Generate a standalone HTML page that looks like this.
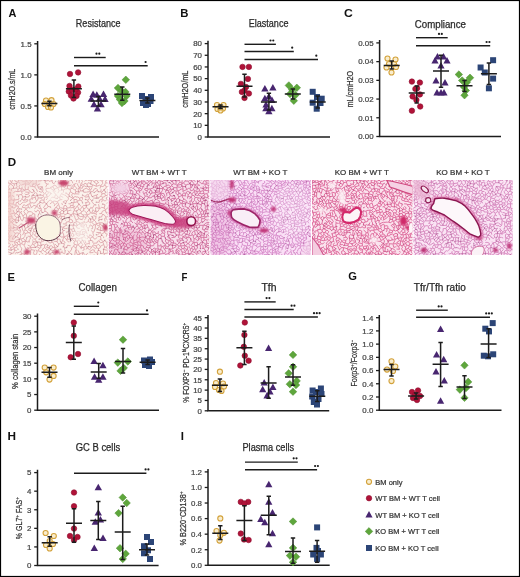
<!DOCTYPE html>
<html><head><meta charset="utf-8"><style>
html,body{margin:0;padding:0;background:#fff;}
svg{display:block;will-change:transform;}
text{font-family:"Liberation Sans", sans-serif;}
</style></head><body>
<svg width="520" height="577" viewBox="0 0 520 577" font-family='"Liberation Sans", sans-serif'>
<rect x="0.5" y="0.5" width="519" height="576" fill="#fff" stroke="#000" stroke-width="1.2"/>
<path d="M37.6,41.0V137H159" fill="none" stroke="#1c1c1c" stroke-width="1.5"/>
<path d="M34.3,43.80H37.6" stroke="#1c1c1c" stroke-width="1.3"/>
<text x="31.6" y="46.65" font-size="7.9" text-anchor="end" font-weight="normal" fill="#444444" stroke="#444444" stroke-width="0.22" >1.5</text>
<path d="M34.3,74.87H37.6" stroke="#1c1c1c" stroke-width="1.3"/>
<text x="31.6" y="77.72" font-size="7.9" text-anchor="end" font-weight="normal" fill="#444444" stroke="#444444" stroke-width="0.22" >1.0</text>
<path d="M34.3,105.93H37.6" stroke="#1c1c1c" stroke-width="1.3"/>
<text x="31.6" y="108.78" font-size="7.9" text-anchor="end" font-weight="normal" fill="#444444" stroke="#444444" stroke-width="0.22" >0.5</text>
<path d="M34.3,137.00H37.6" stroke="#1c1c1c" stroke-width="1.3"/>
<text x="31.6" y="139.85" font-size="7.9" text-anchor="end" font-weight="normal" fill="#444444" stroke="#444444" stroke-width="0.22" >0.0</text>
<text transform="translate(14.7,89.3) rotate(-90)" x="0" y="0" font-size="8.3" text-anchor="middle" fill="#333" stroke="#333" stroke-width="0.22" textLength="41.0" lengthAdjust="spacingAndGlyphs">cmH2O.s/mL</text>
<text x="98.2" y="27" font-size="10" text-anchor="middle" fill="#2a2a2a" stroke="#2a2a2a" stroke-width="0.25" textLength="44.7" lengthAdjust="spacingAndGlyphs">Resistance</text>
<text x="8.4" y="16.9" font-size="10.2" font-weight="bold" fill="#111" textLength="7.9" lengthAdjust="spacingAndGlyphs">A</text>
<circle cx="46.0" cy="100.5" r="2.55" fill="#f3dc9c" fill-opacity="0.5" stroke="#d3a23c" stroke-width="1.1"/>
<circle cx="51.5" cy="100.2" r="2.55" fill="#f3dc9c" fill-opacity="0.5" stroke="#d3a23c" stroke-width="1.1"/>
<circle cx="44.8" cy="104.0" r="2.55" fill="#f3dc9c" fill-opacity="0.5" stroke="#d3a23c" stroke-width="1.1"/>
<circle cx="53.5" cy="104.0" r="2.55" fill="#f3dc9c" fill-opacity="0.5" stroke="#d3a23c" stroke-width="1.1"/>
<circle cx="48.0" cy="107.0" r="2.55" fill="#f3dc9c" fill-opacity="0.5" stroke="#d3a23c" stroke-width="1.1"/>
<circle cx="51.0" cy="107.5" r="2.55" fill="#f3dc9c" fill-opacity="0.5" stroke="#d3a23c" stroke-width="1.1"/>
<circle cx="70.0" cy="74.0" r="2.75" fill="#b01338" stroke="#8e0e30" stroke-width="0.6"/>
<circle cx="78.1" cy="72.4" r="2.75" fill="#b01338" stroke="#8e0e30" stroke-width="0.6"/>
<circle cx="69.5" cy="86.0" r="2.75" fill="#b01338" stroke="#8e0e30" stroke-width="0.6"/>
<circle cx="78.3" cy="86.5" r="2.75" fill="#b01338" stroke="#8e0e30" stroke-width="0.6"/>
<circle cx="68.8" cy="91.5" r="2.75" fill="#b01338" stroke="#8e0e30" stroke-width="0.6"/>
<circle cx="78.0" cy="92.5" r="2.75" fill="#b01338" stroke="#8e0e30" stroke-width="0.6"/>
<circle cx="71.0" cy="95.5" r="2.75" fill="#b01338" stroke="#8e0e30" stroke-width="0.6"/>
<circle cx="76.5" cy="96.0" r="2.75" fill="#b01338" stroke="#8e0e30" stroke-width="0.6"/>
<circle cx="73.5" cy="98.5" r="2.75" fill="#b01338" stroke="#8e0e30" stroke-width="0.6"/>
<circle cx="72.0" cy="90.0" r="2.75" fill="#b01338" stroke="#8e0e30" stroke-width="0.6"/>
<circle cx="75.5" cy="89.5" r="2.75" fill="#b01338" stroke="#8e0e30" stroke-width="0.6"/>
<path d="M93.1,90.5L96.8,97.0L89.4,97.0Z" fill="#482670"/>
<path d="M96.8,91.3L100.5,97.8L93.1,97.8Z" fill="#482670"/>
<path d="M103.5,90.5L107.2,97.0L99.8,97.0Z" fill="#482670"/>
<path d="M91.3,95.3L95.0,101.8L87.6,101.8Z" fill="#482670"/>
<path d="M99.5,95.1L103.2,101.6L95.8,101.6Z" fill="#482670"/>
<path d="M105.0,95.6L108.7,102.1L101.3,102.1Z" fill="#482670"/>
<path d="M94.0,100.7L97.7,107.2L90.3,107.2Z" fill="#482670"/>
<path d="M101.0,100.7L104.7,107.2L97.3,107.2Z" fill="#482670"/>
<path d="M97.4,105.0L101.1,111.5L93.8,111.5Z" fill="#482670"/>
<path d="M125.8,76.0L129.6,79.8L125.8,83.5L122.0,79.8Z" fill="#5ea63c" stroke="#4e8e32" stroke-width="0.5"/>
<path d="M118.0,84.2L121.8,88.0L118.0,91.8L114.2,88.0Z" fill="#5ea63c" stroke="#4e8e32" stroke-width="0.5"/>
<path d="M121.5,87.2L125.2,91.0L121.5,94.8L117.8,91.0Z" fill="#5ea63c" stroke="#4e8e32" stroke-width="0.5"/>
<path d="M125.5,88.2L129.2,92.0L125.5,95.8L121.8,92.0Z" fill="#5ea63c" stroke="#4e8e32" stroke-width="0.5"/>
<path d="M118.0,92.2L121.8,96.0L118.0,99.8L114.2,96.0Z" fill="#5ea63c" stroke="#4e8e32" stroke-width="0.5"/>
<path d="M126.5,92.2L130.2,96.0L126.5,99.8L122.8,96.0Z" fill="#5ea63c" stroke="#4e8e32" stroke-width="0.5"/>
<path d="M120.0,95.8L123.8,99.5L120.0,103.2L116.2,99.5Z" fill="#5ea63c" stroke="#4e8e32" stroke-width="0.5"/>
<path d="M124.5,97.2L128.2,101.0L124.5,104.8L120.8,101.0Z" fill="#5ea63c" stroke="#4e8e32" stroke-width="0.5"/>
<path d="M122.0,99.2L125.8,103.0L122.0,106.8L118.2,103.0Z" fill="#5ea63c" stroke="#4e8e32" stroke-width="0.5"/>
<rect x="139.0" y="93.0" width="6.0" height="6.0" fill="#2c4577"/>
<rect x="148.0" y="94.0" width="6.0" height="6.0" fill="#2c4577"/>
<rect x="142.5" y="96.0" width="6.0" height="6.0" fill="#2c4577"/>
<rect x="147.5" y="98.0" width="6.0" height="6.0" fill="#2c4577"/>
<rect x="140.0" y="100.0" width="6.0" height="6.0" fill="#2c4577"/>
<rect x="145.0" y="101.0" width="6.0" height="6.0" fill="#2c4577"/>
<rect x="143.0" y="102.0" width="6.0" height="6.0" fill="#2c4577"/>
<path d="M41.4,103.6H57.4M49.4,101.3V105.8M47.2,101.3H51.6M47.2,105.8H51.6" stroke="#1c1c1c" stroke-width="1.5" fill="none"/>
<path d="M65.9,88.7H81.9M73.9,80V97.5M71.7,80H76.1M71.7,97.5H76.1" stroke="#1c1c1c" stroke-width="1.5" fill="none"/>
<path d="M90.4,100.9H106.4M98.4,96.5V106M96.2,96.5H100.6M96.2,106H100.6" stroke="#1c1c1c" stroke-width="1.5" fill="none"/>
<path d="M114.3,94.2H130.3M122.3,87V100.2M120.1,87H124.5M120.1,100.2H124.5" stroke="#1c1c1c" stroke-width="1.5" fill="none"/>
<path d="M139.4,100.6H155.4M147.4,98V103M145.2,98H149.6M145.2,103H149.6" stroke="#1c1c1c" stroke-width="1.5" fill="none"/>
<path d="M74,57.5H105.7" stroke="#1c1c1c" stroke-width="1.4"/>
<circle cx="96.5" cy="53.7" r="1.1" fill="#1c1c1c"/>
<circle cx="99.3" cy="53.7" r="1.1" fill="#1c1c1c"/>
<path d="M74,65.8H147.7" stroke="#1c1c1c" stroke-width="1.4"/>
<circle cx="145.6" cy="62.0" r="1.1" fill="#1c1c1c"/>
<path d="M208,40.800000000000004V137H330" fill="none" stroke="#1c1c1c" stroke-width="1.5"/>
<path d="M204.7,43.60H208" stroke="#1c1c1c" stroke-width="1.3"/>
<text x="202.0" y="46.45" font-size="7.9" text-anchor="end" font-weight="normal" fill="#444444" stroke="#444444" stroke-width="0.22" >80</text>
<path d="M204.7,55.28H208" stroke="#1c1c1c" stroke-width="1.3"/>
<text x="202.0" y="58.13" font-size="7.9" text-anchor="end" font-weight="normal" fill="#444444" stroke="#444444" stroke-width="0.22" >70</text>
<path d="M204.7,66.95H208" stroke="#1c1c1c" stroke-width="1.3"/>
<text x="202.0" y="69.80" font-size="7.9" text-anchor="end" font-weight="normal" fill="#444444" stroke="#444444" stroke-width="0.22" >60</text>
<path d="M204.7,78.62H208" stroke="#1c1c1c" stroke-width="1.3"/>
<text x="202.0" y="81.47" font-size="7.9" text-anchor="end" font-weight="normal" fill="#444444" stroke="#444444" stroke-width="0.22" >50</text>
<path d="M204.7,90.30H208" stroke="#1c1c1c" stroke-width="1.3"/>
<text x="202.0" y="93.15" font-size="7.9" text-anchor="end" font-weight="normal" fill="#444444" stroke="#444444" stroke-width="0.22" >40</text>
<path d="M204.7,101.97H208" stroke="#1c1c1c" stroke-width="1.3"/>
<text x="202.0" y="104.82" font-size="7.9" text-anchor="end" font-weight="normal" fill="#444444" stroke="#444444" stroke-width="0.22" >30</text>
<path d="M204.7,113.65H208" stroke="#1c1c1c" stroke-width="1.3"/>
<text x="202.0" y="116.50" font-size="7.9" text-anchor="end" font-weight="normal" fill="#444444" stroke="#444444" stroke-width="0.22" >20</text>
<path d="M204.7,125.33H208" stroke="#1c1c1c" stroke-width="1.3"/>
<text x="202.0" y="128.18" font-size="7.9" text-anchor="end" font-weight="normal" fill="#444444" stroke="#444444" stroke-width="0.22" >10</text>
<path d="M204.7,137.00H208" stroke="#1c1c1c" stroke-width="1.3"/>
<text x="202.0" y="139.85" font-size="7.9" text-anchor="end" font-weight="normal" fill="#444444" stroke="#444444" stroke-width="0.22" >0</text>
<text transform="translate(187.8,89.1) rotate(-90)" x="0" y="0" font-size="8.3" text-anchor="middle" fill="#333" stroke="#333" stroke-width="0.22" textLength="37.1" lengthAdjust="spacingAndGlyphs">cmH2O/mL</text>
<text x="268.6" y="26.8" font-size="10" text-anchor="middle" fill="#2a2a2a" stroke="#2a2a2a" stroke-width="0.25" textLength="39.7" lengthAdjust="spacingAndGlyphs">Elastance</text>
<text x="180.3" y="16.6" font-size="10.2" font-weight="bold" fill="#111" textLength="8.2" lengthAdjust="spacingAndGlyphs">B</text>
<circle cx="217.0" cy="105.0" r="2.55" fill="#f3dc9c" fill-opacity="0.5" stroke="#d3a23c" stroke-width="1.1"/>
<circle cx="223.5" cy="105.0" r="2.55" fill="#f3dc9c" fill-opacity="0.5" stroke="#d3a23c" stroke-width="1.1"/>
<circle cx="220.0" cy="107.5" r="2.55" fill="#f3dc9c" fill-opacity="0.5" stroke="#d3a23c" stroke-width="1.1"/>
<circle cx="217.5" cy="109.0" r="2.55" fill="#f3dc9c" fill-opacity="0.5" stroke="#d3a23c" stroke-width="1.1"/>
<circle cx="223.0" cy="108.5" r="2.55" fill="#f3dc9c" fill-opacity="0.5" stroke="#d3a23c" stroke-width="1.1"/>
<circle cx="220.5" cy="110.5" r="2.55" fill="#f3dc9c" fill-opacity="0.5" stroke="#d3a23c" stroke-width="1.1"/>
<circle cx="242.5" cy="66.9" r="2.75" fill="#b01338" stroke="#8e0e30" stroke-width="0.6"/>
<circle cx="248.9" cy="66.9" r="2.75" fill="#b01338" stroke="#8e0e30" stroke-width="0.6"/>
<circle cx="247.9" cy="78.9" r="2.75" fill="#b01338" stroke="#8e0e30" stroke-width="0.6"/>
<circle cx="240.9" cy="83.9" r="2.75" fill="#b01338" stroke="#8e0e30" stroke-width="0.6"/>
<circle cx="246.0" cy="87.0" r="2.75" fill="#b01338" stroke="#8e0e30" stroke-width="0.6"/>
<circle cx="241.9" cy="91.9" r="2.75" fill="#b01338" stroke="#8e0e30" stroke-width="0.6"/>
<circle cx="248.9" cy="93.5" r="2.75" fill="#b01338" stroke="#8e0e30" stroke-width="0.6"/>
<circle cx="244.5" cy="97.9" r="2.75" fill="#b01338" stroke="#8e0e30" stroke-width="0.6"/>
<circle cx="244.5" cy="90.5" r="2.75" fill="#b01338" stroke="#8e0e30" stroke-width="0.6"/>
<path d="M264.9,84.9L268.5,91.4L261.2,91.4Z" fill="#482670"/>
<path d="M272.9,83.9L276.5,90.4L269.2,90.4Z" fill="#482670"/>
<path d="M264.9,94.8L268.5,101.3L261.2,101.3Z" fill="#482670"/>
<path d="M268.9,92.8L272.5,99.3L265.2,99.3Z" fill="#482670"/>
<path d="M272.0,96.6L275.6,103.1L268.4,103.1Z" fill="#482670"/>
<path d="M265.9,104.8L269.5,111.3L262.2,111.3Z" fill="#482670"/>
<path d="M271.9,104.8L275.5,111.3L268.2,111.3Z" fill="#482670"/>
<path d="M268.9,107.8L272.5,114.3L265.2,114.3Z" fill="#482670"/>
<path d="M266.0,101.1L269.6,107.6L262.4,107.6Z" fill="#482670"/>
<path d="M288.8,81.7L292.6,85.4L288.8,89.2L285.1,85.4Z" fill="#5ea63c" stroke="#4e8e32" stroke-width="0.5"/>
<path d="M296.8,84.0L300.6,87.8L296.8,91.5L293.1,87.8Z" fill="#5ea63c" stroke="#4e8e32" stroke-width="0.5"/>
<path d="M292.2,86.0L295.9,89.8L292.2,93.5L288.4,89.8Z" fill="#5ea63c" stroke="#4e8e32" stroke-width="0.5"/>
<path d="M290.0,90.2L293.8,94.0L290.0,97.8L286.2,94.0Z" fill="#5ea63c" stroke="#4e8e32" stroke-width="0.5"/>
<path d="M295.5,91.2L299.2,95.0L295.5,98.8L291.8,95.0Z" fill="#5ea63c" stroke="#4e8e32" stroke-width="0.5"/>
<path d="M293.8,97.0L297.6,100.7L293.8,104.5L290.1,100.7Z" fill="#5ea63c" stroke="#4e8e32" stroke-width="0.5"/>
<rect x="309.7" y="88.8" width="6.0" height="6.0" fill="#2c4577"/>
<rect x="318.7" y="95.7" width="6.0" height="6.0" fill="#2c4577"/>
<rect x="309.7" y="99.7" width="6.0" height="6.0" fill="#2c4577"/>
<rect x="313.7" y="105.7" width="6.0" height="6.0" fill="#2c4577"/>
<rect x="317.5" y="100.0" width="6.0" height="6.0" fill="#2c4577"/>
<rect x="314.0" y="94.0" width="6.0" height="6.0" fill="#2c4577"/>
<path d="M212.5,106.8H228.5M220.5,105V108.5M218.3,105H222.7M218.3,108.5H222.7" stroke="#1c1c1c" stroke-width="1.5" fill="none"/>
<path d="M236.5,86.3H252.5M244.5,74.3V97M242.3,74.3H246.7M242.3,97H246.7" stroke="#1c1c1c" stroke-width="1.5" fill="none"/>
<path d="M260.9,102.1H276.9M268.9,93.3V110M266.7,93.3H271.1M266.7,110H271.1" stroke="#1c1c1c" stroke-width="1.5" fill="none"/>
<path d="M284.8,94.1H300.8M292.8,89V99M290.6,89H295.0M290.6,99H295.0" stroke="#1c1c1c" stroke-width="1.5" fill="none"/>
<path d="M309.7,102.1H325.7M317.7,96V108M315.5,96H319.9M315.5,108H319.9" stroke="#1c1c1c" stroke-width="1.5" fill="none"/>
<path d="M244.5,44.3H275.9" stroke="#1c1c1c" stroke-width="1.4"/>
<circle cx="270.5" cy="40.5" r="1.1" fill="#1c1c1c"/>
<circle cx="273.3" cy="40.5" r="1.1" fill="#1c1c1c"/>
<path d="M244.5,51.5H293.8" stroke="#1c1c1c" stroke-width="1.4"/>
<circle cx="292.2" cy="47.7" r="1.1" fill="#1c1c1c"/>
<path d="M244.5,59.5H318" stroke="#1c1c1c" stroke-width="1.4"/>
<circle cx="316.3" cy="55.7" r="1.1" fill="#1c1c1c"/>
<path d="M379.6,40.1V136.5H501" fill="none" stroke="#1c1c1c" stroke-width="1.5"/>
<path d="M376.3,42.90H379.6" stroke="#1c1c1c" stroke-width="1.3"/>
<text x="373.6" y="45.75" font-size="7.9" text-anchor="end" font-weight="normal" fill="#444444" stroke="#444444" stroke-width="0.22" >0.05</text>
<path d="M376.3,61.62H379.6" stroke="#1c1c1c" stroke-width="1.3"/>
<text x="373.6" y="64.47" font-size="7.9" text-anchor="end" font-weight="normal" fill="#444444" stroke="#444444" stroke-width="0.22" >0.04</text>
<path d="M376.3,80.34H379.6" stroke="#1c1c1c" stroke-width="1.3"/>
<text x="373.6" y="83.19" font-size="7.9" text-anchor="end" font-weight="normal" fill="#444444" stroke="#444444" stroke-width="0.22" >0.03</text>
<path d="M376.3,99.06H379.6" stroke="#1c1c1c" stroke-width="1.3"/>
<text x="373.6" y="101.91" font-size="7.9" text-anchor="end" font-weight="normal" fill="#444444" stroke="#444444" stroke-width="0.22" >0.02</text>
<path d="M376.3,117.78H379.6" stroke="#1c1c1c" stroke-width="1.3"/>
<text x="373.6" y="120.63" font-size="7.9" text-anchor="end" font-weight="normal" fill="#444444" stroke="#444444" stroke-width="0.22" >0.01</text>
<path d="M376.3,136.50H379.6" stroke="#1c1c1c" stroke-width="1.3"/>
<text x="373.6" y="139.35" font-size="7.9" text-anchor="end" font-weight="normal" fill="#444444" stroke="#444444" stroke-width="0.22" >0.00</text>
<text transform="translate(353.0,89.2) rotate(-90)" x="0" y="0" font-size="8.3" text-anchor="middle" fill="#333" stroke="#333" stroke-width="0.22" textLength="36.7" lengthAdjust="spacingAndGlyphs">mL/cmH2O</text>
<text x="440.4" y="27.5" font-size="10" text-anchor="middle" fill="#2a2a2a" stroke="#2a2a2a" stroke-width="0.25" textLength="51.2" lengthAdjust="spacingAndGlyphs">Compliance</text>
<text x="344.1" y="16.9" font-size="10.2" font-weight="bold" fill="#111" textLength="8.8" lengthAdjust="spacingAndGlyphs">C</text>
<circle cx="387.5" cy="58.5" r="2.55" fill="#f3dc9c" fill-opacity="0.5" stroke="#d3a23c" stroke-width="1.1"/>
<circle cx="395.5" cy="59.5" r="2.55" fill="#f3dc9c" fill-opacity="0.5" stroke="#d3a23c" stroke-width="1.1"/>
<circle cx="389.0" cy="64.0" r="2.55" fill="#f3dc9c" fill-opacity="0.5" stroke="#d3a23c" stroke-width="1.1"/>
<circle cx="394.0" cy="64.0" r="2.55" fill="#f3dc9c" fill-opacity="0.5" stroke="#d3a23c" stroke-width="1.1"/>
<circle cx="386.5" cy="67.5" r="2.55" fill="#f3dc9c" fill-opacity="0.5" stroke="#d3a23c" stroke-width="1.1"/>
<circle cx="396.0" cy="67.0" r="2.55" fill="#f3dc9c" fill-opacity="0.5" stroke="#d3a23c" stroke-width="1.1"/>
<circle cx="391.5" cy="72.5" r="2.55" fill="#f3dc9c" fill-opacity="0.5" stroke="#d3a23c" stroke-width="1.1"/>
<circle cx="411.9" cy="81.6" r="2.75" fill="#b01338" stroke="#8e0e30" stroke-width="0.6"/>
<circle cx="419.9" cy="82.6" r="2.75" fill="#b01338" stroke="#8e0e30" stroke-width="0.6"/>
<circle cx="417.1" cy="88.2" r="2.75" fill="#b01338" stroke="#8e0e30" stroke-width="0.6"/>
<circle cx="415.4" cy="88.9" r="2.75" fill="#b01338" stroke="#8e0e30" stroke-width="0.6"/>
<circle cx="412.6" cy="96.5" r="2.75" fill="#b01338" stroke="#8e0e30" stroke-width="0.6"/>
<circle cx="419.9" cy="94.4" r="2.75" fill="#b01338" stroke="#8e0e30" stroke-width="0.6"/>
<circle cx="416.4" cy="99.9" r="2.75" fill="#b01338" stroke="#8e0e30" stroke-width="0.6"/>
<circle cx="420.2" cy="106.5" r="2.75" fill="#b01338" stroke="#8e0e30" stroke-width="0.6"/>
<circle cx="411.9" cy="110.7" r="2.75" fill="#b01338" stroke="#8e0e30" stroke-width="0.6"/>
<path d="M437.5,53.1L441.1,59.6L433.9,59.6Z" fill="#482670"/>
<path d="M443.5,53.1L447.1,59.6L439.9,59.6Z" fill="#482670"/>
<path d="M435.0,57.1L438.6,63.6L431.4,63.6Z" fill="#482670"/>
<path d="M447.0,57.1L450.6,63.6L443.4,63.6Z" fill="#482670"/>
<path d="M441.0,62.1L444.6,68.6L437.4,68.6Z" fill="#482670"/>
<path d="M436.0,77.1L439.6,83.6L432.4,83.6Z" fill="#482670"/>
<path d="M445.0,79.1L448.6,85.6L441.4,85.6Z" fill="#482670"/>
<path d="M437.0,89.1L440.6,95.6L433.4,95.6Z" fill="#482670"/>
<path d="M441.0,89.1L444.6,95.6L437.4,95.6Z" fill="#482670"/>
<path d="M444.0,89.1L447.6,95.6L440.4,95.6Z" fill="#482670"/>
<path d="M458.9,70.8L462.6,74.5L458.9,78.2L455.1,74.5Z" fill="#5ea63c" stroke="#4e8e32" stroke-width="0.5"/>
<path d="M470.0,74.0L473.8,77.7L470.0,81.5L466.2,77.7Z" fill="#5ea63c" stroke="#4e8e32" stroke-width="0.5"/>
<path d="M462.2,76.8L465.9,80.5L462.2,84.2L458.4,80.5Z" fill="#5ea63c" stroke="#4e8e32" stroke-width="0.5"/>
<path d="M466.8,78.5L470.6,82.3L466.8,86.0L463.1,82.3Z" fill="#5ea63c" stroke="#4e8e32" stroke-width="0.5"/>
<path d="M464.0,83.2L467.8,86.9L464.0,90.7L460.2,86.9Z" fill="#5ea63c" stroke="#4e8e32" stroke-width="0.5"/>
<path d="M465.8,86.8L469.6,90.6L465.8,94.3L462.1,90.6Z" fill="#5ea63c" stroke="#4e8e32" stroke-width="0.5"/>
<path d="M464.5,91.5L468.2,95.2L464.5,99.0L460.8,95.2Z" fill="#5ea63c" stroke="#4e8e32" stroke-width="0.5"/>
<rect x="490.1" y="57.2" width="6.0" height="6.0" fill="#2c4577"/>
<rect x="477.6" y="64.5" width="6.0" height="6.0" fill="#2c4577"/>
<rect x="481.8" y="69.5" width="6.0" height="6.0" fill="#2c4577"/>
<rect x="490.1" y="75.6" width="6.0" height="6.0" fill="#2c4577"/>
<rect x="485.9" y="85.3" width="6.0" height="6.0" fill="#2c4577"/>
<path d="M383.7,65.4H399.7M391.7,61V69M389.5,61H393.9M389.5,69H393.9" stroke="#1c1c1c" stroke-width="1.5" fill="none"/>
<path d="M408.7,93.1H424.7M416.7,86V103M414.5,86H418.9M414.5,103H418.9" stroke="#1c1c1c" stroke-width="1.5" fill="none"/>
<path d="M433.0,71.1H449.0M441,55.2V87.3M438.8,55.2H443.2M438.8,87.3H443.2" stroke="#1c1c1c" stroke-width="1.5" fill="none"/>
<path d="M456.5,85.8H472.5M464.5,80.5V91.5M462.3,80.5H466.7M462.3,91.5H466.7" stroke="#1c1c1c" stroke-width="1.5" fill="none"/>
<path d="M480.9,73.8H496.9M488.9,62.9V84.6M486.7,62.9H491.1M486.7,84.6H491.1" stroke="#1c1c1c" stroke-width="1.5" fill="none"/>
<path d="M416,37.7H447.7" stroke="#1c1c1c" stroke-width="1.4"/>
<circle cx="439.0" cy="33.9" r="1.1" fill="#1c1c1c"/>
<circle cx="441.8" cy="33.9" r="1.1" fill="#1c1c1c"/>
<path d="M416,45.8H490.2" stroke="#1c1c1c" stroke-width="1.4"/>
<circle cx="486.6" cy="42.0" r="1.1" fill="#1c1c1c"/>
<circle cx="489.4" cy="42.0" r="1.1" fill="#1c1c1c"/>
<path d="M37.5,313.4V410.2H159" fill="none" stroke="#1c1c1c" stroke-width="1.5"/>
<path d="M34.2,316.20H37.5" stroke="#1c1c1c" stroke-width="1.3"/>
<text x="31.5" y="319.05" font-size="7.9" text-anchor="end" font-weight="normal" fill="#444444" stroke="#444444" stroke-width="0.22" >30</text>
<path d="M34.2,331.87H37.5" stroke="#1c1c1c" stroke-width="1.3"/>
<text x="31.5" y="334.72" font-size="7.9" text-anchor="end" font-weight="normal" fill="#444444" stroke="#444444" stroke-width="0.22" >25</text>
<path d="M34.2,347.53H37.5" stroke="#1c1c1c" stroke-width="1.3"/>
<text x="31.5" y="350.38" font-size="7.9" text-anchor="end" font-weight="normal" fill="#444444" stroke="#444444" stroke-width="0.22" >20</text>
<path d="M34.2,363.20H37.5" stroke="#1c1c1c" stroke-width="1.3"/>
<text x="31.5" y="366.05" font-size="7.9" text-anchor="end" font-weight="normal" fill="#444444" stroke="#444444" stroke-width="0.22" >15</text>
<path d="M34.2,378.87H37.5" stroke="#1c1c1c" stroke-width="1.3"/>
<text x="31.5" y="381.72" font-size="7.9" text-anchor="end" font-weight="normal" fill="#444444" stroke="#444444" stroke-width="0.22" >10</text>
<path d="M34.2,394.53H37.5" stroke="#1c1c1c" stroke-width="1.3"/>
<text x="31.5" y="397.38" font-size="7.9" text-anchor="end" font-weight="normal" fill="#444444" stroke="#444444" stroke-width="0.22" >5</text>
<path d="M34.2,410.20H37.5" stroke="#1c1c1c" stroke-width="1.3"/>
<text x="31.5" y="413.05" font-size="7.9" text-anchor="end" font-weight="normal" fill="#444444" stroke="#444444" stroke-width="0.22" >0</text>
<text transform="translate(18.3,361.3) rotate(-90)" x="0" y="0" font-size="8.3" text-anchor="middle" fill="#333" stroke="#333" stroke-width="0.22" textLength="55.2" lengthAdjust="spacingAndGlyphs">% collagen stain</text>
<text x="97.7" y="291" font-size="10" text-anchor="middle" fill="#2a2a2a" stroke="#2a2a2a" stroke-width="0.25" textLength="38.6" lengthAdjust="spacingAndGlyphs">Collagen</text>
<text x="7.5" y="280.7" font-size="10.2" font-weight="bold" fill="#111" textLength="7.5" lengthAdjust="spacingAndGlyphs">E</text>
<circle cx="44.7" cy="367.6" r="2.55" fill="#f3dc9c" fill-opacity="0.5" stroke="#d3a23c" stroke-width="1.1"/>
<circle cx="53.6" cy="367.6" r="2.55" fill="#f3dc9c" fill-opacity="0.5" stroke="#d3a23c" stroke-width="1.1"/>
<circle cx="46.2" cy="372.3" r="2.55" fill="#f3dc9c" fill-opacity="0.5" stroke="#d3a23c" stroke-width="1.1"/>
<circle cx="53.6" cy="375.9" r="2.55" fill="#f3dc9c" fill-opacity="0.5" stroke="#d3a23c" stroke-width="1.1"/>
<circle cx="49.5" cy="379.6" r="2.55" fill="#f3dc9c" fill-opacity="0.5" stroke="#d3a23c" stroke-width="1.1"/>
<circle cx="73.8" cy="322.5" r="2.75" fill="#b01338" stroke="#8e0e30" stroke-width="0.6"/>
<circle cx="73.8" cy="335.8" r="2.75" fill="#b01338" stroke="#8e0e30" stroke-width="0.6"/>
<circle cx="70.7" cy="357.2" r="2.75" fill="#b01338" stroke="#8e0e30" stroke-width="0.6"/>
<circle cx="78.0" cy="354.0" r="2.75" fill="#b01338" stroke="#8e0e30" stroke-width="0.6"/>
<path d="M94.1,357.6L97.8,364.1L90.4,364.1Z" fill="#482670"/>
<path d="M102.9,361.7L106.6,368.2L99.2,368.2Z" fill="#482670"/>
<path d="M94.6,373.2L98.2,379.7L90.9,379.7Z" fill="#482670"/>
<path d="M102.9,373.2L106.6,379.7L99.2,379.7Z" fill="#482670"/>
<path d="M98.7,376.3L102.4,382.8L95.0,382.8Z" fill="#482670"/>
<path d="M123.0,335.9L126.8,339.7L123.0,343.4L119.2,339.7Z" fill="#5ea63c" stroke="#4e8e32" stroke-width="0.5"/>
<path d="M117.8,358.9L121.5,362.6L117.8,366.4L114.0,362.6Z" fill="#5ea63c" stroke="#4e8e32" stroke-width="0.5"/>
<path d="M127.8,357.8L131.6,361.5L127.8,365.2L124.0,361.5Z" fill="#5ea63c" stroke="#4e8e32" stroke-width="0.5"/>
<path d="M120.5,367.1L124.2,370.9L120.5,374.6L116.8,370.9Z" fill="#5ea63c" stroke="#4e8e32" stroke-width="0.5"/>
<path d="M123.7,364.2L127.5,368.0L123.7,371.8L120.0,368.0Z" fill="#5ea63c" stroke="#4e8e32" stroke-width="0.5"/>
<rect x="141.0" y="357.5" width="6.0" height="6.0" fill="#2c4577"/>
<rect x="147.0" y="356.5" width="6.0" height="6.0" fill="#2c4577"/>
<rect x="143.0" y="360.0" width="6.0" height="6.0" fill="#2c4577"/>
<rect x="149.0" y="359.0" width="6.0" height="6.0" fill="#2c4577"/>
<rect x="142.0" y="362.0" width="6.0" height="6.0" fill="#2c4577"/>
<rect x="146.0" y="363.0" width="6.0" height="6.0" fill="#2c4577"/>
<path d="M41.5,372.3H57.5M49.5,367.6V377.3M47.3,367.6H51.7M47.3,377.3H51.7" stroke="#1c1c1c" stroke-width="1.5" fill="none"/>
<path d="M65.8,342.6H81.8M73.8,326V359.3M71.6,326H76.0M71.6,359.3H76.0" stroke="#1c1c1c" stroke-width="1.5" fill="none"/>
<path d="M90.7,371.9H106.7M98.7,363.6V378.2M96.5,363.6H100.9M96.5,378.2H100.9" stroke="#1c1c1c" stroke-width="1.5" fill="none"/>
<path d="M115.0,361.5H131.0M123,348.6V373M120.8,348.6H125.2M120.8,373H125.2" stroke="#1c1c1c" stroke-width="1.5" fill="none"/>
<path d="M139.6,362.2H155.6M147.6,360V364.5M145.4,360H149.8M145.4,364.5H149.8" stroke="#1c1c1c" stroke-width="1.5" fill="none"/>
<path d="M73.8,306.3H99.1" stroke="#1c1c1c" stroke-width="1.4"/>
<circle cx="98.3" cy="302.5" r="1.1" fill="#1c1c1c"/>
<path d="M73.8,314.2H148.6" stroke="#1c1c1c" stroke-width="1.4"/>
<circle cx="147.0" cy="310.4" r="1.1" fill="#1c1c1c"/>
<path d="M208,314.9V410.8H329.2" fill="none" stroke="#1c1c1c" stroke-width="1.5"/>
<path d="M204.7,317.70H208" stroke="#1c1c1c" stroke-width="1.3"/>
<text x="202.0" y="320.55" font-size="7.9" text-anchor="end" font-weight="normal" fill="#444444" stroke="#444444" stroke-width="0.22" >45</text>
<path d="M204.7,328.04H208" stroke="#1c1c1c" stroke-width="1.3"/>
<text x="202.0" y="330.89" font-size="7.9" text-anchor="end" font-weight="normal" fill="#444444" stroke="#444444" stroke-width="0.22" >40</text>
<path d="M204.7,338.39H208" stroke="#1c1c1c" stroke-width="1.3"/>
<text x="202.0" y="341.24" font-size="7.9" text-anchor="end" font-weight="normal" fill="#444444" stroke="#444444" stroke-width="0.22" >35</text>
<path d="M204.7,348.73H208" stroke="#1c1c1c" stroke-width="1.3"/>
<text x="202.0" y="351.58" font-size="7.9" text-anchor="end" font-weight="normal" fill="#444444" stroke="#444444" stroke-width="0.22" >30</text>
<path d="M204.7,359.08H208" stroke="#1c1c1c" stroke-width="1.3"/>
<text x="202.0" y="361.93" font-size="7.9" text-anchor="end" font-weight="normal" fill="#444444" stroke="#444444" stroke-width="0.22" >25</text>
<path d="M204.7,369.42H208" stroke="#1c1c1c" stroke-width="1.3"/>
<text x="202.0" y="372.27" font-size="7.9" text-anchor="end" font-weight="normal" fill="#444444" stroke="#444444" stroke-width="0.22" >20</text>
<path d="M204.7,379.77H208" stroke="#1c1c1c" stroke-width="1.3"/>
<text x="202.0" y="382.62" font-size="7.9" text-anchor="end" font-weight="normal" fill="#444444" stroke="#444444" stroke-width="0.22" >15</text>
<path d="M204.7,390.11H208" stroke="#1c1c1c" stroke-width="1.3"/>
<text x="202.0" y="392.96" font-size="7.9" text-anchor="end" font-weight="normal" fill="#444444" stroke="#444444" stroke-width="0.22" >10</text>
<path d="M204.7,400.46H208" stroke="#1c1c1c" stroke-width="1.3"/>
<text x="202.0" y="403.31" font-size="7.9" text-anchor="end" font-weight="normal" fill="#444444" stroke="#444444" stroke-width="0.22" >5</text>
<path d="M204.7,410.80H208" stroke="#1c1c1c" stroke-width="1.3"/>
<text x="202.0" y="413.65" font-size="7.9" text-anchor="end" font-weight="normal" fill="#444444" stroke="#444444" stroke-width="0.22" >0</text>
<text transform="translate(188.5,362.8) rotate(-90)" x="0" y="0" font-size="8.3" text-anchor="middle" fill="#333" stroke="#333" stroke-width="0.22" textLength="80.1" lengthAdjust="spacingAndGlyphs">% FOXP3<tspan font-size="5.5" dy="-2.5">−</tspan><tspan dy="2.5"> PD-1</tspan><tspan font-size="5.5" dy="-2.5">hi</tspan><tspan dy="2.5">CXCR5</tspan><tspan font-size="5.5" dy="-2.5">+</tspan></text>
<text x="269" y="291" font-size="10" text-anchor="middle" fill="#2a2a2a" stroke="#2a2a2a" stroke-width="0.25" textLength="15" lengthAdjust="spacingAndGlyphs">Tfh</text>
<text x="181.4" y="280.7" font-size="10.2" font-weight="bold" fill="#111" textLength="5.9" lengthAdjust="spacingAndGlyphs">F</text>
<circle cx="219.9" cy="371.7" r="2.55" fill="#f3dc9c" fill-opacity="0.5" stroke="#d3a23c" stroke-width="1.1"/>
<circle cx="216.0" cy="383.0" r="2.55" fill="#f3dc9c" fill-opacity="0.5" stroke="#d3a23c" stroke-width="1.1"/>
<circle cx="223.0" cy="383.5" r="2.55" fill="#f3dc9c" fill-opacity="0.5" stroke="#d3a23c" stroke-width="1.1"/>
<circle cx="215.0" cy="387.0" r="2.55" fill="#f3dc9c" fill-opacity="0.5" stroke="#d3a23c" stroke-width="1.1"/>
<circle cx="224.0" cy="386.5" r="2.55" fill="#f3dc9c" fill-opacity="0.5" stroke="#d3a23c" stroke-width="1.1"/>
<circle cx="219.0" cy="390.0" r="2.55" fill="#f3dc9c" fill-opacity="0.5" stroke="#d3a23c" stroke-width="1.1"/>
<circle cx="221.5" cy="391.0" r="2.55" fill="#f3dc9c" fill-opacity="0.5" stroke="#d3a23c" stroke-width="1.1"/>
<circle cx="244.8" cy="322.5" r="2.75" fill="#b01338" stroke="#8e0e30" stroke-width="0.6"/>
<circle cx="244.4" cy="334.9" r="2.75" fill="#b01338" stroke="#8e0e30" stroke-width="0.6"/>
<circle cx="243.8" cy="346.8" r="2.75" fill="#b01338" stroke="#8e0e30" stroke-width="0.6"/>
<circle cx="244.8" cy="355.7" r="2.75" fill="#b01338" stroke="#8e0e30" stroke-width="0.6"/>
<circle cx="248.6" cy="360.7" r="2.75" fill="#b01338" stroke="#8e0e30" stroke-width="0.6"/>
<circle cx="240.3" cy="365.5" r="2.75" fill="#b01338" stroke="#8e0e30" stroke-width="0.6"/>
<path d="M268.6,344.5L272.2,351.0L265.0,351.0Z" fill="#482670"/>
<path d="M264.2,379.1L267.8,385.6L260.6,385.6Z" fill="#482670"/>
<path d="M272.9,383.5L276.5,390.0L269.2,390.0Z" fill="#482670"/>
<path d="M262.7,385.7L266.3,392.2L259.1,392.2Z" fill="#482670"/>
<path d="M267.0,392.1L270.6,398.6L263.4,398.6Z" fill="#482670"/>
<path d="M270.0,388.1L273.6,394.6L266.4,394.6Z" fill="#482670"/>
<path d="M293.0,351.1L296.8,354.9L293.0,358.6L289.2,354.9Z" fill="#5ea63c" stroke="#4e8e32" stroke-width="0.5"/>
<path d="M293.0,363.1L296.8,366.8L293.0,370.6L289.2,366.8Z" fill="#5ea63c" stroke="#4e8e32" stroke-width="0.5"/>
<path d="M288.7,369.6L292.4,373.3L288.7,377.1L284.9,373.3Z" fill="#5ea63c" stroke="#4e8e32" stroke-width="0.5"/>
<path d="M296.7,377.1L300.4,380.9L296.7,384.6L292.9,380.9Z" fill="#5ea63c" stroke="#4e8e32" stroke-width="0.5"/>
<path d="M289.8,380.4L293.6,384.2L289.8,387.9L286.1,384.2Z" fill="#5ea63c" stroke="#4e8e32" stroke-width="0.5"/>
<path d="M296.0,381.2L299.8,385.0L296.0,388.8L292.2,385.0Z" fill="#5ea63c" stroke="#4e8e32" stroke-width="0.5"/>
<path d="M293.0,387.9L296.8,391.7L293.0,395.4L289.2,391.7Z" fill="#5ea63c" stroke="#4e8e32" stroke-width="0.5"/>
<rect x="317.9" y="385.5" width="6.0" height="6.0" fill="#2c4577"/>
<rect x="309.6" y="387.5" width="6.0" height="6.0" fill="#2c4577"/>
<rect x="318.5" y="391.0" width="6.0" height="6.0" fill="#2c4577"/>
<rect x="309.2" y="393.5" width="6.0" height="6.0" fill="#2c4577"/>
<rect x="315.5" y="396.0" width="6.0" height="6.0" fill="#2c4577"/>
<rect x="310.8" y="399.0" width="6.0" height="6.0" fill="#2c4577"/>
<rect x="314.0" y="401.5" width="6.0" height="6.0" fill="#2c4577"/>
<rect x="313.0" y="389.0" width="6.0" height="6.0" fill="#2c4577"/>
<path d="M211.9,385.2H227.9M219.9,379V391.5M217.7,379H222.1M217.7,391.5H222.1" stroke="#1c1c1c" stroke-width="1.5" fill="none"/>
<path d="M236.4,347.8H252.4M244.4,331.2V364.4M242.2,331.2H246.6M242.2,364.4H246.6" stroke="#1c1c1c" stroke-width="1.5" fill="none"/>
<path d="M260.6,383.1H276.6M268.6,366.8V398.2M266.4,366.8H270.8M266.4,398.2H270.8" stroke="#1c1c1c" stroke-width="1.5" fill="none"/>
<path d="M285.0,377H301.0M293,364.7V385.2M290.8,364.7H295.2M290.8,385.2H295.2" stroke="#1c1c1c" stroke-width="1.5" fill="none"/>
<path d="M309.3,396.3H325.3M317.3,390.8V401.5M315.1,390.8H319.5M315.1,401.5H319.5" stroke="#1c1c1c" stroke-width="1.5" fill="none"/>
<path d="M244.4,301.9H275.7" stroke="#1c1c1c" stroke-width="1.4"/>
<circle cx="266.6" cy="298.1" r="1.1" fill="#1c1c1c"/>
<circle cx="269.4" cy="298.1" r="1.1" fill="#1c1c1c"/>
<path d="M244.4,309.5H293.7" stroke="#1c1c1c" stroke-width="1.4"/>
<circle cx="291.6" cy="305.7" r="1.1" fill="#1c1c1c"/>
<circle cx="294.4" cy="305.7" r="1.1" fill="#1c1c1c"/>
<path d="M244.4,317H317.9" stroke="#1c1c1c" stroke-width="1.4"/>
<circle cx="314.0" cy="313.2" r="1.1" fill="#1c1c1c"/>
<circle cx="316.8" cy="313.2" r="1.1" fill="#1c1c1c"/>
<circle cx="319.6" cy="313.2" r="1.1" fill="#1c1c1c"/>
<path d="M379.3,314.9V410.2H501.5" fill="none" stroke="#1c1c1c" stroke-width="1.5"/>
<path d="M376.0,317.70H379.3" stroke="#1c1c1c" stroke-width="1.3"/>
<text x="373.3" y="320.55" font-size="7.9" text-anchor="end" font-weight="normal" fill="#444444" stroke="#444444" stroke-width="0.22" >1.4</text>
<path d="M376.0,330.91H379.3" stroke="#1c1c1c" stroke-width="1.3"/>
<text x="373.3" y="333.76" font-size="7.9" text-anchor="end" font-weight="normal" fill="#444444" stroke="#444444" stroke-width="0.22" >1.2</text>
<path d="M376.0,344.13H379.3" stroke="#1c1c1c" stroke-width="1.3"/>
<text x="373.3" y="346.98" font-size="7.9" text-anchor="end" font-weight="normal" fill="#444444" stroke="#444444" stroke-width="0.22" >1.0</text>
<path d="M376.0,357.34H379.3" stroke="#1c1c1c" stroke-width="1.3"/>
<text x="373.3" y="360.19" font-size="7.9" text-anchor="end" font-weight="normal" fill="#444444" stroke="#444444" stroke-width="0.22" >0.8</text>
<path d="M376.0,370.56H379.3" stroke="#1c1c1c" stroke-width="1.3"/>
<text x="373.3" y="373.41" font-size="7.9" text-anchor="end" font-weight="normal" fill="#444444" stroke="#444444" stroke-width="0.22" >0.6</text>
<path d="M376.0,383.77H379.3" stroke="#1c1c1c" stroke-width="1.3"/>
<text x="373.3" y="386.62" font-size="7.9" text-anchor="end" font-weight="normal" fill="#444444" stroke="#444444" stroke-width="0.22" >0.4</text>
<path d="M376.0,396.99H379.3" stroke="#1c1c1c" stroke-width="1.3"/>
<text x="373.3" y="399.84" font-size="7.9" text-anchor="end" font-weight="normal" fill="#444444" stroke="#444444" stroke-width="0.22" >0.2</text>
<path d="M376.0,410.20H379.3" stroke="#1c1c1c" stroke-width="1.3"/>
<text x="373.3" y="413.05" font-size="7.9" text-anchor="end" font-weight="normal" fill="#444444" stroke="#444444" stroke-width="0.22" >0.0</text>
<text transform="translate(356.8,363.2) rotate(-90)" x="0" y="0" font-size="8.3" text-anchor="middle" fill="#333" stroke="#333" stroke-width="0.22" textLength="46.7" lengthAdjust="spacingAndGlyphs">Foxp3<tspan font-size="5.5" dy="-2.5">+</tspan><tspan dy="2.5">/Foxp3</tspan><tspan font-size="5.5" dy="-2.5">−</tspan></text>
<text x="439.8" y="291" font-size="10" text-anchor="middle" fill="#2a2a2a" stroke="#2a2a2a" stroke-width="0.25" textLength="51.9" lengthAdjust="spacingAndGlyphs">Tfr/Tfh ratio</text>
<text x="348.3" y="280.2" font-size="10.2" font-weight="bold" fill="#111" textLength="8.7" lengthAdjust="spacingAndGlyphs">G</text>
<circle cx="391.5" cy="361.3" r="2.55" fill="#f3dc9c" fill-opacity="0.5" stroke="#d3a23c" stroke-width="1.1"/>
<circle cx="395.3" cy="366.5" r="2.55" fill="#f3dc9c" fill-opacity="0.5" stroke="#d3a23c" stroke-width="1.1"/>
<circle cx="387.0" cy="369.6" r="2.55" fill="#f3dc9c" fill-opacity="0.5" stroke="#d3a23c" stroke-width="1.1"/>
<circle cx="393.0" cy="371.0" r="2.55" fill="#f3dc9c" fill-opacity="0.5" stroke="#d3a23c" stroke-width="1.1"/>
<circle cx="391.5" cy="381.1" r="2.55" fill="#f3dc9c" fill-opacity="0.5" stroke="#d3a23c" stroke-width="1.1"/>
<circle cx="412.0" cy="392.0" r="2.75" fill="#b01338" stroke="#8e0e30" stroke-width="0.6"/>
<circle cx="418.0" cy="390.5" r="2.75" fill="#b01338" stroke="#8e0e30" stroke-width="0.6"/>
<circle cx="415.0" cy="395.0" r="2.75" fill="#b01338" stroke="#8e0e30" stroke-width="0.6"/>
<circle cx="420.0" cy="396.0" r="2.75" fill="#b01338" stroke="#8e0e30" stroke-width="0.6"/>
<circle cx="413.0" cy="398.0" r="2.75" fill="#b01338" stroke="#8e0e30" stroke-width="0.6"/>
<circle cx="417.0" cy="400.0" r="2.75" fill="#b01338" stroke="#8e0e30" stroke-width="0.6"/>
<path d="M440.6,325.6L444.2,332.1L437.0,332.1Z" fill="#482670"/>
<path d="M436.6,351.1L440.2,357.6L433.0,357.6Z" fill="#482670"/>
<path d="M443.7,355.7L447.3,362.2L440.1,362.2Z" fill="#482670"/>
<path d="M436.0,368.1L439.6,374.6L432.4,374.6Z" fill="#482670"/>
<path d="M444.3,377.1L447.9,383.6L440.7,383.6Z" fill="#482670"/>
<path d="M440.6,397.3L444.2,403.8L437.0,403.8Z" fill="#482670"/>
<path d="M464.5,361.6L468.2,365.3L464.5,369.1L460.8,365.3Z" fill="#5ea63c" stroke="#4e8e32" stroke-width="0.5"/>
<path d="M468.2,378.1L471.9,381.9L468.2,385.6L464.4,381.9Z" fill="#5ea63c" stroke="#4e8e32" stroke-width="0.5"/>
<path d="M459.9,385.9L463.6,389.6L459.9,393.4L456.1,389.6Z" fill="#5ea63c" stroke="#4e8e32" stroke-width="0.5"/>
<path d="M464.5,394.1L468.2,397.9L464.5,401.6L460.8,397.9Z" fill="#5ea63c" stroke="#4e8e32" stroke-width="0.5"/>
<path d="M466.0,384.2L469.8,388.0L466.0,391.8L462.2,388.0Z" fill="#5ea63c" stroke="#4e8e32" stroke-width="0.5"/>
<rect x="489.7" y="320.1" width="6.0" height="6.0" fill="#2c4577"/>
<rect x="482.3" y="325.7" width="6.0" height="6.0" fill="#2c4577"/>
<rect x="486.0" y="328.4" width="6.0" height="6.0" fill="#2c4577"/>
<rect x="480.8" y="352.7" width="6.0" height="6.0" fill="#2c4577"/>
<rect x="485.0" y="353.3" width="6.0" height="6.0" fill="#2c4577"/>
<rect x="490.2" y="351.3" width="6.0" height="6.0" fill="#2c4577"/>
<path d="M383.5,369.6H399.5M391.5,364.4V375.9M389.3,364.4H393.7M389.3,375.9H393.7" stroke="#1c1c1c" stroke-width="1.5" fill="none"/>
<path d="M408.1,396H424.1M416.1,393V399M413.9,393H418.3M413.9,399H418.3" stroke="#1c1c1c" stroke-width="1.5" fill="none"/>
<path d="M432.6,364.2H448.6M440.6,342.4V386.5M438.4,342.4H442.8M438.4,386.5H442.8" stroke="#1c1c1c" stroke-width="1.5" fill="none"/>
<path d="M456.5,387.1H472.5M464.5,375.7V398.5M462.3,375.7H466.7M462.3,398.5H466.7" stroke="#1c1c1c" stroke-width="1.5" fill="none"/>
<path d="M480.6,343.9H496.6M488.6,328.7V357.4M486.4,328.7H490.8M486.4,357.4H490.8" stroke="#1c1c1c" stroke-width="1.5" fill="none"/>
<path d="M416.1,310.2H447.8" stroke="#1c1c1c" stroke-width="1.4"/>
<circle cx="438.7" cy="306.4" r="1.1" fill="#1c1c1c"/>
<circle cx="441.5" cy="306.4" r="1.1" fill="#1c1c1c"/>
<path d="M416.1,317.2H490" stroke="#1c1c1c" stroke-width="1.4"/>
<circle cx="486.2" cy="313.4" r="1.1" fill="#1c1c1c"/>
<circle cx="489.0" cy="313.4" r="1.1" fill="#1c1c1c"/>
<circle cx="491.8" cy="313.4" r="1.1" fill="#1c1c1c"/>
<path d="M37.5,469.8V565.5H158.6" fill="none" stroke="#1c1c1c" stroke-width="1.5"/>
<path d="M34.2,472.60H37.5" stroke="#1c1c1c" stroke-width="1.3"/>
<text x="31.5" y="475.45" font-size="7.9" text-anchor="end" font-weight="normal" fill="#444444" stroke="#444444" stroke-width="0.22" >5</text>
<path d="M34.2,491.18H37.5" stroke="#1c1c1c" stroke-width="1.3"/>
<text x="31.5" y="494.03" font-size="7.9" text-anchor="end" font-weight="normal" fill="#444444" stroke="#444444" stroke-width="0.22" >4</text>
<path d="M34.2,509.76H37.5" stroke="#1c1c1c" stroke-width="1.3"/>
<text x="31.5" y="512.61" font-size="7.9" text-anchor="end" font-weight="normal" fill="#444444" stroke="#444444" stroke-width="0.22" >3</text>
<path d="M34.2,528.34H37.5" stroke="#1c1c1c" stroke-width="1.3"/>
<text x="31.5" y="531.19" font-size="7.9" text-anchor="end" font-weight="normal" fill="#444444" stroke="#444444" stroke-width="0.22" >2</text>
<path d="M34.2,546.92H37.5" stroke="#1c1c1c" stroke-width="1.3"/>
<text x="31.5" y="549.77" font-size="7.9" text-anchor="end" font-weight="normal" fill="#444444" stroke="#444444" stroke-width="0.22" >1</text>
<path d="M34.2,565.50H37.5" stroke="#1c1c1c" stroke-width="1.3"/>
<text x="31.5" y="568.35" font-size="7.9" text-anchor="end" font-weight="normal" fill="#444444" stroke="#444444" stroke-width="0.22" >0</text>
<text transform="translate(21.7,518.1) rotate(-90)" x="0" y="0" font-size="8.3" text-anchor="middle" fill="#333" stroke="#333" stroke-width="0.22" textLength="42.1" lengthAdjust="spacingAndGlyphs">% GL7<tspan font-size="5.5" dy="-2.5">+</tspan><tspan dy="2.5"> FAS</tspan><tspan font-size="5.5" dy="-2.5">+</tspan></text>
<text x="98" y="451" font-size="10" text-anchor="middle" fill="#2a2a2a" stroke="#2a2a2a" stroke-width="0.25" textLength="44.5" lengthAdjust="spacingAndGlyphs">GC B cells</text>
<text x="7.5" y="439.6" font-size="10.2" font-weight="bold" fill="#111" textLength="8.5" lengthAdjust="spacingAndGlyphs">H</text>
<circle cx="45.6" cy="533.0" r="2.55" fill="#f3dc9c" fill-opacity="0.5" stroke="#d3a23c" stroke-width="1.1"/>
<circle cx="53.8" cy="536.0" r="2.55" fill="#f3dc9c" fill-opacity="0.5" stroke="#d3a23c" stroke-width="1.1"/>
<circle cx="49.7" cy="541.0" r="2.55" fill="#f3dc9c" fill-opacity="0.5" stroke="#d3a23c" stroke-width="1.1"/>
<circle cx="46.0" cy="545.0" r="2.55" fill="#f3dc9c" fill-opacity="0.5" stroke="#d3a23c" stroke-width="1.1"/>
<circle cx="53.0" cy="544.0" r="2.55" fill="#f3dc9c" fill-opacity="0.5" stroke="#d3a23c" stroke-width="1.1"/>
<circle cx="49.7" cy="548.5" r="2.55" fill="#f3dc9c" fill-opacity="0.5" stroke="#d3a23c" stroke-width="1.1"/>
<circle cx="74.0" cy="492.5" r="2.75" fill="#b01338" stroke="#8e0e30" stroke-width="0.6"/>
<circle cx="74.0" cy="506.2" r="2.75" fill="#b01338" stroke="#8e0e30" stroke-width="0.6"/>
<circle cx="74.0" cy="528.6" r="2.75" fill="#b01338" stroke="#8e0e30" stroke-width="0.6"/>
<circle cx="70.0" cy="536.0" r="2.75" fill="#b01338" stroke="#8e0e30" stroke-width="0.6"/>
<circle cx="77.5" cy="537.0" r="2.75" fill="#b01338" stroke="#8e0e30" stroke-width="0.6"/>
<circle cx="74.0" cy="540.0" r="2.75" fill="#b01338" stroke="#8e0e30" stroke-width="0.6"/>
<path d="M98.3,483.7L102.0,490.2L94.6,490.2Z" fill="#482670"/>
<path d="M98.3,509.0L102.0,515.5L94.6,515.5Z" fill="#482670"/>
<path d="M95.3,518.2L99.0,524.7L91.6,524.7Z" fill="#482670"/>
<path d="M100.4,516.1L104.1,522.6L96.8,522.6Z" fill="#482670"/>
<path d="M103.0,534.4L106.7,540.9L99.3,540.9Z" fill="#482670"/>
<path d="M94.3,544.5L98.0,551.0L90.6,551.0Z" fill="#482670"/>
<path d="M122.7,493.8L126.5,497.5L122.7,501.2L119.0,497.5Z" fill="#5ea63c" stroke="#4e8e32" stroke-width="0.5"/>
<path d="M126.7,499.2L130.4,503.0L126.7,506.8L123.0,503.0Z" fill="#5ea63c" stroke="#4e8e32" stroke-width="0.5"/>
<path d="M118.6,509.4L122.3,513.1L118.6,516.9L114.8,513.1Z" fill="#5ea63c" stroke="#4e8e32" stroke-width="0.5"/>
<path d="M120.0,544.5L123.8,548.2L120.0,552.0L116.2,548.2Z" fill="#5ea63c" stroke="#4e8e32" stroke-width="0.5"/>
<path d="M125.7,550.0L129.4,553.7L125.7,557.5L122.0,553.7Z" fill="#5ea63c" stroke="#4e8e32" stroke-width="0.5"/>
<path d="M122.7,555.2L126.5,559.0L122.7,562.8L119.0,559.0Z" fill="#5ea63c" stroke="#4e8e32" stroke-width="0.5"/>
<rect x="144.0" y="534.0" width="6.0" height="6.0" fill="#2c4577"/>
<rect x="148.0" y="539.0" width="6.0" height="6.0" fill="#2c4577"/>
<rect x="141.0" y="543.2" width="6.0" height="6.0" fill="#2c4577"/>
<rect x="145.0" y="547.3" width="6.0" height="6.0" fill="#2c4577"/>
<rect x="141.0" y="550.3" width="6.0" height="6.0" fill="#2c4577"/>
<rect x="147.0" y="556.0" width="6.0" height="6.0" fill="#2c4577"/>
<path d="M41.7,542.8H57.7M49.7,536.7V546.2M47.5,536.7H51.9M47.5,546.2H51.9" stroke="#1c1c1c" stroke-width="1.5" fill="none"/>
<path d="M66.0,523.3H82.0M74,508.7V542.2M71.8,508.7H76.2M71.8,542.2H76.2" stroke="#1c1c1c" stroke-width="1.5" fill="none"/>
<path d="M90.3,520.4H106.3M98.3,501.6V539.5M96.1,501.6H100.5M96.1,539.5H100.5" stroke="#1c1c1c" stroke-width="1.5" fill="none"/>
<path d="M114.7,532H130.7M122.7,506.2V559.4M120.5,506.2H124.9M120.5,559.4H124.9" stroke="#1c1c1c" stroke-width="1.5" fill="none"/>
<path d="M139.0,549.7H155.0M147,544V555M144.8,544H149.2M144.8,555H149.2" stroke="#1c1c1c" stroke-width="1.5" fill="none"/>
<path d="M74,473.2H146.4" stroke="#1c1c1c" stroke-width="1.4"/>
<circle cx="145.6" cy="469.4" r="1.1" fill="#1c1c1c"/>
<circle cx="148.4" cy="469.4" r="1.1" fill="#1c1c1c"/>
<path d="M208,469.09999999999997V565.3H329.7" fill="none" stroke="#1c1c1c" stroke-width="1.5"/>
<path d="M204.7,471.90H208" stroke="#1c1c1c" stroke-width="1.3"/>
<text x="202.0" y="474.75" font-size="7.9" text-anchor="end" font-weight="normal" fill="#444444" stroke="#444444" stroke-width="0.22" >1.2</text>
<path d="M204.7,487.47H208" stroke="#1c1c1c" stroke-width="1.3"/>
<text x="202.0" y="490.32" font-size="7.9" text-anchor="end" font-weight="normal" fill="#444444" stroke="#444444" stroke-width="0.22" >1.0</text>
<path d="M204.7,503.03H208" stroke="#1c1c1c" stroke-width="1.3"/>
<text x="202.0" y="505.88" font-size="7.9" text-anchor="end" font-weight="normal" fill="#444444" stroke="#444444" stroke-width="0.22" >0.8</text>
<path d="M204.7,518.60H208" stroke="#1c1c1c" stroke-width="1.3"/>
<text x="202.0" y="521.45" font-size="7.9" text-anchor="end" font-weight="normal" fill="#444444" stroke="#444444" stroke-width="0.22" >0.6</text>
<path d="M204.7,534.17H208" stroke="#1c1c1c" stroke-width="1.3"/>
<text x="202.0" y="537.02" font-size="7.9" text-anchor="end" font-weight="normal" fill="#444444" stroke="#444444" stroke-width="0.22" >0.4</text>
<path d="M204.7,549.73H208" stroke="#1c1c1c" stroke-width="1.3"/>
<text x="202.0" y="552.58" font-size="7.9" text-anchor="end" font-weight="normal" fill="#444444" stroke="#444444" stroke-width="0.22" >0.2</text>
<path d="M204.7,565.30H208" stroke="#1c1c1c" stroke-width="1.3"/>
<text x="202.0" y="568.15" font-size="7.9" text-anchor="end" font-weight="normal" fill="#444444" stroke="#444444" stroke-width="0.22" >0.0</text>
<text transform="translate(185.7,518.4) rotate(-90)" x="0" y="0" font-size="8.3" text-anchor="middle" fill="#333" stroke="#333" stroke-width="0.22" textLength="54.1" lengthAdjust="spacingAndGlyphs">% B220<tspan font-size="5.5" dy="-2.5">−</tspan><tspan dy="2.5">CD138</tspan><tspan font-size="5.5" dy="-2.5">+</tspan></text>
<text x="268.3" y="451" font-size="10" text-anchor="middle" fill="#2a2a2a" stroke="#2a2a2a" stroke-width="0.25" textLength="51.7" lengthAdjust="spacingAndGlyphs">Plasma cells</text>
<text x="180.7" y="439.6" font-size="10.2" font-weight="bold" fill="#111" textLength="3.2" lengthAdjust="spacingAndGlyphs">I</text>
<circle cx="220.3" cy="518.4" r="2.55" fill="#f3dc9c" fill-opacity="0.5" stroke="#d3a23c" stroke-width="1.1"/>
<circle cx="216.5" cy="531.0" r="2.55" fill="#f3dc9c" fill-opacity="0.5" stroke="#d3a23c" stroke-width="1.1"/>
<circle cx="223.9" cy="532.8" r="2.55" fill="#f3dc9c" fill-opacity="0.5" stroke="#d3a23c" stroke-width="1.1"/>
<circle cx="220.3" cy="535.3" r="2.55" fill="#f3dc9c" fill-opacity="0.5" stroke="#d3a23c" stroke-width="1.1"/>
<circle cx="219.5" cy="540.6" r="2.55" fill="#f3dc9c" fill-opacity="0.5" stroke="#d3a23c" stroke-width="1.1"/>
<circle cx="240.8" cy="501.9" r="2.75" fill="#b01338" stroke="#8e0e30" stroke-width="0.6"/>
<circle cx="248.2" cy="501.9" r="2.75" fill="#b01338" stroke="#8e0e30" stroke-width="0.6"/>
<circle cx="244.4" cy="503.5" r="2.75" fill="#b01338" stroke="#8e0e30" stroke-width="0.6"/>
<circle cx="240.8" cy="533.6" r="2.75" fill="#b01338" stroke="#8e0e30" stroke-width="0.6"/>
<circle cx="244.0" cy="539.5" r="2.75" fill="#b01338" stroke="#8e0e30" stroke-width="0.6"/>
<circle cx="248.6" cy="540.0" r="2.75" fill="#b01338" stroke="#8e0e30" stroke-width="0.6"/>
<path d="M268.8,480.7L272.4,487.2L265.2,487.2Z" fill="#482670"/>
<path d="M268.8,498.3L272.4,504.8L265.2,504.8Z" fill="#482670"/>
<path d="M272.5,508.9L276.1,515.4L268.9,515.4Z" fill="#482670"/>
<path d="M260.8,515.5L264.4,522.0L257.2,522.0Z" fill="#482670"/>
<path d="M264.8,518.8L268.4,525.3L261.2,525.3Z" fill="#482670"/>
<path d="M272.5,529.8L276.1,536.3L268.9,536.3Z" fill="#482670"/>
<path d="M268.8,540.8L272.4,547.3L265.2,547.3Z" fill="#482670"/>
<path d="M293.0,517.8L296.8,521.5L293.0,525.2L289.2,521.5Z" fill="#5ea63c" stroke="#4e8e32" stroke-width="0.5"/>
<path d="M293.0,544.1L296.8,547.9L293.0,551.6L289.2,547.9Z" fill="#5ea63c" stroke="#4e8e32" stroke-width="0.5"/>
<path d="M290.0,551.9L293.8,555.6L290.0,559.4L286.2,555.6Z" fill="#5ea63c" stroke="#4e8e32" stroke-width="0.5"/>
<path d="M296.0,553.0L299.8,556.7L296.0,560.5L292.2,556.7Z" fill="#5ea63c" stroke="#4e8e32" stroke-width="0.5"/>
<path d="M293.0,558.5L296.8,562.2L293.0,566.0L289.2,562.2Z" fill="#5ea63c" stroke="#4e8e32" stroke-width="0.5"/>
<rect x="314.1" y="524.4" width="6.0" height="6.0" fill="#2c4577"/>
<rect x="313.5" y="544.9" width="6.0" height="6.0" fill="#2c4577"/>
<rect x="310.2" y="551.5" width="6.0" height="6.0" fill="#2c4577"/>
<rect x="317.9" y="551.5" width="6.0" height="6.0" fill="#2c4577"/>
<rect x="314.1" y="555.9" width="6.0" height="6.0" fill="#2c4577"/>
<rect x="315.0" y="548.0" width="6.0" height="6.0" fill="#2c4577"/>
<path d="M212.3,533.2H228.3M220.3,525.8V539.5M218.1,525.8H222.5M218.1,539.5H222.5" stroke="#1c1c1c" stroke-width="1.5" fill="none"/>
<path d="M236.4,520.5H252.4M244.4,505.7V540.6M242.2,505.7H246.6M242.2,540.6H246.6" stroke="#1c1c1c" stroke-width="1.5" fill="none"/>
<path d="M260.8,515.3H276.8M268.8,496.2V534.7M266.6,496.2H271.0M266.6,534.7H271.0" stroke="#1c1c1c" stroke-width="1.5" fill="none"/>
<path d="M285.0,551.6H301.0M293,538V563.3M290.8,538H295.2M290.8,563.3H295.2" stroke="#1c1c1c" stroke-width="1.5" fill="none"/>
<path d="M309.1,551.2H325.1M317.1,540.6V562.2M314.9,540.6H319.3M314.9,562.2H319.3" stroke="#1c1c1c" stroke-width="1.5" fill="none"/>
<path d="M245,462.1H297.8" stroke="#1c1c1c" stroke-width="1.4"/>
<circle cx="293.7" cy="458.3" r="1.1" fill="#1c1c1c"/>
<circle cx="296.5" cy="458.3" r="1.1" fill="#1c1c1c"/>
<path d="M245,469.8H317.1" stroke="#1c1c1c" stroke-width="1.4"/>
<circle cx="315.1" cy="466.0" r="1.1" fill="#1c1c1c"/>
<circle cx="317.9" cy="466.0" r="1.1" fill="#1c1c1c"/>
<text x="7.8" y="165.9" font-size="10.2" text-anchor="start" font-weight="bold" fill="#111" stroke="#111" stroke-width="0" textLength="8.4" lengthAdjust="spacingAndGlyphs">D</text>
<text x="58.5" y="174.8" font-size="8" text-anchor="middle" font-weight="normal" fill="#333333" stroke="#333333" stroke-width="0.22" >BM only</text>
<text x="159.3" y="174.8" font-size="8" text-anchor="middle" font-weight="normal" fill="#333333" stroke="#333333" stroke-width="0.22" >WT BM + WT T</text>
<text x="260.3" y="174.8" font-size="8" text-anchor="middle" font-weight="normal" fill="#333333" stroke="#333333" stroke-width="0.22" >WT BM + KO T</text>
<text x="361.8" y="174.8" font-size="8" text-anchor="middle" font-weight="normal" fill="#333333" stroke="#333333" stroke-width="0.22" >KO BM + WT T</text>
<text x="463" y="174.8" font-size="8" text-anchor="middle" font-weight="normal" fill="#333333" stroke="#333333" stroke-width="0.22" >KO BM + KO T</text>
<defs>
<clipPath id="c0"><rect x="0" y="0" width="99.6" height="75"/></clipPath>
<clipPath id="c1"><rect x="0" y="0" width="100.5" height="75"/></clipPath>
<clipPath id="c2"><rect x="0" y="0" width="100.4" height="75"/></clipPath>
<clipPath id="c3"><rect x="0" y="0" width="100.4" height="75"/></clipPath>
<clipPath id="c4"><rect x="0" y="0" width="99.2" height="75"/></clipPath>
<filter id="tx" x="-5%" y="-5%" width="110%" height="110%"><feGaussianBlur stdDeviation="0.45"/></filter>
<filter id="bl" x="-50%" y="-50%" width="200%" height="200%"><feGaussianBlur stdDeviation="1.2"/></filter>
<filter id="bl2" x="-50%" y="-50%" width="200%" height="200%"><feGaussianBlur stdDeviation="2.5"/></filter>
</defs>
<g transform="translate(8,180)" clip-path="url(#c0)">
<rect x="0" y="0" width="101" height="75" fill="#fbf2ec"/>
<g filter="url(#tx)"><path d="M105.4 78.7L102.9 77.5M104.4 74.4L102.9 75.8M104.4 74.4L103.8 73.3M-4.6 62.0L-2.4 62.2M104.8 37.2L103.4 34.6M103.4 34.6L105.7 32.4M101.3 30.1L102.2 31.6M103.5 27.5L103.7 31.3M102.2 31.6L103.7 31.3M103.6 27.1L106.6 28.8M105.0 31.3L103.7 31.3M103.6 27.1L103.1 26.0M106.4 24.5L103.1 26.0M99.4 28.5L97.4 29.4M99.4 28.5L100.2 26.4M97.4 29.4L96.1 28.0M96.1 28.0L97.1 24.8M92.3 28.3L93.7 27.3M93.7 27.3L96.1 28.0M97.2 30.0L94.3 31.3M97.2 30.0L97.4 29.4M93.9 24.9L94.8 24.1M94.8 24.1L97.1 24.8M55.6 12.6L55.4 9.9M55.4 9.9L53.6 9.9M52.5 10.7L53.6 9.9M45.7 -1.0L43.9 0.4M45.7 -1.0L44.7 -4.1M43.9 0.4L41.7 -2.5M44.7 -4.1L41.7 -2.5M44.8 3.2L43.8 0.7M44.8 3.2L45.9 3.6M43.8 0.7L43.9 0.4M45.9 3.6L47.0 2.5M45.7 -1.0L47.0 -0.5M-5.6 35.4L-2.6 36.3M-2.6 36.3L-2.4 36.7M-3.4 45.1L-2.5 43.4M-3.4 42.2L-2.5 43.4M4.2 42.7L5.9 45.1M4.2 42.7L7.3 40.2M7.3 40.2L8.1 42.7M5.9 45.1L6.8 44.8M9.2 42.8L8.1 42.7M9.9 46.6L12.1 44.9M9.9 46.6L6.8 44.8M1.2 52.7L0.3 53.3M0.3 53.3L1.9 56.8M1.9 56.8L4.0 55.3M1.9 51.1L-1.4 49.2M1.9 51.1L1.2 52.7M-0.2 53.3L0.3 53.3M-0.2 53.3L-1.9 49.8M-1.9 49.8L-1.4 49.2M5.1 50.6L5.4 51.7M21.6 10.7L20.0 9.5M20.0 9.5L20.4 6.6M23.7 6.5L21.6 5.8M-0.2 53.3L-1.5 54.0M-1.5 54.0L-1.9 55.4M1.9 56.8L1.7 57.4M-1.9 55.4L1.7 57.4M-1.5 54.0L-3.6 52.5M-3.3 57.9L-3.0 56.6M-0.7 60.1L-3.3 57.9M-0.7 60.1L-1.4 62.1M-1.4 62.1L-2.4 62.2M-2.9 56.5L-3.0 56.6M-0.7 60.1L0.7 59.4M0.7 59.4L1.5 58.3M1.7 57.4L1.6 58.1M1.5 58.3L1.6 58.1M-1.1 77.2L-1.1 76.7M-1.1 76.7L-3.8 74.5M-1.1 77.2L0.7 79.3M3.0 74.5L0.0 75.6M3.3 75.0L1.2 79.0M-1.1 76.7L0.0 75.6M0.0 75.6L-1.6 72.5M-3.8 74.5L-2.5 72.1M-1.6 72.5L-2.5 72.1M3.3 75.0L3.8 75.8M3.8 75.8L5.1 78.3M102.0 32.1L98.0 32.4M102.0 32.9L100.3 35.3M98.0 32.4L100.3 35.3M103.4 34.6L102.0 32.9M97.9 32.4L97.2 30.0M101.3 30.1L99.4 28.5M102.9 22.7L101.4 21.8M100.9 22.2L101.4 21.8M100.9 22.2L101.1 26.1M101.1 26.1L102.7 25.8M103.1 26.0L102.7 25.8M98.5 23.3L100.9 22.2M92.3 28.3L91.4 28.4M91.3 23.8L90.6 24.5M91.4 28.4L90.6 24.5M91.3 22.2L91.2 22.4M105.6 -1.4L103.5 -3.2M103.8 9.6L105.4 6.8M0.0 18.2L-0.7 16.5M0.0 18.2L1.7 16.3M-0.7 16.5L1.7 16.3M-0.7 16.5L-1.5 15.6M2.6 15.7L1.7 16.3M2.6 15.7L-1.0 14.5M2.8 15.7L2.3 12.6M2.3 12.6L0.6 12.7M0.6 12.7L-1.1 14.4M-1.1 14.4L-1.0 14.5M21.4 3.5L23.4 1.4M21.4 3.5L17.9 0.7M23.4 1.4L20.6 -0.2M20.6 -0.2L17.9 0.7M0.6 12.7L-0.7 10.7M-0.7 10.7L-2.4 10.7M-3.1 12.4L-1.1 14.4M-2.4 10.7L-2.7 10.9M-3.3 -2.8L-0.9 -0.7M85.0 39.0L84.6 36.9M85.0 39.0L82.4 39.0M84.6 36.9L83.0 36.6M82.4 39.0L81.5 38.6M81.5 38.6L81.4 37.8M69.2 -4.3L71.9 -2.8M71.9 -2.8L73.9 -4.1M71.3 -0.1L72.3 -0.6M71.3 -0.1L69.1 -0.6M68.6 -4.3L68.2 -1.9M71.9 -2.8L72.3 -0.6M71.1 3.2L71.3 -0.1M68.4 1.9L69.1 -0.6M61.3 -4.1L63.5 -2.4M59.2 -2.5L61.3 -4.1M75.4 25.4L74.6 26.7M75.4 25.4L78.2 25.7M74.6 26.7L75.8 29.0M78.5 27.3L75.8 29.0M78.5 27.3L78.3 25.7M78.2 25.7L78.3 25.7M46.3 26.1L46.7 24.5M49.1 25.7L48.3 27.6M47.4 27.5L48.3 27.6M44.7 21.8L46.1 20.9M44.7 21.8L46.7 24.5M46.1 20.9L49.6 21.9M49.6 21.9L49.8 22.8M49.8 22.8L47.3 24.4M50.6 23.5L49.8 22.8M50.6 23.5L50.6 24.5M50.6 24.5L49.1 25.7M46.1 30.2L47.4 27.5M46.1 30.2L44.4 31.1M44.4 31.1L43.8 30.6M49.7 31.2L49.8 31.2M49.7 31.2L46.1 30.2M49.8 31.2L50.5 28.9M50.5 28.9L48.3 27.6M41.9 24.0L44.4 22.0M44.7 21.8L44.5 21.8M34.1 32.6L33.2 30.1M34.1 32.6L35.8 32.4M36.8 28.7L36.9 31.1M36.8 28.7L35.5 27.6M35.8 32.4L36.9 31.1M33.2 30.1L33.3 28.6M43.8 0.7L41.0 1.3M41.0 1.3L40.3 0.5M40.6 -2.6L40.3 0.5M37.6 7.2L39.2 4.1M39.2 4.1L40.8 3.9M38.3 8.3L41.6 8.4M41.6 8.4L42.1 7.9M47.0 -0.5L47.5 -0.9M47.5 -0.9L48.0 -4.2M50.4 -2.2L50.1 -1.4M46.3 9.3L44.9 6.7M46.3 9.3L49.5 7.6M49.1 6.7L46.3 5.0M46.3 5.0L44.9 6.7M49.5 7.6L49.5 7.5M45.6 10.5L42.1 7.9M45.6 10.5L46.3 9.3M42.3 7.5L44.9 6.7M53.6 6.4L53.6 9.9M53.6 6.4L49.5 7.5M49.6 7.8L51.2 10.8M49.6 7.8L49.5 7.6M21.6 11.3L21.6 10.7M21.6 11.3L24.2 12.8M25.6 10.1L26.0 11.4M25.6 10.1L23.9 9.2M26.0 11.4L24.2 12.8M27.5 8.6L26.8 6.8M24.0 6.3L26.8 6.8M21.4 3.5L21.2 4.4M23.4 1.4L23.7 1.3M24.0 6.3L25.1 4.0M83.0 27.8L82.8 26.9M83.0 27.8L81.2 29.3M78.5 27.3L80.3 29.0M78.3 25.7L81.6 24.4M80.3 29.0L81.2 29.3M61.7 48.9L61.6 50.4M61.7 48.9L63.4 49.3M61.6 50.4L62.8 53.2M63.4 49.3L64.6 52.0M-2.5 39.5L-1.2 40.0M-2.5 43.4L-1.1 42.9M-3.1 46.1L-2.9 46.3M9.9 46.6L9.8 47.5M9.4 48.0L9.8 47.5M9.4 48.0L5.8 47.6M5.5 45.8L5.8 47.6M-1.2 47.8L2.2 48.3M-1.3 47.5L1.4 45.0M2.2 48.3L2.4 47.6M2.4 47.6L2.8 46.2M1.4 45.0L2.8 46.2M-1.4 49.2L-1.2 47.8M-2.9 46.3L-1.3 47.5M2.8 50.4L2.2 48.3M5.1 50.6L5.6 50.1M5.7 48.6L2.4 47.6M5.7 48.6L5.8 47.6M-4.6 32.1L-2.1 35.4M13.3 5.1L17.3 3.6M13.3 5.1L13.2 5.1M17.3 3.6L17.4 3.8M17.4 3.8L17.6 6.0M16.9 6.8L17.6 6.0M17.3 1.2L16.8 1.2M17.3 1.2L17.3 3.6M17.1 10.3L17.6 9.8M17.1 10.3L13.8 8.5M17.6 9.8L16.9 6.8M13.8 8.5L14.2 6.7M21.2 4.4L17.4 3.8M17.6 9.8L20.0 9.5M32.2 24.6L31.6 25.8M33.3 28.6L32.7 28.5M31.6 25.8L32.7 28.5M0.5 72.0L-1.6 72.5M-2.7 71.7L-0.5 69.2M9.2 42.8L10.8 41.1M12.1 44.8L12.8 43.8M12.8 43.8L12.8 43.8M7.4 39.8L7.3 39.9M7.4 39.8L10.6 40.4M7.3 39.9L7.3 40.2M10.6 40.4L10.8 40.5M5.6 50.1L8.3 50.0M9.4 48.0L9.0 49.4M8.3 50.0L9.0 49.4M5.4 51.7L7.1 53.4M7.1 53.4L9.2 52.8M4.8 59.7L4.3 59.1M4.8 59.7L7.6 57.2M4.3 59.1L5.5 55.9M7.6 57.2L7.7 56.8M7.7 56.8L6.6 55.8M5.5 55.9L6.6 55.8M5.5 61.6L2.2 61.4M2.2 61.4L0.7 59.4M7.9 60.2L11.5 59.3M8.8 56.7L7.7 56.8M8.8 56.7L11.9 58.9M7.1 53.4L6.6 55.8M8.8 56.7L11.0 53.4M9.2 52.8L11.0 53.4M101.0 40.1L103.2 41.1M103.2 41.1L105.2 38.8M100.1 36.6L100.3 35.3M103.8 73.3L102.7 72.7M102.9 75.8L100.2 74.2M102.7 72.7L99.9 73.1M100.2 74.2L99.9 73.1M87.5 27.9L88.0 27.6M87.5 27.9L87.8 31.1M88.0 27.6L91.3 28.4M90.0 31.4L91.0 29.4M90.0 31.4L88.6 31.5M91.3 28.4L91.0 29.4M94.3 31.3L93.7 32.9M91.4 28.4L91.3 28.4M85.0 29.6L86.7 31.5M85.0 29.6L83.8 33.1M86.7 31.5L85.4 33.3M83.8 33.1L85.0 33.5M85.0 33.5L85.4 33.3M87.8 31.1L86.7 31.5M83.0 27.8L84.3 28.2M82.6 33.1L83.8 33.1M82.6 33.1L81.3 29.9M84.3 28.2L84.7 28.4M81.3 29.9L81.2 29.3M87.9 33.9L85.4 33.3M87.9 33.9L88.6 31.5M85.0 39.0L86.0 40.2M83.1 42.7L82.4 39.0M83.9 42.5L86.0 40.2M87.9 41.9L88.3 43.9M88.3 43.9L91.6 42.7M93.7 32.9L93.5 33.5M93.5 33.5L94.5 34.4M96.1 34.7L94.5 34.4M100.1 36.6L97.9 37.1M96.1 34.7L97.9 37.1M99.5 41.8L100.1 40.7M100.1 40.7L97.5 37.9M97.1 41.6L96.6 38.8M96.6 38.8L97.5 37.9M100.1 40.7L101.0 40.1M97.9 37.1L97.5 37.9M85.5 35.7L88.0 36.4M86.2 40.2L87.7 38.9M88.0 36.4L87.7 38.9M105.2 21.1L104.0 18.6M104.0 18.6L108.7 16.0M104.0 18.6L103.5 18.4M101.3 21.7L99.5 19.7M99.5 19.7L102.5 17.5M103.3 13.7L102.5 10.8M103.3 9.8L102.5 10.8M91.3 20.3L91.3 22.2M91.3 20.3L94.3 18.9M93.5 22.2L94.7 19.4M94.7 19.4L96.4 20.7M98.8 19.6L97.3 20.8M97.3 20.8L96.4 20.7M-5.8 9.4L-2.7 10.9M-3.7 17.1L-1.5 15.6M19.4 -3.3L17.3 -0.4M18.3 -4.8L16.0 -2.1M16.0 -2.1L17.3 -0.4M17.6 0.7L17.3 -0.4M22.8 -3.1L21.2 -2.3M-2.3 8.4L-4.1 6.8M0.9 -3.6L2.2 -1.4M4.5 -3.8L4.3 -2.2M2.2 -1.4L4.3 -2.2M-1.5 5.3L-4.1 6.7M-1.5 5.3L-1.5 3.8M67.9 -1.7L66.3 0.4M67.9 -1.7L63.6 -1.5M63.6 -1.5L63.1 0.3M64.1 1.3L63.1 0.3M68.2 -1.9L67.9 -1.7M63.5 -2.4L63.6 -1.5M59.2 -1.3L59.1 -1.6M54.7 -2.4L53.2 -1.1M53.0 -0.5L55.0 1.8M55.6 -1.3L56.0 1.5M55.0 1.8L56.0 1.5M54.6 -4.3L54.7 -2.4M50.4 -2.2L53.2 -1.1M56.4 1.7L59.2 -1.3M69.5 3.6L69.7 5.0M68.5 3.3L66.2 4.2M66.2 4.2L66.5 5.9M66.5 5.9L68.0 7.4M66.7 14.1L67.0 13.8M67.1 16.5L69.0 17.2M67.0 13.8L71.3 14.0M69.0 17.2L69.8 16.9M58.2 12.3L57.7 13.2M57.7 13.2L60.9 14.8M62.1 12.0L60.9 14.8M58.1 9.0L57.4 8.8M57.4 8.8L55.4 9.9M57.2 13.5L57.7 13.2M56.9 34.7L59.7 33.3M59.7 33.3L61.0 33.8M57.4 20.6L55.0 21.7M79.4 14.3L76.9 16.5M79.4 14.3L80.2 15.0M80.2 15.0L80.4 16.6M80.4 16.6L77.7 17.2M77.7 17.2L76.9 16.5M56.7 15.1L53.6 13.8M54.7 17.0L52.5 16.2M52.5 16.2L52.3 15.3M53.6 13.8L52.3 15.3M56.9 14.9L59.4 17.1M56.9 14.9L56.7 15.1M54.9 17.4L54.7 17.0M54.2 12.7L53.6 13.8M51.2 10.8L50.1 12.8M53.8 23.2L54.0 22.9M49.6 21.9L50.0 20.8M50.0 20.8L51.9 20.1M54.3 19.5L52.1 19.8M52.5 16.2L51.7 16.9M51.7 16.9L52.1 19.8M55.0 21.7L54.9 21.9M51.9 20.1L52.1 19.8M42.3 26.9L43.0 28.1M42.3 26.9L40.1 26.4M40.1 26.4L38.4 28.6M42.5 26.2L42.3 26.9M43.0 28.1L43.0 28.1M36.8 28.7L38.4 28.6M38.5 23.7L35.5 27.6M38.5 23.7L40.1 26.4M36.9 31.1L39.7 32.6M38.5 23.7L38.5 23.7M34.8 23.2L36.3 22.3M36.3 22.3L38.5 23.7M40.3 0.5L37.3 1.1M39.2 4.1L37.0 2.6M37.3 1.1L37.0 2.6M56.5 7.6L54.6 6.1M56.5 7.6L58.8 3.5M54.6 6.1L58.1 3.3M58.8 3.5L58.1 3.3M53.6 6.4L54.0 6.0M54.0 6.0L54.6 6.1M50.1 12.8L49.7 12.9M45.6 10.5L45.6 10.7M47.7 11.4L45.6 10.7M41.6 12.2L43.0 13.2M45.6 10.7L45.2 11.4M47.4 14.9L47.9 14.5M47.4 14.9L46.5 17.5M47.9 14.5L48.0 14.4M48.0 14.4L50.2 17.4M46.5 17.5L47.0 18.1M47.0 18.1L49.2 18.3M49.2 18.3L50.2 17.4M43.0 13.2L43.0 13.6M45.2 11.4L47.9 14.5M44.3 17.1L46.5 17.5M51.7 16.9L50.2 17.4M52.3 0.2L53.4 3.0M51.1 3.2L53.1 3.4M51.1 3.2L50.1 1.4M50.1 1.4L50.6 0.3M53.1 3.4L53.4 3.0M55.0 1.8L53.4 3.0M50.2 4.1L51.1 3.2M54.0 6.0L53.1 3.4M25.1 4.0L28.2 3.8M26.8 6.8L28.6 4.5M28.2 3.8L28.6 4.5M30.2 7.3L33.8 6.5M30.2 7.3L29.5 4.9M29.5 4.9L32.1 3.8M30.2 7.6L30.2 7.3M24.4 0.6L25.1 0.3M24.4 0.6L22.8 -3.0M25.1 0.3L25.7 -3.3M23.7 1.3L24.4 0.6M26.4 -3.8L28.0 0.5M28.8 -5.1L30.1 -2.1M30.1 -2.1L28.5 0.4M28.0 0.5L28.3 0.6M28.2 3.8L28.3 0.6M40.5 -2.6L41.2 -6.6M44.4 31.1L44.4 31.1M39.7 32.6L39.8 33.6M37.2 35.3L39.8 33.6M54.0 36.4L52.7 35.9M54.0 36.4L53.4 37.4M53.4 37.4L52.7 35.9M3.1 42.2L5.6 39.2M2.6 42.1L1.4 39.7M1.4 39.7L3.9 37.8M3.9 37.8L5.6 39.2M4.2 42.7L3.1 42.2M1.2 44.1L2.6 42.1M7.3 39.9L5.6 39.2M-1.2 40.0L1.1 39.6M1.1 39.6L1.4 39.7M-2.1 35.4L-1.2 34.4M-4.5 31.8L-2.9 31.1M-2.6 30.8L-2.9 31.1M6.3 16.7L4.1 15.5M2.8 15.7L2.8 15.7M5.7 12.4L5.8 13.2M7.4 39.8L8.5 37.6M3.9 37.8L4.0 36.7M8.5 37.6L6.6 35.4M10.6 40.4L10.5 37.0M8.5 37.6L10.5 37.0M16.0 -2.1L14.5 -2.8M14.3 -4.2L14.5 -2.8M-2.3 8.4L-0.2 7.2M-0.2 6.9L-0.2 7.2M-0.7 10.7L1.6 8.9M-0.2 7.2L1.6 8.9M3.5 11.1L3.2 9.2M4.3 -2.2L5.0 -1.3M5.0 -1.3L6.6 -0.8M7.9 -1.7L6.6 -0.8M13.3 8.9L11.5 8.5M13.3 8.9L13.8 8.5M12.6 4.7L11.0 6.0M11.0 6.0L11.5 8.5M33.2 30.1L31.5 31.6M31.5 31.6L29.7 30.0M29.7 30.0L29.7 30.0M32.7 28.5L30.9 28.7M30.9 28.7L29.1 26.2M-0.9 67.1L-1.4 66.0M-0.9 67.2L1.3 66.6M-1.4 66.0L-0.9 62.8M1.3 66.6L2.4 64.5M-0.9 62.8L1.4 63.3M1.4 63.3L2.4 64.5M-3.8 68.3L-0.9 67.1M-3.5 65.2L-1.4 66.0M-1.4 62.1L-0.9 62.8M5.5 61.6L5.5 61.7M2.6 67.7L1.3 66.6M2.6 67.7L5.6 66.5M5.6 66.5L5.5 66.2M4.3 64.1L5.5 66.2M10.5 37.0L11.2 36.5M11.2 36.5L11.9 36.7M11.9 36.7L13.0 39.9M14.3 40.7L13.0 39.9M17.4 43.8L18.4 42.6M18.4 42.6L17.6 40.8M14.3 40.7L15.0 40.2M20.9 14.0L17.6 14.7M21.7 15.0L20.6 17.0M20.6 17.0L17.9 17.1M21.1 12.3L17.2 12.0M21.1 12.3L20.9 14.0M17.6 14.7L16.8 13.6M17.1 10.3L17.1 10.5M5.7 12.4L7.3 11.3M8.1 15.0L10.1 14.8M7.3 11.3L10.0 11.7M10.0 11.7L10.0 11.7M17.1 10.5L13.5 11.4M14.2 13.8L13.5 11.4M10.0 11.7L9.8 9.4M13.3 8.9L13.0 10.9M9.8 9.4L11.5 8.5M10.0 11.7L13.0 10.9M99.5 41.8L99.7 42.1M99.7 42.1L103.2 42.7M108.4 41.3L103.6 43.9M106.9 46.9L103.4 44.9M103.4 44.9L103.6 43.9M103.6 43.9L103.2 42.7M88.4 48.7L88.9 49.0M88.9 49.0L91.8 46.6M90.1 45.7L91.2 45.8M91.8 44.2L91.9 42.9M91.8 44.2L91.2 45.8M88.2 44.2L88.3 43.9M88.2 44.2L90.1 45.7M91.6 42.7L91.9 42.9M91.8 46.6L92.7 47.1M89.1 49.3L92.6 50.3M92.7 47.1L92.6 50.3M91.8 44.2L94.7 46.0M106.2 67.9L103.6 69.9M103.6 69.9L103.5 69.9M101.3 66.7L99.4 66.0M101.3 66.7L102.0 68.1M100.0 69.7L98.3 67.1M98.3 67.1L99.4 66.0M99.6 70.4L99.8 73.0M99.9 73.1L99.8 73.0M103.5 69.9L101.9 68.6M99.4 66.0L99.1 64.0M105.5 64.8L102.4 63.8M102.4 63.8L102.3 63.8M99.6 77.3L100.1 78.6M93.5 33.5L91.8 33.7M91.2 33.5L91.8 33.7M87.9 33.9L88.8 35.0M88.0 36.4L88.5 36.0M80.4 39.8L81.5 38.6M80.4 39.8L80.4 41.5M80.4 41.5L82.8 42.9M86.1 44.6L87.4 44.8M86.1 44.6L84.5 46.4M87.4 44.8L87.3 48.3M84.5 46.4L84.8 48.1M87.3 48.3L87.1 48.4M87.9 41.9L86.2 40.2M88.2 44.2L87.4 44.8M83.9 42.5L86.1 44.6M82.1 44.7L84.5 46.4M83.9 48.7L84.8 48.1M81.7 46.5L81.9 44.9M93.6 37.0L91.3 37.1M93.8 39.5L91.0 39.6M93.8 39.5L94.5 38.9M91.0 37.3L90.9 39.4M91.0 39.6L90.9 39.4M94.5 34.4L93.6 37.0M90.8 40.7L91.0 39.6M94.1 42.7L91.9 42.9M95.6 43.6L94.1 42.7M108.7 16.0L103.1 14.3M102.5 17.5L102.4 17.2M103.3 13.7L103.1 14.3M103.1 14.3L103.1 14.3M101.3 7.9L99.8 9.4M102.5 10.8L100.2 11.0M99.8 9.4L100.2 11.0M99.9 13.5L103.1 14.3M99.9 13.5L99.3 12.4M100.2 11.0L99.3 12.4M102.4 17.2L99.9 16.5M98.5 18.2L99.9 16.5M99.9 13.5L99.3 15.4M99.9 16.5L99.3 15.4M94.3 18.9L94.4 17.3M94.4 17.3L96.6 16.7M91.3 20.3L91.0 20.1M90.0 18.2L93.3 15.9M94.4 17.3L93.3 15.9M99.3 15.4L97.3 15.7M97.3 15.7L96.6 16.7M98.9 -6.7L97.7 -3.0M101.0 -4.5L99.6 -2.5M97.7 -3.0L99.6 -2.5M95.7 -5.5L97.2 -2.9M97.7 -3.0L97.2 -2.9M102.1 -1.0L100.3 -1.2M99.6 -2.5L100.3 -1.2M97.2 -2.9L96.1 -1.6M94.2 -2.3L96.1 -1.6M94.2 -2.3L93.5 -3.1M-0.9 -0.7L-0.7 -0.3M2.2 -1.4L1.6 -0.6M1.6 -0.6L-0.7 -0.3M-3.0 1.0L-0.7 -0.3M-1.5 3.8L0.1 3.0M-0.7 -0.3L0.1 3.0M70.0 48.3L68.8 47.7M66.4 49.0L66.7 51.0M66.7 51.0L68.1 52.1M63.4 49.3L65.8 48.6M64.6 52.0L66.7 51.0M65.8 48.6L66.4 49.0M67.8 54.0L68.0 53.6M68.0 53.6L68.1 52.1M66.1 54.7L64.0 52.9M68.0 53.6L72.1 54.2M72.1 54.2L72.1 52.0M72.1 52.0L68.9 51.6M56.6 36.3L56.8 35.7M56.6 36.3L56.3 38.7M60.1 37.2L61.1 38.7M67.6 42.0L65.8 42.8M67.6 42.0L69.1 45.3M69.1 45.3L68.5 46.2M68.5 46.2L65.7 44.9M65.7 44.9L65.8 42.8M81.4 37.8L79.2 35.8M77.7 38.8L78.0 37.4M79.2 35.8L78.0 37.4M81.3 29.9L78.4 32.6M76.4 31.0L78.4 32.6M82.2 33.6L79.2 34.9M78.4 32.6L79.2 34.9M79.2 35.8L79.2 35.0M79.2 34.9L79.2 35.0M68.1 40.0L71.0 38.6M68.1 40.0L66.8 37.7M67.1 37.1L66.8 37.7M69.3 35.5L71.0 38.6M64.2 40.0L64.9 42.2M68.1 41.4L68.1 40.0M65.1 33.5L69.6 34.6M65.1 33.5L64.9 33.8M64.9 33.8L67.1 37.1M69.6 35.0L69.6 34.6M69.6 35.0L69.3 35.5M58.1 9.0L59.3 8.5M59.3 8.5L59.7 5.4M61.2 0.7L59.7 3.0M59.7 3.0L58.9 3.5M72.5 11.0L71.0 12.3M72.5 11.0L71.6 7.8M70.0 8.6L70.6 11.9M70.0 8.6L71.5 7.8M70.6 11.9L71.0 12.3M71.6 7.8L71.5 7.8M67.8 11.6L70.6 11.9M67.8 11.6L67.2 9.9M68.6 8.5L67.2 9.9M69.7 5.0L71.5 7.8M68.0 7.4L68.6 8.5M67.0 13.8L67.8 11.6M76.9 16.5L75.8 15.8M66.8 9.9L64.4 8.4M64.4 8.4L63.1 8.5M62.5 11.8L64.1 12.7M62.5 11.8L62.2 9.4M62.2 9.4L63.1 8.5M66.5 5.9L64.4 8.4M66.7 14.1L64.6 13.3M64.6 13.3L64.1 12.7M59.3 8.5L62.2 9.4M62.1 12.0L62.5 11.8M61.2 16.3L64.9 18.2M63.6 15.2L65.3 17.7M65.3 17.7L65.0 18.1M60.2 17.4L59.4 17.1M60.2 17.4L61.2 16.3M60.9 14.8L61.2 16.2M60.2 17.4L60.5 19.3M62.6 20.3L64.9 18.2M64.6 13.3L63.6 15.2M67.1 16.5L65.3 17.7M66.0 19.5L68.8 19.5M66.0 19.5L65.0 18.1M55.7 33.6L56.9 34.7M55.7 33.6L55.6 31.6M59.5 31.1L59.7 33.3M59.5 31.1L58.9 29.8M55.6 31.6L58.9 29.8M53.8 23.2L54.5 25.0M50.6 24.5L51.8 27.9M50.5 28.9L51.6 28.3M51.8 27.9L51.6 28.3M52.0 32.6L53.6 30.4M51.6 28.3L53.6 30.4M52.8 33.9L52.0 32.6M52.8 33.9L55.7 33.6M55.6 31.6L55.1 30.7M53.6 30.4L55.1 30.7M59.5 31.1L63.1 30.0M63.4 30.3L63.1 30.0M72.5 11.0L75.1 10.8M75.1 10.8L75.6 12.2M74.5 15.0L74.8 15.5M75.8 15.8L74.8 15.5M75.6 12.2L78.7 12.2M80.2 15.0L82.5 12.7M80.4 16.6L81.2 17.2M82.5 12.7L83.8 16.3M82.6 11.6L82.6 11.6M82.6 11.6L78.8 12.0M69.8 16.9L71.5 18.2M74.3 17.1L71.5 18.2M68.8 19.5L69.4 21.2M69.4 21.2L71.9 20.1M71.5 18.2L71.9 20.1M90.0 18.2L88.9 17.7M90.1 14.2L88.6 15.1M88.9 17.7L88.6 15.1M82.6 11.6L84.6 11.7M83.8 16.3L84.5 16.6M84.5 16.6L84.5 16.6M86.3 12.5L86.0 12.5M84.5 16.6L88.3 15.0M86.3 12.5L89.4 10.1M90.2 11.7L89.4 10.1M88.3 15.0L88.6 15.1M33.1 18.1L35.7 16.7M32.5 15.0L35.3 15.6M35.7 16.7L35.3 15.6M35.9 20.2L36.1 20.1M35.9 20.2L36.3 22.3M39.3 23.2L39.7 22.1M33.4 19.9L35.9 20.2M36.1 20.1L36.6 17.4M30.9 11.2L33.1 12.3M29.3 15.4L32.3 14.9M29.3 15.4L28.5 12.7M28.3 8.7L29.5 11.7M30.2 7.6L31.3 9.2M32.5 15.0L32.3 14.9M34.5 11.7L33.1 12.3M34.5 11.7L36.3 13.3M35.3 15.6L36.3 13.3M27.3 12.4L26.0 11.4M32.7 8.9L34.7 11.1M32.7 8.9L34.0 6.7M34.4 6.7L34.0 6.7M34.4 6.7L35.1 10.5M31.3 9.2L32.7 8.9M34.5 11.7L34.7 11.1M37.9 9.3L38.3 8.3M33.2 0.8L29.8 0.9M37.3 1.1L37.0 0.5M37.0 0.5L33.6 -0.4M33.6 -0.4L33.2 0.8M30.1 -2.1L33.2 -1.9M33.2 -1.9L33.6 -0.4M32.1 3.8L32.1 3.8M33.2 -1.9L33.7 -2.6M33.2 -4.9L33.7 -2.6M74.2 60.5L74.9 60.5M74.2 60.5L73.8 57.7M78.1 58.7L76.2 56.6M73.8 57.7L76.2 56.6M68.4 55.0L67.8 54.0M68.4 55.0L70.7 56.1M70.7 56.1L72.0 55.4M72.1 54.2L72.2 54.5M72.0 55.4L72.2 54.5M69.9 77.8L68.9 79.9M69.9 77.8L68.8 75.7M66.6 79.3L66.8 75.6M63.6 74.2L64.1 75.3M67.3 71.2L66.7 75.5M66.1 54.7L65.6 56.1M67.9 57.8L67.9 57.8M67.9 57.8L69.8 58.0M73.6 57.6L70.5 59.1M69.8 58.0L70.5 59.1M59.5 78.5L60.6 76.7M60.6 76.7L63.8 75.8M63.8 75.8L63.7 77.6M64.9 80.0L63.7 77.6M66.8 75.6L66.7 75.5M64.1 75.3L63.8 75.8M12.8 43.8L17.0 45.3M20.6 42.9L19.6 46.1M9.0 49.4L12.5 51.6M11.7 53.3L12.5 51.6M11.7 53.3L12.9 55.0M12.1 58.8L12.9 55.0M45.4 35.6L46.8 34.1M39.8 33.6L41.5 35.0M61.6 50.4L58.6 52.6M62.8 53.2L62.7 53.3M59.9 54.2L62.7 53.3M3.9 36.5L2.3 33.9M3.9 36.5L0.4 36.8M1.0 34.3L1.9 33.7M0.4 36.8L0.3 36.6M4.0 36.7L3.9 36.5M6.6 35.4L7.1 33.6M7.1 33.6L6.5 33.1M6.5 33.1L2.3 33.9M1.1 39.6L0.4 36.8M-2.6 30.8L-1.3 30.7M-1.3 30.7L1.8 32.2M-2.4 36.7L0.3 36.6M5.2 30.8L6.5 33.1M2.8 30.9L1.8 32.2M16.8 1.2L14.5 1.3M-0.2 6.9L2.6 3.9M0.1 3.0L2.6 3.6M3.2 9.2L3.2 9.2M2.6 3.9L2.6 3.9M7.9 -1.7L10.6 -0.0M6.6 -0.8L6.9 1.0M10.2 1.9L10.6 -0.0M9.7 2.1L6.9 1.0M6.7 8.4L8.5 7.9M6.7 8.4L5.5 8.1M5.5 8.1L5.6 6.5M8.5 7.9L9.1 6.5M5.6 6.5L6.4 5.5M8.7 5.8L9.1 6.5M9.8 9.4L8.5 7.9M3.2 9.2L5.5 8.1M2.6 3.9L5.6 6.5M10.2 1.9L12.2 3.5M9.7 2.1L8.6 3.5M8.6 3.5L8.7 5.8M-0.1 69.5L3.2 70.3M2.6 67.7L3.3 70.1M0.5 72.0L3.2 73.1M3.0 74.5L3.4 73.4M13.5 73.7L10.4 75.9M13.6 73.5L12.9 71.6M12.9 71.6L9.7 72.8M8.8 67.4L6.4 67.9M6.8 70.0L6.2 68.8M6.8 70.0L8.7 70.7M6.4 67.9L6.2 68.8M9.7 68.3L10.0 69.3M3.3 70.1L6.2 68.8M5.6 73.1L6.8 70.0M5.6 73.1L3.4 73.4M6.9 73.5L9.0 72.4M13.2 70.6L12.9 71.6M5.6 66.5L6.4 67.9M34.8 23.2L32.0 22.2M31.6 23.3L32.0 22.2M33.4 19.9L31.9 21.5M32.0 22.2L31.9 21.5M32.9 18.0L30.3 17.9M30.3 17.9L29.5 20.3M29.3 15.4L29.3 15.4M30.3 17.9L29.3 15.4M17.9 17.4L16.5 20.1M19.8 19.7L16.5 20.1M17.5 16.5L14.8 17.1M14.2 13.8L13.6 14.4M14.8 17.1L13.6 14.4M10.4 15.1L13.6 14.4M29.7 30.0L28.2 32.1M28.2 32.1L26.3 30.7M27.4 28.3L26.4 28.7M26.9 34.1L24.8 33.6M24.8 33.6L23.7 31.7M99.7 42.1L99.7 44.2M99.7 44.2L101.5 45.5M101.5 45.5L102.4 45.5M104.7 50.4L102.6 48.1M95.6 43.6L95.9 44.6M95.2 45.8L95.9 44.6M97.1 44.9L95.9 44.6M92.6 50.3L92.8 50.6M92.4 52.4L91.9 52.6M91.9 52.6L88.4 52.4M104.8 61.0L103.7 59.4M104.8 61.0L102.2 62.4M104.7 57.1L103.7 59.4M102.4 63.8L102.2 62.4M99.0 63.9L99.1 64.0M99.0 63.9L99.1 62.7M99.1 62.7L100.9 60.3M100.9 60.3L101.0 60.4M96.7 67.1L95.7 64.5M96.7 67.1L98.3 67.1M95.7 64.3L95.7 64.5M104.7 50.5L100.1 50.5M100.1 50.5L100.4 53.3M101.5 53.5L100.4 53.3M99.6 77.3L96.3 76.3M95.6 79.0L96.3 76.3M99.8 73.0L96.2 73.6M96.2 73.6L96.3 76.2M96.3 76.3L96.3 76.2M95.2 79.3L93.2 76.8M95.5 73.1L93.2 73.6M95.5 73.1L95.5 69.4M92.5 71.1L92.7 73.4M92.7 73.4L93.2 73.6M95.5 69.4L95.5 69.3M96.2 73.6L95.5 73.1M99.6 70.4L95.5 69.4M92.3 67.7L90.7 68.5M90.7 68.5L90.4 70.3M90.4 70.3L92.5 71.1M96.7 67.1L95.5 69.3M92.3 67.7L92.3 66.4M92.3 66.4L95.7 64.5M90.4 70.3L89.6 71.3M89.6 71.3L89.9 73.7M76.8 60.2L77.9 63.1M74.9 60.5L77.1 64.5M77.1 64.5L77.4 64.6M77.4 64.6L77.8 64.1M81.4 63.4L77.8 64.1M81.4 63.4L80.9 61.0M80.1 60.6L80.9 61.0M96.7 60.5L99.1 62.7M96.7 60.5L95.0 61.8M95.7 64.3L94.9 62.2M82.7 60.3L80.9 61.0M82.7 60.3L84.9 61.1M84.9 61.1L84.9 62.8M81.7 46.5L80.1 48.4M80.1 48.4L80.4 50.5M80.4 50.5L81.0 50.6M73.8 57.7L73.6 57.6M75.0 54.3L72.2 54.5M75.0 54.3L76.0 54.7M76.0 54.7L76.4 55.7M80.1 48.4L78.5 46.6M78.5 46.6L78.6 45.0M77.5 42.8L80.4 41.5M77.7 44.0L78.6 45.0M97.3 15.7L96.8 13.3M93.2 15.5L94.0 13.9M94.0 13.9L96.8 13.3M102.1 -1.0L102.3 -0.7M101.3 7.9L101.2 6.1M97.9 8.4L98.3 6.9M98.3 6.9L101.2 6.1M104.4 6.0L102.0 4.9M101.2 6.1L102.0 4.9M97.6 0.8L100.0 -0.7M97.6 0.8L97.9 2.9M100.0 -0.7L100.7 2.3M97.9 2.9L100.7 3.2M100.7 2.3L100.7 3.2M96.1 -1.6L96.2 -0.7M96.9 5.0L96.9 3.7M96.9 5.0L98.3 6.9M96.9 3.7L97.9 2.9M101.7 3.9L100.7 3.2M94.2 -2.3L92.4 0.4M96.2 -0.7L94.1 1.0M94.1 1.0L92.4 0.4M91.8 -0.2L91.3 -2.5M91.3 -2.5L93.5 -3.1M92.3 0.4L92.4 0.4M91.8 -0.2L88.6 -0.2M88.6 -0.2L88.5 -1.5M91.3 -2.5L89.8 -3.3M86.7 -4.6L84.7 -2.3M84.7 -2.3L84.6 -2.2M82.5 -4.7L84.4 -2.4M88.6 -0.2L88.4 0.1M88.4 0.1L86.0 1.6M84.4 0.2L86.0 1.6M61.4 45.1L65.4 45.2M61.4 45.1L60.3 46.2M65.1 46.5L65.4 45.2M62.1 42.9L64.9 42.2M65.7 44.9L65.4 45.2M65.8 48.6L65.1 46.5M68.5 46.2L68.8 47.7M61.7 48.9L60.9 47.8M62.5 34.7L62.9 34.7M62.5 34.7L61.3 38.8M62.9 34.7L64.2 36.9M61.3 38.8L61.6 39.0M62.0 39.0L61.6 39.0M65.1 33.5L65.6 31.1M61.1 33.8L62.5 34.7M64.9 33.8L62.9 34.7M64.2 40.0L62.0 39.0M61.2 41.6L61.6 39.0M61.2 41.6L58.2 42.1M57.2 39.7L57.4 40.7M61.2 41.6L62.1 42.9M79.2 35.0L76.4 34.7M75.8 29.0L75.6 30.8M75.6 30.8L75.8 30.9M71.9 43.9L71.8 43.5M71.8 43.5L76.6 41.5M72.5 44.6L77.0 42.4M77.0 42.4L76.6 41.5M69.1 45.3L71.9 43.9M68.1 41.4L71.5 42.5M71.5 42.5L71.8 43.5M77.7 38.8L76.1 40.2M74.5 39.6L73.2 39.5M74.5 39.6L75.5 36.5M73.1 36.6L75.4 36.2M78.0 37.4L75.5 36.5M71.0 38.6L73.1 39.4M69.6 35.0L72.9 36.8M73.6 34.2L75.5 35.1M63.1 7.7L66.1 4.1M62.6 5.9L63.3 4.5M59.7 5.4L62.6 5.9M63.1 8.5L63.1 7.7M66.2 4.2L66.1 4.1M64.1 1.3L64.9 3.4M52.5 27.6L55.6 28.6M56.0 25.7L55.6 28.6M55.1 30.7L55.7 28.7M58.9 29.8L58.9 28.8M55.7 28.7L58.9 28.8M62.0 27.7L59.4 28.0M58.7 20.9L57.6 23.6M58.0 25.4L58.0 25.5M60.5 19.3L58.8 20.9M57.4 20.6L58.7 20.9M54.9 21.9L57.6 23.6M56.0 25.7L58.0 25.4M59.4 28.0L58.0 25.5M71.9 29.9L70.8 29.4M71.9 29.9L73.6 31.5M70.8 29.4L68.9 30.7M73.6 31.5L73.0 33.0M73.0 33.0L69.7 34.4M69.7 34.4L68.4 31.1M68.4 31.1L68.9 30.7M74.2 26.8L71.9 29.9M70.6 28.2L70.8 29.4M74.6 26.7L74.2 26.8M75.6 30.8L73.6 31.5M73.6 34.2L73.0 33.0M69.6 34.6L69.7 34.4M65.6 31.1L66.3 30.8M66.3 30.8L68.4 31.1M88.4 0.1L90.5 2.7M86.1 2.1L86.0 1.6M86.1 2.1L88.5 3.7M88.5 3.7L90.5 2.7M90.5 2.7L90.9 2.8M80.3 21.9L79.8 20.3M80.3 21.9L81.8 22.9M81.1 18.4L84.0 20.9M81.1 18.4L79.8 20.3M83.7 21.9L84.0 20.9M78.2 25.7L77.8 22.7M81.6 24.4L81.8 22.9M77.8 22.7L80.3 21.9M77.7 19.3L79.8 20.3M73.9 20.7L74.3 22.7M74.6 22.9L74.3 22.7M77.7 19.3L77.4 19.5M77.8 22.7L76.9 22.4M74.3 17.1L74.5 19.7M71.9 20.1L73.9 20.7M71.1 24.1L73.1 26.5M85.8 24.2L84.6 22.5M85.8 24.2L86.5 24.6M86.5 24.6L87.8 24.9M87.8 24.9L87.8 24.9M83.7 21.9L84.6 22.5M84.3 28.2L86.5 24.6M91.2 22.4L88.2 22.2M85.1 18.0L88.3 18.2M88.0 20.8L87.9 20.7M84.0 20.9L84.8 19.9M88.9 17.7L88.3 18.2M37.0 13.3L38.6 14.8M37.0 13.3L38.6 11.5M38.6 14.8L41.3 12.3M38.6 11.5L41.3 12.3M37.9 9.3L38.6 11.5M39.1 16.6L38.9 16.9M39.1 16.6L40.6 16.4M38.9 16.9L39.4 18.5M42.6 20.2L41.3 20.4M36.6 17.4L38.9 16.9M38.6 14.8L39.1 16.6M43.0 13.6L40.6 16.4M38.1 20.0L39.4 18.5M44.3 17.1L43.0 18.4M39.7 22.1L41.3 20.4M44.5 21.8L42.6 20.2M37.4 -1.9L35.8 -2.9M37.4 -1.9L39.9 -2.7M39.9 -2.7L37.7 -5.9M37.0 0.5L37.4 -1.9M33.7 -2.6L35.8 -2.9M40.5 -2.6L39.9 -2.7M71.4 74.0L72.8 76.7M71.4 74.0L69.5 74.9M68.8 75.7L69.5 74.9M67.6 70.4L68.1 70.1M68.1 70.1L68.0 68.0M68.0 68.0L65.6 66.4M65.6 66.4L63.4 68.0M63.9 69.0L63.4 68.0M69.5 74.9L67.6 70.4M67.3 71.2L67.6 70.4M71.5 73.7L70.2 70.4M69.3 70.2L68.1 70.1M63.6 74.2L63.6 74.2M69.1 65.1L68.0 68.0M69.1 65.1L66.5 64.2M66.5 64.2L65.6 66.4M63.6 74.2L61.3 72.7M60.6 76.7L59.7 73.8M59.7 73.8L61.3 72.7M63.9 69.0L61.3 72.5M61.3 72.7L61.3 72.5M63.4 68.0L62.9 67.7M59.9 70.6L61.3 72.5M75.8 67.2L73.2 67.9M75.8 67.2L76.2 69.8M73.2 67.9L73.1 69.1M74.6 70.5L76.2 69.8M78.1 69.5L79.0 67.9M77.8 65.9L79.0 67.3M77.8 65.9L75.8 67.2M79.0 67.9L79.0 67.3M69.1 65.1L70.1 64.8M70.1 64.8L70.9 65.8M70.9 65.8L73.0 67.3M77.8 65.9L77.4 64.6M74.7 64.4L73.0 67.3M17.2 48.6L20.1 46.9M17.2 48.6L16.5 46.5M16.5 46.5L17.0 45.3M20.1 46.9L20.1 46.7M14.8 50.7L13.8 46.9M12.8 51.3L11.9 48.9M13.8 46.9L13.6 46.8M15.7 50.8L16.0 52.2M16.0 52.2L14.5 55.1M17.2 48.6L17.1 50.0M17.1 50.0L15.7 50.8M9.8 47.5L11.9 48.9M54.0 36.4L56.6 36.3M56.3 38.7L54.8 39.1M53.4 37.4L53.5 38.7M45.3 35.6L42.8 37.8M41.3 36.7L42.8 37.8M46.2 39.0L43.1 38.5M43.1 38.5L42.8 37.8M59.9 54.2L59.7 55.4M62.7 53.3L63.3 55.8M59.9 55.8L60.7 56.3M60.7 56.3L63.3 55.8M65.6 56.1L64.3 56.9M67.4 58.6L67.3 61.0M67.4 58.6L63.7 58.5M63.7 58.6L66.5 61.5M67.3 61.0L66.5 61.5M67.9 57.8L67.4 58.6M62.5 59.2L63.7 58.6M52.8 33.9L52.3 34.6M48.3 34.7L48.5 34.9M48.5 34.9L52.3 34.6M52.3 34.6L52.3 35.4M58.2 42.1L58.1 44.0M24.2 77.8L22.3 79.4M12.4 66.6L13.7 68.2M13.2 70.6L13.4 70.3M13.4 70.3L13.7 68.2M10.4 15.1L10.6 16.9M7.1 33.6L8.0 33.3M11.2 36.5L11.1 35.9M11.1 35.9L8.0 33.3M10.3 27.9L8.7 29.2M10.3 27.9L11.0 28.6M11.0 28.6L10.7 31.7M8.7 29.2L8.5 30.2M8.5 30.2L9.3 31.7M9.3 31.7L10.7 31.7M10.3 26.1L10.3 27.9M10.3 26.1L8.4 25.8M7.1 27.7L8.4 25.8M5.8 28.1L7.1 27.7M5.8 30.0L5.2 30.8M8.0 33.3L9.3 31.7M11.1 35.9L12.2 32.2M12.2 32.2L10.7 31.7M11.3 -1.7L14.1 -2.5M11.3 -1.7L10.6 -0.0M10.6 -0.0L13.6 0.1M14.1 -2.5L13.6 0.1M14.5 -2.8L14.1 -2.5M14.5 1.3L13.6 0.1M6.2 3.9L3.3 2.8M6.2 3.9L6.5 3.7M3.6 2.3L3.4 2.6M3.4 2.6L3.3 2.8M2.6 3.6L3.3 2.8M6.4 5.5L6.2 3.9M8.6 3.5L6.5 3.7M5.0 -1.3L3.6 2.3M1.6 -0.6L3.4 2.6M10.4 75.9L10.4 75.9M10.4 75.9L7.7 75.4M3.8 75.8L7.7 75.4M6.1 78.5L7.7 75.4M9.3 65.2L10.0 64.5M9.3 65.2L7.4 65.0M10.0 64.5L9.1 62.8M7.4 65.0L6.4 61.7M9.1 62.8L6.9 61.6M6.9 61.6L6.4 61.7M12.4 66.6L12.0 64.7M12.0 64.7L10.0 64.5M8.8 67.4L9.3 65.2M5.5 66.2L7.4 65.0M11.1 60.8L9.1 62.8M11.1 60.8L12.5 64.2M12.5 64.2L12.0 64.7M7.9 60.2L6.9 61.6M11.5 59.3L11.1 60.8M27.6 22.6L25.8 23.2M25.8 25.2L28.5 26.3M29.4 24.3L29.0 26.1M29.0 26.1L28.5 26.3M31.6 23.3L29.4 24.3M29.5 20.3L28.7 20.5M28.7 20.5L27.6 22.6M27.4 28.3L28.5 26.3M24.1 27.3L25.8 25.2M27.3 12.4L25.0 15.2M29.3 15.4L27.8 16.2M27.8 16.2L25.0 15.2M25.0 15.2L24.0 15.3M24.0 15.3L23.8 15.5M21.7 19.5L22.3 23.1M20.1 19.9L19.3 21.4M22.3 23.1L21.7 23.7M21.7 23.7L21.6 23.7M17.9 17.4L17.9 17.1M19.8 19.7L20.1 19.9M24.9 22.7L22.3 23.1M24.9 22.7L25.8 23.2M24.1 27.3L23.3 27.5M23.3 27.5L21.7 23.7M16.5 20.1L15.8 20.9M17.4 22.2L15.8 22.0M17.4 22.2L19.3 21.4M15.0 40.2L15.6 37.5M14.9 36.1L15.6 37.5M37.2 35.3L36.6 36.7M40.6 37.2L36.7 36.8M76.7 80.2L77.6 77.5M80.6 79.3L77.6 77.5M75.3 76.6L74.7 76.2M77.6 77.5L77.3 76.4M75.3 76.6L77.3 76.4M71.5 73.7L74.6 72.8M74.7 76.2L74.6 72.8M80.6 79.3L80.7 76.9M80.7 76.9L77.8 75.8M77.3 76.4L77.8 75.8M74.7 72.6L74.6 72.8M96.2 48.5L99.1 47.6M99.9 50.2L100.0 49.8M100.0 49.8L99.2 47.6M99.2 47.6L99.1 47.6M95.2 45.8L96.2 48.5M97.1 44.9L99.1 47.6M92.8 50.6L95.7 50.2M96.6 52.1L96.3 50.7M96.6 52.1L97.5 53.5M97.5 53.5L99.1 54.1M99.1 54.1L99.7 53.9M100.1 50.5L99.9 50.2M99.7 53.9L100.4 53.3M96.6 52.1L93.4 54.6M93.4 54.6L92.4 52.4M102.6 48.1L100.0 49.8M101.5 45.5L99.2 47.6M93.4 54.6L93.5 55.4M94.9 55.8L93.5 55.4M89.7 56.6L92.5 56.4M89.1 55.4L91.9 52.6M93.5 55.4L92.5 56.4M95.7 58.1L95.6 56.5M99.1 54.1L98.2 56.7M99.8 58.9L101.3 57.3M101.3 57.3L99.7 53.9M99.8 58.9L100.9 60.3M96.7 60.5L96.9 60.1M93.0 59.4L95.0 61.8M93.0 59.4L93.0 59.3M92.5 56.4L93.0 59.3M102.9 54.7L103.7 56.4M104.6 56.8L103.7 56.4M101.5 53.5L102.9 54.7M80.8 80.3L84.7 77.2M82.3 75.3L80.7 76.9M84.5 76.7L84.7 77.2M86.2 74.4L84.5 76.7M85.4 72.5L81.8 72.8M81.6 69.6L83.6 67.8M82.0 71.3L84.8 69.6M86.0 71.5L86.3 70.3M82.0 71.3L81.8 72.8M84.8 69.6L86.3 70.3M88.3 67.8L87.4 68.6M88.3 67.8L90.7 68.5M89.9 73.7L86.0 71.5M86.9 69.8L86.3 70.3M80.7 66.5L83.6 67.1M83.6 67.1L84.2 66.4M79.0 67.9L81.6 69.6M79.0 67.3L80.7 66.5M83.6 67.8L83.6 67.1M81.5 63.5L81.6 64.4M84.5 66.2L84.2 66.4M84.5 66.2L87.4 68.6M84.9 62.8L85.3 63.3M84.5 66.2L85.3 64.8M88.3 67.8L88.4 66.0M85.3 64.8L88.4 66.0M93.0 59.4L91.3 60.1M89.1 55.4L88.3 54.7M87.1 48.4L85.9 51.9M82.9 50.3L85.0 52.2M85.9 51.9L85.0 52.2M82.7 60.3L82.3 58.1M86.4 59.1L84.9 57.0M82.3 58.1L84.9 57.0M77.7 44.0L76.6 44.9M72.8 45.2L76.6 44.9M76.6 44.9L75.5 47.1M76.5 48.1L75.5 47.1M72.8 45.2L72.9 46.5M75.5 47.1L72.9 46.5M70.0 48.3L72.0 48.3M92.9 11.9L93.1 9.3M92.9 11.9L93.7 12.5M93.7 12.5L96.1 9.7M96.0 9.6L96.0 9.7M96.0 9.7L96.1 9.7M90.2 11.7L92.9 11.9M89.4 10.1L89.4 9.7M94.0 13.9L93.7 12.5M97.6 12.2L96.1 9.7M94.9 6.6L92.7 6.1M92.0 8.6L92.7 6.1M97.9 8.4L96.0 9.7M94.9 6.6L96.9 5.0M79.8 -1.0L79.7 -3.1M63.4 22.6L62.4 23.9M63.4 22.6L65.3 22.6M65.3 22.6L65.0 25.8M62.6 25.2L65.0 25.8M60.5 23.7L62.4 23.9M66.0 19.5L66.2 22.5M66.2 22.5L65.3 22.6M62.0 27.7L62.6 25.2M66.3 30.8L66.3 29.6M68.0 28.0L66.3 29.6M62.3 27.9L65.8 27.4M65.0 25.8L66.2 26.6M66.2 26.6L65.8 27.4M65.8 27.4L66.3 29.6M69.2 21.8L66.3 22.6M69.2 21.8L70.8 24.1M70.8 24.1L69.4 26.2M69.4 21.2L69.2 21.8M66.2 22.5L66.3 22.6M71.1 24.1L70.8 24.1M66.2 26.6L67.2 26.0M70.6 28.2L69.4 26.2M68.0 28.0L68.5 26.3M94.9 3.2L92.6 5.9M92.6 5.9L91.7 5.2M94.1 1.0L94.7 2.9M92.7 6.1L92.6 5.9M56.1 56.9L59.7 55.4M56.1 56.9L58.4 59.6M59.9 55.8L59.2 59.2M58.4 59.6L59.2 59.2M59.2 59.2L62.4 59.3M65.7 63.1L65.8 63.1M65.8 63.1L66.5 61.5M62.4 59.3L62.3 61.6M62.5 65.5L62.4 65.8M62.4 65.8L59.6 65.2M66.5 64.2L65.8 63.1M58.7 67.5L59.6 65.2M58.4 59.6L58.3 60.0M58.3 60.0L61.2 62.4M56.9 62.0L57.0 63.1M56.8 67.9L55.7 66.8M56.8 67.9L58.7 67.5M55.7 66.8L56.4 63.7M70.1 64.8L72.9 62.5M70.1 64.8L69.1 61.1M70.5 60.2L69.1 61.1M70.5 60.2L72.9 61.7M72.9 61.7L72.9 62.5M70.1 64.8L70.1 64.8M74.7 64.4L72.9 62.5M67.3 61.0L69.1 61.1M74.2 60.5L72.9 61.7M23.2 44.7L20.1 46.7M12.1 58.8L12.9 59.1M16.8 56.3L15.3 58.3M12.9 59.1L15.3 58.3M53.5 38.7L52.0 38.8M52.3 35.4L50.7 38.1M48.5 34.9L50.3 38.1M50.7 38.1L50.3 38.1M44.2 62.1L42.0 63.1M44.2 62.1L42.2 59.6M42.2 59.6L39.5 61.3M42.0 63.1L39.5 61.3M59.6 48.2L57.4 48.6M58.6 52.6L58.5 52.5M58.5 52.5L58.3 51.5M24.2 77.8L23.9 76.0M20.4 77.7L22.7 75.7M20.4 77.7L20.4 78.7M27.0 76.8L25.9 81.1M30.5 76.5L27.6 75.2M30.5 76.5L29.4 78.8M26.8 75.4L27.6 75.2M26.8 75.4L27.0 76.8M26.8 75.4L26.5 75.3M26.5 75.3L23.9 76.0M16.5 74.2L16.8 75.6M17.2 73.5L19.5 74.0M19.4 76.8L17.1 76.1M16.8 75.6L17.1 76.1M13.6 73.5L16.5 74.2M13.5 73.7L13.9 77.0M13.9 77.0L16.8 75.6M16.2 78.9L17.1 76.1M20.4 77.7L19.4 76.8M17.6 70.7L18.4 70.1M18.4 70.1L18.4 70.1M18.0 69.1L16.7 66.5M-3.5 17.9L-1.6 20.2M-5.9 20.1L-2.6 21.8M-8.8 22.7L-2.6 21.8M-2.6 21.8L-2.6 21.8M-5.2 25.7L-2.4 23.2M5.8 28.1L4.4 27.0M8.4 25.8L7.8 25.3M7.8 25.3L5.3 24.6M2.3 28.5L0.2 28.7M0.5 26.2L-1.0 26.6M-1.3 30.7L0.2 28.7M2.8 30.9L2.3 28.5M4.4 27.0L3.6 27.2M3.6 27.2L2.4 28.2M3.6 27.2L1.5 24.4M1.5 24.4L0.5 26.2M1.5 23.9L-1.7 23.7M-2.4 23.2L-1.7 23.7M9.9 78.7L10.7 77.2M10.7 77.2L13.7 77.5M13.9 77.0L13.7 77.5M27.7 19.6L27.4 17.2M27.4 17.2L24.0 18.3M24.7 19.7L23.9 18.7M23.9 18.7L24.0 18.3M28.7 20.5L27.7 19.6M23.8 15.5L24.0 18.3M21.7 19.4L23.9 18.7M14.8 17.1L14.0 18.5M15.8 20.9L14.3 19.0M14.0 18.5L14.3 19.0M6.4 18.4L5.9 20.1M5.9 20.1L10.5 19.5M11.1 18.0L10.5 19.5M14.3 22.7L11.9 25.0M11.5 25.1L10.0 22.4M10.0 22.4L10.7 20.6M15.6 22.3L14.3 22.7M14.3 19.0L12.1 21.1M14.1 27.1L16.1 24.5M7.8 25.3L8.3 22.5M8.3 22.5L10.0 22.4M16.1 24.5L17.7 26.1M17.7 26.1L19.5 24.6M21.6 23.7L19.7 24.6M19.7 24.6L19.5 24.6M23.3 27.5L23.2 27.6M12.2 32.2L12.7 32.1M14.9 36.1L15.0 36.0M12.7 32.1L15.0 36.0M26.7 37.4L25.7 40.2M25.7 40.2L23.3 40.4M22.3 39.1L23.3 40.4M26.7 41.8L26.3 42.6M26.7 41.8L25.7 40.2M20.9 38.8L22.3 39.1M15.6 37.5L19.0 38.2M15.0 36.0L17.3 33.9M17.3 33.9L18.2 34.0M18.2 34.0L19.0 38.2M20.9 38.8L20.4 38.4M20.4 38.4L19.2 38.4M19.2 38.4L19.0 38.2M31.5 31.6L31.6 33.9M75.2 72.8L77.8 75.4M77.8 75.4L79.8 72.9M74.7 72.6L75.2 72.8M89.4 74.8L92.1 77.3M89.4 74.8L89.4 74.8M89.4 74.8L88.5 77.2M91.7 78.4L92.1 77.3M88.9 78.4L88.5 77.2M90.0 73.9L89.4 74.8M84.8 77.4L88.5 77.2M90.7 64.4L90.0 64.3M92.4 62.8L91.0 60.7M89.1 63.0L89.3 61.5M91.0 60.7L89.3 61.5M92.3 66.4L90.7 64.4M94.9 62.2L92.4 62.8M88.4 66.0L90.0 64.3M85.3 63.3L89.1 63.0M86.4 59.1L87.2 59.0M89.2 57.5L87.2 59.0M79.0 58.7L80.3 57.5M78.8 55.1L80.3 57.5M82.3 58.1L80.4 57.4M80.3 57.5L80.4 57.4M84.8 53.0L85.6 55.3M81.8 54.9L81.8 54.6M81.8 54.9L84.9 56.7M85.6 55.3L84.9 56.7M81.9 54.4L81.8 54.6M85.0 52.2L84.8 53.0M80.4 57.4L81.8 54.9M76.4 48.9L73.0 50.2M76.4 48.9L78.3 51.3M77.7 51.7L74.4 51.6M73.0 50.8L73.0 50.2M76.0 54.7L77.7 51.7M79.2 54.3L78.2 51.4M75.0 54.3L74.4 51.6M72.1 52.0L73.0 50.8M88.5 3.7L88.2 6.2M84.7 4.8L88.2 6.2M89.4 9.7L88.3 8.5M84.6 11.7L86.6 8.7M86.6 8.7L88.3 8.5M91.7 5.2L88.3 6.4M88.2 6.2L88.3 6.4M84.7 4.8L84.6 4.8M84.6 4.8L84.0 6.9M79.8 -1.0L79.6 -0.1M84.4 0.2L83.6 0.5M79.6 -0.1L80.0 0.3M83.6 0.5L80.0 0.3M71.8 7.7L72.8 5.0M71.8 7.7L71.6 7.8M72.8 3.7L72.8 5.0M79.6 -0.1L77.8 0.3M77.8 0.3L75.4 -2.5M72.3 -0.6L73.5 -0.3M74.6 -4.1L75.4 -2.5M73.5 -0.3L75.4 -2.5M75.4 -2.5L75.4 -2.5M50.4 78.3L46.4 77.7M46.4 77.7L49.0 82.1M50.5 76.6L50.4 78.3M50.5 76.6L52.0 75.0M53.0 79.1L53.7 76.0M53.7 76.0L52.0 75.0M54.6 80.4L56.7 77.8M53.7 76.0L55.3 75.7M55.3 75.7L56.7 77.8M59.4 78.5L58.1 77.9M58.1 77.9L56.7 77.8M59.7 73.8L58.6 73.9M58.1 77.9L58.6 73.9M57.1 70.6L57.0 73.4M54.1 70.6L53.9 72.4M53.9 72.4L56.3 73.7M57.0 73.4L56.3 73.7M56.8 67.9L56.6 69.8M51.7 73.4L53.9 72.4M51.7 73.4L52.0 75.0M22.8 50.7L23.9 48.2M22.8 50.7L20.3 49.8M23.9 48.2L21.0 48.3M20.3 49.8L21.0 48.3M24.1 48.1L23.9 48.2M25.7 49.0L25.7 51.4M22.9 51.9L22.8 50.7M25.7 51.4L24.8 52.4M19.2 50.7L20.0 52.6M22.9 51.9L21.7 52.7M20.0 52.6L21.7 52.7M24.1 46.2L24.1 48.1M17.1 50.0L19.2 50.7M17.0 56.2L17.1 53.6M17.1 53.6L19.9 52.8M16.0 52.2L17.1 53.6M20.0 52.6L19.9 52.8M36.7 36.8L36.8 38.9M36.8 38.9L40.0 39.2M42.2 40.7L43.1 38.5M58.7 45.1L54.8 47.3M57.4 48.6L54.9 47.6M48.1 44.2L47.4 46.8M48.1 44.2L51.4 46.9M47.9 47.3L47.4 46.8M47.9 47.3L50.6 48.1M51.4 46.9L50.6 48.1M49.1 39.1L47.0 38.9M45.8 40.7L48.8 43.0M48.8 43.0L49.6 42.2M46.2 39.0L47.0 38.9M51.9 42.1L49.6 42.2M48.3 34.7L47.0 38.9M44.8 41.8L42.2 40.7M44.8 41.8L45.8 40.7M44.8 41.8L44.8 43.7M44.8 43.7L48.1 44.2M48.7 43.3L48.1 44.2M48.7 43.3L48.8 43.0M51.7 73.4L51.0 72.9M55.4 53.5L56.0 56.9M56.0 56.9L56.0 56.9M56.9 62.0L54.6 60.3M56.0 56.9L54.6 60.3M53.3 63.2L53.3 63.0M53.3 63.0L52.2 60.8M52.4 63.8L50.7 63.9M50.7 63.9L49.9 62.8M55.7 66.8L54.4 66.9M56.4 63.7L53.3 63.2M54.6 60.3L54.6 60.3M54.6 60.3L53.3 63.0M49.9 66.5L49.9 66.6M49.9 66.5L50.7 63.9M49.5 62.6L49.2 61.7M49.2 61.7L45.7 61.1M44.9 62.2L45.6 63.8M49.9 66.5L49.6 66.6M49.9 62.8L49.5 62.6M49.6 66.6L46.9 63.9M49.6 66.6L47.1 68.0M47.0 67.9L45.9 64.0M43.6 65.7L45.1 67.3M45.1 67.3L47.0 67.9M29.0 72.9L29.1 70.8M33.0 71.8L33.1 72.3M33.0 71.8L29.9 70.6M30.5 76.5L31.5 76.3M27.6 75.2L29.0 72.9M31.5 74.1L31.5 76.3M22.3 71.3L19.7 70.9M22.3 71.3L22.6 72.3M22.6 72.3L22.2 74.0M18.4 70.1L19.7 70.9M19.5 74.0L19.8 73.8M25.5 72.7L26.5 75.3M22.7 75.7L22.2 74.0M1.7 23.6L1.7 20.5M1.7 23.6L5.1 24.1M5.1 24.1L6.0 21.1M3.2 19.8L5.7 20.3M3.2 19.8L1.7 20.5M5.7 20.3L6.0 21.1M1.5 23.9L1.7 23.6M-0.2 19.9L1.7 20.5M2.8 15.7L3.2 19.8M5.9 20.1L5.7 20.3M17.5 27.8L14.2 27.4M11.0 28.6L13.6 29.1M12.7 32.1L14.0 31.1M17.3 33.9L15.8 31.5M23.3 31.7L20.3 31.7M20.3 31.7L19.2 33.6M24.8 33.6L23.5 35.7M23.5 35.7L21.8 35.2M20.4 38.4L21.6 35.3M20.2 31.3L17.8 29.0M17.8 29.0L17.8 28.2M17.8 28.2L20.6 27.6M20.3 31.7L20.2 31.3M15.8 31.5L17.8 29.0M17.5 27.8L17.8 28.2M19.7 24.6L20.6 27.6M84.1 7.5L82.5 10.2M82.4 10.6L78.4 8.4M84.0 6.9L80.4 6.5M82.5 10.2L80.4 6.5M83.6 0.5L82.6 3.7M80.4 2.7L82.6 3.7M84.6 4.8L82.8 4.0M82.8 4.0L82.6 3.7M77.8 0.3L76.5 1.4M73.5 -0.3L74.6 1.4M73.2 3.6L74.6 1.4M47.7 75.0L46.5 75.0M46.5 75.0L46.4 75.3M24.1 46.2L27.3 45.3M26.3 42.6L27.5 45.0M27.3 45.3L27.5 45.0M25.7 49.0L28.4 48.4M27.3 45.3L28.4 48.4M26.7 41.8L30.2 41.3M28.7 44.6L27.5 45.0M30.2 41.3L30.4 41.8M28.7 44.6L30.3 45.8M30.3 45.8L32.3 43.4M25.1 54.2L23.5 55.8M26.5 54.6L27.1 55.9M25.3 58.1L23.5 55.8M21.7 52.7L23.2 55.8M19.6 56.2L22.0 56.4M22.0 56.4L23.2 55.8M24.8 52.4L25.1 54.2M23.5 55.8L23.2 55.8M32.3 43.4L33.1 43.6M33.1 43.6L33.7 44.4M30.5 47.9L32.5 48.3M33.7 44.4L32.5 48.3M36.8 38.9L36.7 39.1M41.0 41.3L40.9 41.5M38.7 41.7L36.7 39.1M33.8 36.3L33.4 39.6M33.4 39.6L35.1 40.4M54.6 47.1L51.9 46.6M51.9 45.2L53.0 42.7M53.2 42.7L53.0 42.7M58.1 44.0L54.9 43.9M54.8 47.3L54.6 47.1M48.7 43.3L51.9 45.2M51.9 42.1L53.0 42.7M54.8 39.1L53.2 42.7M51.0 72.8L49.6 71.1M49.6 71.1L51.3 68.9M53.0 69.7L52.7 69.1M51.0 72.9L51.0 72.8M46.5 75.0L46.4 74.6M49.6 71.1L49.4 71.0M46.4 74.6L49.4 71.0M47.1 68.0L47.0 69.4M47.0 69.4L49.4 71.0M34.5 61.7L35.8 61.0M35.5 64.5L36.7 65.1M38.3 64.1L36.7 65.1M41.5 67.5L41.7 66.0M41.5 67.5L38.5 67.3M39.9 65.3L38.5 67.3M41.7 66.0L41.7 66.0M43.6 65.7L41.7 66.0M45.1 67.3L42.3 69.1M42.3 69.1L41.6 68.4M41.6 68.4L41.5 67.5M38.7 61.9L39.4 61.3M39.4 61.3L39.5 61.3M38.3 64.1L39.9 65.3M44.2 62.1L44.9 62.2M53.1 57.1L51.9 55.7M51.9 55.7L49.1 57.3M52.1 59.2L49.4 59.0M49.4 59.0L49.0 58.5M52.5 59.8L52.1 59.2M56.0 56.9L53.1 57.1M49.2 61.7L49.4 59.0M33.1 72.3L34.8 74.0M31.5 76.3L33.0 77.1M32.5 80.2L33.4 77.8M33.4 77.8L33.0 77.1M27.1 55.9L29.5 56.9M29.5 56.9L27.1 59.2M27.1 59.2L25.5 58.8M30.1 61.9L32.5 62.3M30.1 61.9L29.5 62.2M29.5 62.2L29.9 65.0M32.5 62.3L33.1 65.3M29.9 65.0L32.7 66.0M33.1 65.3L32.7 66.0M35.5 64.5L33.1 65.3M34.1 61.6L32.5 62.3M28.8 66.6L29.9 65.0M28.8 66.6L31.6 68.2M33.0 67.6L32.7 66.0M33.0 67.6L31.6 68.2M23.2 69.6L22.7 67.4M23.2 69.6L26.7 70.3M22.7 67.4L27.6 67.5M25.5 72.7L26.7 70.3M22.3 71.3L23.2 69.6M29.9 70.6L31.6 68.2M29.1 70.8L27.7 69.8M27.6 67.3L27.6 67.5M27.6 67.3L28.8 66.6M22.0 56.4L22.3 59.1M25.5 58.8L24.8 59.5M22.7 67.4L22.5 66.4M22.7 67.4L20.2 68.5M22.5 66.4L19.7 65.1M20.2 68.5L19.6 67.0M18.4 70.1L20.2 68.5M22.7 67.4L22.7 67.4M16.7 66.5L16.8 66.0M75.1 10.8L75.3 9.6M78.4 8.4L78.3 8.2M78.3 8.2L75.3 9.6M71.8 7.7L74.2 8.3M72.8 5.0L75.0 6.6M75.0 6.6L74.2 8.3M35.3 74.0L34.8 74.0M33.4 77.8L36.8 78.1M36.9 75.0L36.8 78.1M30.3 40.7L26.8 37.4M31.0 39.9L31.0 37.9M31.0 37.9L29.9 36.5M30.2 41.3L30.3 40.7M35.1 40.4L35.1 40.6M33.8 36.3L31.0 37.9M30.6 34.1L29.9 36.5M26.9 34.1L26.8 37.4M28.2 52.2L28.7 53.1M28.7 53.1L28.8 53.2M32.1 51.8L31.6 51.9M32.1 51.8L32.5 48.4M28.8 48.5L28.9 49.9M25.7 51.4L28.2 52.2M30.4 55.9L32.2 55.4M30.4 55.9L28.8 53.2M26.5 54.6L28.7 53.1M29.5 56.9L29.8 56.8M29.8 56.8L30.4 55.9M32.7 56.0L36.0 57.1M33.2 58.9L36.1 57.8M36.0 57.1L36.1 57.7M36.1 57.8L36.1 57.7M31.0 59.2L33.0 58.9M34.1 61.6L33.2 58.9M35.8 61.0L36.1 57.8M39.4 61.3L38.6 58.3M38.6 58.3L36.1 57.7M36.4 44.9L37.2 43.3M38.7 41.7L37.6 43.1M37.6 43.1L37.2 43.3M33.0 71.8L34.6 69.7M36.7 71.6L34.6 69.7M41.6 68.4L38.8 69.6M38.8 69.6L37.0 67.9M36.7 65.1L36.6 67.7M34.7 68.8L36.6 67.7M34.7 68.8L34.6 69.7M36.6 67.7L37.0 67.9M42.2 59.6L42.6 58.3M40.8 56.2L38.6 58.3M40.8 56.2L41.8 56.5M41.8 56.5L42.6 58.3M54.6 53.0L55.0 50.6M54.6 53.0L52.7 53.2M52.7 53.2L50.6 50.6M55.0 50.6L54.5 49.4M55.4 53.5L54.6 53.0M56.9 50.4L55.0 50.6M51.9 54.4L52.7 53.2M54.9 47.6L54.5 49.4M25.2 61.8L28.7 61.8M25.2 61.8L24.5 64.2M24.5 64.2L25.7 64.6M25.7 64.6L29.1 62.1M29.1 62.1L28.7 61.8M27.1 59.2L28.7 61.8M24.6 60.4L25.2 61.8M24.1 64.4L24.5 64.2M27.6 67.3L25.7 64.6M24.1 64.4L22.5 66.4M18.9 57.5L17.7 61.1M17.7 61.1L19.9 62.1M21.3 59.9L20.9 61.6M19.9 62.1L20.9 61.6M22.3 59.1L21.3 59.9M15.3 58.3L17.7 61.1M22.0 62.0L20.9 61.6M13.7 63.7L16.4 65.4M13.7 63.7L14.4 61.7M16.4 65.4L17.5 61.3M14.4 61.7L17.5 61.3M12.5 64.2L13.7 63.7M12.9 59.1L14.4 61.7M17.7 61.1L17.5 61.3M79.2 6.3L79.2 4.4M78.6 6.9L76.1 5.7M79.2 4.4L76.9 3.1M76.9 3.1L75.8 4.8M80.4 2.7L79.2 4.4M80.2 6.5L79.2 6.3M75.0 6.6L76.1 5.7M73.2 3.6L75.8 4.8M33.3 53.2L34.6 53.0M36.0 57.1L36.2 56.3M36.2 56.3L34.6 53.0M40.8 56.2L40.6 55.9M44.8 43.7L43.3 45.1M47.4 46.8L44.5 47.3M44.5 47.3L43.3 45.9M40.9 41.5L41.3 43.4M43.3 45.1L41.3 43.4M41.3 43.4L40.0 44.3M43.7 55.1L44.9 54.9M43.7 55.1L41.6 51.1M44.9 54.9L44.6 50.6M44.2 50.3L44.6 50.6M45.8 58.7L45.7 55.2M41.8 56.5L43.7 55.1M45.7 55.2L44.9 54.9M41.6 51.1L40.7 53.8M40.6 55.9L40.7 53.8M41.6 51.1L39.9 50.1M47.9 47.3L47.1 50.9M47.1 50.9L44.6 50.6M48.2 55.5L45.9 55.1M48.2 55.5L49.1 54.2M45.9 55.1L47.9 51.4M49.1 57.3L48.2 55.5M45.7 55.2L45.9 55.1M51.9 54.4L49.1 54.2M47.1 50.9L47.9 51.4M50.6 50.6L48.5 51.5M38.1 53.0L37.7 53.6M38.1 53.0L38.6 50.4M37.7 53.6L34.6 53.0M39.9 50.1L38.6 50.4M34.6 53.0L34.6 53.0M32.5 48.4L33.8 48.6M33.8 48.6L35.4 51.7M35.7 48.2L37.0 49.4M35.7 48.2L36.6 45.4M33.8 48.6L35.7 48.2M37.6 50.2L37.0 49.4M36.4 44.9L36.6 45.4M36.9 75.0L37.8 74.6M36.7 71.6L37.5 71.6M37.8 74.6L38.8 73.3M38.8 73.3L37.5 71.6M38.8 69.6L38.8 69.7M37.5 71.6L38.8 69.7M42.5 69.5L40.6 72.2M42.5 69.5L45.0 71.1M41.9 73.7L41.3 73.8M41.9 73.7L44.9 72.2M41.3 73.8L40.5 73.1M40.6 72.2L40.5 73.1M42.3 69.1L42.5 69.5M47.0 69.4L45.0 71.1M46.4 75.3L43.6 75.3M46.4 74.6L44.9 72.2M43.6 75.3L41.9 73.7M38.8 73.3L40.5 73.1M41.0 76.3L40.5 76.7M42.3 76.7L44.6 78.6M37.8 74.6L40.5 76.7M41.3 73.8L41.0 76.3M43.6 75.3L42.3 76.7M46.0 77.4L44.6 78.6" fill="none" stroke="#dc9ea6" stroke-width="0.8"/>
<path d="M2.8 50.4h0.01M100.1 36.6h0.01M2.3 12.6h0.01M52.0 32.6h0.01M34.1 32.6h0.01M53.6 9.9h0.01M47.6 1.5h0.01M25.6 10.1h0.01M8.1 42.7h0.01M100.9 22.2h0.01M74.9 60.5h0.01M84.6 36.9h0.01M82.4 39.0h0.01M94.8 23.8h0.01M90.0 18.2h0.01M78.3 25.7h0.01M33.1 18.1h0.01M38.5 23.7h0.01M46.3 9.3h0.01M25.1 4.0h0.01M81.3 29.9h0.01M65.8 48.6h0.01M5.8 47.6h0.01M31.6 25.8h0.01M11.5 59.3h0.01M10.8 40.5h0.01M7.6 57.2h0.01M7.7 56.8h0.01M87.8 31.1h0.01M95.6 43.6h0.01M90.8 40.7h0.01M69.1 45.3h0.01M63.1 0.3h0.01M71.1 24.1h0.01M62.6 20.3h0.01M59.7 33.3h0.01M90.2 11.7h0.01M81.2 17.2h0.01M43.0 13.6h0.01M58.1 3.3h0.01M49.2 18.3h0.01M53.4 3.0h0.01M10.5 37.0h0.01M1.6 8.9h0.01M11.9 36.7h0.01M17.5 16.5h0.01M92.8 50.6h0.01M94.7 46.0h0.01M90.4 70.3h0.01M83.9 48.7h0.01M80.4 50.5h0.01M93.8 39.5h0.01M91.3 37.1h0.01M98.5 18.2h0.01M66.7 51.0h0.01M65.7 44.9h0.01M69.6 34.6h0.01M70.6 11.9h0.01M74.5 15.0h0.01M61.2 16.2h0.01M55.6 31.6h0.01M75.1 10.8h0.01M82.5 12.7h0.01M86.0 12.5h0.01M84.5 16.6h0.01M32.3 14.9h0.01M32.7 8.9h0.01M37.0 0.5h0.01M75.0 54.3h0.01M63.6 74.2h0.01M16.5 46.5h0.01M8.6 3.5h0.01M5.5 8.1h0.01M3.3 70.1h0.01M3.2 73.1h0.01M9.7 72.8h0.01M10.0 69.3h0.01M32.0 22.2h0.01M29.3 15.4h0.01M95.9 44.6h0.01M96.7 60.5h0.01M92.7 73.4h0.01M95.5 69.4h0.01M82.7 60.3h0.01M76.4 55.7h0.01M97.6 12.2h0.01M75.5 35.1h0.01M71.9 43.9h0.01M73.1 39.4h0.01M58.9 28.8h0.01M57.6 23.6h0.01M69.7 34.4h0.01M68.9 30.7h0.01M77.4 19.5h0.01M74.6 22.9h0.01M87.8 24.9h0.01M88.2 22.2h0.01M84.8 19.9h0.01M88.3 18.2h0.01M38.6 14.8h0.01M59.7 73.8h0.01M58.7 67.5h0.01M73.0 67.3h0.01M20.1 46.9h0.01M20.1 46.7h0.01M43.1 38.5h0.01M42.8 37.8h0.01M63.7 58.5h0.01M58.7 45.1h0.01M10.6 16.9h0.01M4.4 27.0h0.01M9.3 31.7h0.01M25.0 15.2h0.01M93.5 55.4h0.01M96.9 60.1h0.01M80.7 66.5h0.01M88.3 54.7h0.01M96.0 9.7h0.01M63.4 22.6h0.01M55.7 66.8h0.01M62.3 61.6h0.01M72.9 62.5h0.01M24.1 48.1h0.01M44.8 43.7h0.01M17.2 73.5h0.01M18.0 69.1h0.01M12.1 21.1h0.01M25.7 40.2h0.01M32.8 34.1h0.01M30.6 34.1h0.01M75.2 72.8h0.01M89.4 74.8h0.01M57.1 70.6h0.01M22.8 50.7h0.01M40.8 56.2h0.01M47.9 47.3h0.01M51.4 46.9h0.01M50.6 48.1h0.01M49.1 39.1h0.01M47.7 75.0h0.01M53.3 63.0h0.01M52.2 60.8h0.01M49.6 66.6h0.01M27.6 67.3h0.01M13.6 29.1h0.01M21.7 27.9h0.01M82.8 4.0h0.01M30.3 45.8h0.01M33.8 36.3h0.01M31.0 59.2h0.01M33.7 44.4h0.01M52.7 69.1h0.01M39.9 65.3h0.01M46.0 58.9h0.01M49.1 57.3h0.01M49.4 59.0h0.01M29.5 62.2h0.01M33.1 65.3h0.01M28.9 49.9h0.01M37.6 43.1h0.01M54.5 49.4h0.01M18.9 57.5h0.01M79.2 6.3h0.01M37.7 53.6h0.01M42.5 69.5h0.01M40.6 72.2h0.01M44.9 72.2h0.01" fill="none" stroke="#a86c7c" stroke-opacity="0.5" stroke-width="1.3" stroke-linecap="round"/></g>
<g filter="url(#bl2)" opacity="0.8"><rect x="-3" y="8" width="8" height="55" fill="#f0c8c4"/><ellipse cx="20" cy="2" rx="12" ry="4" fill="#efcfcc"/></g>
<g filter="url(#bl2)" fill="#fcf8f2" opacity="0.6"><ellipse cx="74" cy="52" rx="9" ry="12"/><ellipse cx="48" cy="14" rx="12" ry="8"/></g>
<g filter="url(#bl)" fill="#c8446e"><ellipse cx="55.6" cy="3" rx="5" ry="3"/><ellipse cx="46.4" cy="33" rx="2.8" ry="2.4"/><ellipse cx="23" cy="40.5" rx="4.4" ry="3.2"/><ellipse cx="97.5" cy="47.5" rx="2.5" ry="3.5"/><ellipse cx="19" cy="72" rx="3" ry="2.5"/><ellipse cx="48.5" cy="72" rx="3" ry="2"/></g>
<path d="M11,48 L21,42" stroke="#c05a7a" stroke-width="1.1"/>
<ellipse cx="40" cy="47.7" rx="12.4" ry="12.8" fill="#faf4e4"/>
<path d="M27.8,44 C27.4,52 31,59 38,60.5 C44,61.3 49,59 52,55" fill="none" stroke="#5a3444" stroke-width="1.0"/>
<path d="M27.8,44 C29,39 33,35.5 38,35 C44,34.6 49,37 51.5,42 C52.6,46 52.6,50 52,55" fill="none" stroke="#82586a" stroke-width="0.8"/>
<path d="M53.5,40 C56,38.5 59,37.5 62,37.2" fill="none" stroke="#8a5466" stroke-width="0.8"/>
<path d="M61.5,44.5 C60.3,50 61,56 63,61" fill="none" stroke="#6a4050" stroke-width="0.9"/>
</g>
<g transform="translate(108.8,180)" clip-path="url(#c1)">
<rect x="0" y="0" width="101" height="75" fill="#f8e0ec"/>
<g filter="url(#tx)"><path d="M-3.6 -2.4L-2.6 -4.4M-4.4 3.7L-1.8 2.4M-1.8 2.4L-2.7 0.2M0.2 -1.8L-1.6 -0.0M-1.6 -0.0L-2.7 0.2M100.0 10.8L100.0 10.8M100.0 10.8L99.8 12.1M100.0 10.8L96.2 10.4M99.8 12.1L98.2 13.7M98.2 13.7L97.7 13.7M93.2 16.4L95.2 15.4M95.2 15.4L95.8 14.0M95.8 14.0L95.2 13.4M92.3 13.8L95.2 13.4M97.7 13.7L95.8 14.0M94.7 10.1L95.6 10.1M96.2 10.4L95.6 10.1M95.2 13.4L94.4 10.6M92.0 27.8L89.9 29.5M92.0 27.8L93.1 29.4M89.9 29.5L91.7 32.3M93.1 29.4L93.4 30.3M93.4 30.3L91.8 32.4M91.7 32.3L91.8 32.4M103.2 -4.2L104.6 -1.6M33.9 23.2L33.1 23.7M33.9 23.2L33.5 20.6M33.5 20.6L31.2 21.1M1.4 15.5L-1.9 13.0M1.8 12.7L-1.9 13.0M-4.6 13.6L-3.0 13.6M-2.0 13.0L-1.3 10.9M-3.9 9.7L-1.3 10.9M-4.4 36.4L-2.7 36.3M-2.7 36.3L-1.5 39.6M-4.5 40.1L-1.5 39.6M1.0 19.0L-1.3 20.8M1.0 19.0L0.0 16.9M-1.9 17.7L-2.7 18.9M-1.9 17.7L-1.4 17.2M-2.7 18.9L-1.3 20.8M0.0 16.9L-1.4 17.2M2.5 19.5L3.5 16.3M3.5 16.3L1.5 15.6M-3.8 18.9L-2.7 18.9M-4.9 14.9L-1.9 17.7M-3.0 13.6L-1.4 17.2M1.4 15.5L1.5 15.6M-1.9 13.0L-2.0 13.0M102.0 78.1L102.3 77.8M102.3 77.8L150.0 81.0M103.8 57.5L102.8 54.4M103.8 57.5L107.1 53.3M104.1 52.4L103.0 52.9M92.3 55.2L95.4 55.1M92.3 55.2L92.5 52.4M95.8 54.6L95.4 55.1M95.8 54.6L95.6 53.9M95.6 53.9L92.5 52.4M109.0 12.9L103.9 10.3M103.5 10.7L103.9 10.3M103.5 10.7L103.7 12.9M106.1 13.5L103.7 12.9M103.5 10.7L100.0 10.8M99.8 12.1L102.2 13.8M103.7 12.9L102.2 13.8M103.9 10.3L104.4 7.8M96.2 30.7L94.5 31.0M96.2 30.7L96.7 33.8M94.5 31.0L94.9 34.1M96.7 33.8L95.6 34.4M94.9 34.1L95.6 34.4M97.1 30.0L98.5 33.5M97.1 30.0L96.2 30.7M98.5 33.5L96.7 33.8M95.9 36.2L95.6 34.4M95.9 36.2L92.4 37.0M94.9 34.1L93.0 34.3M92.4 37.0L93.0 34.3M93.0 38.7L92.6 40.6M93.0 38.7L92.1 37.5M89.3 40.4L89.4 37.4M92.1 37.5L89.4 37.4M93.4 30.3L94.5 31.0M91.8 32.4L92.2 33.7M93.0 34.3L92.2 33.7M97.1 30.0L97.2 29.9M96.4 28.4L97.2 29.9M83.0 53.3L84.7 51.2M81.3 52.7L81.3 51.2M81.3 51.2L82.7 50.7M83.0 53.3L83.5 55.0M83.5 55.0L84.5 55.6M84.7 51.2L85.8 50.9M84.5 55.6L86.5 54.4M86.5 54.4L85.8 50.9M103.7 46.1L102.3 48.3M104.4 42.4L103.9 44.2M101.2 44.6L103.4 45.0M103.4 45.0L103.9 44.2M117.5 46.3L103.9 44.2M100.6 39.6L102.4 38.0M100.6 39.6L101.3 41.5M102.4 38.0L105.0 40.4M100.1 33.1L102.2 36.2M98.9 36.1L99.0 33.6M98.9 36.1L102.2 37.2M102.2 37.2L102.2 36.2M102.7 32.6L100.9 31.9M102.7 32.6L103.5 34.4M100.9 31.9L100.1 33.1M102.2 36.2L103.5 34.4M95.8 38.7L96.4 39.5M95.8 38.7L96.2 36.8M96.4 39.5L98.4 40.2M96.2 36.8L98.4 36.7M99.5 39.6L98.4 40.2M93.0 41.8L93.8 42.1M93.0 41.8L92.6 40.6M93.8 42.1L95.3 41.3M93.0 38.7L95.8 38.7M95.3 41.3L96.4 39.5M95.9 36.2L96.2 36.8M92.4 37.0L92.1 37.5M97.0 43.0L98.1 42.8M98.3 42.4L98.1 42.8M98.9 36.1L98.4 36.7M98.5 33.5L99.0 33.6M102.4 38.0L102.4 37.7M98.3 42.4L101.0 42.5M77.8 37.3L76.6 36.7M76.1 40.0L74.4 39.5M76.1 40.0L78.1 39.6M77.8 37.3L78.1 39.6M76.6 36.7L74.4 37.6M74.4 39.5L74.4 37.6M75.2 34.6L72.7 35.9M16.1 -0.3L14.0 -2.2M16.1 -0.3L12.4 0.1M14.0 -2.2L12.2 -0.9M12.4 0.1L12.2 -0.9M12.5 -4.6L10.9 -1.9M10.9 -1.9L12.2 -0.9M54.8 30.6L57.5 29.2M57.5 27.8L57.5 29.2M57.5 27.8L55.5 26.6M55.5 26.6L53.8 28.6M57.5 29.2L58.7 30.0M58.7 30.0L61.0 28.0M61.0 28.0L59.8 25.7M60.0 32.0L62.1 30.4M60.0 32.0L59.3 31.4M62.1 30.4L62.7 29.1M61.0 28.0L62.7 29.1M62.3 9.4L62.4 11.2M62.3 9.4L64.3 9.1M64.3 9.1L65.8 10.9M64.0 12.5L65.8 10.9M69.2 14.9L69.1 15.2M69.2 14.9L66.9 13.3M66.9 13.3L66.8 13.3M86.2 27.3L88.1 25.7M86.2 27.3L87.7 30.5M87.7 30.5L88.6 29.9M88.6 29.9L88.9 26.2M88.9 26.2L88.1 25.7M92.0 27.8L92.0 27.3M89.9 29.5L88.6 29.9M62.1 30.4L64.0 33.2M62.7 29.1L62.7 29.1M62.7 29.1L64.8 30.2M64.8 30.2L64.0 33.2M71.4 34.6L72.8 31.7M71.4 34.6L71.6 35.9M72.8 31.7L74.3 32.0M71.6 35.9L72.7 35.9M74.3 32.0L75.5 33.7M77.4 30.2L75.7 29.8M77.4 30.2L78.1 32.0M75.7 29.8L75.1 31.1M75.1 31.1L78.1 32.0M77.8 37.3L77.9 33.1M104.6 -1.6L102.6 0.2M102.6 0.2L105.0 2.2M88.9 17.3L86.3 17.7M86.6 14.8L89.1 15.6M86.3 17.7L85.3 15.6M67.3 -1.3L66.9 0.5M67.3 -1.3L64.5 -2.7M66.9 0.5L64.0 0.3M64.0 0.3L63.6 -1.6M64.5 -2.7L63.6 -1.6M64.8 -3.6L64.5 -2.7M68.6 -2.6L68.6 -3.9M64.6 3.8L66.7 4.2M64.6 3.8L63.6 1.0M63.6 1.0L64.0 0.3M66.7 4.2L67.1 4.2M67.2 0.9L66.9 0.5M67.2 0.9L67.3 3.6M67.1 4.2L67.3 3.6M87.8 85.0L88.3 77.6M88.3 77.6L86.0 79.5M35.7 32.7L35.7 34.6M36.2 35.6L35.7 34.6M36.2 35.6L38.5 34.9M35.7 32.7L35.1 32.2M36.6 28.8L34.8 30.7M36.6 28.8L38.5 31.5M35.1 32.2L34.8 30.7M34.6 23.3L36.9 20.7M38.0 21.6L37.1 20.7M36.3 24.6L38.0 24.2M36.5 16.1L35.0 18.6M36.5 16.1L36.0 15.6M32.6 16.5L35.0 18.6M36.9 20.7L34.9 18.9M33.8 19.5L34.9 18.9M39.7 17.5L39.6 17.2M39.7 17.5L37.1 20.7M36.5 16.1L38.0 16.2M38.0 16.2L39.6 17.2M34.9 18.9L35.0 18.6M1.8 12.7L2.6 11.3M3.2 11.5L2.6 11.3M3.2 11.5L4.9 15.7M5.6 19.8L4.3 21.0M5.6 19.8L4.9 16.5M2.5 19.5L3.0 20.6M4.3 21.0L3.0 20.6M4.9 16.5L4.7 16.0M16.5 19.3L16.0 20.4M16.5 19.3L15.7 16.3M15.7 16.3L15.3 16.2M13.6 20.2L16.0 20.4M13.6 20.2L12.6 19.0M15.3 16.2L12.6 19.0M15.0 2.7L13.4 2.1M16.2 -0.2L16.1 -0.3M12.4 0.1L12.3 0.3M10.8 23.7L11.5 22.8M11.5 22.8L13.1 22.5M13.1 22.5L14.3 23.8M12.9 26.4L13.0 26.4M13.0 26.4L14.4 24.7M14.4 24.7L14.3 23.8M13.0 26.4L16.3 28.6M16.3 28.6L16.5 25.5M14.4 24.7L16.5 25.5M13.6 20.2L13.1 22.5M16.0 20.4L16.9 21.9M14.3 23.8L16.9 21.9M18.8 27.1L18.8 28.5M16.5 28.9L18.4 28.8M18.4 28.8L18.8 28.5M16.3 28.6L16.4 28.8M16.5 25.5L18.2 24.8M-4.9 41.8L-1.4 43.0M1.6 35.7L0.3 36.2M1.6 35.7L1.7 35.4M0.3 36.2L-1.5 35.8M1.7 35.4L1.0 33.5M1.0 33.5L-0.8 32.7M-0.8 32.7L-1.5 35.8M-2.4 36.0L-3.4 32.1M103.6 72.6L103.3 71.0M102.3 74.0L103.6 72.6M102.3 74.0L103.4 76.1M103.4 76.1L108.0 74.9M103.4 76.1L102.3 77.8M95.0 57.3L95.4 55.1M95.0 57.3L98.0 57.5M97.8 54.9L98.0 57.5M99.5 53.1L102.7 52.8M102.7 52.8L103.0 52.9M98.7 54.5L100.5 56.2M95.6 53.9L96.2 51.7M97.8 54.9L98.7 54.5M96.2 51.7L98.7 51.7M101.9 15.8L102.4 15.5M102.4 15.5L103.6 16.1M103.6 16.1L104.2 16.9M101.7 18.5L104.0 18.6M99.1 16.4L98.2 13.7M99.1 16.4L101.9 15.8M102.2 13.8L102.4 15.5M106.1 13.5L103.6 16.1M104.0 20.6L101.3 21.0M99.1 16.4L98.6 17.7M101.1 18.9L98.6 17.7M96.3 17.1L95.2 15.4M96.3 17.1L98.2 17.9M98.2 17.9L98.6 17.7M93.2 22.2L94.7 20.7M93.2 22.2L91.7 21.2M91.7 21.2L92.0 18.3M94.7 20.7L93.8 18.3M93.8 18.3L92.9 17.7M92.9 17.7L92.0 18.3M90.6 21.3L88.8 19.8M90.6 21.3L91.7 21.2M89.2 17.8L92.0 18.3M89.2 17.8L88.8 19.8M93.2 16.4L93.0 16.7M93.0 16.7L92.9 17.7M96.3 17.1L94.9 18.2M94.9 18.2L93.8 18.3M93.0 16.7L89.5 15.1M88.9 17.3L89.2 17.8M89.5 15.1L89.1 15.6M89.9 14.1L88.3 12.7M89.9 14.1L91.2 13.1M91.2 13.1L91.4 11.6M87.7 11.5L88.3 12.7M87.7 11.5L91.0 11.0M91.4 11.6L91.0 11.0M86.6 14.8L86.6 14.4M89.5 15.1L89.9 14.1M86.6 14.4L88.3 12.7M92.3 13.8L91.2 13.1M94.4 10.6L91.4 11.6M90.3 8.7L89.2 8.6M90.3 8.7L91.0 11.0M89.2 8.6L86.8 10.9M86.8 10.9L87.7 11.5M92.2 33.7L89.5 35.1M89.4 37.4L89.1 37.2M89.1 37.2L89.5 35.1M89.5 35.1L88.1 32.4M87.3 31.5L87.7 32.1M87.3 31.5L87.7 30.5M88.1 32.4L87.7 32.1M80.4 39.6L81.8 37.8M80.4 39.6L81.8 40.2M84.5 39.3L84.3 38.4M78.9 44.0L78.8 42.2M82.2 44.7L81.5 42.6M80.4 39.6L78.8 40.2M78.8 40.2L79.0 41.7M81.5 42.6L82.9 41.8M85.4 49.4L85.4 46.9M85.4 49.4L82.3 47.6M82.0 47.2L82.3 47.6M82.0 47.2L83.0 45.5M85.4 46.9L84.8 44.7M83.0 45.5L84.8 44.7M85.8 50.9L86.1 50.4M80.4 47.7L79.6 48.3M79.6 48.3L79.7 49.7M79.7 49.7L81.3 51.2M80.4 47.7L78.9 44.0M78.9 44.0L78.9 44.0M82.2 44.7L83.0 45.5M90.4 47.3L90.8 45.3M90.4 47.3L88.6 48.6M87.1 45.8L90.4 44.6M87.1 45.8L88.0 47.7M90.4 44.6L90.8 45.3M88.0 47.7L88.6 48.6M94.5 45.3L90.8 45.3M94.5 45.3L93.6 49.3M94.8 45.1L94.5 45.3M93.0 41.8L90.2 43.8M92.1 51.8L92.1 51.7M92.1 51.8L89.5 53.6M92.1 51.7L88.2 49.5M89.5 53.6L87.6 50.0M93.7 49.5L95.1 49.8M92.5 52.4L92.1 51.8M95.1 49.8L96.2 51.7M92.3 55.2L91.9 55.7M91.9 55.7L89.5 53.6M93.7 49.5L93.6 49.3M88.6 48.6L88.2 49.5M86.5 54.4L88.0 55.0M86.1 50.4L87.6 50.0M88.0 55.0L89.5 53.6M85.4 46.9L88.0 47.7M89.0 64.6L88.3 62.1M89.0 64.6L90.6 64.7M91.2 63.0L90.6 64.7M84.5 55.6L84.6 58.1M84.6 58.1L85.3 58.6M88.4 56.2L88.0 55.0M88.4 56.2L86.2 58.6M85.3 58.6L86.2 58.6M103.3 71.0L103.4 68.8M103.4 68.8L104.1 68.5M94.2 65.7L93.1 64.5M93.1 64.5L93.9 62.1M96.6 63.9L93.9 62.1M93.1 64.5L91.6 65.3M91.2 63.0L93.7 61.7M91.6 65.3L90.6 64.7M93.7 61.7L93.9 62.1M96.3 64.9L96.8 67.1M96.8 67.1L97.5 67.0M97.5 67.0L98.2 65.6M96.6 63.9L97.3 63.7M98.2 65.6L97.3 63.7M100.2 68.0L97.5 67.0M100.2 68.0L101.1 67.4M101.1 67.4L101.1 66.9M101.1 66.9L100.6 65.7M98.2 65.6L100.6 65.7M101.2 44.6L101.2 44.6M98.7 43.9L101.2 44.6M94.8 45.1L95.0 45.1M95.0 45.1L97.7 45.9M96.9 48.8L98.0 46.4M97.7 45.9L98.0 46.4M94.8 45.1L94.8 45.1M97.0 43.0L95.0 45.1M95.1 49.8L96.8 48.8M98.7 43.9L97.7 45.9M101.7 48.4L99.8 46.8M99.8 46.8L99.5 46.8M99.5 46.8L98.9 49.8M99.1 50.0L98.9 49.8M102.3 48.3L101.7 48.4M101.2 44.6L99.8 46.8M102.7 52.8L100.6 49.7M98.0 46.4L99.5 46.8M96.9 48.8L98.9 49.8M89.7 60.1L92.0 56.7M89.7 60.1L89.4 56.8M89.4 56.8L91.7 56.3M92.0 56.7L91.7 56.3M89.7 60.2L89.0 60.7M88.4 56.2L89.4 56.8M89.0 60.7L86.2 58.6M91.9 55.7L91.7 56.3M102.9 37.5L108.2 38.1M102.4 37.7L102.9 37.5M103.5 34.4L107.9 34.4M102.7 32.6L105.0 31.9M68.9 42.5L71.5 45.1M71.5 45.1L70.6 45.5M70.6 45.5L67.1 44.5M66.7 43.7L68.2 42.5M66.7 43.7L67.1 44.5M68.9 42.5L68.2 42.5M64.9 40.8L67.1 40.3M64.9 40.8L64.3 38.2M66.5 43.7L66.7 43.7M68.2 42.5L67.1 40.3M70.2 40.2L72.6 40.4M69.8 39.5L70.0 37.3M72.6 40.4L72.8 40.3M72.8 40.2L71.2 36.3M71.0 36.4L71.2 36.3M68.9 42.5L70.2 40.2M67.3 39.7L69.8 39.5M68.9 42.5L72.4 41.4M72.4 41.4L72.6 40.4M67.2 37.7L66.9 38.0M67.2 37.7L70.0 37.3M67.3 34.6L71.0 36.4M67.0 34.8L67.2 37.7M74.4 39.5L72.8 40.2M71.6 35.9L71.2 36.3M76.1 40.0L75.1 42.7M75.1 42.7L72.8 40.3M68.7 32.5L71.4 34.6M72.4 41.4L72.4 45.1M72.3 45.2L72.4 45.1M75.1 42.7L75.1 43.4M72.4 45.1L75.1 43.4M78.1 39.6L78.8 40.2M75.1 43.4L75.3 43.4M78.9 44.0L77.0 45.5M75.3 43.4L77.0 45.5M79.6 48.3L76.5 47.5M77.0 45.5L76.5 47.5M27.1 -2.2L27.0 1.0M27.1 -2.2L30.0 -1.6M30.0 -1.6L29.5 0.7M27.0 1.0L27.7 1.2M27.0 -3.9L27.0 -2.4M27.0 -2.4L27.1 -2.2M28.7 -5.3L30.3 -1.8M30.3 -1.8L30.0 -1.6M16.2 -0.2L16.2 -0.2M16.5 -4.3L17.8 -1.9M17.8 -1.9L16.2 -0.2M26.3 10.2L24.7 8.3M23.0 10.4L24.2 11.3M23.5 8.3L24.7 8.3M12.6 34.7L12.8 34.8M12.6 34.7L10.9 35.4M12.8 34.8L13.4 37.2M12.3 38.6L10.4 37.2M10.9 35.4L10.4 37.2M27.2 26.9L26.7 28.4M27.2 26.9L28.3 26.5M29.5 29.5L29.2 30.2M29.5 29.5L29.2 26.7M29.2 26.7L28.3 26.5M29.2 30.2L26.7 28.4M32.6 35.0L32.2 33.7M35.1 32.2L32.2 33.5M32.2 33.7L32.2 33.5M31.5 -2.1L32.4 -3.4M53.9 -4.5L54.7 -2.7M57.2 -2.9L55.4 -2.2M57.2 -2.9L57.6 -4.6M54.7 -2.7L55.4 -2.2M57.2 -2.9L58.0 -1.9M58.0 -1.9L58.6 0.7M54.6 -0.4L55.4 -2.2M54.7 0.5L58.6 0.7M54.6 -0.4L50.8 -1.7M54.7 -2.7L51.1 -2.6M50.8 -1.7L51.1 -2.6M51.0 -3.2L51.1 -2.6M41.3 -4.4L43.2 -2.5M41.1 -4.4L39.9 -1.2M39.9 -1.2L41.4 -0.1M62.8 1.2L63.6 1.0M64.6 3.8L63.2 4.8M61.0 2.6L63.2 4.8M64.6 7.1L62.8 5.9M62.8 5.9L63.2 4.8M61.9 9.1L59.3 10.7M61.9 9.1L61.2 7.4M61.2 7.4L58.7 8.0M58.7 8.0L58.0 10.0M59.3 10.7L58.0 10.0M62.3 9.4L61.9 9.1M64.6 7.1L65.0 7.7M64.3 9.1L65.0 7.7M61.4 6.7L62.8 5.9M61.4 6.7L61.2 7.4M62.4 11.2L60.4 12.5M59.3 10.7L60.4 12.5M53.8 28.6L53.3 28.4M52.1 25.8L55.3 24.8M51.7 28.9L53.3 28.4M51.7 28.9L50.0 28.4M50.0 28.4L49.6 27.4M49.6 27.4L50.7 25.1M52.1 25.8L50.7 25.1M65.4 27.2L64.1 27.2M65.4 27.2L66.3 24.8M63.6 26.1L63.8 24.8M63.8 24.8L65.8 24.5M66.3 24.8L65.8 24.5M66.9 28.1L65.4 27.2M66.9 28.1L67.1 30.1M62.7 29.1L64.1 27.2M67.1 30.1L64.8 30.2M59.8 25.6L63.6 26.1M59.7 24.7L60.1 24.2M59.7 24.7L59.8 25.6M62.4 22.7L63.8 24.8M65.4 22.0L65.8 24.5M39.6 41.2L36.6 38.9M39.6 41.2L38.5 43.0M35.5 39.9L36.6 38.9M35.5 39.9L36.9 41.8M36.9 41.8L38.5 43.0M70.1 13.0L69.2 14.9M69.1 15.2L70.0 17.0M71.0 13.2L73.1 15.4M70.0 17.0L73.1 15.4M67.8 19.1L69.7 18.5M66.0 15.5L65.6 15.7M66.8 18.5L65.6 15.7M70.0 17.0L69.7 18.5M74.3 32.0L75.1 31.1M77.9 33.1L78.1 33.0M78.1 32.0L78.4 32.5M77.8 37.3L80.2 35.7M78.1 33.0L80.2 35.7M77.4 30.2L79.5 27.9M79.6 27.9L79.5 27.9M79.6 27.9L80.3 29.6M78.4 32.5L78.7 32.4M80.3 29.6L78.7 32.4M81.5 35.6L81.6 35.5M81.6 35.5L80.7 32.8M78.7 32.4L80.7 32.8M85.8 31.9L84.5 32.8M85.8 31.9L83.9 29.2M87.3 31.5L85.8 31.9M85.5 27.1L83.9 29.2M85.5 27.1L86.2 27.3M84.0 34.7L81.6 35.5M84.0 34.7L84.5 32.8M80.7 32.8L82.3 31.6M80.3 29.6L82.0 30.7M83.9 22.2L84.0 23.8M83.9 22.2L86.0 20.2M84.0 23.8L87.8 23.5M87.8 23.5L87.0 20.8M90.6 21.3L88.9 23.5M88.9 23.5L88.1 23.8M88.1 23.8L87.8 23.5M85.5 19.1L86.3 17.7M85.5 19.1L86.0 20.2M83.9 24.0L81.8 24.5M83.9 24.0L84.7 26.4M84.7 26.4L82.0 27.5M81.8 24.5L80.5 26.9M80.5 26.9L80.5 27.1M88.1 23.8L88.1 25.7M85.5 27.1L84.7 26.4M84.0 23.8L83.9 24.0M83.2 29.2L82.0 27.5M79.6 27.9L80.5 27.1M66.9 28.1L69.3 25.7M66.3 24.8L68.5 24.7M69.3 25.7L68.5 24.7M65.4 22.0L67.1 21.4M67.1 21.4L68.4 23.1M68.5 24.7L68.4 23.1M72.8 31.7L72.3 31.1M75.7 29.8L75.2 28.4M75.2 28.4L72.9 29.4M72.3 31.1L72.9 29.4M79.5 27.9L76.3 26.5M79.4 -2.4L82.5 -1.6M79.4 -2.4L79.1 -1.6M79.1 -1.6L79.9 0.1M79.9 0.1L83.1 0.4M82.5 -1.6L83.1 0.4M83.1 0.4L83.1 0.4M83.3 -3.8L82.5 -1.6M78.9 -3.8L79.4 -2.4M76.7 -0.1L79.1 -1.6M76.7 -0.1L76.0 -2.0M81.0 3.5L83.0 0.8M80.9 3.5L79.2 1.0M83.0 0.8L83.1 0.4M86.6 -1.8L83.6 -3.8M86.6 -1.8L84.6 0.1M86.7 1.5L84.6 0.1M85.4 4.0L83.0 0.8M61.7 -2.0L62.4 -1.9M61.7 -2.0L61.2 -2.3M62.4 -1.9L62.5 -6.4M60.6 -0.2L62.8 1.2M63.6 -1.6L62.4 -1.9M60.6 -0.2L58.7 0.8M58.0 -1.9L61.2 -2.3M58.7 0.8L58.6 0.7M73.1 -2.8L68.8 -4.1M73.1 -2.8L73.3 -4.1M70.8 -0.6L68.6 -2.6M73.1 -2.8L73.1 -2.8M73.1 -2.8L73.1 -2.8M77.3 8.4L76.7 6.7M74.3 8.8L73.7 6.4M73.7 6.4L76.7 6.7M94.1 79.7L92.1 77.9M88.4 76.6L88.8 76.6M88.4 76.6L87.7 76.1M86.0 79.5L86.0 76.2M87.7 76.1L86.0 76.2M32.8 27.1L32.6 28.2M32.8 27.1L35.6 27.2M36.6 28.8L36.7 28.4M32.6 28.2L33.0 29.9M35.6 27.2L36.6 28.2M34.8 30.7L33.0 29.9M36.7 28.4L36.6 28.2M32.6 16.5L31.5 16.1M30.4 18.2L31.0 16.1M30.4 18.2L33.8 19.5M31.5 16.1L31.0 16.1M27.6 13.1L26.5 14.1M27.6 13.1L30.3 14.4M30.5 15.4L30.3 14.4M26.5 14.1L28.1 15.8M39.7 17.5L40.0 17.8M38.0 21.6L40.8 21.3M40.8 21.3L41.0 20.8M41.6 10.2L40.3 12.5M41.6 10.2L43.1 10.8M40.3 12.5L42.1 13.9M42.1 13.9L43.2 13.0M43.2 13.0L43.1 10.8M44.5 8.0L41.2 9.1M41.6 10.2L41.2 9.1M39.6 17.2L42.1 14.1M31.5 -2.1L32.9 0.4M32.9 0.4L32.6 1.8M29.5 0.7L30.9 1.8M30.9 1.8L32.6 1.8M33.1 23.7L29.7 23.0M33.1 23.7L32.3 26.4M29.7 23.0L30.4 26.2M33.1 23.7L33.1 23.7M35.6 27.2L36.3 24.6M29.5 29.5L32.6 28.2M29.2 26.7L30.4 26.2M31.2 21.1L30.1 20.8M30.4 18.2L29.7 18.9M30.1 20.8L29.7 18.9M30.5 15.4L31.0 16.1M26.8 17.8L29.1 18.8M29.7 18.9L29.1 18.8M-1.3 10.9L-0.8 10.5M2.6 11.3L2.2 10.7M-3.9 7.9L-1.0 9.1M-1.0 9.1L-0.8 10.5M12.2 18.9L10.5 16.7M12.2 18.9L10.3 20.5M8.8 17.5L8.2 18.5M8.2 18.5L8.0 19.8M8.0 19.8L8.5 20.6M15.3 16.2L13.9 14.5M12.6 19.0L12.2 18.9M11.5 22.8L10.3 20.5M5.6 19.8L8.0 19.8M4.9 16.5L8.2 18.5M8.9 14.3L6.7 15.6M6.3 12.7L8.3 12.1M6.3 12.7L5.1 15.6M8.3 12.1L8.3 12.1M5.1 15.6L6.7 15.6M10.6 15.9L10.2 15.2M10.2 15.2L8.9 14.3M4.7 11.3L6.3 12.7M7.5 10.4L5.8 9.9M7.5 10.4L8.3 12.1M3.2 11.5L4.7 11.3M4.9 15.7L5.1 15.6M10.0 1.7L12.3 0.3M10.0 1.7L10.0 2.0M11.9 3.6L10.0 2.0M6.7 3.7L7.8 1.6M6.7 3.7L9.3 3.6M10.0 1.7L9.3 1.3M9.3 1.3L7.8 1.6M9.3 3.6L10.0 2.0M0.7 42.6L-0.6 42.2M1.1 42.1L2.2 39.0M-0.6 42.2L-1.4 39.6M2.2 39.0L-1.1 39.4M-1.6 43.6L-0.9 46.2M-0.9 46.2L2.5 45.0M2.5 45.0L0.7 42.6M-1.5 39.6L-1.4 39.6M1.6 35.7L2.4 37.3M0.3 36.2L-1.1 39.4M2.4 37.3L2.4 38.8M2.4 38.8L2.2 39.0M-2.4 36.0L-1.5 35.8M12.6 34.7L10.6 31.6M8.2 33.9L10.2 31.7M8.2 33.9L8.2 33.9M10.6 31.6L10.2 31.7M12.9 26.4L12.2 27.2M16.4 28.8L12.0 29.0M12.2 27.2L12.0 29.0M12.0 29.0L12.0 29.0M2.9 31.4L1.0 33.5M2.9 31.4L3.9 31.3M3.9 31.3L3.9 34.6M-0.8 32.7L-1.7 31.8M-1.7 31.8L-3.3 31.9M2.9 31.4L0.2 29.3M-1.7 31.8L0.2 29.3M-0.6 26.0L-0.2 28.3M-0.6 26.0L-0.6 25.8M2.6 27.6L2.2 25.4M2.6 27.6L0.3 28.8M-0.6 25.8L2.2 25.4M0.3 28.8L-0.2 28.3M2.6 27.6L3.1 27.7M3.9 31.3L3.9 31.2M0.2 29.3L0.3 28.8M3.1 27.7L3.9 31.2M8.2 21.8L9.5 24.0M8.2 21.8L7.9 22.0M7.9 22.0L6.2 24.6M6.2 24.6L9.3 24.3M9.5 24.0L9.3 24.3M10.8 23.7L9.5 24.0M8.5 20.6L8.2 21.8M4.3 21.0L4.8 22.2M4.8 22.2L7.9 22.0M4.8 22.2L4.7 24.1M5.6 24.9L6.2 24.6M9.2 26.4L9.3 24.3M1.0 22.2L1.1 22.7M-1.1 21.3L-2.9 23.6M-0.9 25.2L-2.9 23.7M-2.9 23.6L-2.9 23.7M3.0 20.6L1.0 22.2M4.7 24.1L2.6 24.6M2.6 24.6L1.1 22.7M-1.3 20.8L-1.1 21.3M-0.6 25.8L-0.9 25.2M2.2 25.4L2.6 24.6M-4.8 25.4L-2.9 23.7M86.6 -1.8L87.4 -2.0M85.3 15.6L83.3 15.2M83.3 15.2L83.0 13.9M86.6 14.4L85.6 11.4M83.0 13.9L85.6 11.4M86.8 10.9L85.8 10.9M85.6 11.4L85.8 10.9M86.8 35.3L88.7 37.2M84.9 37.2L84.3 35.1M84.9 37.2L88.2 37.3M88.2 37.3L88.7 37.2M89.1 37.2L88.7 37.2M84.0 34.7L84.3 35.1M100.9 31.9L100.9 30.1M104.3 29.3L101.6 29.1M101.6 29.1L100.9 30.1M97.2 29.9L98.7 29.7M100.9 30.1L98.7 29.7M98.3 22.9L98.9 21.6M96.2 23.3L96.2 20.6M98.9 21.6L97.5 20.0M96.2 20.6L97.3 20.1M97.5 20.0L97.3 20.1M100.8 21.6L101.3 21.0M94.9 18.2L97.3 20.1M94.7 20.7L96.2 20.6M96.5 26.5L96.7 26.3M96.7 26.3L95.6 23.8M95.6 23.8L93.3 23.2M93.3 23.2L92.5 24.8M92.5 26.7L92.5 24.8M96.4 28.4L96.5 26.5M98.3 25.9L98.7 29.7M98.3 25.9L96.7 26.3M92.0 27.3L92.5 26.7M98.8 25.7L98.3 25.9M98.8 25.7L98.3 22.9M96.2 23.3L95.6 23.8M93.2 22.2L93.3 23.2M88.9 23.5L92.5 24.8M90.2 43.8L89.3 42.9M87.1 45.8L85.7 44.8M85.7 44.8L89.3 42.9M84.8 44.7L84.9 44.7M85.7 44.8L84.9 44.7M103.5 62.6L104.1 64.4M103.5 62.6L116.4 63.8M103.4 68.8L101.1 67.4M101.1 66.9L104.1 64.4M92.2 60.4L92.5 57.3M92.2 60.4L93.7 61.3M93.7 61.3L95.2 60.0M95.2 60.0L95.0 57.4M95.0 57.4L92.5 57.3M92.0 56.7L92.5 57.3M89.0 60.7L88.8 61.1M93.7 61.7L93.7 61.3M95.0 57.3L95.0 57.4M112.5 59.2L103.8 57.5M104.3 61.0L103.3 58.0M103.8 57.5L103.3 58.0M103.4 62.4L104.3 61.0M103.4 62.4L103.5 62.6M103.8 57.5L103.8 57.5M97.3 63.7L98.0 63.2M100.1 63.6L98.0 63.2M95.2 60.0L97.7 60.1M98.0 63.2L97.7 60.1M97.7 60.1L99.1 59.1M66.2 34.6L64.4 34.4M66.2 34.6L66.8 31.3M64.4 34.4L64.1 33.8M66.8 31.3L64.1 33.6M64.1 33.6L64.1 33.8M67.0 34.8L66.2 34.6M64.0 35.6L64.4 34.4M67.5 30.5L66.8 31.3M67.5 30.5L67.1 30.1M64.0 33.2L64.1 33.6M48.3 27.3L46.9 25.7M48.3 27.3L46.1 29.2M44.9 27.0L45.1 28.7M44.9 27.0L45.1 26.6M45.1 26.6L46.9 25.7M45.1 28.7L46.1 29.2M50.0 28.4L49.0 30.2M49.0 30.2L46.5 29.8M49.6 27.4L48.3 27.3M46.5 29.8L46.1 29.2M36.9 38.2L36.6 38.9M36.9 38.2L39.5 37.7M39.6 41.2L40.3 40.6M40.3 40.6L40.4 38.3M39.5 37.7L40.4 38.3M36.9 38.2L36.0 36.3M36.0 36.3L36.2 35.6M39.5 37.7L39.4 35.2M51.7 28.9L51.5 31.0M49.0 30.2L49.6 31.4M49.6 31.4L51.5 31.0M49.5 31.9L49.7 33.6M46.3 31.2L46.5 29.8M46.3 31.2L47.1 32.2M49.6 31.4L49.5 31.9M51.8 69.5L53.7 70.7M51.8 69.5L52.9 66.3M55.6 69.2L53.8 66.4M53.8 66.4L52.9 66.3M63.8 68.6L63.6 65.4M63.8 68.6L67.1 66.9M63.6 65.4L67.0 65.4M67.1 66.9L67.0 65.4M76.5 47.5L76.3 47.6M22.2 -0.4L21.5 1.7M21.5 1.7L19.4 1.3M19.4 1.3L19.2 -1.6M17.8 -1.9L19.2 -1.6M16.2 -0.2L18.6 2.1M20.8 -3.2L20.2 -1.9M23.6 -3.3L22.8 -0.5M25.2 -1.9L24.2 -0.1M24.2 -0.1L22.8 -0.5M22.2 -0.4L22.8 -0.5M25.5 1.6L24.2 -0.1M25.5 1.6L27.0 1.0M12.8 34.8L13.7 34.2M10.6 31.6L12.1 30.3M12.1 30.3L15.0 31.7M13.7 34.2L15.0 31.7M16.5 28.9L15.0 31.7M15.0 31.7L15.0 31.7M12.3 38.6L12.3 39.1M10.4 37.2L9.5 37.5M9.5 37.5L9.6 40.2M12.3 39.1L10.8 40.8M36.0 36.3L33.5 36.9M34.3 39.7L33.5 36.9M32.6 35.0L32.5 36.3M33.5 36.9L32.5 36.3M22.2 40.8L21.6 37.2M24.3 39.4L24.1 36.3M21.6 37.2L23.8 36.1M24.1 36.3L23.8 36.1M25.8 40.0L24.3 39.4M22.2 40.9L24.2 43.0M22.2 40.9L22.2 40.8M24.3 32.7L23.7 35.7M24.3 32.7L25.2 31.9M25.2 31.9L28.0 34.2M28.0 34.2L28.0 34.7M23.7 35.7L23.8 36.1M24.1 36.3L24.5 36.3M24.5 36.3L28.0 34.7M28.3 33.9L31.5 32.9M28.3 33.9L28.8 30.6M28.8 30.6L29.2 30.2M31.3 31.5L31.5 32.9M32.2 33.7L28.9 36.2M32.2 33.5L31.5 32.9M28.0 34.7L28.9 36.2M25.2 31.9L25.4 31.1M25.4 31.1L28.8 30.6M29.2 30.2L29.2 30.2M26.7 28.4L25.0 29.7M25.4 31.1L25.0 29.7M36.9 -4.0L35.9 -2.2M37.4 -0.6L39.2 -1.3M37.4 -0.6L35.9 -2.0M35.9 -2.0L35.9 -2.2M33.5 -3.2L35.9 -2.2M41.5 0.6L41.4 -0.1M41.5 0.6L40.1 1.3M40.1 1.3L37.4 -0.3M37.4 -0.3L37.4 -0.6M34.7 -0.7L32.9 0.4M54.2 1.6L54.5 2.9M54.2 1.6L51.3 0.9M51.5 4.4L51.3 0.9M51.5 4.4L54.3 3.5M54.3 3.5L54.5 2.9M50.2 -1.0L46.7 -4.5M43.2 -2.5L45.2 -2.4M45.2 -2.4L45.8 -3.7M51.5 4.4L51.1 4.7M55.5 6.4L54.2 8.1M51.1 4.7L54.2 8.1M57.2 10.4L54.2 8.4M57.2 10.4L58.0 10.0M58.7 8.0L57.1 6.2M55.5 6.4L57.1 6.2M51.1 4.7L50.7 4.8M50.7 4.8L50.4 8.5M54.0 8.5L50.6 8.6M54.0 8.5L54.2 8.4M53.6 10.5L54.0 8.5M53.6 10.5L51.8 13.3M50.6 8.6L50.6 11.2M51.8 13.3L50.6 11.2M43.2 13.0L46.4 12.7M44.9 9.5L46.8 11.0M46.4 12.7L46.6 12.3M46.6 12.3L46.8 11.0M64.0 12.5L64.0 12.5M60.4 12.5L60.9 14.6M60.9 14.6L64.0 12.5M65.6 15.7L64.8 15.5M65.8 10.9L67.6 10.9M67.6 10.9L66.9 13.3M64.0 12.5L64.3 13.1M67.8 19.1L67.1 21.4M63.0 21.5L62.9 21.1M66.8 18.5L66.7 18.6M66.7 18.6L62.9 21.1M36.9 41.8L34.4 43.4M38.6 44.3L38.4 44.6M38.4 44.6L36.1 45.4M36.1 45.4L34.4 43.4M70.5 27.9L68.3 30.9M71.8 31.0L68.5 31.1M68.3 30.9L68.5 31.1M68.7 32.5L68.5 31.1M72.9 29.4L71.5 27.0M75.5 27.0L73.6 26.4M69.3 25.7L69.8 25.8M69.8 25.8L70.8 26.8M85.4 4.0L85.5 4.5M86.0 4.9L85.5 4.5M86.0 4.9L88.5 3.7M88.9 1.4L88.5 3.7M73.2 15.4L73.1 15.4M73.2 15.4L74.7 12.8M73.8 11.6L74.1 11.7M71.6 7.3L68.4 6.9M71.4 10.0L71.9 9.0M71.4 10.0L69.1 10.9M69.1 10.9L68.3 10.6M68.3 10.6L68.1 7.7M68.4 6.9L68.1 7.7M74.3 8.8L74.2 9.0M73.1 5.9L73.7 6.4M73.1 5.9L71.6 7.3M74.2 9.0L71.9 9.0M74.2 9.0L74.2 11.3M74.2 11.3L74.1 11.7M70.1 13.0L69.1 10.9M65.0 7.7L68.1 7.7M68.2 5.4L67.1 4.2M68.2 5.4L68.4 6.9M67.2 0.9L70.6 0.5M70.9 1.6L70.6 0.5M70.8 -0.6L70.8 -0.6M70.6 0.5L70.8 -0.6M61.5 76.8L60.1 80.4M61.5 76.8L61.5 76.8M61.5 76.8L59.1 78.2M63.4 79.9L62.2 77.0M56.6 78.5L56.7 77.8M56.7 77.8L57.2 77.4M57.2 77.4L59.1 78.2M40.9 76.9L42.8 76.8M42.8 76.8L44.1 77.9M44.1 77.9L44.1 80.4M47.9 78.3L47.5 77.5M44.1 77.9L47.5 77.5M40.9 76.9L40.6 76.8M40.6 76.8L37.8 80.5M35.6 78.2L39.8 76.2M40.2 76.3L39.8 76.2M35.6 78.2L34.4 77.6M33.4 79.0L34.4 77.6M50.7 74.3L50.8 74.2M50.7 74.3L50.3 78.5M50.8 74.2L52.6 77.9M47.5 77.5L47.4 76.0M47.4 76.0L50.7 74.3M54.0 73.6L51.0 73.9M54.0 76.8L52.6 77.9M51.0 73.9L50.8 74.2M54.0 76.8L56.7 77.8M92.1 77.9L92.3 75.4M88.8 76.6L91.2 75.2M88.6 73.2L90.5 73.2M88.1 74.0L87.7 76.1M86.0 76.2L85.5 76.1M85.5 76.1L83.8 77.1M83.3 78.4L83.8 77.1M38.8 31.5L40.2 30.2M36.7 28.4L39.0 28.2M39.0 28.2L40.2 30.2M39.0 24.8L39.0 25.4M39.0 25.4L39.6 27.5M41.4 24.1L41.9 26.3M39.6 27.5L41.4 27.5M38.0 24.2L39.0 24.8M36.6 28.2L39.0 25.4M41.5 24.0L41.4 24.1M39.0 28.2L39.6 27.5M41.5 24.0L43.9 23.6M43.9 23.6L45.1 26.6M-2.4 78.9L-1.4 77.9M-1.4 77.9L0.3 79.4M10.4 48.4L10.5 48.4M8.0 50.0L8.9 52.5M10.5 48.4L10.5 52.6M8.9 52.5L10.5 52.6M11.1 48.2L12.3 52.7M12.3 52.7L12.3 52.7M12.3 52.7L11.2 52.9M5.0 52.0L6.2 48.9M5.0 52.0L2.5 50.3M2.5 50.3L2.5 48.5M6.0 48.4L6.2 48.9M2.9 48.0L2.5 48.5M5.2 52.7L5.0 52.0M5.2 52.7L8.6 52.6M8.0 50.0L6.2 48.9M8.6 52.6L8.9 52.5M10.4 48.4L8.5 46.6M6.2 48.1L8.5 46.6M6.2 48.1L6.0 48.4M48.9 65.8L49.0 62.2M45.0 65.3L45.4 63.6M49.0 62.2L48.1 62.4M45.4 63.6L48.1 62.4M43.9 23.6L44.3 23.2M43.5 20.3L41.0 20.8M43.5 20.3L44.3 22.8M46.2 19.0L45.9 17.5M45.9 17.5L45.4 16.1M42.6 17.8L43.9 15.9M43.9 15.9L45.4 16.1M43.5 20.3L44.1 19.5M44.3 22.8L46.6 19.3M46.6 19.3L46.2 19.0M40.0 17.8L42.6 17.8M46.6 14.1L48.7 15.2M46.6 14.1L45.4 16.1M48.8 16.0L48.7 15.2M48.8 16.0L45.9 17.5M46.4 12.7L46.6 14.1M38.4 6.2L38.4 8.3M38.4 8.3L36.1 8.6M38.3 10.9L36.0 10.0M38.3 10.9L38.5 11.4M38.5 11.4L37.6 12.5M37.6 12.5L34.9 13.6M34.4 11.3L34.4 12.7M34.4 12.7L34.9 13.5M34.9 13.6L34.9 13.5M39.3 9.2L38.3 10.9M39.3 9.2L38.4 8.3M36.1 8.6L36.0 10.0M40.8 8.8L39.3 9.2M40.8 8.8L41.2 9.1M38.4 14.8L37.6 12.5M36.0 15.6L34.9 13.6M32.9 10.1L30.7 11.0M30.7 11.0L31.0 13.2M27.6 13.1L27.7 11.0M30.3 10.8L27.7 11.0M29.7 23.0L28.1 25.2M29.7 23.0L29.4 22.5M28.1 25.2L26.8 23.7M26.8 23.7L27.2 22.5M28.3 26.5L28.1 25.2M29.7 23.0L29.7 23.0M30.1 20.8L29.4 22.5M26.4 21.6L27.2 22.5M26.4 21.6L29.1 18.8M-0.2 6.9L-0.7 5.8M2.1 7.7L1.9 3.6M-0.7 5.8L0.4 3.4M0.7 3.2L1.9 3.6M2.7 8.0L2.2 10.7M-1.8 2.4L0.4 3.4M-1.6 -0.0L1.0 1.4M1.0 1.4L0.7 3.2M1.0 1.4L1.4 0.6M3.6 3.9L4.8 3.2M3.6 3.9L1.9 3.6M1.4 0.6L4.8 1.2M10.9 -1.9L10.0 -2.1M10.0 -2.1L9.5 -5.7M9.3 1.3L9.0 -1.6M10.0 -2.1L9.0 -1.6M7.8 1.6L6.4 -0.2M6.4 -0.2L7.3 -1.9M6.7 3.7L6.6 3.8M6.6 3.8L4.8 3.2M4.8 1.2L5.1 0.6M11.9 3.6L11.5 5.9M9.3 3.6L10.6 5.9M11.5 5.9L10.6 5.9M6.6 3.8L6.8 4.6M6.8 4.6L8.8 6.9M10.6 5.9L8.8 6.9M10.2 15.2L11.1 13.3M8.3 12.1L11.0 11.0M11.0 11.0L11.1 13.3M7.5 10.4L8.7 8.2M11.3 10.6L8.7 8.2M11.0 11.0L11.3 10.7M13.9 14.5L13.9 14.0M11.1 13.3L13.9 14.0M15.7 16.3L16.8 15.9M16.8 15.9L18.7 13.4M18.7 13.4L17.7 12.8M13.9 14.0L13.9 14.0M17.7 12.8L13.9 14.0M11.3 10.7L13.8 12.1M5.1 52.9L6.2 55.9M8.6 52.6L7.8 56.1M6.2 55.9L3.8 57.9M3.6 58.0L3.2 53.8M1.0 51.9L2.5 50.3M0.9 53.1L1.3 53.5M3.6 44.4L5.2 44.6M3.6 44.4L4.1 41.1M5.2 44.6L6.5 44.0M4.2 40.9L6.9 42.1M7.0 42.2L6.9 42.1M2.5 45.0L3.6 44.4M2.5 45.0L2.9 48.0M6.2 48.1L5.2 44.6M2.5 45.0L2.5 45.0M1.1 42.1L4.1 41.1M8.6 45.4L8.5 46.6M8.6 45.4L6.5 44.0M2.4 38.8L4.1 39.8M4.1 39.8L4.2 40.9M9.8 42.8L7.0 42.2M7.8 40.2L6.9 42.1M7.0 38.8L5.7 38.7M7.0 38.8L8.1 37.2M5.7 38.7L5.1 36.6M8.1 37.2L7.3 34.6M5.1 36.6L5.6 35.2M7.8 40.2L7.0 38.8M9.5 37.5L8.1 37.2M2.4 37.3L5.1 36.6M8.2 33.9L7.3 34.6M3.9 34.6L5.6 35.2M3.9 31.2L4.6 31.2M-3.5 31.7L-2.7 28.2M-0.2 28.3L-2.7 28.2M-0.6 26.0L-3.7 27.1M6.5 29.8L8.2 29.7M6.4 29.8L5.7 27.1M8.2 29.7L8.8 28.7M8.8 28.7L9.0 26.6M9.0 26.6L5.9 26.6M5.9 26.6L5.7 27.1M8.2 33.9L6.5 29.8M10.2 31.7L8.2 29.7M4.6 31.2L6.4 29.8M3.1 27.7L5.7 27.1M12.0 29.0L8.8 28.7M9.2 26.4L9.0 26.6M5.6 24.9L5.9 26.6M88.3 -2.0L89.2 -2.9M88.3 -2.0L89.0 1.4M89.2 -2.9L91.3 -1.9M89.6 1.4L91.6 -0.4M87.4 -2.0L88.3 -2.0M88.9 1.4L89.0 1.4M88.5 3.7L89.7 5.0M89.7 5.0L91.2 5.4M91.7 2.4L89.6 1.4M91.7 2.4L92.9 4.0M92.8 0.2L91.6 -0.4M89.2 -2.9L89.4 -3.7M92.4 -4.9L93.1 -2.5M93.1 -2.5L91.3 -1.9M102.6 0.2L101.5 0.3M105.1 4.4L101.1 2.3M101.5 0.3L101.0 1.0M101.0 1.0L101.1 2.3M104.9 4.7L100.4 5.3M100.4 5.3L100.6 3.2M101.1 2.3L100.6 3.2M93.1 -2.5L94.6 -2.0M96.3 -3.9L94.6 -2.0M94.6 -2.0L94.7 -0.2M100.0 10.8L99.9 7.9M95.6 10.1L98.4 7.8M98.4 7.8L99.9 7.9M104.4 7.8L100.1 7.7M100.4 5.3L100.1 5.8M100.1 5.8L100.1 7.7M99.9 7.9L100.1 7.7M91.3 7.8L94.3 8.5M94.5 6.2L94.3 8.5M94.7 10.1L94.3 8.6M98.4 7.8L97.1 7.2M94.3 8.6L97.1 7.2M94.3 8.6L94.3 8.5M82.1 10.9L80.8 8.1M81.3 12.5L78.6 11.1M80.1 8.1L78.3 9.3M78.3 9.3L78.3 9.4M85.0 9.7L85.8 10.9M85.0 9.7L82.1 10.9M83.0 13.9L81.4 12.8M81.4 12.8L81.3 12.5M79.4 14.8L81.4 12.8M79.4 14.8L77.5 12.8M77.5 12.8L78.6 11.1M77.5 12.8L76.5 13.3M76.5 13.3L74.7 12.8M74.2 11.3L78.3 9.4M77.3 8.4L78.3 9.3M82.2 7.7L82.8 7.7M82.2 7.7L81.4 3.9M82.8 7.7L83.6 5.0M81.4 3.9L83.6 5.0M85.0 9.7L84.8 8.7M80.8 8.1L82.2 7.7M81.0 3.5L81.4 3.9M80.9 3.5L79.6 4.3M85.5 4.5L83.6 5.0M86.1 5.4L85.7 7.6M86.1 5.4L88.4 6.5M85.7 7.6L88.6 8.0M88.4 6.5L88.6 8.0M84.8 8.7L85.7 7.6M86.0 4.9L86.1 5.4M89.7 5.0L88.4 6.5M89.2 8.6L88.6 8.0M99.8 25.8L101.3 26.7M99.8 25.8L101.2 22.5M101.3 26.7L102.3 25.9M102.3 25.9L102.7 23.6M101.2 22.5L102.7 23.6M98.8 25.7L99.8 25.8M101.6 29.1L101.3 26.7M84.5 42.0L84.8 42.9M84.8 42.9L88.8 41.4M86.0 40.0L88.8 41.3M86.0 40.0L85.0 40.1M82.9 41.8L84.5 42.0M84.9 44.7L84.8 42.9M84.5 39.3L85.0 40.1M89.3 42.9L88.8 41.4M89.3 40.4L88.8 41.3M88.1 74.0L85.4 72.3M85.5 76.1L85.1 74.9M88.6 73.2L88.3 71.8M85.4 72.3L87.1 70.7M85.1 74.9L81.9 73.4M83.6 71.6L85.3 72.4M83.6 71.6L82.8 71.9M82.8 71.9L81.9 73.4M100.9 62.8L99.8 59.0M99.8 59.0L100.6 58.6M100.6 58.6L100.9 58.6M103.4 62.4L103.4 62.4M103.3 58.0L100.9 58.6M100.1 63.6L100.9 62.8M99.1 59.1L99.8 59.0M100.5 56.2L100.6 58.6M62.6 57.7L65.7 57.2M62.1 55.1L64.2 55.4M65.7 57.2L64.2 55.4M65.3 52.6L62.2 52.7M61.6 54.6L62.1 55.1M66.5 43.7L64.4 45.6M65.2 47.0L67.5 46.6M70.6 45.5L68.2 47.1M62.7 49.7L60.4 48.9M62.7 49.7L61.9 52.1M61.9 52.1L59.6 51.2M65.3 52.6L64.4 49.2M62.2 52.7L61.9 52.1M64.4 49.2L63.4 49.2M63.4 49.2L62.7 49.7M59.8 55.2L61.6 54.6M59.8 55.2L59.0 54.4M59.0 54.4L58.8 51.4M58.8 51.4L59.6 51.2M38.8 31.5L40.6 33.8M40.6 33.8L40.7 34.1M40.2 30.2L41.9 30.1M40.6 33.8L41.9 30.1M41.4 27.5L42.3 29.9M42.7 30.0L42.3 29.9M41.9 30.1L42.3 29.9M41.1 38.1L43.2 37.0M40.7 34.1L42.4 34.3M43.2 37.0L42.4 34.3M46.3 31.2L44.3 33.1M47.2 34.2L46.4 34.7M46.4 34.7L44.3 33.1M42.7 30.0L43.8 33.0M42.4 34.3L43.8 33.0M44.3 33.1L43.8 33.0M40.3 40.6L42.8 41.5M43.3 40.2L42.8 41.5M69.7 57.7L70.2 54.9M66.1 57.4L66.1 57.5M66.1 57.4L67.6 55.1M67.6 55.1L70.2 54.9M65.9 52.8L65.8 52.8M65.9 52.8L67.6 55.1M65.7 57.2L66.1 57.4M65.9 52.8L67.6 51.2M67.6 51.2L70.4 52.3M70.5 54.7L70.4 52.3M70.5 54.7L70.2 54.9M56.1 52.5L55.6 50.5M55.6 50.5L56.4 48.9M56.4 48.9L57.2 48.7M57.2 77.4L57.4 76.8M61.5 76.8L60.5 75.6M57.4 76.8L60.5 75.6M59.8 55.2L59.6 55.9M61.9 59.0L59.6 55.9M72.9 46.6L72.6 47.4M74.6 51.5L76.2 48.2M74.1 51.3L73.9 51.0M76.2 48.2L76.3 47.6M72.6 47.4L73.9 51.0M70.5 52.3L74.1 51.3M70.5 52.3L70.9 49.7M73.9 51.0L70.9 49.7M40.1 1.3L38.4 3.7M38.4 3.7L37.4 3.2M36.9 2.0L37.4 3.2M34.7 -0.7L35.5 1.8M36.9 2.0L35.5 1.8M35.5 1.8L32.8 2.0M22.8 3.5L22.7 5.3M22.8 3.5L23.7 3.3M23.7 3.3L25.2 6.0M25.5 1.6L25.1 2.4M22.2 3.2L22.8 3.5M22.2 3.2L21.5 1.7M25.1 2.4L23.7 3.3M22.8 7.4L23.1 6.5M24.7 8.3L26.0 6.3M26.0 6.3L25.2 6.0M20.6 7.8L20.3 7.6M20.6 7.8L21.1 10.0M17.6 8.8L19.3 11.3M21.1 10.0L19.3 11.3M22.8 7.4L20.6 7.8M20.0 6.1L20.3 7.6M20.0 6.1L22.7 5.3M23.0 10.4L22.2 10.4M22.2 10.4L21.1 10.0M19.1 13.3L19.3 11.3M17.7 12.8L15.8 11.2M17.3 8.7L15.8 11.2M13.8 12.1L14.9 11.3M15.8 11.2L14.9 11.3M22.2 3.2L19.5 4.5M20.0 6.1L19.5 5.1M19.5 4.5L19.5 5.1M18.6 2.1L18.3 3.2M13.4 37.2L15.3 37.4M13.7 34.2L16.6 35.8M15.3 37.4L16.6 35.9M16.6 35.8L16.6 35.9M22.2 40.9L20.8 41.3M21.6 37.2L20.4 37.0M20.4 37.0L18.9 38.7M14.0 53.9L16.5 52.2M14.0 53.9L14.2 54.3M16.9 54.7L14.2 54.3M16.9 54.7L17.3 53.3M23.8 52.0L21.8 53.6M21.8 53.6L19.6 52.2M19.6 52.2L19.4 51.2M11.9 45.2L13.1 43.4M13.1 43.1L13.1 43.4M13.4 51.0L11.3 48.2M11.3 48.2L12.5 47.0M15.4 45.9L13.1 43.4M15.4 45.9L14.2 47.4M12.3 52.7L13.4 51.0M16.7 32.6L16.9 35.6M16.9 35.6L19.4 35.3M19.4 35.3L20.1 33.1M20.0 32.7L20.1 33.1M15.0 31.7L16.7 32.6M16.6 35.8L16.9 35.6M18.4 28.8L19.3 32.3M16.6 35.9L18.5 38.7M18.9 38.7L18.5 38.7M23.7 35.7L20.1 33.1M21.4 31.9L20.0 32.7M31.0 37.3L31.1 40.2M31.0 37.3L29.0 36.3M29.0 36.3L27.4 38.6M29.1 40.4L30.8 40.7M27.4 38.7L27.4 38.6M30.8 40.7L31.1 40.2M32.5 36.3L31.0 37.3M28.9 36.2L29.0 36.3M24.5 36.3L27.4 38.6M25.8 40.0L27.4 38.7M28.5 41.0L29.1 40.4M59.7 4.9L57.4 5.8M57.4 5.8L57.3 2.9M58.8 1.8L59.9 2.7M61.0 2.6L59.9 2.7M61.4 6.7L59.7 4.9M57.1 6.2L57.4 5.8M54.5 2.9L57.3 2.9M39.4 4.9L38.4 3.7M41.5 0.6L42.4 1.4M42.4 1.4L39.6 5.0M39.4 4.9L38.4 6.2M40.9 5.7L39.6 5.0M50.5 4.7L48.2 6.2M50.5 4.7L50.7 4.8M50.4 8.5L48.7 8.4M48.2 6.2L48.7 8.4M50.6 11.2L46.9 10.9M46.9 10.9L48.4 8.6M48.4 8.6L48.7 8.4M61.5 15.5L63.3 16.3M61.5 15.5L60.2 17.6M60.2 17.6L61.9 19.9M63.1 18.3L62.3 20.0M61.9 19.9L62.3 20.0M60.9 14.6L60.9 14.6M60.9 14.6L61.5 15.5M64.8 15.5L63.3 16.3M66.7 18.6L63.1 18.3M59.6 20.3L58.5 19.5M58.6 17.7L58.5 19.5M58.6 17.7L60.2 17.6M62.9 21.1L62.3 20.0M60.1 24.2L59.2 21.5M59.6 20.3L59.2 21.5M54.0 20.8L56.2 19.9M57.3 21.6L56.6 23.7M56.2 19.9L56.9 20.2M55.6 24.0L56.6 23.7M58.5 19.5L56.9 20.2M59.7 24.7L56.6 23.7M55.5 24.1L55.3 24.8M55.5 24.1L55.6 24.0M60.4 12.5L57.6 13.1M58.1 15.3L57.6 13.1M58.1 15.3L57.3 16.4M57.2 10.4L56.7 12.2M56.7 12.2L56.2 12.4M33.9 43.1L33.4 43.2M30.9 41.3L33.4 43.2M82.3 17.0L83.2 18.5M82.3 17.0L82.1 17.0M82.1 17.0L80.7 19.1M83.2 18.5L82.4 21.0M82.4 21.0L80.9 21.1M83.3 15.2L82.3 17.0M79.4 14.8L79.2 16.5M79.2 16.5L82.1 17.0M83.9 22.2L82.4 21.0M81.6 24.3L80.9 21.1M79.2 16.5L78.8 16.7M78.8 16.7L78.8 18.6M73.6 26.4L73.3 23.3M69.8 25.8L72.0 23.3M73.3 23.3L72.0 23.3M68.4 23.1L70.7 21.7M72.0 23.3L70.7 21.7M70.3 19.0L69.7 18.5M70.3 19.0L70.9 19.9M70.9 19.9L70.7 21.7M68.2 5.4L71.3 2.0M73.1 5.9L73.0 4.2M68.2 5.4L73.0 4.2M79.6 4.3L79.1 4.2M79.2 1.0L76.9 1.1M76.7 6.7L77.1 5.1M79.1 4.2L77.1 5.1M68.3 76.0L66.6 75.7M63.2 76.2L65.8 76.7M46.6 72.3L46.8 75.4M46.6 72.3L43.5 73.6M46.8 75.4L44.1 75.4M43.5 73.6L44.1 75.4M42.8 76.8L44.1 75.4M47.4 76.0L46.8 75.4M41.6 72.5L41.1 73.3M42.0 72.4L43.5 73.6M41.1 73.3L40.2 76.3M41.0 67.5L43.0 69.7M41.6 72.5L39.3 70.1M42.0 72.4L42.1 72.2M43.0 69.7L42.1 72.2M39.3 70.1L40.3 68.0M41.0 67.5L41.7 66.0M37.7 66.5L38.9 65.2M37.7 66.5L38.1 67.2M38.9 65.2L41.7 66.0M38.1 67.2L40.3 68.0M12.4 67.0L14.7 65.0M12.4 67.0L12.2 68.3M12.2 68.3L12.7 68.8M15.0 68.9L16.0 66.4M14.7 65.0L16.0 66.4M12.4 67.0L11.1 64.6M11.1 64.6L13.9 62.8M13.9 62.8L14.7 63.2M14.7 65.0L14.7 63.2M51.8 69.5L51.8 69.5M54.0 73.6L54.2 73.4M51.0 73.9L50.7 73.5M54.2 73.4L53.7 70.7M51.8 69.5L50.8 71.7M50.7 73.5L50.8 71.7M51.8 69.5L49.7 69.2M50.8 71.7L48.6 70.7M49.7 69.2L48.6 70.7M50.7 73.5L47.3 71.7M48.6 70.7L47.3 71.7M46.6 72.3L46.8 71.8M46.8 71.8L47.3 71.7M95.0 78.9L95.8 77.0M95.8 77.0L96.6 76.7M100.7 78.8L97.5 76.7M96.6 76.7L97.5 76.7M95.8 77.0L94.3 75.0M94.3 75.0L93.7 74.8M81.6 75.7L79.9 78.1M81.6 75.7L81.0 74.1M80.2 73.9L81.0 74.1M80.2 73.9L78.4 78.3M83.8 77.1L81.6 75.7M81.9 73.4L81.0 74.1M72.9 75.1L73.2 75.9M72.9 75.1L73.5 74.8M73.2 75.9L75.5 77.2M76.6 76.6L75.5 77.2M76.6 76.6L76.4 74.7M76.4 74.7L73.5 74.8M71.7 75.2L72.9 75.1M73.2 75.9L73.5 78.2M70.3 73.9L68.3 76.0M70.3 73.9L71.7 75.2M10.0 78.0L10.3 74.2M10.3 74.2L9.3 74.7M1.3 76.8L2.1 78.4M1.3 76.8L3.7 74.5M7.4 74.2L7.0 74.5M8.8 77.2L6.1 77.7M11.4 78.8L10.0 78.0M6.1 77.7L5.7 78.0M5.7 78.0L5.7 78.0M7.0 74.5L4.2 73.8M3.7 74.2L4.2 73.8M1.3 76.8L0.7 76.3M-1.4 77.9L-1.1 76.4M7.9 60.0L10.8 60.0M7.9 60.0L6.9 61.1M6.9 61.1L7.9 63.1M7.9 63.1L9.8 63.0M9.8 63.0L11.2 60.3M11.2 60.3L10.8 60.0M11.1 64.6L10.8 64.5M11.4 60.4L11.2 60.3M11.4 60.4L12.9 61.2M12.9 61.2L13.9 62.8M10.8 64.5L9.8 63.0M10.5 72.5L11.0 73.9M11.0 73.9L12.3 74.3M13.5 72.2L12.3 74.3M15.0 68.9L15.1 69.0M15.1 69.0L15.1 71.9M13.5 72.2L15.1 71.9M12.3 78.5L12.8 76.5M12.5 74.6L12.3 74.3M28.0 67.7L24.4 65.5M28.0 67.7L24.2 69.5M24.2 69.5L24.1 69.4M24.4 65.5L24.1 69.4M10.2 57.4L8.2 56.8M8.2 56.8L7.8 56.1M11.2 56.3L11.0 54.7M10.8 60.0L10.2 57.4M7.6 58.6L8.2 56.8M7.6 58.6L7.9 60.0M3.8 57.9L7.6 58.6M7.8 56.1L7.8 56.1M11.2 52.9L11.0 54.7M14.0 53.9L12.3 52.7M14.2 54.3L14.1 56.9M14.1 56.9L13.6 57.0M-5.8 55.1L-2.8 55.4M-2.6 54.9L-2.8 51.4M-8.2 54.4L-2.8 51.4M2.5 48.5L-0.1 48.6M-0.1 48.6L-0.3 50.5M-0.9 46.2L-1.6 47.4M-0.1 48.6L-1.6 47.4M0.4 53.2L0.9 53.1M0.4 53.2L-2.6 51.2M-0.3 50.5L-2.6 51.2M-2.8 51.4L-2.8 51.2M-2.6 51.2L-2.8 51.2M44.1 58.6L45.7 60.1M44.1 58.6L43.0 59.4M43.0 59.4L43.8 61.8M45.6 60.7L44.6 62.1M43.8 61.8L44.6 62.1M49.0 62.2L49.2 61.9M49.1 61.0L47.0 59.7M49.1 61.0L49.2 61.8M47.0 59.7L45.7 60.1M48.1 62.4L45.6 60.7M49.2 61.8L49.2 61.9M45.4 63.6L44.6 62.1M58.8 51.4L58.2 51.2M56.1 52.5L55.5 53.4M55.9 54.1L55.5 53.4M36.0 54.4L36.9 56.9M36.9 56.9L36.8 57.5M36.8 57.5L33.2 56.9M26.7 17.8L26.0 14.3M16.5 19.3L18.7 18.9M16.8 15.9L18.4 17.1M24.7 25.3L23.1 23.5M24.7 25.3L26.8 23.7M23.1 23.5L23.4 22.0M25.3 21.1L23.4 22.0M26.7 17.8L25.6 18.3M25.6 18.3L25.5 18.4M25.3 21.1L25.5 18.4M44.3 23.2L46.8 23.1M50.7 25.1L50.6 24.9M55.5 24.1L51.0 23.1M51.0 23.1L50.6 24.9M30.3 10.8L30.1 8.1M27.7 11.0L27.1 10.3M28.2 7.5L30.1 8.1M26.3 10.2L27.1 10.3M26.0 6.3L27.6 6.0M28.2 7.5L27.6 6.0M25.1 2.4L27.7 5.7M27.7 5.7L27.6 6.0M32.9 10.1L32.9 9.5M32.9 9.5L30.9 7.8M30.9 7.8L30.1 8.1M24.8 25.4L23.8 28.8M24.8 25.4L24.8 25.4M24.8 25.4L21.6 26.8M21.6 26.8L21.7 28.5M22.0 28.8L21.7 28.5M27.2 26.9L24.8 25.4M25.0 29.7L23.8 28.8M23.1 23.5L21.1 24.4M21.2 25.8L21.1 24.4M21.4 31.9L22.0 28.8M18.8 27.1L21.2 25.8M18.8 28.5L21.7 28.5M6.7 -2.8L7.2 -5.3M5.9 6.0L5.8 7.9M5.9 6.0L3.8 5.9M3.5 7.7L5.4 8.1M6.8 4.6L5.9 6.0M8.8 6.9L8.5 7.4M8.5 7.4L5.8 7.9M3.6 3.9L3.8 5.9M2.7 8.0L3.5 7.7M5.8 9.9L5.4 8.1M8.7 8.2L8.5 7.4M1.2 57.2L1.0 55.0M1.2 57.2L-0.7 57.7M1.0 55.0L-2.5 55.9M-0.7 57.7L-1.8 57.3M-1.8 57.3L-2.5 55.9M3.6 58.0L1.2 57.2M1.3 53.5L1.0 55.0M-3.0 58.9L-1.8 57.3M101.0 1.0L97.7 0.6M100.6 3.2L97.5 3.0M97.5 3.0L97.1 1.0M93.0 4.0L93.8 3.6M93.8 3.6L95.3 0.6M96.7 -3.8L98.2 -2.1M98.2 -2.1L100.7 -2.1M99.3 -4.8L101.0 -2.8M97.7 0.6L98.2 -2.1M95.3 0.6L97.1 1.0M103.1 -4.3L101.0 -2.8M83.6 71.6L84.3 69.5M87.1 69.4L86.1 69.0M87.1 69.4L87.1 70.7M86.1 69.0L84.3 69.5M82.8 71.9L81.2 70.1M80.2 73.9L79.4 73.5M79.4 73.5L79.6 70.4M76.4 74.7L76.9 73.8M79.4 73.5L76.9 73.8M73.4 71.8L76.3 72.5M73.4 71.8L73.5 74.8M76.9 73.8L76.3 72.5M72.2 70.8L72.4 69.8M68.4 68.3L68.0 69.2M71.2 71.5L68.0 69.2M72.4 69.8L69.2 67.9M60.4 48.9L59.9 48.1M57.2 48.7L57.5 48.3M57.5 48.3L59.9 48.1M62.1 41.4L63.4 42.0M63.4 42.0L62.9 45.3M62.9 45.3L61.8 45.9M61.8 45.9L61.2 45.8M61.2 45.8L60.9 45.6M61.5 39.1L60.7 38.4M61.5 39.1L62.1 41.4M60.7 38.4L58.5 39.7M58.5 39.7L59.3 42.2M59.3 42.2L61.3 41.9M64.1 41.9L63.4 42.0M64.3 38.2L61.5 39.1M63.4 49.2L61.8 45.9M65.2 47.0L64.8 48.9M59.9 48.1L61.2 45.8M59.3 31.4L56.5 32.6M54.8 30.6L54.7 30.9M56.5 32.6L54.7 30.9M51.5 31.0L51.7 31.1M51.7 31.1L54.0 31.5M57.1 34.8L57.0 36.0M57.0 36.0L60.5 36.9M60.6 33.5L60.5 36.9M60.5 36.9L60.5 36.9M60.0 32.0L60.3 33.2M56.5 32.6L56.6 33.9M56.6 33.9L57.1 34.8M56.2 36.9L57.0 36.0M64.1 33.8L60.6 33.5M64.0 35.6L60.5 36.9M51.7 31.1L51.6 33.6M49.7 33.6L50.4 34.3M51.6 33.6L50.4 34.3M54.0 31.5L53.4 33.2M51.6 33.6L53.4 33.2M56.6 33.9L53.9 34.2M53.4 33.2L53.9 34.2M46.4 35.2L46.4 34.7M48.4 37.0L48.6 36.8M48.6 36.8L50.5 34.5M50.5 34.5L50.4 34.3M56.3 39.5L55.6 40.2M59.3 42.2L58.0 44.0M55.8 41.7L58.0 44.0M57.5 48.3L57.1 45.4M60.9 45.6L58.0 44.2M57.1 45.4L58.0 44.2M58.0 44.0L58.0 44.2M39.1 47.1L40.1 48.5M39.1 47.1L36.3 48.6M40.1 48.5L40.4 50.0M40.1 50.3L40.4 50.0M39.1 52.6L40.1 50.3M39.1 52.6L37.4 52.7M37.4 52.7L35.6 50.5M35.6 50.5L36.5 49.3M36.0 54.4L36.1 54.0M36.9 56.9L39.1 55.3M39.1 52.6L39.3 53.0M37.4 52.7L36.1 54.0M39.1 55.3L39.3 53.0M67.5 50.2L70.8 49.5M67.5 50.2L67.3 49.5M67.3 49.5L68.2 47.9M68.2 47.9L70.9 49.1M70.9 49.1L70.8 49.5M67.6 51.2L67.5 50.2M70.4 52.3L70.5 52.3M70.9 49.7L70.8 49.5M64.8 48.9L67.3 49.5M68.2 47.1L68.2 47.9M72.6 47.4L70.9 49.1M47.3 39.1L46.5 39.8M46.5 39.8L44.3 38.8M44.3 38.8L43.6 37.2M45.3 36.4L43.6 37.2M48.2 38.6L48.4 37.0M42.8 41.5L43.2 42.1M38.4 44.6L39.1 47.1M42.7 44.7L43.0 45.1M53.0 49.6L55.3 48.6M55.3 48.6L55.2 48.4M56.4 48.9L55.3 48.6M57.1 45.4L54.8 45.5M44.2 58.1L44.7 57.4M44.2 58.1L44.1 58.6M47.0 59.7L47.1 57.8M52.6 56.2L55.6 56.4M52.6 56.2L51.7 54.8M55.6 56.4L55.9 54.1M55.5 53.4L53.6 52.8M53.6 52.8L51.7 54.8M55.6 50.5L52.9 51.0M53.6 52.8L52.9 51.0M53.0 49.6L52.5 50.4M52.9 51.0L52.5 50.4M74.6 51.5L75.2 52.3M76.2 48.2L77.5 51.1M75.2 52.3L77.5 51.1M79.7 49.7L78.6 51.0M78.8 52.3L78.6 51.0M78.6 51.0L77.5 51.1M70.5 54.7L71.9 55.2M69.7 57.7L71.1 58.5M71.1 58.5L71.8 58.2M75.2 52.3L75.2 52.6M75.2 52.6L72.8 55.2M57.1 68.3L59.5 68.3M57.1 68.3L55.8 65.7M56.1 65.4L55.8 65.7M56.1 65.4L59.5 67.1M55.6 69.2L55.7 69.2M53.8 66.4L55.8 65.7M55.7 69.2L57.1 68.3M58.0 63.2L56.6 64.2M58.0 63.2L59.0 63.2M56.6 64.2L56.1 65.4M59.0 63.2L60.3 65.1M60.3 65.1L59.5 67.1M54.2 73.4L55.7 73.4M55.7 69.2L57.1 71.3M57.1 71.3L55.7 73.4M57.4 76.8L56.9 74.3M55.7 73.4L56.9 74.3M60.5 75.6L60.2 73.4M56.9 74.3L60.2 73.4M58.0 63.2L56.5 61.1M60.6 60.7L59.0 63.2M60.6 60.7L57.0 59.3M56.5 61.1L57.0 59.3M52.1 58.5L52.6 56.2M52.1 58.5L53.2 59.5M55.6 56.4L56.3 57.8M54.3 62.8L54.0 61.6M51.9 64.2L52.4 65.9M54.0 61.6L53.3 61.1M56.6 64.2L54.3 62.8M52.9 66.3L52.7 66.0M49.0 65.9L48.9 65.8M49.0 65.9L52.4 65.9M57.0 59.3L56.6 58.0M53.2 59.5L53.3 61.1M49.1 61.0L50.1 58.7M50.1 58.7L52.1 58.5M60.6 60.7L60.8 60.5M59.6 55.9L58.7 56.9M58.3 57.2L58.7 56.9M61.9 59.0L61.8 59.7M58.7 56.9L61.8 59.7M32.9 2.8L35.2 4.7M32.9 2.8L31.7 5.4M31.7 5.4L32.0 6.0M32.0 6.0L34.3 6.8M35.2 4.7L34.8 6.7M34.8 6.7L34.3 6.8M37.4 3.2L35.2 4.7M32.8 2.0L32.9 2.8M32.9 9.5L34.3 6.8M30.9 7.8L32.0 6.0M35.4 7.1L34.8 6.7M16.5 7.8L13.8 7.8M16.5 7.8L16.8 6.5M16.8 6.5L15.7 3.6M13.8 7.8L13.1 7.5M15.6 3.6L15.7 3.6M15.6 3.6L12.6 6.6M12.6 6.6L13.1 7.5M17.3 8.7L16.5 7.8M14.9 11.3L13.8 7.8M18.3 3.2L15.7 3.6M11.3 10.6L13.1 7.5M11.5 5.9L12.6 6.6M19.9 42.4L22.0 44.4M17.2 39.6L17.1 42.2M14.1 40.2L14.6 42.3M17.1 42.2L15.5 42.5M15.5 42.5L14.6 42.3M15.3 37.4L15.8 39.0M18.5 38.7L17.2 39.6M18.6 43.2L19.9 42.4M18.6 43.2L17.1 42.2M15.7 45.8L15.4 45.9M15.7 45.8L15.5 42.5M17.3 53.3L18.6 53.2M18.6 53.2L19.5 55.5M17.7 56.5L19.5 55.5M15.0 57.4L16.7 57.3M15.0 57.4L14.7 59.5M16.7 57.3L16.6 60.6M14.7 59.5L16.6 60.6M14.1 56.9L15.0 57.4M17.7 56.5L17.5 57.0M17.5 57.0L16.7 57.3M16.9 61.2L16.6 60.6M16.9 61.2L14.8 63.1M14.7 63.2L14.8 63.1M16.4 51.0L19.3 51.2M16.4 51.0L15.6 49.7M15.6 49.7L17.5 48.5M16.5 52.2L16.4 51.0M18.6 53.2L19.6 52.2M19.4 51.2L19.3 51.2M15.5 49.7L15.6 49.7M18.8 47.3L18.4 45.7M18.8 47.3L19.3 47.6M19.3 47.6L22.3 47.0M18.5 45.5L21.7 45.2M22.3 47.0L21.7 45.2M15.7 45.8L18.4 45.7M17.5 48.5L18.8 47.3M20.4 49.8L19.3 47.6M22.2 50.0L23.1 47.4M23.1 47.4L22.3 47.0M18.6 43.2L18.5 45.5M22.0 44.4L21.7 45.2M48.2 2.6L50.2 -0.1M47.2 2.8L46.6 -1.1M50.2 -0.1L50.2 -1.0M51.3 0.9L50.2 -0.1M50.5 4.7L48.2 2.6M50.2 -1.0L50.2 -1.0M45.2 -2.4L45.5 -1.8M56.2 19.9L56.1 16.7M56.1 16.7L56.2 16.6M56.2 16.6L55.0 13.5M55.0 13.5L51.8 13.3M46.6 12.3L51.8 13.4M46.8 11.0L46.9 10.9M48.7 15.2L51.8 13.4M51.8 13.4L51.8 13.4M24.0 52.0L25.9 48.1M25.1 52.6L27.7 51.9M28.0 55.7L29.1 53.8M29.1 53.8L29.0 52.5M27.7 51.9L29.0 52.5M30.9 41.3L29.9 43.9M33.4 43.2L32.2 44.9M32.2 44.9L29.9 43.9M36.1 45.4L36.1 45.4M36.3 48.6L36.0 48.2M36.1 45.4L36.0 48.2M76.6 15.9L73.3 15.5M76.6 15.9L77.0 16.4M73.3 15.5L73.9 17.8M73.9 17.8L75.2 18.9M73.2 15.4L73.3 15.5M76.5 13.3L76.6 15.9M75.2 18.9L75.2 18.9M75.2 18.9L77.8 20.8M70.9 19.9L73.7 20.8M75.2 18.9L73.7 20.8M78.1 21.7L77.8 20.8M74.6 3.1L76.5 0.9M74.6 3.1L73.2 3.5M73.2 3.5L73.1 3.3M73.1 3.3L73.4 0.3M76.5 0.6L76.5 0.9M76.9 1.1L76.5 0.9M77.1 5.1L74.6 3.1M73.0 4.2L73.2 3.5M71.3 2.0L73.1 3.3M73.1 -2.8L74.0 -0.3M76.7 -0.1L76.5 0.6M72.2 70.8L73.4 71.8M70.3 73.9L70.2 73.1M24.4 79.7L22.5 77.7M26.1 79.0L23.5 77.1M22.5 77.7L23.5 77.1M20.9 78.3L21.6 77.6M22.5 77.7L21.6 77.6M18.1 69.8L15.1 69.0M18.1 69.8L18.2 70.7M15.1 71.9L17.0 72.9M29.5 65.3L32.2 65.2M29.5 65.3L28.6 62.1M31.6 62.3L29.8 61.8M31.6 62.3L32.2 64.3M32.2 64.3L32.2 65.2M28.6 62.1L29.8 61.8M29.2 65.6L28.3 67.7M32.2 65.2L32.3 65.2M31.6 67.3L32.3 65.2M31.6 67.3L29.8 68.7M29.8 68.7L28.3 67.7M28.0 67.7L28.1 67.7M24.6 70.4L24.2 69.5M24.6 70.4L25.6 71.3M25.6 71.3L27.1 70.9M28.1 67.7L27.1 70.9M14.8 63.1L17.8 64.4M16.0 66.4L17.6 66.3M17.8 64.4L17.6 66.3M18.0 61.2L16.9 61.2M17.8 64.4L19.1 63.4M18.1 69.8L19.3 68.0M19.2 67.7L17.6 66.3M39.8 76.2L38.9 75.6M38.9 75.6L37.9 72.8M38.1 67.2L36.2 68.6M34.5 66.0L34.9 68.1M36.2 68.6L34.9 68.1M31.6 67.3L33.3 70.1M32.3 65.2L34.5 66.0M49.0 65.9L48.9 66.6M49.7 69.2L49.5 69.0M48.9 66.6L49.5 69.0M45.5 71.3L43.7 69.6M45.5 71.3L46.6 71.6M46.6 71.6L46.4 68.8M43.7 69.6L45.4 67.9M45.4 67.9L46.4 68.6M46.4 68.6L46.4 68.8M42.1 72.2L45.5 71.3M46.8 71.8L46.6 71.6M49.5 69.0L46.4 68.8M44.6 65.7L41.8 65.9M41.8 65.9L41.7 66.0M44.6 65.7L45.0 65.3M99.0 74.8L97.3 73.3M99.0 74.8L100.2 74.4M100.5 74.0L99.8 71.8M100.5 74.0L100.2 74.4M97.3 73.3L96.8 72.1M96.9 71.2L96.8 72.1M97.5 76.7L99.0 74.8M101.4 78.3L100.2 74.4M102.3 74.0L100.5 74.0M103.3 71.0L99.8 71.8M100.2 68.0L98.7 70.9M94.3 75.0L96.8 72.1M96.8 67.1L95.3 68.6M95.3 68.6L96.9 71.1M94.2 65.7L94.3 68.3M95.3 68.6L94.3 68.3M-5.1 72.9L-2.9 74.9M0.7 76.3L0.8 73.2M-2.9 74.9L-0.9 72.9M-0.9 72.9L0.8 73.2M3.7 74.2L1.6 72.8M0.8 73.2L1.6 72.8M24.4 65.5L24.2 65.0M24.1 69.4L22.0 69.2M20.4 68.0L22.7 65.6M24.2 65.0L22.7 65.6M19.3 68.0L20.4 68.0M22.7 65.6L20.0 64.7M-2.2 47.5L-4.7 46.2M-1.6 47.4L-2.2 47.5M-2.8 51.2L-3.3 50.3M30.8 54.9L30.8 57.8M33.3 54.9L32.7 54.0M33.2 56.9L32.7 57.2M32.7 57.2L30.8 57.8M31.6 62.3L32.7 60.9M29.8 61.8L30.8 58.5M30.8 58.5L32.7 60.9M28.5 57.7L28.0 59.7M28.5 57.7L30.7 57.9M28.5 62.1L28.0 59.7M28.5 62.1L28.6 62.1M30.8 58.5L30.7 57.9M28.0 55.7L28.4 57.7M28.4 57.7L28.5 57.7M30.8 57.8L30.7 57.9M20.6 16.6L21.9 18.1M21.9 18.1L23.8 15.3M20.5 13.9L21.1 13.7M21.1 13.7L23.9 14.0M23.8 15.3L23.9 14.0M23.9 14.0L23.9 14.0M18.4 17.1L20.6 16.6M25.6 18.3L23.8 15.3M25.5 18.4L21.9 18.2M21.9 18.2L21.9 18.1M22.2 10.4L21.1 13.7M24.2 11.3L23.9 14.0M26.0 14.3L23.9 14.0M21.7 20.2L21.3 19.5M21.7 20.2L18.9 23.7M21.3 19.5L19.6 19.6M19.6 19.6L17.8 22.2M17.8 22.2L18.8 23.7M18.8 23.7L18.9 23.7M23.4 22.0L21.7 20.2M21.9 18.2L21.3 19.5M21.1 24.4L18.9 23.7M18.7 18.9L19.6 19.6M16.9 21.9L17.8 22.2M18.2 24.8L18.8 23.7M47.1 22.5L51.0 22.2M47.9 19.3L51.1 21.6M51.0 23.1L51.0 22.2M48.9 18.3L49.0 16.5M48.9 18.3L47.9 19.3M52.7 20.2L54.0 20.8M28.7 3.9L30.2 2.9M28.7 3.9L28.3 5.1M28.3 5.1L31.5 5.3M27.7 1.2L28.7 3.9M30.9 1.8L30.2 2.9M31.7 5.4L31.5 5.3M96.6 4.2L97.2 3.9M96.6 4.2L96.2 5.9M96.2 5.9L96.8 6.5M98.2 4.8L97.2 3.9M97.5 3.0L97.2 3.9M93.8 3.6L96.6 4.2M97.1 7.2L96.8 6.5M100.1 5.8L98.2 4.8M88.2 65.7L86.2 65.6M88.2 65.7L88.8 68.2M88.8 68.2L87.1 69.4M86.1 69.0L85.3 66.5M86.2 65.6L85.3 66.5M89.0 64.6L88.2 65.7M88.3 62.1L85.1 62.7M86.2 65.6L85.1 62.7M85.3 58.6L85.0 62.6M78.4 69.7L76.5 71.4M78.4 69.7L75.3 68.0M76.5 71.4L74.5 68.5M75.3 68.0L74.5 68.5M76.3 72.5L76.5 71.4M78.6 69.7L79.6 70.4M78.6 69.7L78.4 69.7M72.4 69.8L73.2 68.8M73.2 68.8L74.5 68.5M82.1 60.4L80.8 62.1M82.1 60.4L84.6 62.7M84.6 62.7L83.2 63.8M82.1 59.0L82.1 60.4M85.0 62.6L84.6 62.7M78.6 69.7L79.0 67.2M76.6 65.8L75.3 68.0M79.0 67.2L76.8 65.8M80.6 62.1L79.7 63.6M79.7 63.6L78.8 63.7M78.8 63.7L77.5 61.9M78.6 60.2L77.5 61.9M54.8 36.4L51.9 39.3M53.8 35.6L51.8 36.1M56.2 36.9L54.8 36.4M53.9 34.2L53.8 35.6M51.9 39.7L51.9 39.7M51.9 39.7L51.9 39.3M50.5 34.5L51.8 36.1M48.6 36.8L51.6 37.4M50.6 39.9L51.9 39.7M54.7 42.7L54.3 45.4M51.8 43.9L52.4 42.7M51.8 43.9L52.3 45.6M52.3 45.6L52.6 45.7M55.8 41.7L54.7 42.7M52.9 46.7L52.6 45.7M52.3 45.7L48.8 44.8M46.4 40.7L45.7 41.7M46.4 40.7L49.1 42.5M45.7 41.7L46.7 44.6M49.1 43.0L49.1 42.5M49.1 43.0L48.2 44.1M48.2 44.1L46.7 44.6M46.5 39.8L46.4 40.7M43.2 42.1L45.7 41.7M50.6 39.9L49.1 42.5M51.8 43.9L49.1 43.0M48.8 44.8L48.2 44.1M41.4 50.1L40.4 50.0M41.4 50.1L42.9 51.1M39.3 53.0L41.6 54.0M42.9 51.1L41.6 54.0M41.4 56.4L42.4 55.0M41.4 56.4L41.2 56.5M41.2 56.5L39.1 55.3M42.4 55.0L41.6 54.0M50.1 58.7L48.9 57.0M47.1 57.8L48.1 57.0M48.9 57.0L48.1 57.0M51.7 54.8L50.3 54.6M48.9 57.0L50.3 54.6M49.6 51.1L49.3 53.2M50.3 54.6L49.3 53.2M60.3 68.9L60.1 72.8M59.5 68.3L59.5 68.3M63.6 65.4L61.9 64.9M63.6 65.4L63.6 65.4M63.8 68.6L63.7 69.0M60.3 65.1L61.9 64.9M60.3 68.9L61.3 69.0M63.7 69.0L61.3 69.0M61.8 59.9L64.2 60.3M61.3 60.4L62.3 62.3M62.3 62.3L64.5 63.0M64.7 60.8L64.2 60.3M64.7 60.8L64.6 63.0M64.6 63.0L64.5 63.0M60.8 60.5L61.3 60.4M61.8 59.7L61.8 59.9M61.9 64.9L62.3 62.3M63.6 65.4L64.5 63.0M21.8 53.6L21.6 54.6M19.5 55.5L20.5 55.5M21.6 54.6L20.5 55.5M23.8 52.0L24.0 52.0M25.5 54.5L24.1 57.1M21.6 54.6L24.1 57.1M24.1 57.1L24.2 58.0M47.0 2.8L46.9 3.0M46.9 3.0L43.5 3.2M44.6 0.4L42.7 1.5M42.7 1.5L43.5 3.2M45.5 -1.8L44.6 0.4M47.2 2.8L47.0 2.8M42.4 1.4L42.7 1.5M42.8 5.5L43.5 3.2M47.6 6.0L45.6 7.0M47.6 6.0L46.8 3.4M46.8 3.4L44.5 6.7M48.2 6.2L47.6 6.0M48.4 8.6L45.6 7.0M46.9 3.0L46.8 3.4M44.5 8.0L44.6 7.0M55.2 16.9L51.9 14.1M55.2 16.9L52.6 18.6M52.6 18.6L52.0 18.1M52.0 18.1L51.6 16.6M51.6 16.6L51.9 14.1M51.8 13.4L51.9 14.1M52.7 20.2L52.6 18.6M48.9 18.3L52.0 18.1M49.0 16.5L51.6 16.6M29.0 52.5L29.9 52.0M29.9 52.0L32.6 53.4M36.1 54.0L33.8 51.9M32.6 53.4L33.8 51.9M33.8 51.9L33.9 51.0M33.1 50.2L31.3 49.6M33.1 50.2L34.1 48.2M31.3 49.6L30.6 48.2M34.1 48.2L33.1 46.5M30.6 48.2L30.6 48.2M30.6 48.2L32.6 46.4M32.6 46.4L33.1 46.5M29.9 52.0L31.3 49.6M36.0 48.2L34.1 48.2M27.6 49.7L30.6 48.2M36.1 45.4L33.1 46.5M32.2 44.9L32.6 46.4M28.4 45.9L28.4 44.9M28.4 45.9L25.8 48.0M25.8 48.0L24.2 47.0M28.4 44.9L28.0 44.6M24.2 47.0L24.3 46.0M27.6 44.4L28.0 44.6M29.9 43.9L28.4 44.9M30.6 48.2L28.4 45.9M25.9 48.1L25.8 48.0M23.1 47.4L24.2 47.0M28.5 41.0L28.0 44.6M25.7 42.7L27.6 44.4M73.3 23.2L73.8 21.3M73.3 23.2L76.7 23.9M73.8 21.3L77.8 22.6M76.7 23.9L77.8 22.7M77.8 22.7L77.8 22.6M77.8 22.6L77.8 22.6M73.3 23.3L73.3 23.2M73.7 20.8L73.8 21.3M76.3 26.5L76.7 23.9M78.1 21.7L77.8 22.6M81.6 24.3L77.8 22.6M68.0 69.2L67.1 70.2M70.3 72.7L67.1 70.2M67.1 70.2L67.1 70.2M70.2 73.1L67.3 73.1M67.1 70.2L67.3 73.1M41.8 65.9L41.0 63.0M43.8 61.8L41.3 62.6M41.3 62.6L41.0 63.0M38.4 62.3L35.7 59.7M38.4 62.3L37.1 63.5M37.1 63.5L36.5 63.8M36.5 63.8L34.9 62.0M34.9 62.0L34.4 60.7M35.7 59.7L34.5 60.6M34.4 60.7L34.5 60.6M36.8 57.6L35.7 59.7M36.8 57.6L39.1 59.0M38.6 62.2L39.1 59.0M38.6 62.2L38.4 62.3M38.9 65.2L37.1 63.5M38.6 62.2L41.0 63.0M32.7 60.9L34.4 60.7M36.8 57.5L36.8 57.6M37.6 72.6L38.9 70.2M37.1 72.7L35.8 71.3M35.8 71.3L37.0 69.6M38.9 70.2L37.0 69.6M39.3 70.1L38.9 70.2M37.9 72.8L37.6 72.6M36.2 68.6L37.0 69.6M29.8 68.7L30.3 69.8M28.1 67.7L28.3 67.7M27.1 70.9L27.4 71.0M27.4 71.0L30.1 70.2M30.3 69.8L30.1 70.2M33.3 70.1L33.2 70.4M30.3 69.8L33.2 70.4M35.8 71.3L33.4 71.1M33.2 70.4L33.4 71.1M25.6 72.9L26.8 74.1M29.0 72.7L26.8 74.1M30.1 70.2L29.9 72.8M29.0 72.7L29.9 72.8M91.6 68.7L91.4 68.9M91.2 70.3L91.6 71.8M93.0 72.6L94.0 71.8M96.9 71.1L94.0 71.8M94.3 68.3L93.0 68.6M91.6 65.3L91.6 68.7M88.3 71.8L91.2 70.3M93.7 74.8L93.0 72.6M3.6 58.1L3.6 59.5M6.9 61.1L5.4 61.1M3.6 59.5L5.4 61.1M1.7 72.5L-0.5 69.6M1.7 72.5L3.1 70.1M-0.5 69.6L1.3 67.5M1.4 67.5L1.3 67.5M3.9 -2.9L3.8 -3.5M3.9 -2.9L3.1 -2.0M0.9 -2.0L-0.1 -5.1M0.9 -2.0L1.6 -1.5M6.7 -2.8L3.9 -2.9M5.1 0.6L3.1 -2.0M1.4 0.6L1.6 -1.5M0.2 -1.8L0.9 -2.0M81.2 65.5L80.0 66.9M80.0 66.9L81.8 68.9M82.5 65.4L83.4 66.4M83.4 66.4L83.0 68.3M83.0 68.3L81.8 68.9M76.8 65.8L78.8 63.7M79.7 63.6L81.2 65.5M80.8 62.1L80.6 62.1M83.2 63.8L82.5 65.4M81.2 70.1L81.8 68.9M85.3 66.5L83.4 66.4M84.3 69.5L83.0 68.3M76.4 65.6L74.5 62.5M76.4 65.6L72.0 65.9M74.5 62.5L72.1 63.7M72.1 63.7L71.8 65.7M72.0 65.9L71.8 65.7M76.6 65.8L76.4 65.6M77.5 61.9L74.5 62.3M74.5 62.3L74.5 62.5M73.2 68.8L72.0 65.9M69.2 67.9L70.2 66.1M70.2 66.1L71.8 65.7M64.6 63.0L67.1 63.3M67.0 65.4L67.4 64.8M67.1 63.3L67.4 64.8M70.2 66.1L68.4 64.9M67.4 64.8L68.4 64.9M47.3 47.9L46.6 44.7M47.3 47.9L46.6 48.9M46.0 48.9L43.9 47.3M46.6 44.7L43.4 45.3M43.9 47.3L43.4 45.3M49.5 47.3L47.3 47.9M47.0 49.7L46.6 48.9M41.4 50.1L43.9 47.3M42.9 51.1L43.0 51.2M43.0 51.2L46.0 48.9M43.0 45.1L43.4 45.3M46.1 51.8L43.9 52.1M46.1 51.8L47.0 53.6M43.9 52.1L44.2 54.7M47.0 53.6L46.2 54.6M46.2 54.6L44.7 55.0M44.7 55.0L44.2 54.7M43.0 51.2L43.9 52.1M49.3 53.2L47.0 53.6M48.1 57.0L46.2 54.6M44.7 57.4L44.7 55.0M44.2 58.1L41.4 56.4M78.6 60.2L78.5 59.6M83.5 55.0L80.9 55.9M81.9 58.9L81.3 57.6M75.2 52.6L77.2 54.4M78.8 52.3L77.9 54.3M77.2 54.4L77.9 54.3M80.9 53.0L80.1 55.1M77.9 54.3L80.1 55.1M80.9 55.9L80.4 55.5M80.1 55.1L80.4 55.5M81.3 57.6L78.2 57.7M80.4 55.5L78.2 57.7M28.5 62.1L25.0 63.1M28.0 59.7L25.0 60.6M25.0 60.6L25.0 63.1M24.2 65.0L24.5 63.8M19.5 63.5L21.7 62.3M21.7 62.3L24.5 63.8M29.2 65.6L24.7 63.7M25.0 63.1L24.7 63.7M64.4 73.0L64.2 70.7M64.4 73.0L63.6 73.6M64.2 70.7L61.7 71.8M61.7 71.8L60.2 73.0M60.2 73.4L60.2 73.0M64.3 70.1L64.2 70.7M66.1 73.9L64.4 73.0M61.3 69.0L61.7 71.8M60.2 73.4L60.2 73.4M60.1 72.8L60.2 73.0M42.8 59.4L41.4 61.6M42.8 59.4L40.5 58.5M41.4 61.6L40.2 58.7M40.5 58.5L40.2 58.7M43.0 59.4L42.8 59.4M41.3 62.6L41.4 61.6M41.2 56.5L40.5 58.5M39.1 59.0L40.2 58.7M21.3 75.4L23.1 74.2M21.3 75.4L20.9 75.2M20.9 75.2L20.2 73.7M23.1 74.2L22.2 72.3M20.2 73.7L20.7 72.0M22.2 72.3L21.0 71.9M21.0 71.9L20.7 72.0M21.6 77.6L21.3 75.4M23.5 77.1L24.5 76.0M24.5 76.0L23.6 74.3M23.6 74.3L23.1 74.2M24.6 70.4L22.2 72.3M17.0 73.0L16.0 74.1M17.8 73.7L18.5 75.8M16.0 74.1L16.1 76.4M18.5 75.8L18.0 76.9M16.9 77.0L16.1 76.4M20.2 73.7L17.8 73.7M12.5 74.6L16.0 74.1M12.8 76.5L16.1 76.4M19.5 78.6L18.0 76.9M16.1 78.5L16.9 77.0M33.2 72.2L32.0 73.7M33.2 72.2L36.0 73.9M32.0 73.7L32.3 75.6M32.3 75.6L34.2 77.2M34.2 77.2L35.9 75.1M35.9 75.1L36.0 73.9M33.4 71.1L33.2 72.2M29.9 72.8L30.0 72.9M30.0 72.9L32.0 73.7M37.1 72.7L36.0 73.9M34.4 77.6L34.2 77.2M38.9 75.6L35.9 75.1M28.7 75.4L27.2 75.7M30.1 77.5L27.1 78.5M30.1 77.5L30.8 76.2M27.2 75.7L26.8 76.7M26.8 76.7L27.1 78.5M30.0 72.9L28.7 75.4M26.8 74.1L27.2 75.7M32.3 75.6L30.8 76.2M31.3 79.7L30.1 77.5M24.5 76.0L26.8 76.7M4.2 73.8L5.5 71.2M7.4 74.2L7.1 71.9M10.5 72.5L8.8 71.1M-0.7 57.7L-0.2 59.6M3.6 59.5L1.7 61.1M-0.2 59.6L1.7 61.1M-3.2 65.8L0.3 64.9M-1.7 67.4L1.2 67.4M0.3 64.9L1.2 67.4M-3.7 68.9L-1.4 70.2M-4.9 72.3L-1.6 71.2M-1.6 71.2L-1.4 70.2M-0.5 69.6L-1.4 70.2M-0.9 72.9L-1.6 71.2M6.2 65.3L2.4 66.7M6.2 65.3L4.5 63.8M4.5 63.8L2.4 66.7M70.7 62.8L71.6 60.2M70.7 62.8L70.6 62.7M70.6 62.7L68.2 61.1M71.0 59.8L71.6 60.2M71.0 59.8L68.4 60.2M68.4 60.2L68.2 61.1M72.1 63.7L70.7 62.8M68.4 64.9L70.6 62.7M68.2 59.3L68.4 60.2M78.2 57.7L77.7 58.0M76.9 55.6L77.7 58.0M72.8 55.2L74.1 56.6M76.9 55.6L74.1 56.6M78.5 59.6L77.6 58.5M77.6 58.5L77.7 58.0M24.2 58.0L21.0 57.7M24.2 58.0L24.1 58.5M24.1 58.5L21.3 60.6M21.0 57.7L19.5 59.3M19.5 59.5L19.5 59.3M20.5 55.5L21.0 57.7M24.2 58.0L24.2 58.0M25.0 60.6L24.1 58.5M21.7 62.3L21.3 60.6M17.5 57.0L19.5 59.3M18.0 61.2L19.5 59.5M8.8 71.1L9.2 69.6M10.0 68.5L9.2 69.6M5.4 71.1L6.3 68.9M9.2 69.6L6.3 68.9M2.2 68.2L6.0 67.5M1.1 63.0L0.3 64.9M1.1 63.0L1.1 62.9M1.1 62.9L-2.0 61.3M0.3 64.9L-3.3 63.0M-2.0 61.3L-3.5 61.3M1.4 67.5L2.4 66.7M4.5 63.8L1.1 63.0M4.5 63.8L4.5 63.8M0.3 64.9L0.3 64.9M1.7 61.1L1.1 62.9M-0.2 59.6L-2.0 61.3M77.4 58.6L74.1 56.7M74.1 56.7L73.7 59.1M73.7 59.1L74.0 60.1M74.3 60.4L74.0 60.1M77.6 58.5L77.4 58.6M71.8 58.2L73.7 59.1M71.6 60.2L74.0 60.1M9.6 65.5L7.5 64.1M9.6 65.5L8.9 67.1M8.9 67.1L6.6 66.5M6.6 66.5L6.3 65.3M7.5 64.1L6.3 65.3M10.8 64.5L9.6 65.5M7.9 63.1L7.5 64.1M10.0 68.5L8.9 67.1M6.2 65.3L6.3 65.3" fill="none" stroke="#cf6496" stroke-width="0.8"/>
<path d="M100.2 68.0h0.01M93.8 42.1h0.01M93.1 29.4h0.01M100.1 33.1h0.01M99.0 33.6h0.01M59.3 31.4h0.01M68.7 32.5h0.01M81.0 3.5h0.01M62.8 1.2h0.01M3.5 16.3h0.01M16.0 20.4h0.01M12.9 26.4h0.01M95.6 53.9h0.01M88.9 23.5h0.01M86.6 14.8h0.01M96.7 33.8h0.01M79.6 48.3h0.01M89.0 64.6h0.01M96.3 64.9h0.01M88.2 65.7h0.01M88.4 56.2h0.01M101.0 42.5h0.01M25.5 1.6h0.01M59.8 25.7h0.01M64.3 9.1h0.01M64.0 12.5h0.01M67.1 21.4h0.01M75.5 33.7h0.01M66.9 0.5h0.01M88.3 71.8h0.01M34.8 30.7h0.01M34.6 23.3h0.01M36.3 24.6h0.01M40.3 12.5h0.01M30.4 18.2h0.01M33.8 19.5h0.01M35.0 18.6h0.01M16.9 21.9h0.01M14.0 53.9h0.01M2.6 24.6h0.01M94.9 18.2h0.01M92.9 17.7h0.01M85.4 46.9h0.01M90.4 47.3h0.01M88.0 47.7h0.01M92.1 51.8h0.01M89.5 53.6h0.01M93.9 62.1h0.01M96.8 48.8h0.01M99.8 46.8h0.01M99.5 46.8h0.01M67.2 37.7h0.01M66.9 38.0h0.01M59.8 55.2h0.01M39.4 4.9h0.01M10.4 37.2h0.01M32.2 33.7h0.01M58.6 0.7h0.01M61.0 2.6h0.01M58.0 10.0h0.01M65.6 15.7h0.01M66.3 24.8h0.01M71.0 13.2h0.01M83.9 29.2h0.01M84.7 26.4h0.01M68.5 24.7h0.01M73.1 5.9h0.01M76.7 6.7h0.01M41.0 67.5h0.01M36.7 28.4h0.01M12.4 67.0h0.01M12.2 68.3h0.01M15.0 68.9h0.01M43.0 69.7h0.01M38.4 14.8h0.01M4.8 3.2h0.01M4.8 1.2h0.01M6.7 15.6h0.01M22.2 10.4h0.01M2.4 38.8h0.01M4.1 39.8h0.01M10.6 31.6h0.01M3.9 34.6h0.01M0.2 29.3h0.01M86.8 35.3h0.01M98.8 25.7h0.01M96.2 20.6h0.01M97.3 20.1h0.01M95.6 23.8h0.01M93.3 23.2h0.01M61.5 39.1h0.01M62.2 52.7h0.01M63.6 65.4h0.01M21.5 1.7h0.01M28.3 33.9h0.01M54.3 3.5h0.01M50.4 8.5h0.01M46.8 11.0h0.01M46.9 10.9h0.01M64.8 15.5h0.01M62.9 21.1h0.01M59.6 20.3h0.01M48.7 15.2h0.01M81.6 24.3h0.01M70.5 27.9h0.01M28.0 67.7h0.01M10.5 72.5h0.01M52.1 58.5h0.01M36.9 56.9h0.01M44.3 22.8h0.01M45.4 16.1h0.01M38.4 6.2h0.01M24.7 25.3h0.01M8.7 8.2h0.01M1.3 53.5h0.01M5.1 36.6h0.01M5.6 35.2h0.01M89.0 1.4h0.01M94.3 8.6h0.01M81.3 12.5h0.01M81.4 3.9h0.01M83.6 5.0h0.01M88.6 8.0h0.01M56.2 36.9h0.01M39.1 52.6h0.01M64.2 55.4h0.01M65.2 47.0h0.01M60.4 48.9h0.01M40.7 34.1h0.01M42.4 34.3h0.01M42.8 41.5h0.01M48.6 36.8h0.01M52.3 45.7h0.01M67.6 55.1h0.01M57.2 48.7h0.01M60.3 65.1h0.01M15.8 11.2h0.01M13.1 43.4h0.01M29.0 36.3h0.01M27.4 38.7h0.01M48.4 8.6h0.01M48.7 8.4h0.01M60.2 17.6h0.01M49.0 16.5h0.01M25.9 48.1h0.01M70.9 19.9h0.01M46.6 72.3h0.01M24.6 70.4h0.01M50.8 71.7h0.01M80.2 73.9h0.01M81.0 74.1h0.01M13.5 72.2h0.01M10.2 57.4h0.01M26.0 14.3h0.01M50.6 24.9h0.01M27.6 6.0h0.01M24.8 25.4h0.01M82.1 59.0h0.01M63.4 42.0h0.01M60.5 36.9h0.01M58.0 44.0h0.01M40.1 50.3h0.01M41.4 56.4h0.01M46.5 39.8h0.01M43.0 45.1h0.01M44.7 57.4h0.01M78.6 51.0h0.01M56.6 58.0h0.01M54.3 62.8h0.01M53.3 61.1h0.01M15.7 3.6h0.01M12.6 6.6h0.01M14.7 59.5h0.01M16.4 51.0h0.01M48.2 2.6h0.01M36.0 48.2h0.01M23.6 74.3h0.01M19.2 67.7h0.01M96.9 71.2h0.01M21.9 18.1h0.01M47.0 19.5h0.01M28.7 3.9h0.01M30.2 2.9h0.01M60.3 68.9h0.01M44.6 7.0h0.01M52.0 18.1h0.01M24.2 47.0h0.01M24.3 46.0h0.01M76.7 23.9h0.01M67.3 73.1h0.01M33.4 71.1h0.01M29.0 72.7h0.01M91.6 68.7h0.01M91.6 71.8h0.01M74.5 62.5h0.01M46.2 54.6h0.01M44.7 55.0h0.01M81.9 58.9h0.01M77.2 54.4h0.01M17.0 73.0h0.01M33.2 72.2h0.01M2.4 66.7h0.01M24.2 58.0h0.01M21.0 57.7h0.01M74.3 60.4h0.01M6.3 65.3h0.01" fill="none" stroke="#8a2c64" stroke-opacity="0.55" stroke-width="1.3" stroke-linecap="round"/></g>
<g filter="url(#bl2)" fill="#d86aa0" opacity="0.22"><ellipse cx="18" cy="62" rx="22" ry="14"/></g>
<g filter="url(#bl2)" fill="#f3d2e6"><ellipse cx="12" cy="8" rx="9" ry="6"/></g>
<g filter="url(#bl)" opacity="0.85"><path d="M-2,20 C6,19.5 13,20.5 20,23 L21,35 C14,35.5 6,35 -2,35 Z" fill="#c94482"/>
<path d="M64,38 C70,37.5 76,37 80,36.5 L84,47 C78,48.5 72,48.5 64,47 Z" fill="#c83c7c"/></g>
<path d="M19.9,30.4 C21,28.5 22,27.6 23.7,27.3 C27,26.2 30,25.7 34.5,25.5 C39,25.4 43,25.6 46.8,26.1 C50,26.8 53,28 56,29.6 C59,31.5 61.5,33.8 63.7,36.5 C65.3,38.3 66.5,39.8 66.8,41.2 C66.6,42.8 65.8,43.8 64.5,44.2 C61.5,44.3 58.5,44 56,43.5 C51,42.3 46.5,41 42.2,39.6 C38.5,38.5 35,37.6 31.4,36.5 C28.5,35.7 26,35 23.7,34.2 C21.8,33.3 20.5,32 19.9,30.4 Z" fill="none" stroke="#cc4080" stroke-width="6" opacity="0.85" filter="url(#bl)"/>
<path d="M19.9,30.4 C21,28.5 22,27.6 23.7,27.3 C27,26.2 30,25.7 34.5,25.5 C39,25.4 43,25.6 46.8,26.1 C50,26.8 53,28 56,29.6 C59,31.5 61.5,33.8 63.7,36.5 C65.3,38.3 66.5,39.8 66.8,41.2 C66.6,42.8 65.8,43.8 64.5,44.2 C61.5,44.3 58.5,44 56,43.5 C51,42.3 46.5,41 42.2,39.6 C38.5,38.5 35,37.6 31.4,36.5 C28.5,35.7 26,35 23.7,34.2 C21.8,33.3 20.5,32 19.9,30.4 Z" fill="#fbeef5" stroke="#a0185a" stroke-width="1.1"/>
<circle cx="82.4" cy="41.2" r="4.4" fill="#fbeef5" stroke="#94124e" stroke-width="1.6"/>
</g>
<g transform="translate(210.5,180)" clip-path="url(#c2)">
<rect x="0" y="0" width="101" height="75" fill="#fadff6"/>
<g filter="url(#tx)"><path d="M98.9 -1.9L98.4 -4.7M95.2 -1.4L95.6 -4.0M-2.4 74.4L-4.3 76.5M-2.4 74.4L-3.6 72.6M106.2 75.6L102.6 74.8M105.3 72.9L103.6 72.4M102.6 74.8L103.6 72.4M100.4 63.2L103.2 62.5M100.4 63.2L100.3 65.1M103.2 62.5L102.4 64.7M102.4 64.7L100.3 65.1M99.4 65.8L99.6 65.8M99.4 65.8L98.4 61.5M98.4 61.5L100.1 60.9M-3.0 21.2L-1.4 21.1M-4.0 20.0L-2.7 18.0M-1.4 21.1L-1.0 20.1M-1.0 20.1L-2.7 18.0M-2.7 17.3L-2.4 16.9M-5.4 14.1L-2.4 16.9M99.1 -1.8L99.7 -1.5M99.7 -1.5L102.4 -3.3M105.1 -2.0L103.7 -1.9M102.4 -3.3L103.7 -1.9M103.8 60.1L103.3 61.7M103.5 62.0L103.3 61.7M103.5 62.0L109.7 64.4M102.9 58.3L103.8 60.1M103.2 62.5L103.5 62.0M100.1 60.8L100.1 60.9M100.1 60.8L103.3 61.7M104.7 65.9L102.4 64.7M99.4 65.8L97.6 65.6M98.3 61.5L98.4 61.5M97.6 65.6L97.4 65.1M-0.4 76.4L2.0 76.2M-0.4 76.4L-0.9 75.7M-0.9 75.7L-1.5 74.7M2.8 74.1L2.0 76.2M-3.4 78.1L-1.0 77.5M-4.2 76.7L-0.9 75.7M-0.6 71.2L-0.3 73.3M-0.6 71.2L-3.1 71.7M-2.1 48.3L-1.2 45.2M-2.1 48.3L1.6 46.7M-0.7 44.6L-1.2 45.2M-0.8 67.6L1.4 64.4M-0.8 67.6L-1.5 67.4M1.4 64.4L1.1 63.5M-1.5 67.4L-2.0 64.1M-2.0 64.1L1.1 63.5M-5.7 64.4L-2.2 63.9M-2.2 63.9L-2.4 61.4M2.7 44.8L1.5 45.7M2.7 44.8L4.9 45.3M2.0 47.5L3.7 48.2M2.0 47.5L1.6 46.7M5.3 47.8L4.9 45.3M9.4 55.7L12.5 54.5M9.4 55.7L8.6 54.6M12.5 54.4L12.5 54.5M12.5 54.4L9.0 52.3M9.0 52.3L8.6 54.6M104.3 77.7L102.9 77.6M102.9 77.6L101.4 78.1M100.2 77.6L101.4 78.1M100.2 77.6L101.6 74.9M101.6 74.9L101.7 74.9M98.7 77.9L100.2 77.6M96.7 61.3L95.8 62.7M100.1 60.8L100.1 60.5M101.4 58.0L102.9 58.3M101.4 58.0L101.2 58.0M101.2 58.0L100.1 60.5M96.2 58.1L95.9 59.6M96.2 58.1L96.5 58.0M100.8 73.8L101.9 71.8M100.8 73.8L101.6 74.9M103.6 72.4L102.8 71.9M102.8 71.9L101.9 71.8M102.8 71.9L104.1 70.3M104.7 65.9L103.0 68.3M99.6 65.8L100.8 68.6M103.0 68.3L100.8 68.6M99.1 73.8L98.9 74.1M98.2 75.3L98.9 74.1M99.1 73.8L98.2 71.7M101.9 71.8L100.6 69.4M98.2 71.7L100.6 69.4M100.8 68.6L100.7 68.9M100.7 68.9L100.6 69.4M96.4 66.4L97.6 65.6M96.4 66.4L96.1 69.1M100.7 68.9L96.1 69.1M-4.3 36.0L-2.9 36.4M-1.1 33.8L-1.1 33.8M-3.5 32.5L-1.2 29.6M-1.2 29.6L-3.0 28.2M-3.4 28.2L-3.0 28.2M14.9 44.6L15.0 44.6M14.9 44.6L13.1 45.4M13.1 45.4L13.5 47.1M15.0 44.6L16.4 48.1M15.6 48.4L16.4 48.1M11.1 45.0L11.5 44.8M11.1 45.0L10.7 49.5M11.5 44.8L13.1 45.4M13.5 47.1L12.2 49.4M12.2 49.4L10.7 49.5M14.7 51.1L14.4 51.1M12.2 49.4L14.4 51.1M8.0 44.6L5.5 44.8M8.0 44.6L7.7 43.0M5.5 44.8L5.1 42.3M7.7 43.0L5.1 42.3M7.8 42.9L7.0 39.7M7.8 42.9L10.0 41.4M10.0 41.4L10.0 40.4M8.7 45.4L8.0 44.6M7.7 43.0L7.8 42.9M10.0 41.4L11.4 43.7M15.0 43.3L14.9 44.6M11.4 43.7L13.5 40.9M12.5 54.5L13.2 55.3M9.5 58.2L12.3 58.1M13.2 55.3L12.3 58.1M12.3 58.1L12.3 58.1M15.0 43.3L17.3 41.1M13.5 40.9L13.6 40.3M16.3 39.4L17.3 41.1M18.7 42.4L18.0 44.9M15.0 44.6L18.0 44.9M17.3 41.1L17.7 41.3M-2.6 12.9L-3.2 12.8M-2.4 16.9L-2.0 16.6M-1.6 14.5L-2.0 16.6M32.5 -3.3L30.1 -2.6M30.1 -2.6L29.3 -5.5M80.4 27.6L83.1 27.1M80.4 27.6L81.1 30.9M83.1 27.1L83.5 28.5M81.1 30.9L81.3 31.0M67.6 6.0L67.7 8.6M67.6 6.0L70.9 5.8M67.7 8.6L71.7 8.1M70.9 5.8L71.7 7.7M71.7 7.7L71.7 8.1M75.6 6.0L74.5 7.0M74.5 7.0L71.7 7.7M71.2 5.1L74.6 5.2M71.2 5.1L70.9 5.8M65.8 5.7L64.2 3.1M65.8 5.7L64.2 7.4M61.8 4.2L64.2 3.1M61.8 4.2L61.0 6.0M64.3 31.6L61.4 34.5M61.4 34.5L61.9 35.5M65.1 35.0L64.9 35.4M62.0 35.6L61.9 35.5M53.5 35.2L52.0 37.7M52.0 33.5L50.5 35.6M50.5 35.6L51.5 37.7M52.0 37.7L51.5 37.7M103.1 -0.2L103.7 -1.9M88.0 14.9L85.8 11.7M95.2 -1.4L95.2 -1.4M93.2 -4.5L93.1 -1.4M95.2 -1.4L93.1 -1.4M99.1 -1.8L97.0 1.3M97.0 1.3L96.1 1.6M96.1 1.6L95.8 0.9M95.2 -1.4L95.8 0.9M90.6 -2.2L90.7 -3.9M90.6 -2.2L91.5 -1.1M93.1 -1.4L91.5 -1.1M90.7 30.6L88.3 31.9M90.7 30.6L91.2 32.7M89.6 34.4L89.6 34.4M89.6 34.4L87.6 33.3M87.6 33.3L88.3 31.9M91.2 32.7L89.6 34.4M101.2 58.0L99.6 56.4M99.6 56.4L99.5 56.3M99.0 56.4L99.5 56.3M93.5 38.7L94.8 36.8M93.5 38.7L91.7 38.4M91.7 38.4L91.6 37.4M91.6 37.4L92.7 35.6M94.8 36.8L92.9 35.6M92.7 35.6L92.9 35.6M94.4 40.0L93.5 38.7M97.0 38.2L95.7 36.9M95.7 36.9L94.8 36.8M89.6 34.4L89.4 36.5M89.4 36.5L91.6 37.4M89.6 34.4L92.7 35.6M92.6 33.2L91.2 32.7M92.6 33.2L93.1 35.0M97.0 38.2L98.0 38.5M98.0 38.5L99.3 35.6M95.7 36.9L96.7 33.5M99.3 35.6L96.7 33.5M93.1 35.0L96.6 33.2M96.6 33.2L96.7 33.5M9.2 58.4L10.3 61.9M9.2 58.4L9.5 58.2M12.3 58.1L12.1 60.1M11.1 62.2L10.3 61.9M8.1 58.6L7.4 61.3M8.1 58.6L9.2 58.4M7.4 61.3L8.1 62.7M10.3 61.9L8.1 62.7M2.0 76.2L2.1 76.4M2.1 76.4L0.0 80.7M0.2 70.5L2.3 71.2M0.2 70.5L-0.6 71.2M2.8 74.1L3.3 73.5M3.3 73.5L2.3 71.2M0.2 70.5L-0.4 68.0M-0.4 68.0L2.4 67.6M2.4 67.6L3.3 69.8M2.3 71.2L3.3 69.8M7.4 61.3L5.3 61.1M5.3 61.1L4.8 62.0M-1.2 45.2L-4.5 45.7M-2.4 48.7L-3.2 48.6M-1.3 56.5L-3.3 57.6M-1.3 56.5L0.9 58.1M-3.3 57.6L-1.5 60.5M-1.5 60.5L-1.2 60.5M-2.0 64.1L-2.2 63.9M-1.5 60.5L-2.4 61.4M1.1 63.5L1.4 62.4M-1.2 60.5L1.4 62.4M8.1 58.6L6.3 58.1M5.3 61.1L5.2 60.5M6.3 58.1L5.2 60.5M3.3 62.3L4.8 62.0M3.3 62.3L2.1 62.1M2.1 62.1L2.5 59.5M5.2 60.5L2.5 59.5M0.9 58.1L2.2 58.0M2.1 62.1L1.4 62.4M2.2 58.0L2.5 59.5M-5.2 66.3L-2.3 67.6M-5.7 69.9L-2.6 68.1M-2.6 68.1L-2.3 67.6M-1.5 67.4L-2.3 67.6M-3.1 71.7L-2.6 68.1M-0.4 68.0L-0.8 67.6M8.1 47.0L5.4 47.8M8.1 47.0L9.5 50.3M8.9 51.1L6.1 49.8M8.9 51.1L9.3 50.6M6.1 49.8L5.4 47.8M9.5 50.3L9.3 50.6M8.7 45.4L8.1 47.0M5.3 47.8L5.4 47.8M5.5 44.8L4.9 45.3M10.7 49.5L9.5 50.3M12.5 54.4L13.0 52.5M9.0 52.3L8.8 51.4M8.8 51.4L8.9 51.1M13.0 52.5L9.3 50.6M13.0 52.5L14.4 51.1M-1.1 55.5L-0.6 54.6M-0.6 54.6L-1.3 52.6M-1.3 56.5L-1.1 55.5M-1.2 52.1L-4.7 52.0M3.7 48.2L3.6 49.9M6.1 49.8L5.2 50.5M5.2 50.5L3.6 49.9M49.9 40.1L47.6 39.7M49.9 40.1L50.6 38.5M50.6 38.5L48.1 37.5M33.7 28.5L34.7 26.6M34.7 26.6L35.2 26.5M35.2 26.5L37.5 28.7M37.5 28.7L37.5 28.7M37.5 28.7L36.6 30.3M35.9 30.6L36.6 30.3M39.1 32.1L40.4 30.1M39.1 32.1L36.6 30.3M40.4 30.1L40.4 30.1M40.4 30.1L37.5 28.7M35.6 50.6L35.4 47.6M32.7 49.6L35.4 47.6M38.5 50.9L38.5 47.6M38.5 50.9L36.1 51.2M35.4 47.6L35.7 47.3M38.5 47.6L35.7 47.3M46.7 77.1L48.2 76.2M48.2 76.2L51.3 78.6M98.2 71.7L97.2 71.5M95.9 69.5L96.1 69.1M95.9 69.5L95.8 69.8M95.8 69.8L97.2 71.5M98.9 74.1L95.9 73.2M97.2 71.5L95.9 73.2M18.0 44.9L18.4 45.6M16.4 48.1L17.7 48.0M17.7 48.0L18.0 47.6M18.4 45.6L18.0 47.6M18.7 42.4L19.1 42.4M19.1 42.4L22.6 43.7M22.6 43.7L22.5 44.5M22.5 44.5L21.3 45.7M18.4 45.6L21.3 45.7M10.7 28.1L8.3 30.1M9.3 26.8L8.0 29.9M8.3 30.1L8.0 29.9M10.8 28.2L12.5 30.6M10.8 28.2L10.7 28.1M8.3 30.1L8.7 30.9M8.7 30.9L12.5 30.6M10.0 40.4L11.1 39.4M13.6 40.3L12.4 39.5M11.1 39.4L12.4 39.5M2.8 16.9L1.7 15.4M2.8 16.9L2.4 18.7M-0.7 17.0L2.2 18.8M2.4 18.7L2.2 18.8M3.5 16.4L3.7 13.7M3.5 16.4L2.8 16.9M3.7 13.7L1.5 13.5M1.2 13.8L1.7 15.4M1.2 13.8L-1.6 14.5M-2.0 16.6L-0.7 17.0M-1.0 20.1L1.2 19.7M1.2 19.7L2.2 18.8M30.0 -2.6L30.1 -2.6M-2.7 -2.6L-3.9 -1.4M-3.3 8.3L-1.4 5.5M2.1 10.3L1.3 11.4M2.1 10.3L2.1 8.8M1.3 11.4L-1.6 10.9M-1.6 10.9L-2.0 9.2M4.7 11.5L2.1 10.3M4.7 11.5L4.3 13.4M4.3 13.4L3.7 13.7M1.5 13.5L1.3 11.4M-2.6 12.9L-1.6 10.9M-3.3 8.3L-2.0 9.2M4.7 11.5L5.6 10.9M2.3 8.4L5.7 9.4M2.3 8.4L2.1 8.8M5.6 10.9L5.7 9.4M59.0 55.5L59.8 52.7M59.0 55.5L56.7 55.3M56.7 55.3L56.5 54.6M59.8 52.7L58.7 52.5M56.5 54.6L58.7 52.5M79.4 27.2L79.4 24.8M79.4 27.2L80.4 27.6M83.1 24.8L80.3 23.6M80.3 23.6L79.4 24.8M67.0 -2.8L67.3 -3.4M67.0 -2.8L67.6 -1.3M67.6 -1.3L68.1 -0.9M68.1 -0.9L70.5 -1.5M70.5 -1.5L70.6 -3.4M71.4 -0.9L70.5 -1.5M64.1 -3.2L67.0 -2.8M64.8 2.0L64.9 0.0M64.4 2.5L61.0 0.2M64.9 0.0L63.7 -1.2M63.7 -1.2L61.0 -0.0M61.0 -0.0L61.0 0.2M67.0 5.7L65.8 5.7M67.0 5.7L67.9 2.7M64.2 3.1L64.4 2.5M67.9 2.7L67.5 1.9M67.5 1.9L64.8 2.0M68.1 0.7L68.1 -0.9M67.6 -1.3L64.9 0.0M64.1 -3.2L63.7 -1.2M74.7 19.7L77.0 19.1M73.1 19.2L72.7 18.4M76.5 16.4L77.0 19.1M76.5 16.4L73.3 16.4M72.7 18.4L73.3 16.4M53.7 12.7L53.5 10.7M53.7 12.7L55.8 13.7M53.8 10.4L53.5 10.7M53.8 10.4L56.7 10.2M57.2 13.2L57.5 11.2M57.2 13.2L56.3 13.6M56.3 13.6L55.8 13.7M56.7 10.2L57.5 11.2M68.6 10.8L65.4 11.4M68.6 10.8L67.5 9.2M67.5 9.2L65.5 9.4M65.4 11.4L65.3 11.3M67.0 5.7L67.6 6.0M64.2 7.4L64.2 8.2M65.5 9.4L64.2 8.2M72.5 21.3L69.9 21.9M72.5 21.3L73.6 23.9M73.6 23.9L71.7 25.3M71.7 25.3L69.7 23.0M69.7 23.0L69.9 21.9M61.4 34.5L59.5 33.3M59.5 33.3L58.2 35.0M61.9 35.5L59.3 37.2M58.2 35.0L59.3 37.2M53.1 42.2L51.1 38.2M54.0 41.8L51.2 38.0M51.1 38.2L51.2 38.0M64.9 35.4L65.4 37.5M62.0 35.6L62.2 37.0M62.2 37.0L65.4 37.5M59.6 40.4L60.2 41.5M59.6 40.4L59.8 38.9M60.2 41.5L63.6 41.0M59.8 38.9L62.1 38.3M62.1 38.3L63.9 39.9M63.9 39.9L63.8 40.9M63.8 40.9L63.6 41.0M56.3 43.2L59.9 42.2M56.3 43.2L55.3 41.8M59.9 42.2L60.2 41.5M58.8 40.5L55.3 41.8M58.8 40.5L59.6 40.4M59.9 42.2L60.8 44.7M62.0 44.7L63.6 41.0M59.2 38.1L59.3 37.2M59.2 38.1L59.8 38.9M62.2 37.0L62.1 38.3M65.6 38.0L65.4 37.5M61.2 21.4L63.5 23.1M61.2 21.4L61.4 19.6M63.5 23.1L65.8 21.4M64.6 19.7L65.8 21.4M61.4 19.6L61.7 19.0M52.3 16.2L54.2 16.7M51.5 17.3L52.2 20.6M55.1 18.1L54.2 16.7M55.1 18.1L52.9 20.5M52.9 20.5L52.2 20.6M51.4 14.2L53.7 12.7M51.4 14.2L52.3 16.2M55.8 13.7L54.2 16.7M55.2 18.1L56.4 22.0M55.2 18.1L55.1 18.1M55.5 21.9L56.4 22.0M55.5 21.9L52.9 20.5M50.2 17.5L49.4 19.2M50.2 17.5L48.4 16.2M48.4 16.2L48.1 16.2M48.1 16.2L48.6 18.6M48.6 18.6L49.4 19.2M49.6 20.4L52.0 20.8M52.0 20.8L52.2 20.6M50.7 13.9L51.4 14.2M46.8 16.0L46.6 16.3M46.8 16.0L48.1 16.2M46.5 18.7L46.2 18.3M46.5 18.7L48.6 18.6M46.2 18.3L46.6 16.3M65.0 25.0L63.5 23.8M65.0 25.0L64.8 26.8M64.8 26.8L63.9 27.8M62.1 26.1L63.7 27.8M63.7 27.8L63.9 27.8M67.4 25.1L67.6 23.8M67.4 25.1L65.0 25.0M67.6 23.8L66.0 21.5M63.5 23.1L63.5 23.8M67.6 28.6L68.3 27.1M67.6 28.6L65.0 29.4M65.0 29.4L63.9 27.8M60.2 28.3L61.5 29.2M60.2 28.3L60.2 27.8M60.2 27.8L62.1 26.1M50.6 38.5L51.1 38.2M48.1 37.5L48.0 35.6M48.7 35.4L48.0 35.6M48.7 35.4L50.5 35.6M51.5 37.7L51.2 38.0M48.0 35.6L48.0 35.6M48.7 35.4L49.9 31.7M49.9 31.7L49.1 31.2M49.1 31.2L46.7 32.9M48.0 35.6L46.7 32.9M22.5 1.9L24.6 -1.2M26.7 -3.1L25.8 -0.8M23.2 3.1L26.5 0.4M26.5 0.4L27.9 1.0M27.9 1.0L27.9 1.6M29.7 0.3L30.0 -2.6M29.7 0.3L27.9 1.0M25.8 -0.8L26.5 0.4M20.6 1.6L17.6 1.3M20.6 1.6L21.8 2.9M17.4 4.0L17.6 1.3M17.4 4.0L19.9 4.4M19.9 4.4L21.8 2.9M22.5 1.9L22.2 3.0M23.2 3.1L22.7 3.3M22.7 3.3L22.2 3.0M21.0 -1.8L20.6 1.6M22.2 3.0L21.8 2.9M29.5 4.9L27.9 1.6M29.4 5.0L28.1 6.2M31.0 9.3L30.4 10.7M31.0 9.3L28.2 6.9M29.5 10.8L26.8 8.9M26.8 8.9L28.2 6.9M32.6 8.2L29.4 5.0M32.6 8.2L31.0 9.3M29.7 0.3L30.0 0.4M38.7 -1.1L36.3 -2.4M35.5 0.1L36.0 -1.9M35.5 0.1L37.5 1.2M37.6 1.2L37.5 1.2M36.3 -2.4L36.0 -1.9M39.2 -4.0L40.1 -1.6M40.1 -1.6L38.7 -1.1M33.0 -2.1L36.0 -1.9M33.2 0.3L33.9 0.7M33.9 0.7L35.5 0.1M50.7 13.9L50.6 13.6M53.5 10.7L51.0 10.3M50.6 13.6L51.0 10.3M53.8 10.4L53.8 8.9M53.8 8.9L51.8 7.6M51.0 10.3L50.7 9.9M3.5 16.4L6.8 15.9M4.3 13.4L6.8 14.9M6.8 14.9L6.8 15.9M18.2 29.6L21.4 28.4M18.2 29.6L17.3 27.5M21.4 28.4L21.3 27.4M21.3 27.4L19.4 25.9M19.4 25.9L19.2 24.9M17.3 27.5L15.4 27.4M15.4 27.4L16.8 23.6M16.8 23.6L19.2 24.9M21.3 27.4L22.0 26.9M22.0 26.9L23.7 23.5M20.5 23.3L19.2 24.9M8.7 25.1L10.8 24.1M8.7 25.1L8.6 25.7M10.8 28.2L12.4 26.4M12.4 26.4L10.8 24.1M21.0 -1.8L20.6 -2.1M20.6 -2.1L21.7 -4.7M99.7 -1.5L100.6 0.9M97.0 1.3L99.3 1.4M100.6 0.9L100.8 1.0M80.0 14.4L79.5 15.4M80.0 14.4L82.4 13.6M83.9 15.4L82.4 13.6M83.9 15.4L83.9 15.7M83.9 15.7L81.8 17.1M79.5 15.4L81.8 17.1M80.0 14.4L78.6 11.7M77.3 15.8L78.8 15.8M77.3 15.8L76.8 14.1M76.8 14.1L78.6 11.7M79.5 15.4L78.8 15.8M82.4 12.9L83.2 12.0M82.4 12.9L81.3 11.9M83.2 12.0L81.6 9.5M81.3 11.9L81.6 9.5M82.4 13.6L82.4 12.9M78.6 11.7L78.6 11.6M78.6 11.6L81.3 11.9M92.6 33.2L93.9 31.8M96.6 33.2L96.6 33.0M93.9 31.8L96.6 33.0M99.3 35.6L100.5 35.1M100.5 35.1L98.9 31.8M98.9 31.8L97.4 31.9M96.6 33.0L97.4 31.9M89.5 12.0L91.5 10.9M89.5 12.0L89.5 12.5M91.5 10.9L92.6 13.1M92.6 13.1L91.7 15.1M96.1 1.6L96.1 1.7M99.3 1.4L98.8 4.4M96.1 1.7L95.5 4.9M99.0 5.0L95.8 5.3M95.8 5.3L95.5 4.9M81.3 -3.5L83.1 -2.6M83.1 -2.6L84.7 -4.1M90.6 -2.2L87.8 -2.0M87.8 -2.0L86.3 -3.5M81.3 -3.5L80.2 -1.3M77.9 -1.7L78.5 -1.4M77.9 -1.7L78.1 -3.8M80.2 -1.3L78.5 -1.4M75.6 6.0L76.2 5.9M74.6 5.2L74.4 2.4M74.4 2.4L74.7 2.2M74.7 2.2L77.5 3.4M77.5 3.4L77.1 4.6M76.2 5.9L77.1 4.6M75.4 8.9L77.6 8.1M78.4 11.0L78.6 11.6M78.4 11.0L79.1 8.8M81.6 9.5L81.4 8.7M79.1 8.8L79.9 8.3M81.4 8.7L79.9 8.3M77.1 4.6L80.0 7.2M77.6 8.1L79.1 8.8M79.9 8.3L80.0 7.2M87.7 52.6L88.3 52.2M87.7 52.6L86.2 51.1M86.2 51.1L86.2 49.7M86.2 49.7L86.5 49.4M103.7 42.2L104.4 41.2M103.7 42.2L101.6 42.4M101.6 42.4L101.2 42.0M102.7 38.6L101.4 38.6M103.0 38.7L104.3 39.5M101.2 42.0L99.7 39.7M98.0 38.5L98.6 39.4M101.4 38.6L101.2 35.1M101.2 35.1L100.5 35.1M98.6 39.4L99.7 39.7M98.6 39.4L97.3 41.4M98.3 43.3L97.3 41.4M94.2 41.1L94.7 42.2M94.2 41.1L94.4 40.0M94.7 42.2L94.9 42.3M94.9 42.3L97.3 41.4M94.2 41.1L90.9 40.4M94.7 42.2L91.0 43.3M91.0 43.3L90.6 42.9M90.9 40.4L90.6 42.9M91.7 38.4L90.8 39.9M90.9 40.4L90.8 39.9M87.9 37.8L88.9 39.5M87.9 37.8L89.4 36.5M90.8 39.9L88.9 39.5M96.2 58.1L95.2 54.8M99.0 56.4L96.5 53.9M96.5 53.9L95.2 54.8M101.8 34.8L103.1 36.3M102.4 33.8L105.9 35.0M102.7 38.6L103.1 36.3M102.5 32.1L102.4 33.8M102.5 32.1L105.4 31.6M103.0 38.7L104.2 36.5M88.9 39.5L87.5 41.3M90.6 42.9L88.4 43.2M88.4 43.2L87.9 42.7M87.5 41.3L87.9 42.7M87.7 44.9L84.1 43.9M87.7 44.9L88.4 43.2M87.9 42.7L83.9 43.3M84.1 43.9L83.9 43.3M87.9 46.3L87.6 46.6M87.6 46.6L84.0 46.2M84.1 43.9L83.8 45.9M84.0 46.2L83.8 45.9M96.2 58.1L93.2 57.8M93.9 54.5L95.2 54.8M93.9 54.5L92.0 55.5M93.2 57.8L92.0 55.5M2.4 67.6L3.6 66.1M3.3 69.8L5.5 69.3M5.5 69.3L3.6 66.1M3.3 62.3L4.5 65.4M7.0 64.8L7.0 64.9M7.0 64.9L4.5 65.4M1.4 64.4L3.6 66.1M4.5 65.4L3.6 66.1M40.4 76.6L40.7 78.9M38.4 75.8L38.4 75.9M43.3 77.0L46.7 77.2M43.3 77.0L43.3 78.7M42.7 75.9L43.3 77.0M42.7 75.9L40.4 76.6M46.3 68.5L45.2 69.1M47.8 71.5L44.2 70.9M45.2 69.1L44.2 70.9M50.4 70.2L48.1 71.9M50.4 70.2L49.9 69.3M48.1 71.9L47.8 71.5M39.2 51.7L38.5 50.9M35.0 52.5L36.1 51.2M35.0 52.5L35.8 53.4M35.8 53.4L36.6 54.8M39.2 51.9L39.3 52.6M39.3 52.6L38.1 54.7M38.1 54.7L36.6 54.8M-1.6 49.7L-1.1 51.9M-1.6 49.7L1.2 49.0M-1.1 51.9L2.2 51.7M1.2 49.0L2.2 51.6M2.0 47.5L1.2 49.0M5.2 50.5L4.9 52.4M2.8 52.4L4.9 52.4M8.8 51.4L5.6 52.8M8.6 54.6L5.9 55.3M5.6 52.8L5.9 55.3M5.6 52.8L4.9 52.4M39.3 52.6L41.2 53.9M38.1 54.7L39.2 56.6M39.2 56.6L42.4 55.4M41.2 53.9L42.4 55.4M38.9 45.1L40.1 44.6M38.9 45.1L38.5 42.1M38.5 42.1L41.4 41.7M40.1 44.6L41.4 41.7M38.9 45.1L38.9 45.1M38.7 47.4L38.9 45.1M38.7 47.4L42.1 47.6M40.1 44.6L43.1 45.1M43.1 45.1L42.3 47.5M42.1 47.6L42.3 47.5M39.2 51.7L42.2 50.6M38.7 47.4L38.5 47.6M42.1 47.6L42.2 50.6M43.6 44.9L46.0 47.4M42.3 47.5L44.6 48.3M46.1 66.1L46.7 63.8M46.1 66.1L46.8 67.4M46.7 63.8L49.7 63.7M46.8 67.4L49.8 65.9M49.7 63.7L49.8 65.9M46.8 67.4L46.8 67.5M49.9 69.3L50.7 66.6M50.7 66.6L49.8 65.9M45.5 41.9L44.8 39.1M45.5 41.9L43.2 43.2M43.2 43.2L41.7 41.6M41.8 40.4L41.7 41.6M47.3 41.4L45.6 41.9M47.3 41.4L47.6 39.7M47.0 38.9L45.0 38.8M45.0 38.8L44.8 39.1M45.6 41.9L45.5 41.9M45.6 41.9L47.0 44.6M43.4 44.8L43.2 43.2M47.0 44.6L43.6 44.9M41.4 41.7L41.7 41.6M31.5 18.6L31.7 20.1M31.5 18.6L34.3 19.2M34.3 19.2L35.0 20.6M35.0 20.6L33.7 21.8M31.7 20.1L33.7 21.8M35.2 26.5L35.6 25.7M39.5 26.3L35.6 25.7M36.8 20.9L36.6 23.6M33.7 21.8L33.3 23.0M33.3 23.0L35.8 24.3M36.6 23.6L35.8 24.3M27.6 42.1L29.2 42.2M27.6 42.1L27.2 40.4M27.2 40.4L28.7 38.5M28.7 38.5L29.4 42.1M29.2 42.2L29.4 42.1M48.2 73.1L52.4 73.3M48.7 74.8L51.5 75.5M51.5 75.5L52.6 74.1M48.0 72.9L45.1 73.8M48.0 72.9L48.2 73.1M45.1 73.8L46.7 77.1M48.2 76.2L48.7 74.8M51.3 78.6L51.5 75.5M54.4 78.0L51.6 78.9M96.4 66.4L93.6 65.7M95.8 62.7L93.1 63.2M93.1 63.2L93.5 65.5M93.6 65.7L93.5 65.5M93.6 65.7L93.1 67.5M97.1 78.5L95.0 75.8M92.7 78.4L93.4 76.3M98.2 75.3L95.6 74.9M95.9 73.2L95.4 73.6M9.4 34.0L11.7 32.8M11.7 32.8L12.5 35.8M9.9 36.4L12.5 35.8M9.9 36.4L9.7 36.3M9.3 34.1L9.7 36.3M5.1 42.3L5.0 42.2M7.0 39.7L6.3 39.1M6.3 39.1L5.0 42.2M11.1 39.4L9.9 36.4M6.0 38.0L6.0 38.5M2.7 44.8L2.9 42.4M5.0 42.2L2.9 42.4M-2.9 36.4L-2.4 37.0M0.7 36.1L-2.4 37.0M-1.4 21.1L-0.9 22.7M-3.7 23.7L-2.0 24.1M-0.9 22.7L-2.0 24.1M-3.0 28.2L-1.4 25.5M-2.0 24.1L-1.4 25.5M6.0 38.0L5.4 37.3M9.3 34.1L6.2 34.6M6.2 34.6L5.4 37.3M18.0 47.6L20.5 48.4M21.3 45.7L21.5 46.9M20.5 48.4L21.5 46.9M17.7 48.0L18.0 49.3M19.5 51.0L18.0 49.3M19.5 51.0L21.0 49.7M20.5 48.4L21.0 49.7M32.0 50.3L32.6 49.7M35.0 52.5L33.1 52.8M32.3 51.9L33.1 52.8M14.7 51.1L14.7 51.1M18.0 49.3L16.8 50.6M16.8 50.6L14.7 51.1M15.7 55.2L15.2 51.8M22.0 55.6L22.5 53.3M22.5 53.3L19.3 52.3M18.2 54.3L18.6 52.9M18.6 52.9L18.9 52.6M19.3 52.3L18.9 52.6M17.7 54.9L19.0 57.2M17.7 54.9L18.2 54.3M19.0 57.2L20.8 56.9M15.7 55.2L15.8 55.3M17.7 54.9L15.8 55.3M15.2 51.8L18.6 52.9M16.8 50.6L18.9 52.6M19.5 51.0L19.3 52.3M8.6 25.7L6.0 27.7M8.0 29.9L6.5 29.2M6.5 29.2L6.0 27.7M8.7 25.1L6.8 23.2M6.8 23.2L5.1 23.5M5.1 23.5L5.9 27.7M16.1 32.9L14.4 33.4M16.1 32.9L15.0 29.9M14.4 33.4L12.6 31.8M12.6 31.8L12.6 30.6M12.6 30.6L14.3 29.4M15.0 29.9L14.3 29.4M8.4 32.3L9.4 34.0M12.5 30.6L12.6 30.6M14.9 27.5L14.3 29.4M12.4 26.4L14.1 26.7M17.9 30.7L18.2 29.6M17.9 30.7L15.0 29.9M14.3 34.8L12.9 35.9M12.9 35.9L13.3 37.1M15.9 35.9L16.0 36.3M13.3 37.1L13.4 37.1M12.5 35.8L12.9 35.9M14.4 33.4L14.3 34.8M12.4 39.5L13.3 37.1M17.0 37.8L16.5 38.7M17.0 37.8L16.0 36.3M16.5 38.7L13.4 37.1M16.3 39.4L16.5 38.7M6.8 23.2L7.0 22.6M11.1 23.6L10.7 22.3M8.4 21.8L10.7 22.3M22.0 26.9L24.7 27.2M25.7 24.2L26.0 25.7M25.7 24.2L24.4 23.4M23.7 23.5L24.4 23.4M26.0 25.7L24.7 27.2M21.4 28.4L21.5 28.7M24.5 29.7L21.5 28.7M24.7 27.2L25.1 28.9M25.7 24.2L26.5 23.9M24.4 23.4L25.0 20.8M27.6 31.1L26.5 28.8M27.6 31.1L26.2 32.1M24.5 29.7L24.8 31.7M25.1 28.9L26.5 28.8M26.2 32.1L24.8 31.7M19.1 42.4L20.8 40.5M22.6 43.7L23.9 42.0M23.9 42.0L23.6 40.9M23.6 40.9L20.8 40.5M17.7 41.3L20.1 39.0M20.8 40.5L20.1 39.0M55.5 6.9L55.5 6.8M55.2 6.2L51.7 5.8M37.4 2.8L37.5 1.2M37.4 2.8L39.0 4.3M39.0 4.3L41.1 2.9M47.8 -3.2L51.5 -2.3M52.0 -3.4L51.9 -2.7M51.9 -2.7L51.5 -2.3M44.1 -4.9L46.1 -2.2M46.1 -2.2L46.9 -2.3M46.9 -2.3L47.8 -3.2M-1.2 5.3L-1.0 4.3M-1.2 5.3L-0.1 6.5M1.4 6.9L-0.1 6.5M1.4 6.9L1.5 3.4M-1.0 4.3L0.2 3.0M1.5 3.4L0.2 3.0M-1.4 5.5L-1.2 5.3M-4.0 3.4L-1.0 4.3M-0.8 8.7L-0.1 6.5M2.4 8.0L2.3 8.4M2.4 8.0L1.4 6.9M2.4 8.0L4.9 5.5M2.0 3.4L4.9 5.5M2.0 3.4L1.5 3.4M-0.8 -2.4L0.2 -3.5M-0.8 -2.4L0.3 -0.1M0.2 -3.5L2.4 -1.6M0.3 -0.1L2.4 -0.8M2.4 -0.8L2.4 -1.6M-2.7 -2.6L-0.8 -2.4M-0.4 1.3L0.3 -0.1M3.2 -3.2L2.4 -1.6M2.0 3.4L4.4 0.4M4.4 0.4L2.4 -0.8M6.1 -0.9L5.8 -0.1M5.8 -0.1L5.5 0.3M4.9 5.5L5.0 5.5M5.0 5.5L5.4 5.9M5.7 9.4L6.4 8.2M5.4 5.9L6.4 8.2M14.3 3.9L14.3 6.5M17.2 4.2L17.1 6.3M14.6 6.7L16.9 6.6M14.6 6.7L14.3 6.5M17.1 6.3L16.9 6.6M17.4 4.0L17.2 4.2M17.6 1.3L17.5 1.1M15.2 1.1L17.5 1.1M14.0 3.5L14.3 3.9M19.6 6.4L17.1 6.3M14.7 9.2L14.6 6.7M14.7 9.2L16.9 9.5M16.9 9.5L17.5 8.8M17.5 8.8L16.9 6.6M74.5 -0.3L74.1 -2.4M75.1 0.1L76.9 -0.8M75.8 -2.4L77.2 -1.3M77.2 -1.3L76.9 -0.8M71.4 -0.9L71.7 -0.4M71.7 -0.4L74.5 -0.3M73.6 -2.9L74.1 -2.4M74.7 2.2L75.1 0.1M77.5 3.4L78.2 3.0M78.2 3.0L76.9 -0.8M75.2 -5.5L75.8 -2.4M77.9 -1.7L77.2 -1.3M78.2 3.0L79.6 2.9M61.7 51.2L64.3 51.0M64.3 51.0L61.9 54.5M60.1 52.7L61.6 54.5M85.4 29.9L86.7 29.1M85.4 29.9L83.5 28.5M83.1 27.0L86.3 26.8M87.6 33.3L87.0 33.5M88.3 31.9L87.1 29.2M87.0 33.5L85.4 29.9M86.7 29.1L87.1 29.2M76.1 26.4L74.6 25.1M77.3 24.7L76.0 22.7M76.0 22.7L73.7 23.9M73.7 23.9L74.6 25.1M74.7 19.7L76.0 22.6M73.1 19.2L72.5 21.3M73.6 23.9L73.7 23.9M73.7 32.6L74.4 34.4M76.4 31.6L73.9 32.3M76.4 31.6L77.9 34.1M74.4 34.4L77.9 34.1M64.2 45.9L63.4 47.9M64.2 45.9L64.9 45.6M63.4 47.9L64.6 50.5M66.9 48.8L64.6 50.5M65.8 55.0L63.6 55.1M65.8 55.0L66.0 52.8M63.6 55.1L61.9 54.5M64.3 51.0L64.6 50.9M62.1 48.2L61.7 51.2M64.6 50.5L64.6 50.9M71.2 5.0L74.3 2.4M71.2 5.0L70.6 3.6M70.6 3.6L70.9 1.7M74.3 2.4L71.6 1.0M71.6 1.0L70.9 1.7M67.9 2.7L70.6 3.6M68.1 0.7L70.9 1.7M69.7 15.1L69.0 17.2M69.7 15.1L73.3 16.3M69.0 17.2L69.4 17.8M72.7 18.4L71.4 18.5M73.3 16.3L73.3 16.4M69.4 17.8L71.4 18.5M69.9 21.9L69.2 20.9M71.4 18.5L69.2 20.9M59.1 10.6L60.1 8.1M59.1 10.6L61.8 12.0M60.1 8.1L62.4 10.0M62.4 10.0L62.3 11.2M61.8 12.0L62.3 11.2M59.8 14.8L61.8 12.5M59.8 14.8L57.2 13.2M61.8 12.5L61.8 12.0M57.5 11.2L59.1 10.6M61.0 6.0L60.4 6.3M60.4 6.3L60.0 7.5M60.0 7.5L60.1 8.1M64.2 8.2L62.4 10.0M65.3 11.3L65.2 11.3M65.2 11.3L62.3 11.2M63.7 13.7L65.2 11.3M55.7 7.1L58.8 7.8M60.4 6.3L59.2 5.5M59.2 5.5L55.5 6.8M56.7 10.2L56.8 9.8M75.4 8.9L74.4 10.6M71.7 8.1L71.8 9.2M74.4 10.6L71.8 9.2M68.6 10.8L69.7 11.7M71.8 9.2L69.7 11.7M68.8 13.3L67.0 13.9M68.8 13.3L69.7 11.9M67.0 13.9L65.4 11.4M72.8 28.3L71.2 26.3M71.1 30.8L69.4 27.0M71.2 26.3L69.4 27.0M67.6 23.8L69.7 23.0M68.3 27.1L69.4 27.0M65.2 32.6L68.4 32.3M65.1 35.0L68.8 35.3M68.8 35.3L68.4 32.3M64.3 31.6L64.2 31.4M67.6 28.6L69.0 31.6M65.0 29.4L64.2 31.4M68.4 32.3L69.0 31.6M71.1 30.8L70.8 31.5M69.0 31.6L70.8 31.5M77.4 28.4L76.3 27.5M77.4 28.4L77.4 29.5M77.4 29.5L74.2 30.2M76.3 27.5L73.5 28.2M74.2 30.2L73.1 28.4M73.1 28.4L73.5 28.2M79.4 27.2L77.4 28.4M79.4 24.8L77.3 24.7M76.1 26.4L76.3 27.5M79.2 30.9L77.4 29.5M77.4 29.5L77.4 29.5M76.4 31.6L77.4 29.5M72.8 28.3L73.1 28.4M70.8 31.5L71.8 32.3M61.2 21.4L60.5 21.8M61.4 19.6L57.9 19.3M57.9 19.3L57.8 21.5M57.8 21.5L60.5 21.8M62.1 25.6L59.6 24.5M60.5 21.8L59.6 24.5M46.5 18.7L47.3 21.6M49.6 20.4L47.8 21.6M47.8 21.6L47.3 21.6M44.2 24.4L46.7 24.2M44.2 24.4L46.2 26.8M46.2 26.8L47.4 26.1M46.2 29.1L46.1 27.1M46.2 29.1L48.9 30.3M46.1 27.1L46.2 26.8M49.1 29.7L48.2 26.1M52.3 29.9L51.7 32.2M52.3 29.9L55.5 29.3M55.5 29.3L55.5 31.7M52.0 32.5L51.7 32.2M52.0 32.5L55.4 31.9M55.8 28.3L59.0 29.5M59.0 29.5L59.1 32.3M59.1 32.3L55.5 31.7M52.0 33.5L52.0 32.5M49.9 31.7L51.7 32.2M55.7 35.7L53.5 35.2M62.6 31.0L61.5 29.3M61.5 29.3L59.2 32.4M59.3 32.5L59.2 32.4M64.2 31.4L62.6 31.0M61.5 29.2L61.5 29.3M59.5 33.3L59.3 32.5M59.0 29.5L60.2 28.3M59.1 32.3L59.2 32.4M55.8 35.8L58.2 35.0M57.8 39.8L57.9 38.1M57.9 38.1L55.7 37.9M55.7 37.9L55.1 38.8M55.1 38.8L55.1 39.8M58.8 40.5L57.8 39.8M55.3 41.8L54.9 41.5M54.9 41.5L55.1 39.8M59.2 38.1L57.9 38.1M52.0 37.7L55.1 38.8M54.9 41.5L54.0 41.8M66.0 21.5L66.8 20.8M69.2 20.9L67.9 20.3M69.4 17.8L68.0 19.8M69.0 17.2L66.6 16.9M68.0 19.8L66.6 16.9M65.4 17.5L66.0 17.2M66.4 14.5L66.4 16.9M66.4 14.5L64.1 14.3M66.4 16.9L66.0 17.2M64.1 14.3L62.7 16.7M64.6 19.7L65.4 17.5M61.5 17.3L61.7 19.0M68.8 13.3L69.7 15.1M67.0 13.9L66.4 14.5M66.6 16.9L66.4 16.9M63.7 13.7L64.1 14.3M59.8 14.8L60.1 16.1M61.5 17.3L60.1 16.1M59.7 16.4L57.6 18.6M59.7 16.4L56.9 16.3M57.6 18.6L55.4 18.0M56.9 16.3L55.4 18.0M60.1 16.1L59.7 16.4M57.9 19.3L57.6 18.6M56.3 13.6L56.9 16.3M56.4 22.0L56.7 22.2M57.8 21.5L56.7 22.2M45.0 38.8L44.5 36.7M44.5 36.7L44.5 36.7M48.0 35.6L44.8 36.4M44.5 36.7L44.8 36.4M23.5 9.9L24.3 9.2M23.5 9.9L23.1 13.3M23.1 13.3L25.7 13.7M24.9 9.5L24.3 9.2M24.9 9.5L26.6 12.7M25.7 13.7L26.6 12.7M29.5 10.8L26.9 12.7M26.8 8.9L24.9 9.5M26.6 12.7L26.9 12.7M22.7 23.1L21.9 20.2M21.9 20.2L20.2 19.9M20.5 23.3L19.6 21.1M20.2 19.9L19.6 21.1M23.1 17.3L22.5 19.8M23.1 17.3L25.3 18.6M22.5 19.8L24.9 20.6M24.9 20.6L25.4 18.7M25.4 18.7L25.3 18.6M25.7 15.1L25.3 18.6M25.7 15.1L22.9 16.9M22.9 16.9L23.1 17.3M25.0 20.8L24.9 20.6M21.9 20.2L22.5 19.8M28.7 18.9L27.9 18.1M28.7 18.9L28.4 20.7M27.9 18.1L25.4 18.7M27.9 18.1L27.8 16.7M25.7 15.1L25.7 15.1M27.8 16.7L25.7 15.1M34.6 13.3L35.5 12.4M34.6 13.3L34.0 15.1M36.2 15.7L34.2 15.2M36.2 15.7L38.6 12.8M34.0 15.1L34.2 15.2M33.8 11.1L33.4 11.8M33.8 11.1L35.4 11.4M33.4 11.8L34.6 13.3M35.4 11.4L35.5 12.4M33.8 15.1L31.1 12.8M33.8 15.1L34.0 15.1M31.1 12.8L31.0 11.9M31.0 11.9L33.4 11.8M34.5 18.8L37.2 17.4M34.5 18.8L34.2 15.2M37.2 17.1L37.2 17.4M37.2 17.1L36.2 15.7M31.5 18.6L31.4 18.4M31.7 16.9L33.8 15.1M23.7 6.9L23.7 6.4M20.0 8.3L19.6 6.4M19.6 6.4L23.5 5.9M23.5 5.9L23.7 6.4M26.7 5.6L23.7 6.4M24.3 9.2L23.7 6.9M23.5 9.9L20.5 10.4M20.5 10.4L19.8 8.9M19.8 8.9L20.0 8.3M22.7 3.3L23.5 5.9M32.6 8.2L33.1 8.0M31.0 11.9L30.4 10.7M33.8 11.1L33.2 8.1M33.2 8.1L33.1 8.0M33.9 2.1L34.0 2.4M33.9 2.1L31.4 3.5M34.0 2.4L33.4 6.0M33.4 6.0L31.3 4.1M36.0 3.6L34.0 2.4M33.9 0.7L33.9 2.1M30.0 0.4L31.4 3.5M33.5 6.0L35.8 5.1M29.5 4.9L31.3 4.1M33.5 6.0L33.1 8.0M46.8 16.0L46.1 14.2M43.1 16.9L46.6 16.3M43.1 16.9L43.5 14.3M6.7 21.3L7.0 22.6M6.7 21.3L8.0 19.4M8.4 21.8L9.2 19.9M9.2 19.9L8.0 19.4M4.5 19.5L6.7 21.3M4.5 19.5L6.9 17.7M8.0 19.4L6.9 17.7M4.5 19.5L3.8 19.6M3.8 19.6L2.4 18.7M6.9 17.7L7.1 16.7M16.8 23.6L16.8 23.6M19.6 21.1L16.8 21.6M16.8 23.6L16.8 21.6M14.1 26.7L14.1 24.0M16.8 23.6L14.1 24.0M11.1 23.6L13.1 23.2M14.1 24.0L13.1 23.2M19.7 17.1L19.1 16.4M19.1 16.4L19.8 13.8M22.2 16.5L22.4 13.6M22.4 13.6L20.7 12.9M20.7 12.9L19.8 13.8M22.9 16.9L22.2 16.5M25.7 15.1L25.7 13.7M20.5 10.4L20.2 11.4M20.2 11.4L20.7 12.9M100.8 1.0L101.7 3.2M99.0 5.0L99.0 5.0M99.0 5.0L101.7 3.2M104.2 3.1L102.2 3.4M102.2 3.4L101.7 3.2M105.1 6.0L102.4 5.8M104.3 8.9L102.8 8.9M102.8 8.9L101.9 6.5M102.4 5.8L101.9 6.5M102.2 3.4L102.4 5.8M99.4 6.3L101.9 6.5M99.4 6.3L101.5 9.9M101.5 9.9L102.8 8.9M80.3 23.6L80.1 22.7M76.0 22.6L78.0 21.6M80.1 22.7L78.0 21.6M77.3 15.8L76.5 16.4M77.0 19.1L77.7 19.5M78.8 15.8L79.3 18.7M79.3 18.7L77.7 19.5M103.6 17.0L104.2 18.8M104.2 18.8L103.1 19.9M103.1 19.9L100.9 18.3M100.9 18.3L101.3 17.3M104.2 16.1L103.6 17.0M102.5 32.1L101.6 30.9M102.2 29.3L101.7 29.6M101.7 29.6L101.6 30.9M98.9 31.8L101.4 30.9M101.4 30.9L101.6 30.9M102.9 26.6L105.0 26.2M100.8 28.5L101.1 26.2M102.9 26.6L101.1 26.2M102.1 22.2L103.0 21.2M102.1 22.2L102.7 24.0M102.7 24.0L104.7 24.8M99.9 21.7L99.0 22.8M99.9 21.7L102.1 22.2M99.0 22.8L101.2 25.4M101.2 25.4L102.7 24.0M103.1 19.9L103.0 21.2M101.2 25.4L101.0 25.9M101.1 26.2L101.0 25.9M99.9 21.7L99.7 20.8M100.9 18.3L100.2 18.6M100.2 18.6L99.7 20.8M97.6 8.6L99.4 6.3M101.2 10.3L101.5 9.9M101.2 10.3L98.1 9.5M97.8 9.3L98.1 9.5M88.0 14.9L88.0 15.0M83.9 15.4L85.1 13.6M85.1 16.5L87.8 16.3M88.0 15.0L88.0 16.1M87.8 16.3L88.0 16.1M97.6 8.6L95.8 7.6M95.8 11.7L97.8 9.3M95.8 11.7L93.8 10.4M93.8 10.4L95.8 7.6M95.8 5.3L95.6 7.3M95.8 7.6L95.6 7.3M95.6 7.3L93.6 7.3M93.6 7.3L92.6 10.2M91.5 10.9L91.7 10.5M92.6 13.1L96.0 13.5M96.0 13.5L95.8 11.7M91.7 10.5L92.6 10.2M83.1 -2.6L83.2 -1.5M86.3 -3.5L84.9 -1.0M83.2 -1.5L84.9 -1.0M80.2 -1.3L81.8 0.2M83.2 -1.5L81.8 0.2M85.8 11.7L85.8 11.4M89.5 12.0L87.8 11.0M88.0 15.0L89.5 12.5M87.8 11.0L85.8 11.4M83.2 12.0L85.2 10.9M85.8 11.4L85.2 10.9M83.3 8.4L81.4 8.7M83.3 8.4L84.9 9.9M85.2 10.9L84.9 9.9M88.3 52.2L91.1 52.0M91.6 51.5L92.0 49.9M92.0 49.9L91.9 49.8M89.6 49.4L89.8 49.3M91.9 49.8L89.8 49.3M95.1 44.1L93.9 45.7M95.0 47.4L94.3 46.5M95.0 47.4L98.2 46.2M98.2 46.2L98.5 45.8M94.9 42.3L95.1 44.1M91.0 43.3L91.7 45.5M91.7 45.5L93.9 45.7M101.6 42.4L100.8 45.1M98.6 45.8L98.5 45.8M99.5 56.3L99.6 53.3M96.5 53.9L97.1 52.6M99.6 53.3L97.1 52.6M81.9 49.9L84.3 48.7M81.9 49.9L80.8 49.5M80.8 49.5L84.0 46.2M83.4 52.5L81.9 49.9M83.4 52.5L86.2 51.1M81.0 46.2L80.4 47.3M84.0 46.2L84.0 46.2M80.4 47.3L80.7 49.5M80.7 49.5L80.8 49.5M86.5 49.4L87.6 46.6M12.3 58.1L14.5 59.1M14.5 59.1L15.8 58.0M14.3 78.2L13.1 77.4M11.2 78.6L13.1 77.4M2.1 76.4L3.4 77.8M3.6 78.4L3.4 77.8M8.9 74.5L9.2 75.5M9.2 75.5L9.1 75.9M9.1 75.9L8.1 77.4M8.1 77.4L7.4 77.6M5.5 74.1L5.6 76.4M9.5 73.1L8.9 74.5M9.5 73.1L13.0 72.9M13.5 74.6L12.6 76.1M12.6 76.1L9.2 75.5M11.2 78.6L9.1 75.9M13.1 77.4L12.6 76.1M10.2 81.7L8.1 77.4M5.6 79.4L7.4 77.6M3.3 73.5L3.4 73.5M5.5 74.1L5.5 74.1M38.6 73.9L36.9 72.6M38.6 73.9L38.4 75.8M38.4 75.9L34.0 74.5M36.9 72.6L34.0 74.5M37.1 77.1L35.8 80.6M37.8 76.8L37.1 77.1M44.1 71.1L42.6 70.9M44.1 71.1L44.9 73.8M42.6 70.9L42.3 74.1M44.9 73.8L43.1 74.8M43.1 74.8L42.3 74.1M48.0 72.9L48.1 71.9M45.1 73.8L44.9 73.8M44.2 70.9L44.1 71.1M42.7 75.9L43.1 74.8M40.0 72.8L42.3 74.1M40.0 72.8L38.6 73.9M40.0 72.8L40.6 70.7M42.6 70.9L41.3 70.3M40.6 70.7L41.3 70.3M41.3 70.3L42.0 67.5M35.8 57.2L39.0 57.3M35.8 57.2L35.6 58.6M35.6 58.6L36.9 59.9M39.1 58.1L39.0 57.3M39.1 58.1L38.4 60.5M38.4 60.5L36.9 59.9M42.9 58.4L43.1 58.1M43.1 58.1L43.0 55.6M42.4 55.4L43.0 55.6M38.7 61.0L38.4 60.5M38.7 61.0L42.7 59.0M42.7 59.0L42.9 58.4M1.8 54.7L2.6 53.7M1.8 54.7L2.5 57.7M2.6 53.7L5.5 55.8M2.5 57.7L5.3 57.1M5.3 57.1L5.5 55.8M-0.6 54.6L1.8 54.7M2.8 52.4L2.6 53.7M6.3 58.1L5.3 57.1M46.9 50.7L47.3 50.4M47.3 50.4L50.7 51.1M50.1 54.1L50.7 51.1M50.1 54.1L49.6 54.2M49.6 54.2L47.8 52.0M46.9 50.8L47.2 54.4M46.9 50.8L46.9 50.7M47.8 52.0L47.2 54.4M44.5 54.6L44.5 54.6M44.5 54.6L46.3 50.8M44.5 54.6L43.0 51.2M43.0 51.2L43.0 51.2M41.2 53.9L43.0 51.2M43.0 55.6L44.5 54.6M46.0 47.4L47.7 47.3M44.6 48.3L45.1 50.4M47.3 50.4L47.7 47.3M42.2 50.6L43.0 51.2M56.9 68.9L54.6 69.4M56.9 68.9L57.7 65.7M57.7 65.7L57.5 65.6M57.5 65.6L55.0 66.7M53.5 63.7L53.0 65.9M53.5 63.7L56.8 64.5M56.8 64.5L57.5 65.6M55.0 66.7L53.0 65.9M49.7 63.7L50.3 62.9M52.4 66.6L53.0 65.9M31.7 20.1L30.3 22.7M33.3 23.0L32.5 23.4M32.5 23.4L30.3 22.7M35.8 24.3L35.6 25.7M26.5 23.9L29.3 23.9M28.4 20.7L30.1 22.7M29.3 23.9L30.1 22.7M28.7 18.9L31.4 18.4M30.3 22.7L30.1 22.7M37.2 17.4L37.8 19.5M37.2 20.6L37.8 19.5M40.3 13.6L39.0 12.7M40.3 13.6L40.3 14.3M37.2 17.1L39.4 16.5M39.0 12.7L38.6 12.8M40.3 14.3L39.4 16.5M43.1 16.9L42.6 17.5M40.3 13.6L42.1 13.2M43.5 14.3L42.1 13.2M40.3 14.3L42.6 17.5M39.5 26.3L39.6 26.3M36.6 23.6L38.5 24.1M39.6 26.3L38.5 24.1M38.5 24.1L40.0 22.2M36.8 34.5L36.1 35.0M36.8 34.5L35.7 30.9M36.1 35.0L33.7 34.4M33.4 32.2L33.5 34.2M33.7 34.4L33.5 34.2M39.2 32.9L37.8 34.4M39.2 32.9L39.1 32.1M37.8 34.4L36.8 34.5M33.7 28.5L32.7 28.8M32.7 28.8L33.3 32.1M33.3 32.1L33.4 32.2M33.3 32.1L30.0 31.3M30.0 31.3L29.9 34.3M31.3 35.0L33.5 34.2M38.0 39.5L40.6 38.8M38.0 39.5L37.7 37.5M37.7 37.5L39.2 36.3M40.6 38.8L40.8 37.0M40.8 37.0L39.2 36.3M36.0 36.6L36.1 35.0M36.0 36.6L37.7 37.5M37.8 34.4L39.2 36.3M44.5 36.7L41.7 36.4M41.8 40.4L40.6 38.8M41.3 36.6L41.7 36.4M39.2 32.9L40.2 33.2M38.5 42.1L38.0 41.8M38.0 39.5L37.2 40.3M38.0 41.8L37.2 40.3M38.0 41.8L35.9 43.9M32.0 38.7L32.3 39.3M32.0 38.7L33.6 36.9M33.6 36.9L35.7 37.2M35.7 37.2L35.4 38.6M31.3 35.0L31.4 36.4M31.4 36.4L32.0 38.6M32.0 38.6L32.0 38.7M33.7 34.4L33.6 36.9M36.0 36.6L35.7 37.2M37.2 40.3L37.0 40.2M37.0 40.2L35.4 38.6M22.0 55.8L23.7 57.0M23.7 57.0L25.7 54.5M22.5 53.3L23.1 52.9M25.7 54.5L25.0 52.9M23.1 52.9L25.0 52.9M21.0 49.7L22.4 49.9M23.1 52.9L22.4 49.9M21.5 46.9L23.9 48.6M22.4 49.9L23.9 48.6M25.7 54.5L27.7 55.9M28.8 53.0L29.2 53.5M29.2 53.5L29.1 55.0M27.7 55.9L29.1 55.0M25.0 52.9L26.1 51.7M22.5 44.5L24.5 46.3M23.9 48.6L24.0 48.6M24.5 46.3L24.0 48.6M26.2 51.4L24.2 48.7M26.2 51.4L26.1 51.7M24.0 48.6L24.2 48.7M28.8 53.0L29.6 50.1M26.2 51.4L26.4 51.2M26.4 51.2L29.6 50.1M32.0 50.3L30.2 49.5M32.7 49.6L32.2 45.9M32.2 45.9L29.7 48.7M29.7 48.7L30.2 49.5M32.3 51.9L29.2 53.5M29.6 50.1L30.2 49.5M93.4 76.3L92.3 74.7M95.4 73.6L93.6 72.4M6.0 38.5L2.6 40.4M1.8 36.7L1.5 37.4M1.8 36.7L2.8 36.2M2.8 36.2L5.4 37.3M2.6 26.2L2.3 25.8M2.6 26.2L2.2 29.5M2.3 25.8L1.1 26.2M1.1 26.2L-0.4 29.8M2.2 29.5L-0.2 29.9M-0.4 29.8L-0.2 29.9M4.8 27.6L2.6 26.2M-1.2 29.6L-0.4 29.8M-1.4 25.5L1.1 26.2M-1.1 33.8L0.4 32.3M0.4 32.3L-0.2 29.9M2.4 25.5L4.2 23.4M3.8 22.5L4.2 23.4M3.8 22.5L1.0 22.0M1.0 22.0L0.4 22.6M-0.9 22.7L0.4 22.6M5.1 23.5L4.2 23.4M3.8 19.6L3.8 22.5M1.2 19.7L1.0 22.0M23.7 57.0L23.7 57.1M23.7 57.1L23.0 60.5M21.9 60.4L23.0 60.5M32.0 56.4L32.0 56.3M32.0 56.4L35.7 56.8M32.0 56.3L33.0 54.2M35.7 56.8L36.0 55.5M34.7 58.9L32.0 58.4M32.0 58.4L31.8 58.0M35.8 57.2L35.7 56.8M33.1 52.8L33.0 54.2M29.1 55.0L32.0 56.3M36.6 54.8L36.0 55.5M3.8 31.4L5.0 31.3M2.5 33.0L2.8 34.0M2.8 34.0L5.9 33.7M6.5 29.2L5.0 31.3M3.1 30.0L3.8 31.4M0.7 36.1L1.8 36.7M2.8 36.2L2.8 34.0M6.2 34.6L5.9 33.7M8.4 32.3L6.1 32.5M27.0 28.3L30.3 28.7M26.8 26.4L29.8 26.4M30.4 28.5L30.3 28.7M30.4 28.5L30.3 26.9M30.3 26.9L29.8 26.4M26.0 25.7L26.8 26.4M27.6 31.1L29.7 30.7M29.7 30.7L30.3 28.7M29.3 23.9L29.8 26.4M29.7 30.7L30.0 31.3M32.7 28.8L30.4 28.5M32.4 25.4L30.3 26.9M27.9 35.2L27.0 34.8M31.4 36.4L28.2 37.3M28.7 38.3L28.2 37.6M28.2 37.3L28.2 37.6M24.8 31.7L22.8 32.8M25.5 35.5L27.0 34.8M25.5 35.5L23.1 34.6M23.1 34.6L22.8 32.8M21.5 28.7L21.1 32.0M21.1 32.0L22.8 32.8M43.3 10.7L43.7 10.6M43.3 10.7L40.6 9.2M43.3 7.3L40.6 9.2M43.3 7.3L43.3 7.3M43.3 7.3L43.7 10.6M46.1 -2.2L45.7 -1.9M45.7 -1.9L42.5 -3.0M42.5 -3.0L41.2 -1.2M41.2 1.5L41.6 -0.2M41.2 -1.2L41.6 -0.2M41.3 2.1L43.8 2.5M41.6 -0.2L44.2 -0.2M43.8 2.5L44.2 -0.2M45.7 -1.9L44.5 -0.3M56.1 -3.8L58.2 -1.4M57.4 -5.1L60.1 -2.4M58.2 -1.4L59.9 -1.7M60.1 -2.4L59.9 -1.7M54.7 -2.3L56.1 -3.8M54.7 -2.3L55.6 -0.0M55.6 -0.0L56.6 0.2M56.6 0.2L58.2 -1.4M61.7 -4.4L60.1 -2.4M61.0 -0.0L59.9 -1.7M58.2 3.8L56.9 3.4M58.2 3.8L60.2 1.6M57.0 0.9L60.3 1.5M60.2 1.6L60.3 1.5M55.2 6.2L55.7 3.9M55.7 3.9L56.9 3.4M61.8 4.2L60.2 1.6M61.0 0.2L60.3 1.5M56.6 0.2L57.0 0.9M5.0 5.5L6.4 3.7M5.5 0.3L6.5 3.5M9.9 1.1L9.3 2.6M9.9 1.1L5.8 -0.1M6.2 11.1L7.9 13.5M7.9 13.5L9.9 12.8M9.8 11.1L10.1 12.3M9.9 12.8L10.0 12.6M5.6 10.9L6.2 11.1M7.8 8.4L8.4 10.3M6.8 14.9L7.9 13.5M13.7 10.1L11.2 8.5M13.7 10.1L13.7 11.1M13.7 11.1L10.1 12.3M12.9 13.4L14.4 12.1M12.9 13.4L10.0 12.6M13.7 11.1L14.4 12.1M9.2 7.5L11.1 8.1M11.8 7.0L11.1 4.7M11.8 7.0L11.1 8.1M8.7 6.3L9.0 5.3M9.0 5.3L10.3 4.4M5.4 5.9L8.7 6.3M7.8 8.4L9.2 7.5M11.2 8.5L11.1 8.1M12.8 3.4L14.0 3.5M14.3 6.5L11.8 7.0M13.7 10.1L14.7 9.2M6.4 3.7L9.0 5.3M9.3 2.6L10.3 4.4M47.0 44.6L47.9 45.0M47.7 47.3L47.9 47.1M47.9 45.0L47.9 47.1M56.0 54.4L52.7 56.2M54.3 52.7L51.7 55.2M52.7 56.2L51.8 55.5M51.7 55.2L51.8 55.5M56.7 55.3L56.6 57.8M56.5 54.6L56.0 54.4M56.6 57.8L53.8 57.8M53.8 57.8L52.7 56.2M59.8 52.7L60.1 52.7M58.7 52.5L57.4 50.4M61.3 51.3L60.1 48.9M60.1 48.9L57.4 50.4M62.1 48.2L60.5 47.9M64.2 45.9L62.0 44.7M60.1 45.4L60.8 44.7M59.9 46.8L60.5 47.9M54.3 52.2L50.8 51.0M54.3 52.2L55.3 50.5M53.7 49.5L50.9 50.6M50.9 50.6L50.8 51.0M50.1 54.1L51.7 55.2M54.3 52.7L54.3 52.2M57.4 50.4L56.7 49.9M56.7 49.9L55.3 50.5M53.1 47.3L53.7 49.5M53.1 47.3L52.0 47.1M52.0 47.1L50.7 48.1M50.7 48.1L50.9 50.6M50.7 48.1L47.9 47.1M93.9 31.8L93.2 30.0M90.7 30.4L93.2 30.0M64.9 45.6L65.1 45.5M65.1 45.5L66.0 44.3M63.8 40.9L66.3 42.8M66.3 42.8L66.0 44.3M87.5 41.3L84.9 40.4M83.9 43.3L83.8 43.1M83.8 43.1L83.9 41.3M84.9 40.4L84.2 41.0M83.9 41.3L84.2 41.0M87.9 37.8L87.9 37.8M87.0 33.5L86.3 34.0M86.3 34.0L87.9 37.8M84.9 40.4L85.4 38.4M83.9 41.3L80.8 40.0M84.2 41.0L82.5 37.8M80.7 38.6L82.5 37.8M80.7 38.6L80.5 39.4M78.1 44.8L77.3 43.6M78.1 44.8L80.5 44.6M77.3 43.6L78.5 42.4M79.9 42.1L80.9 43.6M80.5 44.6L80.9 43.6M81.0 46.2L80.5 44.6M75.4 41.4L75.6 40.0M76.7 43.5L77.3 43.6M76.9 39.3L75.6 40.0M76.9 39.3L77.1 39.4M77.1 39.4L78.5 42.4M77.1 39.4L80.5 39.4M80.8 40.0L79.9 42.1M83.8 43.1L80.9 43.6M69.0 43.0L69.6 45.3M69.0 43.0L67.4 42.4M67.4 42.4L66.3 42.8M69.6 45.3L68.8 46.0M65.1 45.5L68.7 47.5M66.9 48.8L68.4 48.7M68.4 51.8L68.4 51.7M68.4 51.8L66.0 52.8M68.4 48.7L68.4 51.7M68.7 47.5L68.8 48.2M68.8 48.2L68.5 48.6M68.4 48.7L68.5 48.6M75.7 13.4L75.2 11.3M75.7 13.4L73.4 15.2M73.4 15.2L72.8 13.5M72.8 13.5L74.6 11.0M75.2 11.3L74.6 11.0M76.8 14.1L75.7 13.4M78.4 11.0L75.2 11.3M69.7 11.9L72.8 13.5M74.4 10.6L74.6 11.0M56.2 23.6L56.8 23.2M56.2 23.6L54.0 26.6M56.8 23.2L58.2 25.2M55.6 27.7L54.0 26.6M55.6 27.7L58.0 25.8M58.0 25.8L58.2 25.2M55.5 21.9L52.9 24.1M52.9 24.1L56.2 23.6M56.7 22.2L56.8 23.2M55.8 28.3L55.6 27.7M48.3 26.1L49.6 24.2M48.3 26.1L51.5 27.6M49.6 24.2L52.0 24.0M53.1 26.3L52.4 24.3M52.4 24.3L52.0 24.0M51.5 27.6L51.8 27.5M47.8 21.6L49.6 24.2M47.3 21.6L47.0 21.7M47.0 21.7L46.7 24.2M48.2 26.1L48.3 26.1M49.1 29.7L51.5 27.6M52.0 20.8L52.0 24.0M52.3 29.9L51.8 27.5M52.9 24.1L52.4 24.3M49.1 31.2L48.9 30.3M45.6 32.8L45.6 32.8M45.6 32.8L44.7 30.4M45.6 32.8L43.1 33.4M43.9 30.2L44.7 30.4M43.9 30.2L42.4 31.3M42.4 31.3L42.2 32.9M43.1 33.4L42.6 33.3M42.2 32.9L42.6 33.3M44.8 36.4L45.6 32.8M46.2 29.1L44.7 30.4M44.5 36.7L43.1 33.4M42.2 27.4L46.1 27.1M42.2 27.4L43.9 30.2M42.2 27.4L41.7 27.1M40.4 30.1L42.4 31.3M41.7 27.1L40.4 30.1M40.2 33.2L42.2 32.9M41.7 36.4L42.6 33.3M30.2 15.6L28.5 16.0M30.2 15.6L30.2 13.9M28.5 16.0L28.3 13.9M30.2 13.9L28.3 13.9M31.7 16.9L30.2 15.6M27.8 16.7L28.5 16.0M31.1 12.8L30.2 13.9M26.9 12.7L28.3 13.9M15.9 17.9L15.9 20.8M18.1 18.6L16.2 20.9M19.5 17.9L18.1 18.6M16.8 21.6L16.2 20.9M14.2 20.7L13.1 23.2M14.2 20.7L15.9 20.8M50.6 13.6L48.3 12.6M49.5 9.7L48.3 12.6M46.1 14.2L46.7 12.8M48.3 12.6L46.7 12.8M12.9 13.4L12.9 15.8M9.9 12.8L11.2 15.7M7.1 16.7L10.2 16.8M11.2 15.7L10.2 16.8M10.8 20.1L10.6 19.7M10.8 20.1L14.1 20.6M10.6 19.7L10.7 19.1M10.7 19.1L13.6 17.7M14.1 20.6L13.6 17.7M10.7 22.3L10.8 20.1M14.1 16.4L12.9 15.8M14.1 16.4L13.6 17.7M14.9 16.1L15.9 17.9M14.9 16.1L14.1 16.4M17.5 1.1L17.9 -2.2M20.6 -2.1L18.5 -2.6M17.9 -2.2L18.5 -2.6M18.5 -2.6L18.4 -4.9M17.6 13.2L17.2 11.8M17.6 13.2L16.7 15.5M14.7 12.2L17.0 11.6M17.0 11.6L17.2 11.8M15.4 15.8L16.7 15.5M20.2 11.4L17.2 11.8M19.8 13.8L17.6 13.2M19.1 16.4L16.7 15.5M14.4 12.1L14.7 12.2M16.9 9.5L17.0 11.6M100.9 14.8L103.3 14.3M100.9 14.8L100.0 13.1M100.0 13.1L101.3 11.0M101.3 11.0L104.0 13.0M104.2 16.1L103.3 14.3M100.7 15.4L100.9 14.8M100.7 15.4L101.3 17.3M101.2 10.3L101.3 11.0M98.8 13.1L98.1 9.5M104.4 12.8L104.0 13.0M81.6 18.1L80.3 18.9M81.6 18.1L83.2 19.6M80.3 18.9L80.9 21.6M83.2 19.6L82.7 21.0M82.7 21.0L80.9 21.6M81.8 17.1L81.6 18.1M79.3 18.7L80.3 18.9M85.1 16.5L84.6 19.0M84.6 19.0L85.9 20.2M83.6 21.7L85.9 20.2M83.6 21.7L82.7 21.0M83.6 21.7L84.5 23.7M83.1 24.8L84.5 23.7M100.8 28.5L98.7 28.2M101.0 25.9L97.9 25.5M97.4 31.9L96.9 29.6M93.2 30.0L94.5 28.1M94.5 28.1L96.9 29.6M101.4 30.9L97.4 29.3M98.7 28.2L97.4 29.3M96.9 29.6L97.4 29.3M99.0 22.8L97.9 23.3M97.9 25.5L97.8 25.4M97.9 23.3L97.8 25.4M94.4 27.8L94.5 28.1M94.4 27.8L95.6 26.3M84.5 23.7L86.1 23.7M86.3 26.8L86.8 26.1M86.1 23.7L86.2 23.7M86.8 26.1L86.2 23.7M96.0 13.5L96.0 13.5M98.8 13.1L96.7 13.9M100.7 15.4L97.7 16.3M96.7 13.9L97.7 16.3M87.9 18.0L89.9 19.6M87.9 18.0L86.8 20.7M89.9 19.6L88.3 21.5M86.8 20.7L87.2 21.5M87.2 21.5L88.3 21.5M85.9 20.2L86.8 20.7M87.8 16.3L87.9 18.0M91.9 19.3L89.9 19.6M91.9 19.3L92.1 20.5M89.2 22.1L92.1 20.5M89.2 22.1L88.3 21.5M86.1 23.7L87.2 21.5M88.0 16.1L91.0 16.4M91.9 19.3L91.9 19.1M91.9 19.1L91.0 16.4M96.0 13.5L94.1 15.8M94.1 15.8L91.7 15.6M91.7 15.6L91.0 16.4M87.8 -2.0L87.2 0.4M87.2 0.4L86.7 0.7M86.7 0.7L85.6 0.4M95.8 0.9L92.1 1.3M96.1 1.7L93.3 2.9M93.3 2.9L92.1 1.3M87.2 0.4L90.2 1.4M86.7 0.7L86.6 2.5M86.6 2.5L89.9 3.3M89.9 3.3L90.2 1.4M91.5 -1.1L91.0 0.7M90.2 1.4L91.0 0.7M91.0 0.7L92.1 1.3M88.6 46.6L89.3 47.8M88.6 46.6L91.7 45.5M91.7 45.5L91.6 47.5M87.9 46.3L88.6 46.6M89.8 49.3L89.3 47.8M91.7 45.5L91.7 45.5M92.0 49.1L91.6 47.5M97.0 52.3L99.5 49.9M95.5 50.8L95.2 49.9M98.1 48.7L99.5 49.9M98.1 48.7L95.3 49.7M95.3 49.7L95.2 49.9M97.1 52.6L97.0 52.3M101.0 50.1L99.5 49.9M93.7 52.8L95.5 50.8M93.7 52.8L93.9 54.5M91.6 51.5L93.7 52.8M92.0 49.9L95.2 49.9M95.0 47.4L95.3 49.7M98.2 46.2L98.1 48.7M98.6 45.8L101.3 48.9M101.0 50.1L101.2 49.9M101.3 48.9L101.2 49.9M102.4 54.2L103.3 54.8M101.8 52.9L104.5 52.0M103.3 54.8L106.0 55.1M101.1 52.3L101.8 52.9M101.4 58.0L103.3 54.8M101.2 49.9L104.6 50.1M79.4 55.3L80.6 54.0M77.7 54.7L78.3 52.3M80.1 52.5L78.3 52.3M83.2 53.0L81.9 53.8M83.2 53.0L83.4 52.5M81.9 53.8L80.6 54.0M80.7 49.5L80.5 49.6M89.2 57.8L88.6 57.9M89.2 57.8L91.7 55.5M88.2 57.6L87.1 54.6M88.2 57.6L88.6 57.9M91.5 55.2L87.7 53.6M87.7 53.6L87.1 54.6M87.7 52.6L87.7 53.6M91.1 52.0L91.5 55.2M92.0 55.5L91.7 55.5M83.2 53.0L85.1 55.1M85.1 55.1L87.1 54.6M93.0 63.1L90.8 62.7M93.0 63.1L93.5 60.7M93.5 60.7L92.4 59.3M90.8 62.7L90.5 61.8M90.5 61.8L91.1 59.4M92.4 59.3L91.1 59.4M95.9 59.6L93.5 60.7M93.1 63.2L93.0 63.1M93.2 57.8L92.4 59.3M88.1 60.2L90.5 61.8M88.1 60.2L88.6 57.9M89.2 57.8L91.1 59.4M13.5 74.6L15.3 75.0M15.5 75.4L15.3 75.0M23.5 81.6L21.4 78.0M13.0 72.9L13.9 71.4M16.5 73.2L15.6 71.2M13.9 71.4L15.6 71.2M11.1 62.2L12.0 63.2M7.1 65.0L7.0 64.9M9.3 65.4L12.0 63.2M17.9 60.2L20.0 61.5M20.0 61.5L21.3 60.6M21.3 60.6L18.8 57.6M18.8 57.6L17.8 58.6M21.9 60.4L21.3 60.6M23.0 60.5L23.1 60.6M23.1 60.6L23.7 62.0M22.3 64.1L23.5 63.2M22.3 64.1L19.3 63.8M23.5 63.2L23.7 62.0M19.3 63.8L20.0 61.5M19.0 57.2L18.8 57.6M15.8 58.0L17.8 58.6M5.6 69.3L7.3 68.1M5.6 69.3L6.0 70.5M6.0 70.5L6.8 71.2M7.3 68.1L9.1 69.0M6.8 71.2L9.2 71.8M9.1 69.0L9.2 71.7M9.2 71.7L9.2 71.8M7.1 65.0L7.3 68.1M3.4 73.5L6.0 70.5M5.5 74.1L6.8 71.2M9.5 73.1L9.2 71.8M34.7 58.9L34.2 61.2M32.0 58.4L32.1 61.0M32.1 61.0L34.2 61.2M34.2 61.2L34.6 61.5M31.8 65.0L31.8 63.5M31.8 65.0L34.8 65.6M30.9 67.6L30.9 65.9M32.5 68.8L35.0 65.7M30.9 65.9L31.8 65.0M34.8 65.6L35.0 65.7M38.7 61.0L38.8 61.4M34.6 61.5L35.0 62.6M37.3 62.8L35.0 62.6M31.8 61.3L32.1 61.0M31.8 61.3L31.5 62.5M31.5 62.5L31.8 63.5M35.0 62.6L34.9 62.8M34.2 71.6L33.8 74.5M34.2 71.6L32.5 70.6M32.5 70.6L31.5 71.7M31.5 71.7L33.4 74.7M33.8 74.5L33.5 74.8M33.4 74.7L33.5 74.8M34.0 74.5L33.8 74.5M42.7 59.0L43.0 61.0M45.0 61.5L43.0 61.0M45.0 61.5L45.6 59.3M45.0 58.7L45.6 59.3M49.5 61.4L47.9 60.6M47.9 60.6L47.5 59.4M47.5 59.4L48.3 58.0M50.6 59.5L50.2 58.4M50.1 58.2L50.2 58.4M50.3 62.9L49.5 61.4M53.3 61.7L52.9 60.2M53.3 61.7L52.9 62.8M52.9 60.2L50.6 59.5M46.0 62.7L45.9 62.7M45.6 59.3L47.5 59.4M52.9 60.2L53.5 58.3M53.8 57.8L53.5 58.3M51.8 55.5L50.1 58.2M35.0 65.7L36.1 66.2M37.3 62.8L36.8 65.7M36.8 65.7L36.1 66.2M50.4 70.2L52.4 73.2M50.4 70.2L53.1 69.0M52.4 73.2L53.2 69.0M53.1 69.0L53.2 69.0M52.4 73.3L52.4 73.3M52.4 73.3L52.4 73.2M52.4 66.6L53.1 69.0M52.4 73.3L54.8 71.5M54.8 71.5L54.6 69.5M54.6 69.5L53.2 69.0M54.6 69.4L54.6 69.5M37.8 19.5L41.5 19.0M39.4 16.5L41.6 18.9M41.5 19.0L41.6 18.9M42.6 17.5L42.3 18.7M46.2 18.3L43.3 19.2M42.3 18.7L43.3 19.2M44.9 21.9L44.2 20.9M44.2 20.9L43.3 19.2M41.5 26.7L41.0 26.5M41.5 26.7L43.5 24.0M41.0 26.5L40.5 22.1M43.5 23.8L43.5 24.0M43.5 23.8L41.1 22.1M41.1 22.1L40.8 22.0M40.5 22.1L40.8 22.0M41.7 27.1L41.5 26.7M39.6 26.3L41.0 26.5M44.2 24.4L43.5 24.0M40.0 22.2L40.5 22.1M44.9 21.9L43.5 23.8M44.2 20.9L41.1 22.1M41.5 19.0L40.8 22.0M34.9 46.0L35.7 43.9M35.7 43.9L34.1 42.0M32.3 45.5L32.2 45.4M32.2 45.4L32.0 41.8M32.0 41.8L32.1 41.6M35.9 43.9L35.7 43.9M32.2 45.9L32.3 45.5M37.0 40.2L34.1 42.0M29.1 45.7L32.2 45.4M29.4 42.1L32.0 41.8M32.3 39.3L32.1 41.6M28.7 38.5L28.7 38.3M26.6 45.4L25.9 45.9M25.9 45.9L26.6 48.2M28.6 46.2L28.8 47.9M28.8 47.9L27.4 48.5M26.3 42.8L26.6 45.4M26.3 42.8L23.9 42.0M26.3 42.8L27.6 42.1M29.1 45.7L28.6 46.2M29.7 48.7L28.8 47.9M76.3 57.9L76.9 58.6M76.9 58.6L75.4 61.4M73.9 57.7L73.7 57.9M73.7 57.9L73.2 58.7M73.2 59.6L75.3 61.4M78.1 55.2L76.3 57.9M74.2 54.8L76.0 53.8M76.0 53.8L77.7 54.7M70.3 54.8L70.0 55.4M70.0 55.4L73.7 57.9M83.7 65.7L82.6 67.2M83.7 65.7L85.7 67.2M85.7 67.2L84.6 69.8M82.2 62.6L84.0 64.2M82.2 62.6L80.0 64.9M80.0 64.9L83.6 65.2M83.6 65.2L84.0 64.2M81.1 67.8L80.0 64.9M81.1 67.8L82.6 67.2M83.7 65.7L83.6 65.2M85.4 61.0L85.4 61.0M85.4 61.0L87.0 61.2M88.2 57.6L85.4 58.1M85.4 61.0L85.4 58.1M85.1 55.1L83.9 57.2M85.4 58.1L83.9 57.2M81.9 53.8L83.3 57.4M95.8 69.8L94.8 70.4M93.6 72.4L93.5 71.7M94.8 70.4L92.4 68.2M2.1 41.3L-0.2 38.8M-1.3 42.3L-1.3 42.3M-0.2 38.8L-1.9 39.3M-2.2 39.9L-1.9 39.3M2.9 42.4L2.1 41.5M2.6 40.4L2.1 41.3M1.5 37.4L-0.2 38.8M-4.0 43.5L-1.3 42.3M-4.2 39.9L-2.2 39.9M-2.4 37.0L-1.9 39.3M22.3 64.1L22.6 66.4M23.5 63.2L25.1 65.4M25.1 65.4L22.6 66.4M31.8 58.0L29.6 58.6M27.7 55.9L27.4 57.3M27.4 57.3L29.6 58.6M23.7 57.1L26.9 57.8M29.6 58.6L29.1 60.2M25.3 36.2L26.8 38.3M25.3 36.2L23.8 38.7M24.0 39.3L23.8 38.7M26.0 38.9L26.8 38.3M25.5 35.5L25.3 36.2M28.2 37.6L26.8 38.3M23.1 34.6L21.6 36.9M21.6 36.9L23.8 38.7M27.2 40.4L26.0 38.9M23.6 40.9L24.0 39.3M17.9 30.7L18.4 32.1M21.1 32.0L18.4 32.1M16.1 32.9L17.7 33.0M18.4 32.1L17.7 33.0M15.9 35.9L17.7 33.2M20.4 37.0L20.9 32.8M19.4 36.9L19.0 35.6M20.1 39.0L20.0 37.1M17.0 37.8L19.4 36.9M17.7 33.2L19.0 35.6M39.0 12.7L38.8 10.7M38.8 10.7L36.2 9.2M42.1 13.2L43.3 10.7M38.8 10.7L40.3 9.2M33.2 8.1L36.1 9.0M36.2 9.2L36.1 9.0M51.4 4.4L51.4 4.4M51.4 4.4L54.2 2.8M54.2 2.8L54.0 1.1M51.5 0.1L51.1 0.5M51.5 -2.3L51.5 0.1M48.3 1.1L51.1 0.5M47.6 2.1L48.1 3.6M47.6 2.1L46.1 2.0M46.1 2.0L44.6 3.1M44.6 3.1L44.4 5.5M46.9 6.0L45.8 6.3M45.8 6.3L44.7 5.9M44.4 5.5L44.7 5.9M48.3 1.1L47.6 2.1M44.5 -0.3L46.1 2.0M43.8 2.5L44.6 3.1M48.7 7.1L46.9 6.0M41.1 2.9L42.2 4.7M42.2 4.7L44.4 5.5M42.2 4.7L40.5 6.5M43.3 7.3L40.5 6.5M43.3 7.3L44.7 5.9M54.4 78.0L54.8 78.0M61.6 54.5L60.5 56.8M60.1 56.8L60.5 56.8M56.6 57.8L57.1 58.3M60.1 56.8L57.1 58.3M65.8 55.0L65.0 58.1M65.8 55.0L67.6 55.8M65.0 58.1L66.8 59.7M66.8 59.7L67.6 55.8M70.0 55.4L68.9 56.0M73.2 58.7L69.4 58.5M69.4 58.5L68.9 56.0M65.8 55.0L65.8 55.0M68.9 56.0L67.6 55.8M61.4 66.8L63.7 63.8M61.4 66.8L62.1 68.3M63.7 63.8L65.1 64.1M62.7 68.4L65.6 66.2M65.1 64.1L65.6 66.2M51.8 46.0L53.1 44.4M53.0 42.2L53.1 44.4M53.0 42.2L50.4 42.5M50.4 42.5L49.7 43.2M47.9 45.0L49.6 43.6M49.9 40.1L50.4 42.5M53.1 42.2L53.0 42.2M47.3 41.4L49.7 43.2M57.5 47.7L57.6 44.8M56.6 48.4L54.9 46.5M56.5 44.0L55.0 46.4M55.0 46.4L54.9 46.5M56.7 49.9L56.6 48.4M60.1 45.4L57.6 44.8M53.1 47.3L54.9 46.5M56.3 43.2L56.5 44.0M53.1 44.4L55.0 46.4M73.7 44.2L72.2 45.7M73.7 44.2L73.4 42.6M73.4 42.6L72.5 42.0M72.0 45.5L72.2 45.7M72.0 45.5L70.8 42.6M71.2 42.1L70.8 42.6M75.8 47.4L72.2 45.8M75.5 44.4L73.7 44.2M72.2 45.8L72.2 45.7M75.4 41.4L73.4 42.6M76.7 43.5L75.5 44.4M73.1 40.0L72.5 42.0M73.1 40.0L75.1 39.8M75.1 39.8L75.6 40.0M71.7 47.6L68.8 48.2M71.7 47.6L72.2 45.8M69.6 45.3L72.0 45.5M69.0 43.0L70.8 42.6M76.9 38.0L76.5 37.1M76.9 38.0L79.7 36.2M79.8 35.0L79.7 36.2M79.8 35.0L78.1 34.2M78.1 34.2L78.0 34.2M76.9 39.3L76.9 38.0M80.7 38.6L79.7 36.2M77.9 34.1L78.0 34.2M81.1 34.4L82.1 32.3M85.4 29.9L83.1 32.3M82.1 32.3L83.1 32.3M83.1 32.3L85.7 34.2M71.0 50.3L70.7 51.5M71.0 50.3L72.5 49.1M73.1 49.4L72.9 52.2M73.1 49.4L72.5 49.1M70.7 51.5L72.1 53.2M72.1 53.2L72.9 52.2M68.5 48.6L71.0 50.3M68.4 51.7L70.7 51.5M72.1 53.2L72.1 53.2M75.9 51.6L72.9 52.2M68.8 35.3L68.9 35.4M71.8 32.3L71.0 35.1M71.0 35.1L69.0 35.5M68.9 35.4L69.0 35.5M65.6 38.0L65.9 38.0M68.9 35.4L65.9 38.0M71.5 38.8L70.6 40.2M71.5 38.8L71.5 38.5M71.5 38.5L69.5 37.5M70.6 40.2L68.2 40.4M68.2 40.4L67.8 39.1M73.1 40.0L71.5 38.8M71.2 42.1L70.6 40.2M67.4 42.4L68.2 40.4M69.0 35.5L69.5 37.5M65.9 38.0L67.8 39.1M72.2 37.6L71.6 35.5M72.2 37.6L73.7 37.2M73.7 37.2L74.5 36.1M74.4 34.6L74.5 36.1M71.0 35.1L71.6 35.5M71.5 38.5L72.2 37.6M75.1 39.8L73.7 37.2M74.4 34.4L74.4 34.6M76.5 37.1L74.5 36.1M45.4 10.6L46.0 9.1M45.4 10.6L45.9 11.2M45.9 11.2L49.3 9.6M46.0 9.1L48.9 8.9M43.7 10.6L45.4 10.6M45.8 6.3L46.0 9.1M46.7 12.8L45.9 11.2M49.5 9.7L49.3 9.6M48.7 7.1L48.9 8.9M8.5 -1.9L10.2 -0.7M10.2 -0.7L11.1 -3.6M12.8 3.4L11.1 0.5M11.1 0.5L10.8 0.4M15.2 1.1L13.6 -0.8M11.1 0.5L13.6 -0.8M87.1 29.2L89.3 28.6M86.8 26.1L89.2 26.5M89.2 26.5L89.3 28.6M90.7 30.4L89.9 29.0M89.3 28.6L89.9 29.0M94.4 27.8L92.8 26.7M89.9 29.0L92.8 26.7M96.4 19.5L97.7 17.4M96.2 19.7L94.3 18.4M97.7 17.4L97.6 16.8M97.6 16.8L94.5 17.0M94.3 18.4L94.5 17.0M100.2 18.6L97.7 17.4M99.7 20.8L96.4 19.5M97.9 23.3L97.4 23.0M95.9 20.6L97.4 23.0M97.7 16.3L97.6 16.8M94.1 15.8L94.5 17.0M91.9 19.1L94.3 18.4M81.8 0.6L83.6 1.5M81.8 0.6L79.8 2.9M83.6 1.5L84.1 3.3M84.1 3.3L82.2 4.6M79.8 2.9L81.0 4.5M82.2 4.6L81.0 4.5M85.6 0.4L83.6 1.5M79.6 2.9L79.8 2.9M86.6 2.5L85.8 3.9M85.6 4.0L84.1 3.3M85.2 6.2L83.9 6.9M85.2 6.2L85.6 4.0M83.9 6.9L82.2 4.6M80.0 7.2L81.0 4.5M83.3 8.4L83.9 6.9M85.2 6.2L87.2 7.4M85.8 3.9L88.3 4.9M88.3 4.9L87.2 7.4M91.7 10.5L90.3 8.1M87.8 11.0L88.4 8.3M90.3 8.1L88.4 8.3M84.9 9.9L87.3 7.6M87.2 7.4L87.3 7.6M102.3 46.3L102.2 47.2M102.3 46.3L105.2 45.1M102.2 47.2L105.3 48.8M100.8 45.1L102.3 46.3M101.3 48.9L102.2 47.2M103.7 42.2L105.2 45.1M78.7 49.9L77.5 51.1M78.7 49.9L76.5 47.5M75.9 51.4L74.8 49.2M74.8 49.2L75.9 47.5M75.9 47.5L76.5 47.5M80.5 49.6L78.7 49.9M78.3 52.3L77.5 51.1M78.0 46.5L76.5 47.5M75.9 51.6L75.9 51.4M73.1 49.4L74.8 49.2M75.8 47.4L75.9 47.5M89.6 65.9L87.5 65.2M89.6 65.9L90.6 62.9M90.6 62.9L87.8 63.1M87.8 63.1L87.1 64.3M87.1 64.3L87.5 65.2M93.5 65.5L89.8 66.2M90.8 62.7L90.6 62.9M87.0 61.2L87.8 63.1M84.5 63.9L87.1 64.3M84.5 63.9L84.0 64.2M86.3 67.1L87.5 65.2M16.5 75.9L18.2 74.9M16.5 75.9L17.2 78.3M18.2 74.9L18.6 77.1M18.6 77.1L18.3 78.2M15.5 75.4L16.5 75.9M16.5 73.2L18.6 74.1M18.6 74.1L18.2 74.9M21.4 78.0L21.8 77.4M18.6 77.1L20.3 75.7M21.8 77.4L20.3 75.7M18.6 74.1L19.8 73.6M20.3 75.7L19.8 73.6M19.3 63.8L18.7 64.5M22.4 66.7L18.7 65.1M18.7 64.5L18.7 65.1M13.3 63.1L15.1 64.4M13.3 63.1L14.3 61.8M17.6 64.0L15.1 64.4M17.6 64.0L15.9 61.2M15.0 61.0L15.9 61.2M12.6 66.8L12.5 63.4M12.6 66.8L15.0 66.1M12.1 60.1L14.3 61.8M14.5 59.1L15.0 61.0M17.9 60.2L15.9 61.2M18.7 64.5L17.6 64.0M12.6 66.8L12.5 66.9M12.5 66.9L10.6 66.9M9.1 69.0L9.3 68.9M9.3 68.9L10.6 66.9M48.3 58.0L46.2 57.1M46.2 57.1L45.4 54.9M48.3 54.9L47.2 54.7M45.4 54.9L47.2 54.7M48.3 58.0L48.3 58.0M49.6 54.2L48.3 54.9M44.5 54.6L45.4 54.9M40.2 66.6L39.5 65.6M40.2 66.6L41.9 67.3M42.0 67.2L42.8 64.3M39.5 65.6L40.3 62.7M40.3 62.7L41.6 62.8M41.6 62.8L42.8 64.0M42.8 64.3L42.8 64.0M46.0 66.1L42.8 64.3M46.1 66.1L46.0 66.1M42.0 67.5L41.9 67.3M38.8 61.4L40.3 62.7M36.8 65.7L39.5 65.6M43.0 61.0L41.6 62.8M45.9 62.7L42.8 64.0M35.6 68.9L36.3 67.9M35.6 68.9L36.0 71.1M36.3 67.9L38.3 68.8M36.0 71.1L36.5 71.6M38.9 69.9L38.3 68.8M32.7 69.2L32.5 68.8M32.7 69.2L35.6 68.9M36.1 66.2L36.3 67.9M32.7 69.2L32.5 70.6M34.2 71.6L36.0 71.1M40.2 66.6L38.3 68.8M36.9 72.6L36.5 71.6M40.6 70.7L38.9 69.9M84.6 69.8L84.6 70.0M82.4 70.7L84.6 70.0M80.1 69.3L80.7 70.7M80.7 57.8L77.7 59.2M80.7 57.8L81.9 58.4M81.9 58.4L82.0 60.2M77.7 59.2L78.2 61.0M81.6 60.9L82.0 60.2M78.2 61.0L78.8 61.7M78.9 61.8L78.8 61.7M79.4 55.3L80.7 57.8M76.9 58.6L77.7 59.2M83.3 57.4L81.9 58.4M75.4 61.4L78.2 61.0M82.2 62.6L81.6 60.9M78.9 64.5L78.9 61.8M81.3 78.2L81.3 77.9M81.3 77.9L83.1 76.6M86.8 76.2L86.3 78.1M86.8 76.2L84.9 74.8M83.1 76.6L83.1 76.0M84.9 74.8L83.1 76.0M91.0 74.5L90.2 74.0M90.1 78.2L88.4 75.4M90.2 74.0L88.4 75.4M88.2 75.4L88.4 75.4M84.9 74.8L85.2 73.3M85.2 73.3L86.3 72.0M88.2 75.4L86.3 72.0M82.4 70.7L83.8 73.0M80.7 70.7L80.5 71.6M80.5 71.6L81.3 73.8M81.3 77.9L78.4 76.4M83.1 76.0L81.3 74.0M78.4 76.4L81.3 74.0M91.1 70.8L91.0 69.0M91.1 70.8L89.8 72.0M86.7 71.5L88.1 68.5M88.1 68.5L89.8 68.0M89.8 68.0L91.0 69.0M93.5 71.7L91.1 70.8M90.2 74.0L89.8 72.0M86.5 71.6L86.7 71.5M89.8 66.2L89.8 68.0M25.8 68.0L26.4 65.8M25.8 68.0L26.7 69.2M26.7 69.2L28.7 69.8M26.4 65.8L29.4 68.7M29.4 68.7L28.7 69.8M27.5 64.7L26.4 65.8M30.5 71.9L31.5 71.7M29.1 71.1L28.9 70.7M28.7 60.6L26.5 59.5M28.7 60.6L28.4 62.5M28.4 62.5L27.5 63.3M26.3 59.7L26.5 59.5M26.3 59.7L27.0 62.9M29.1 60.2L28.7 60.6M31.5 62.5L28.4 62.5M27.5 64.7L27.5 63.3M23.1 60.6L26.3 59.7M25.1 65.4L26.4 65.8M40.1 6.7L40.2 8.8M40.2 8.8L37.0 7.5M38.8 5.7L37.5 6.3M37.5 6.3L37.0 7.5M40.3 9.2L40.2 8.8M39.0 4.3L38.8 5.7M36.1 9.0L37.0 7.5M35.8 5.1L37.5 6.3M57.5 69.4L57.3 72.2M59.5 69.7L59.0 71.8M57.3 72.2L59.0 71.8M56.9 68.9L57.5 69.4M54.8 71.5L56.7 72.8M56.7 72.8L57.3 72.2M57.7 65.7L59.6 65.8M61.4 66.8L60.6 66.3M60.6 66.3L59.6 65.8M62.1 68.3L61.8 68.9M61.8 68.9L59.5 69.7M80.4 71.7L77.3 74.2M78.4 76.4L78.1 76.4M77.3 74.2L78.1 76.4M56.8 64.5L57.5 61.9M59.6 65.8L60.0 62.9M60.0 62.9L57.5 61.9M53.3 61.7L57.2 60.5M57.5 61.9L57.2 60.5M57.1 58.3L57.5 59.9M57.2 60.5L57.5 59.9M85.2 34.9L82.5 35.5M85.2 34.9L84.9 37.7M84.9 37.7L83.0 37.4M81.1 34.4L82.5 35.5M85.7 34.2L85.2 34.9M85.4 38.4L84.9 37.7M82.5 37.8L83.0 37.4M13.8 -1.4L12.5 -3.2M13.8 -1.4L15.5 -2.5M13.6 -0.8L13.8 -1.4M17.9 -2.2L15.5 -2.5M92.2 25.8L94.7 23.8M97.4 23.0L94.7 23.6M94.7 23.8L94.7 23.6M94.7 23.6L93.5 22.0M92.1 20.5L92.9 21.8M92.9 21.8L93.5 22.0M88.9 24.4L89.7 26.0M88.9 24.4L89.8 22.9M89.7 26.0L91.7 25.4M91.7 25.4L91.6 23.5M86.2 23.7L88.9 24.4M89.2 26.5L89.7 26.0M89.2 22.1L89.8 22.9M92.2 25.8L91.7 25.4M92.9 21.8L91.6 23.5M90.0 4.1L93.0 4.0M90.0 4.1L89.9 4.4M92.7 6.6L93.5 4.7M93.3 2.9L93.0 4.0M89.9 3.3L90.0 4.1M88.3 4.9L89.9 4.4M90.3 8.1L90.9 6.7M93.6 7.3L92.7 6.6M95.5 4.9L93.5 4.7M11.0 69.2L11.0 70.7M12.6 68.9L13.1 70.3M11.0 70.7L13.1 70.3M12.8 67.8L12.6 68.9M12.8 67.8L12.5 66.9M9.2 71.7L11.0 70.7M13.9 71.4L13.1 70.3M78.9 64.5L78.3 64.9M78.3 64.9L77.6 68.4M30.5 71.9L29.9 74.6M27.9 73.3L29.9 74.6M33.4 74.7L30.3 75.9M29.9 74.6L30.3 75.9M30.3 75.9L30.3 75.9M26.7 69.2L25.0 72.0M28.9 70.7L25.1 72.3M25.0 72.0L25.1 72.3M64.2 79.5L64.2 76.4M64.2 76.4L62.9 76.3M62.9 76.3L61.4 79.0M77.3 71.7L76.9 70.2M60.6 66.3L61.7 62.8M60.0 62.9L60.6 62.4M61.7 62.8L60.6 62.4M61.7 62.8L63.3 62.8M68.3 66.7L67.9 63.7M68.3 66.7L70.8 65.3M70.8 65.3L70.1 63.0M67.9 63.7L70.1 63.0M66.8 59.7L67.2 60.2M68.7 59.8L67.2 60.2M16.7 70.0L16.4 68.4M16.7 70.0L17.3 70.1M17.3 70.1L19.4 69.5M16.4 68.4L16.7 67.5M16.7 67.5L18.5 65.8M12.8 67.8L16.4 68.4M19.8 73.6L20.0 73.4M15.0 66.1L16.7 67.5M18.7 65.1L18.5 65.8M22.4 66.7L22.5 68.7M22.5 68.7L20.3 68.7M77.6 81.1L77.3 77.4M77.4 77.2L77.3 77.4M74.0 78.6L74.3 77.8M77.3 77.4L74.3 77.8M75.1 63.6L77.7 64.8M75.1 63.6L74.0 64.2M77.7 64.8L75.0 66.7M74.0 64.2L73.7 65.4M75.3 63.2L75.1 63.6M78.3 64.9L77.7 64.8M77.3 68.5L76.0 68.3M76.0 68.3L75.0 66.7M26.1 73.9L25.2 72.9M21.8 77.4L23.0 76.6M20.0 73.4L20.5 73.2M20.5 73.2L22.6 74.3M23.0 76.6L22.6 74.3M20.8 72.1L20.7 72.8M20.7 72.8L24.3 71.5M24.3 71.5L22.9 69.0M22.9 69.0L22.7 68.9M20.5 73.2L20.7 72.8M19.4 69.5L20.8 72.1M25.0 72.0L24.3 71.5M25.2 72.9L22.6 74.3M25.8 68.0L22.9 69.0M54.8 78.0L56.8 75.9M57.4 79.2L58.7 77.6M56.8 75.9L58.7 77.6M53.5 74.6L56.6 74.6M56.8 75.9L56.6 74.6M61.1 79.2L59.0 77.6M58.7 77.6L59.0 77.6M56.7 72.8L56.9 74.3M56.6 74.6L56.9 74.3M61.8 74.9L60.1 75.6M61.8 74.9L61.8 73.0M61.8 73.0L60.4 72.9M58.3 74.3L60.1 75.6M62.9 76.3L61.8 74.9M59.0 77.6L60.1 75.6M61.8 68.9L61.9 69.7M61.9 69.7L62.0 72.8M62.0 72.8L61.8 73.0M59.0 71.8L60.4 72.9M56.9 74.3L58.3 74.3M61.9 69.7L65.7 72.2M62.0 72.8L65.6 72.8M65.6 72.8L65.7 72.2M62.7 68.4L64.6 69.3M64.6 69.3L65.8 72.1M65.7 72.2L65.8 72.1M60.3 60.3L60.5 60.6M60.3 60.3L61.6 58.1M60.5 60.6L63.5 61.0M62.4 58.2L61.6 58.1M62.4 58.2L63.5 58.8M63.5 58.8L63.5 61.0M63.5 61.0L63.5 61.0M57.5 59.9L60.3 60.3M60.6 62.4L60.5 60.6M60.5 56.8L61.6 58.1M63.3 62.8L63.5 61.0M63.6 55.1L62.4 58.2M66.7 61.0L63.5 61.0M65.1 64.1L66.8 63.1M66.8 63.1L66.7 61.0M70.5 61.6L70.2 62.9M70.2 62.9L73.9 64.1M72.4 60.8L73.9 64.1M66.8 63.1L67.9 63.7M68.7 59.8L70.5 61.6M70.1 63.0L70.2 62.9M73.2 59.6L72.4 60.8M72.6 66.0L73.7 65.4M74.0 64.2L73.9 64.1M77.4 77.2L74.2 75.1M74.3 77.8L73.6 76.9M74.2 75.1L73.6 76.9M73.6 76.9L70.6 76.7M26.1 74.2L24.8 77.0M29.1 76.5L28.1 78.1M24.9 77.2L27.3 78.4M24.9 77.2L24.8 77.0M23.0 76.6L24.8 77.0M30.3 75.9L29.1 76.5M65.8 73.1L68.3 73.1M65.8 73.1L65.9 76.0M68.3 73.1L68.8 76.2M65.9 76.0L66.7 76.5M66.7 76.5L68.8 76.2M64.2 76.4L65.9 76.0M66.6 79.5L66.7 76.5M70.6 76.7L70.4 76.4M70.4 76.4L68.8 76.2M65.8 72.1L67.3 70.8M68.3 73.1L69.4 72.4M67.3 70.8L69.4 72.4M76.0 68.3L74.5 69.3M72.6 66.0L71.9 68.2M71.9 68.2L72.0 68.7M71.9 68.2L68.3 66.8M64.6 69.3L67.7 68.4M67.3 70.8L68.0 69.0M68.0 69.0L67.7 68.4M65.6 66.2L67.9 67.2M67.7 68.4L67.9 67.2M67.9 67.2L68.3 66.8M71.0 70.2L70.8 70.4M73.9 73.6L74.6 73.0M74.6 73.0L74.5 72.2M74.5 72.2L74.3 71.9M70.4 76.4L71.5 74.0M74.2 75.1L73.9 73.6M72.0 68.7L71.0 70.2M76.3 73.3L74.6 73.0M76.9 70.2L74.5 72.2" fill="none" stroke="#d280c4" stroke-width="0.8"/>
<path d="M0.2 70.5h0.01M99.4 65.8h0.01M59.0 55.5h0.01M98.4 61.5h0.01M100.1 60.9h0.01M14.9 44.6h0.01M21.3 27.4h0.01M96.1 1.6h0.01M97.6 65.6h0.01M83.2 53.0h0.01M38.7 61.0h0.01M4.9 45.3h0.01M99.6 56.4h0.01M7.7 43.0h0.01M17.3 41.1h0.01M1.2 13.8h0.01M6.7 21.3h0.01M21.5 28.7h0.01M65.8 5.7h0.01M60.4 6.3h0.01M46.8 16.0h0.01M61.2 21.4h0.01M28.7 18.9h0.01M31.0 9.3h0.01M77.3 15.8h0.01M85.8 11.7h0.01M99.0 56.4h0.01M94.8 36.8h0.01M96.6 33.2h0.01M40.0 72.8h0.01M2.5 59.5h0.01M8.1 47.0h0.01M5.2 50.5h0.01M45.0 38.8h0.01M35.9 30.6h0.01M38.7 47.4h0.01M93.1 63.2h0.01M5.1 23.5h0.01M18.0 47.6h0.01M18.0 49.3h0.01M9.4 34.0h0.01M2.4 18.7h0.01M2.2 18.8h0.01M25.7 24.2h0.01M84.5 23.7h0.01M55.5 6.8h0.01M72.7 18.4h0.01M56.7 10.2h0.01M57.5 11.2h0.01M64.2 8.2h0.01M56.4 22.0h0.01M62.2 37.0h0.01M54.2 16.7h0.01M21.8 2.9h0.01M23.7 23.5h0.01M19.2 24.9h0.01M100.6 0.9h0.01M91.5 10.9h0.01M89.5 12.5h0.01M96.1 1.7h0.01M77.1 4.6h0.01M77.6 8.1h0.01M86.5 49.4h0.01M90.9 40.4h0.01M81.0 46.2h0.01M83.8 45.9h0.01M39.2 51.9h0.01M43.0 55.6h0.01M50.7 66.6h0.01M41.8 40.4h0.01M79.4 55.3h0.01M9.7 36.3h0.01M6.3 39.1h0.01M2.9 42.4h0.01M1.8 36.7h0.01M18.6 52.9h0.01M16.0 36.3h0.01M13.3 37.1h0.01M8.4 21.8h0.01M28.4 20.7h0.01M24.8 31.7h0.01M51.6 6.0h0.01M61.7 51.2h0.01M50.1 54.1h0.01M53.1 47.3h0.01M86.3 26.8h0.01M73.1 40.0h0.01M71.4 18.5h0.01M59.1 10.6h0.01M69.4 27.0h0.01M77.4 29.5h0.01M47.8 21.6h0.01M57.9 38.1h0.01M66.4 16.9h0.01M57.6 18.6h0.01M56.9 16.3h0.01M26.6 12.7h0.01M34.2 15.2h0.01M23.7 6.4h0.01M14.1 24.0h0.01M19.1 16.4h0.01M99.4 6.3h0.01M98.8 13.1h0.01M81.8 0.2h0.01M91.9 49.8h0.01M95.1 44.1h0.01M98.2 46.2h0.01M97.1 52.6h0.01M84.3 48.7h0.01M14.5 59.1h0.01M34.0 74.5h0.01M44.1 71.1h0.01M2.6 53.7h0.01M44.5 54.6h0.01M55.0 66.7h0.01M52.4 66.6h0.01M36.8 34.5h0.01M35.7 30.9h0.01M37.7 37.5h0.01M29.1 55.0h0.01M25.0 52.9h0.01M1.5 37.4h0.01M19.3 63.8h0.01M36.0 55.5h0.01M3.8 31.4h0.01M2.8 34.0h0.01M30.3 28.7h0.01M27.9 35.2h0.01M28.2 37.3h0.01M28.2 37.6h0.01M43.3 7.3h0.01M43.3 7.3h0.01M9.3 2.6h0.01M6.2 11.1h0.01M9.2 7.5h0.01M63.7 63.8h0.01M60.5 47.9h0.01M77.1 39.4h0.01M68.4 51.7h0.01M52.4 24.3h0.01M42.4 31.3h0.01M30.2 15.6h0.01M16.2 20.9h0.01M48.3 12.6h0.01M10.2 16.8h0.01M15.4 15.8h0.01M16.7 15.5h0.01M81.6 18.1h0.01M80.3 18.9h0.01M85.8 3.9h0.01M87.7 53.6h0.01M9.1 69.0h0.01M31.8 61.3h0.01M33.8 74.5h0.01M33.5 74.8h0.01M45.0 61.5h0.01M43.0 61.0h0.01M48.3 58.0h0.01M50.1 58.2h0.01M40.5 22.1h0.01M32.1 41.6h0.01M26.6 45.4h0.01M73.9 57.7h0.01M82.6 67.2h0.01M27.4 57.3h0.01M25.3 36.2h0.01M26.8 38.3h0.01M47.6 2.1h0.01M49.7 43.2h0.01M73.4 42.6h0.01M72.5 42.0h0.01M76.9 38.0h0.01M76.5 37.1h0.01M79.7 36.2h0.01M82.1 32.3h0.01M72.9 52.2h0.01M72.2 37.6h0.01M74.5 36.1h0.01M49.3 9.6h0.01M87.2 7.4h0.01M40.3 62.7h0.01M36.3 67.9h0.01M75.3 63.2h0.01M78.2 61.0h0.01M83.8 73.0h0.01M90.2 74.0h0.01M64.6 69.3h0.01M68.3 66.7h0.01M84.9 37.7h0.01M94.7 23.6h0.01M78.3 64.9h0.01M77.3 68.5h0.01M25.0 72.0h0.01M72.6 66.0h0.01M20.8 72.1h0.01M24.3 71.5h0.01M22.7 68.9h0.01M61.8 74.9h0.01M58.3 74.3h0.01M63.5 61.0h0.01M70.3 72.2h0.01" fill="none" stroke="#944c84" stroke-opacity="0.5" stroke-width="1.3" stroke-linecap="round"/></g>
<g filter="url(#bl2)" opacity="0.22"><ellipse cx="8" cy="50" rx="14" ry="28" fill="#d070b0"/><ellipse cx="82" cy="30" rx="20" ry="26" fill="#ffffff"/></g>
<g filter="url(#bl)" fill="#f4d6ec" opacity="0.6"><path d="M-1,-1 H19 V17 C13,19.5 7,20 -1,19.5 Z"/><path d="M93,66 C96,62 99,59 101,58 V76 H90 Z"/></g>
<path d="M0.5,20.2 C3,21.5 6,22.2 8,22.2 C11,21.8 14,20.2 17,19.2 L21,19" fill="none" stroke="#a02a62" stroke-width="1.2"/>
<g filter="url(#bl)" fill="#c03276"><ellipse cx="21.3" cy="4.5" rx="1.8" ry="5"/><ellipse cx="21.5" cy="19.8" rx="4" ry="2.6"/><ellipse cx="63" cy="29" rx="2.4" ry="2.6"/><ellipse cx="19.5" cy="33" rx="2.2" ry="3"/><ellipse cx="53.6" cy="50.5" rx="4.5" ry="2.2"/></g>
<path d="M20.7,32.3 C21.5,30.5 22,30 23.4,29.6 C27,29 30,28.9 33.4,28.9 C37,29.5 41,31.2 44.2,33.6 C46.5,35.5 48.5,37.8 49.6,40.4 C49.4,43.5 48.7,45.8 47.6,47.1 C44,47.6 41.5,47.4 38.8,47.1 C34,45.5 30,43.5 26.7,41.7 C24,40.5 22,39 21.3,37.7 C20.7,36 20.5,34 20.7,32.3 Z" fill="none" stroke="#cc5aa0" stroke-width="4" opacity="0.7" filter="url(#bl)"/>
<path d="M20.7,32.3 C21.5,30.5 22,30 23.4,29.6 C27,29 30,28.9 33.4,28.9 C37,29.5 41,31.2 44.2,33.6 C46.5,35.5 48.5,37.8 49.6,40.4 C49.4,43.5 48.7,45.8 47.6,47.1 C44,47.6 41.5,47.4 38.8,47.1 C34,45.5 30,43.5 26.7,41.7 C24,40.5 22,39 21.3,37.7 C20.7,36 20.5,34 20.7,32.3 Z" fill="#f9eef7" stroke="#9c2468" stroke-width="1.6"/>
</g>
<g transform="translate(312.0,180)" clip-path="url(#c3)">
<rect x="0" y="0" width="101" height="75" fill="#fae2ed"/>
<g filter="url(#tx)"><path d="M38.0 50.3L34.9 50.9M38.0 52.3L34.9 52.2M34.9 50.9L34.9 52.2M-5.3 37.4L-1.8 37.0M-1.8 37.0L-3.6 39.1M-3.7 34.6L-1.8 35.8M-1.8 35.8L-1.2 36.7M-1.8 37.0L-1.2 36.7M103.7 -3.7L104.2 -2.6M57.0 77.1L56.2 79.5M57.0 77.1L60.3 79.2M90.9 49.1L89.4 51.2M90.9 49.1L93.0 50.3M93.0 50.3L92.8 52.2M92.8 52.2L90.9 52.6M89.4 51.2L90.9 52.6M94.0 54.4L91.1 54.9M94.0 54.4L94.3 53.9M90.8 54.7L91.1 54.9M90.8 54.7L90.9 52.6M94.3 53.9L92.8 52.2M88.9 51.4L89.4 51.2M88.9 51.4L87.6 53.1M90.8 54.7L89.1 54.8M89.1 54.8L87.6 53.1M63.1 39.2L62.9 38.8M62.9 38.8L64.2 37.5M64.2 37.5L65.4 37.4M65.4 37.4L65.8 39.6M66.8 35.6L66.7 36.3M66.7 36.3L65.4 37.4M62.6 35.4L64.2 37.5M66.7 36.3L68.9 38.7M68.9 38.7L69.0 39.6M67.2 40.6L66.1 40.2M66.1 40.2L65.8 39.6M62.6 35.4L62.1 35.3M62.1 35.3L61.6 37.3M62.9 38.8L61.6 38.3M61.6 38.3L61.6 37.3M66.1 40.2L63.2 41.9M63.1 39.2L63.1 41.9M63.1 41.9L63.2 41.9M59.8 41.9L60.4 42.3M59.8 41.9L59.6 39.3M61.6 38.3L59.6 39.3M53.7 42.1L53.3 42.0M51.4 45.0L53.2 45.3M51.4 45.0L51.7 42.9M53.3 42.0L51.7 42.9M54.8 44.6L53.2 45.3M40.1 60.4L37.9 61.8M40.4 63.5L40.0 63.9M40.0 63.9L37.4 62.9M37.4 62.9L37.9 61.8M37.5 57.9L39.9 58.8M37.5 57.9L37.9 61.8M39.9 58.8L40.1 60.4M36.3 64.1L37.2 63.0M36.3 64.1L36.0 65.3M37.2 63.0L37.4 62.9M36.0 65.3L36.4 66.6M40.5 65.8L39.4 66.7M40.5 65.8L40.0 63.9M36.4 66.6L39.4 66.7M49.7 42.0L49.0 40.3M49.7 42.0L48.1 43.9M49.0 40.3L46.7 40.2M46.7 40.2L45.7 42.5M45.7 42.5L45.7 42.7M45.7 42.7L48.1 43.9M17.9 16.6L17.1 15.9M17.9 16.6L20.9 16.3M20.9 16.3L19.9 12.5M17.1 15.9L18.1 13.5M-1.2 36.7L0.3 37.4M-3.6 39.1L-0.9 39.5M0.4 37.9L-0.9 39.5M6.5 29.1L5.8 28.8M6.5 29.1L6.9 31.3M3.3 32.2L3.7 32.4M3.7 29.6L5.8 28.8M6.9 31.3L3.7 32.4M1.2 32.7L1.7 35.6M1.2 32.7L3.3 32.2M1.7 35.6L2.5 35.7M2.5 35.7L4.7 34.2M3.7 32.4L4.7 34.2M-2.6 -3.4L-1.9 -1.7M71.3 17.5L70.1 18.6M71.3 17.5L69.2 14.4M70.1 18.6L69.9 18.6M69.9 18.6L68.7 16.1M68.7 16.1L69.2 14.4M99.1 -4.4L98.7 -2.8M98.7 -2.8L99.9 -1.2M99.9 -1.2L101.0 -1.5M85.4 77.1L85.0 78.5M85.4 77.1L83.0 75.3M85.4 77.1L86.7 76.3M86.7 76.3L86.0 74.7M83.0 75.3L83.7 74.0M86.0 74.7L83.8 73.8M83.7 74.0L83.8 73.8M98.8 38.8L100.1 40.6M98.8 38.8L96.3 40.7M98.2 42.6L99.4 42.1M98.2 42.6L96.2 41.2M96.2 41.2L96.3 40.7M93.5 33.8L96.4 33.0M93.5 33.8L93.3 35.3M96.4 33.0L97.2 34.0M97.2 34.0L96.9 36.8M96.9 36.8L95.5 37.3M93.3 35.3L95.5 37.3M96.9 36.8L98.6 37.6M98.6 37.6L98.8 38.8M96.3 40.7L95.2 38.0M103.6 66.4L104.3 68.1M94.0 54.4L94.4 57.8M94.4 57.8L96.7 58.0M94.3 53.9L94.5 53.8M94.5 53.8L96.5 54.8M96.5 54.8L97.2 57.6M96.7 58.0L97.2 57.6M106.6 63.2L103.9 62.2M103.9 62.2L104.2 59.5M-3.9 76.8L-1.9 79.2M-3.1 75.2L-0.5 77.1M-0.5 77.1L0.0 79.1M37.5 57.9L37.0 57.5M35.6 58.1L34.5 60.2M32.0 52.5L34.6 53.1M32.0 52.5L32.2 55.1M32.2 55.1L33.2 55.3M33.2 55.3L34.7 53.7M34.6 53.1L34.7 53.7M34.9 50.9L34.2 50.1M34.9 52.2L34.6 53.1M34.2 50.1L32.3 50.2M31.8 52.3L32.3 50.2M31.8 52.3L32.0 52.5M37.5 55.3L37.0 57.5M35.6 58.1L34.0 57.1M34.0 57.1L33.2 55.3M38.0 52.3L38.4 53.4M38.2 54.7L37.5 55.3M28.1 55.1L29.5 54.7M28.1 55.1L26.7 54.1M26.7 54.1L26.7 53.9M26.7 53.9L29.1 51.4M29.5 54.7L30.3 52.7M30.3 52.7L29.1 51.4M31.1 55.6L29.5 54.7M31.1 55.6L32.2 55.1M28.6 49.3L31.5 49.4M28.6 49.3L29.1 51.4M32.3 50.2L31.5 49.4M36.1 76.7L37.2 75.6M36.1 76.7L36.5 78.8M39.4 77.2L37.5 79.5M39.4 77.2L38.1 75.8M56.0 52.7L56.7 55.6M59.4 53.8L58.5 55.9M90.3 41.9L89.3 44.8M90.3 41.9L92.7 41.7M92.7 41.7L92.9 41.9M92.9 41.9L92.7 45.2M89.3 44.8L91.9 45.5M91.9 45.5L92.7 45.2M81.1 44.3L79.3 45.3M81.1 44.3L82.0 43.6M82.0 43.6L81.7 41.2M81.7 41.2L81.0 40.9M81.0 40.9L78.1 42.9M90.9 48.9L88.4 47.3M90.9 48.9L90.9 48.8M90.9 48.8L91.9 45.5M89.3 44.8L87.9 45.4M87.9 45.4L88.4 47.3M90.9 48.9L90.9 49.1M88.4 47.3L86.7 49.5M83.1 47.2L82.1 48.0M84.2 46.7L85.8 49.4M82.1 48.0L81.8 50.1M81.8 50.1L83.5 51.0M83.5 51.0L85.3 50.1M85.3 50.1L85.9 49.5M79.4 45.9L82.1 48.0M79.4 45.9L79.2 45.5M79.2 45.5L79.3 45.3M81.1 44.3L83.1 47.2M84.5 46.1L83.0 44.0M83.0 44.0L82.0 43.6M84.5 46.1L87.0 45.2M87.0 45.2L85.8 49.4M84.0 53.2L85.5 54.2M87.0 53.3L85.3 50.1M87.6 53.1L87.0 53.3M86.7 49.5L85.9 49.5M87.2 45.1L87.9 45.4M87.2 45.1L87.0 45.2M78.2 49.6L78.3 50.0M81.8 50.1L80.6 50.7M78.3 50.0L80.6 50.7M78.2 49.6L75.8 48.2M75.8 48.2L75.9 46.3M74.0 51.8L74.9 51.1M74.9 51.1L75.0 48.8M75.0 48.8L72.7 48.5M71.8 50.4L72.7 48.5M77.2 51.3L78.3 50.0M75.8 48.2L75.0 48.8M72.2 47.0L72.6 46.0M72.2 47.0L72.7 48.5M72.6 46.0L75.1 45.7M75.9 46.3L75.1 45.7M70.4 50.9L68.7 48.5M70.4 50.9L71.8 50.4M68.7 48.5L69.2 47.4M85.4 66.1L86.6 66.2M86.6 66.2L87.5 69.3M87.5 69.3L84.5 69.0M83.9 72.1L83.8 71.8M87.5 69.3L87.5 69.3M79.9 58.7L80.0 59.8M83.1 59.4L82.3 57.7M83.1 59.4L82.9 59.9M82.9 59.9L80.0 59.8M70.9 53.9L72.5 54.6M70.9 53.9L70.1 51.6M70.4 50.9L70.1 51.6M74.0 51.8L74.0 52.0M71.7 59.0L73.4 57.4M71.6 59.4L72.5 61.0M73.4 57.4L76.0 61.3M69.4 56.6L71.7 59.0M69.4 56.6L73.3 55.9M73.3 55.9L73.8 56.5M73.8 56.5L73.4 57.4M96.7 61.8L97.9 63.8M96.7 61.8L97.4 60.2M99.3 60.5L97.4 60.2M99.8 63.2L97.9 63.8M91.1 54.9L91.3 57.4M94.4 57.8L94.0 58.1M94.0 58.1L92.8 58.0M82.1 56.4L81.5 55.8M82.1 56.4L85.5 56.1M84.0 53.2L81.4 54.6M85.5 54.2L85.5 56.1M81.5 55.8L81.4 54.6M79.9 58.7L79.1 57.4M82.3 57.7L82.1 56.4M80.4 52.4L80.6 50.7M80.6 54.0L81.4 54.6M81.9 77.9L80.0 78.2M69.2 47.4L68.7 45.8M72.6 46.0L71.7 44.1M68.7 45.8L71.7 44.1M56.0 52.7L55.9 52.7M56.1 56.2L56.7 55.6M56.1 56.2L53.9 55.7M55.9 52.7L54.1 52.7M53.9 55.7L53.6 55.0M54.1 52.7L53.6 55.0M48.7 58.4L50.5 59.0M48.7 58.4L49.7 54.9M49.7 54.9L50.2 55.2M50.2 55.2L52.5 58.1M52.5 58.1L50.5 59.0M53.9 55.7L52.7 58.2M52.7 58.2L52.5 58.1M53.6 55.0L50.2 55.2M61.7 65.6L61.5 65.9M61.7 65.6L59.5 62.4M56.7 64.4L59.4 66.6M56.7 64.4L56.8 63.7M59.5 62.4L56.8 63.7M61.5 65.9L59.4 66.6M57.8 69.2L59.4 66.9M55.8 65.5L56.8 69.0M63.6 70.0L64.0 68.4M64.0 68.4L61.9 67.6M61.9 67.6L61.1 69.5M61.1 70.3L61.1 69.5M60.3 72.3L59.9 71.5M60.3 72.3L63.1 73.6M59.9 71.5L61.1 70.3M64.6 71.2L63.1 73.6M64.6 71.2L63.6 70.0M61.5 65.9L61.9 67.6M59.4 66.9L61.1 69.5M57.8 69.2L59.7 71.4M59.7 71.4L59.9 71.5M-1.9 -1.7L-1.6 -1.4M0.9 -4.6L-1.6 -1.4M67.2 40.6L67.0 42.6M63.2 41.9L64.3 43.5M68.7 48.5L66.8 48.9M66.8 48.9L65.8 45.8M68.7 45.8L67.8 45.1M71.5 42.1L71.7 42.4M71.5 42.1L67.9 43.7M67.8 45.1L67.9 43.7M67.0 42.6L67.9 43.7M64.3 43.5L64.4 45.3M65.8 45.8L65.0 45.6M65.0 45.6L64.4 45.3M49.4 39.7L49.3 37.8M49.3 37.8L47.5 37.3M46.7 40.2L46.5 39.9M47.5 37.3L46.5 39.9M45.7 42.5L43.4 41.4M43.4 41.4L43.1 40.0M43.1 40.0L44.7 38.7M46.5 39.9L44.7 38.7M54.1 26.1L55.4 24.5M55.4 24.5L55.1 24.2M55.1 24.2L51.0 23.6M56.3 24.1L55.4 24.5M56.3 24.1L57.5 24.3M56.1 27.9L54.1 26.1M57.5 24.3L58.1 27.8M48.2 33.0L48.0 32.3M48.2 33.0L47.8 34.3M48.0 32.3L45.7 31.3M47.8 34.3L47.8 34.3M47.8 34.3L46.1 34.9M46.1 34.9L46.1 34.9M46.1 34.9L44.8 34.1M44.8 34.1L44.3 31.7M44.3 31.7L45.7 31.3M51.3 34.3L51.0 31.7M51.3 34.3L51.0 34.9M51.0 31.7L48.2 33.0M51.0 34.9L47.8 34.3M47.3 30.1L48.1 30.3M47.3 30.1L45.7 31.3M49.4 37.6L51.5 36.0M51.5 36.0L51.0 34.9M49.3 37.8L49.4 37.6M47.5 37.3L46.1 34.9M44.7 38.7L44.6 38.5M44.6 38.5L46.1 34.9M46.5 29.2L47.3 30.1M46.5 29.2L44.4 29.5M44.4 29.5L44.3 31.6M44.3 31.6L44.3 31.7M36.4 66.6L35.4 68.8M35.5 69.2L36.8 69.4M36.8 69.4L39.4 68.6M38.2 54.7L40.9 55.3M40.9 52.2L40.9 55.3M41.7 57.9L41.7 57.9M41.7 57.9L41.4 55.5M41.7 57.9L39.9 58.8M41.4 55.5L40.9 55.3M41.0 50.7L43.4 49.6M41.0 50.7L39.4 49.4M43.4 49.6L42.8 47.3M42.8 47.3L39.4 49.4M38.0 50.3L38.5 49.3M41.0 50.7L41.2 52.0M40.9 52.2L41.2 52.0M38.5 49.3L39.4 49.4M37.7 45.6L38.1 47.0M37.7 45.6L36.3 45.1M35.3 45.3L34.3 47.5M34.9 48.4L34.3 47.5M34.9 48.4L38.0 48.2M38.0 48.2L38.1 47.0M34.2 50.1L34.9 48.4M32.4 47.1L34.3 47.5M38.5 49.3L38.0 48.2M43.4 41.4L42.4 42.6M43.1 40.0L40.5 39.6M42.4 42.6L39.9 41.7M36.0 42.8L36.3 45.1M36.0 42.8L37.3 41.5M37.3 41.5L39.3 42.3M37.7 45.6L39.2 43.7M39.2 43.7L39.3 42.3M48.1 44.0L46.2 46.7M50.5 46.3L50.4 46.8M50.4 46.8L48.3 47.7M48.3 47.7L46.4 46.9M46.4 46.9L46.2 46.7M45.0 43.8L45.8 46.5M45.8 46.5L46.2 46.7M51.7 42.9L49.7 42.0M51.6 48.0L50.4 46.8M51.6 48.0L53.7 47.6M53.2 45.3L53.7 47.6M31.7 45.9L32.4 47.1M31.7 45.9L31.9 45.1M35.3 45.3L33.1 44.1M31.9 45.1L33.1 44.1M36.0 42.8L34.2 42.2M44.0 28.7L40.8 29.6M44.0 28.7L44.1 26.7M44.1 26.7L41.2 26.8M41.2 26.8L40.8 29.6M17.0 25.9L16.9 22.8M17.0 25.9L18.8 27.4M18.8 27.4L19.9 26.5M19.9 26.5L18.3 23.1M18.3 23.1L16.9 22.8M8.5 24.4L9.4 25.3M8.5 24.4L10.7 22.3M9.4 25.3L11.0 24.8M11.0 24.8L11.7 23.4M10.7 22.3L11.7 23.4M14.5 25.9L14.3 25.7M14.5 25.9L15.6 28.3M14.3 25.7L12.6 26.6M12.6 26.6L12.0 27.7M15.6 28.3L14.6 30.0M12.0 27.7L11.9 28.7M14.5 23.8L14.3 25.7M14.5 23.8L16.8 22.8M18.6 27.8L18.8 27.4M18.6 27.8L15.6 28.3M13.9 23.4L14.5 23.8M11.0 24.8L12.6 26.6M9.4 26.3L12.0 27.7M14.7 30.4L14.6 30.0M18.0 31.3L18.9 30.0M13.7 33.1L10.6 30.1M10.6 30.1L10.7 29.6M9.4 26.3L8.5 27.5M10.7 29.6L8.3 28.2M8.3 28.2L8.5 27.5M15.3 19.5L13.7 22.3M14.0 18.4L12.1 19.9M13.7 22.3L12.1 19.9M13.9 23.4L13.7 22.3M16.5 20.0L16.8 22.8M16.5 20.0L15.3 19.5M20.6 19.3L20.4 21.2M20.4 21.2L16.9 19.7M25.3 16.3L25.1 19.4M23.4 15.9L21.7 16.9M24.4 20.2L21.6 17.9M21.7 16.9L21.6 17.9M19.9 12.5L20.1 12.2M20.1 12.2L23.3 13.0M23.3 13.0L23.4 15.9M17.9 16.6L17.8 18.7M20.6 19.3L21.6 17.9M14.3 34.7L14.6 34.6M14.3 34.7L13.6 34.0M14.6 34.6L18.3 32.5M6.5 29.1L8.3 28.2M5.8 28.8L5.1 26.3M8.5 27.5L6.1 25.0M5.1 26.3L6.1 25.0M8.5 24.4L6.7 23.6M6.1 25.0L6.7 23.6M15.4 8.6L11.9 7.0M15.4 8.6L14.8 10.7M14.8 10.7L14.2 11.1M14.2 11.1L13.4 10.9M10.9 9.0L13.4 10.9M20.2 21.8L21.9 24.1M20.4 21.3L24.0 21.4M21.9 24.1L22.9 24.0M22.9 24.0L23.9 22.7M24.0 21.4L23.9 22.7M16.5 20.0L16.9 19.7M18.3 23.1L20.2 21.8M20.4 21.2L20.4 21.3M24.3 21.0L24.4 20.2M24.3 21.0L24.0 21.4M21.8 27.4L20.0 26.5M21.8 27.4L24.5 26.4M24.5 26.4L22.9 24.0M21.8 27.4L22.5 30.0M18.9 30.0L21.6 30.6M22.5 30.0L22.0 30.6M21.6 30.6L22.0 30.6M22.5 30.0L23.6 29.9M23.8 34.4L23.1 34.0M22.0 30.6L23.1 34.0M23.6 29.9L25.1 30.9M24.5 26.4L24.7 26.5M25.4 23.9L24.7 26.5M23.6 29.9L25.5 27.0M24.7 26.5L25.5 27.0M1.7 35.6L0.3 37.4M1.0 38.4L3.6 38.8M4.7 37.2L3.6 38.8M14.3 34.7L14.3 37.0M14.3 37.0L12.1 37.9M10.5 36.2L12.1 37.9M1.0 38.4L1.6 42.0M1.6 42.0L3.4 41.9M3.6 38.8L4.6 41.0M4.6 41.0L4.2 41.5M4.2 41.5L3.4 41.9M1.6 42.0L0.8 42.6M3.4 41.9L3.5 44.6M1.6 46.0L3.5 44.6M1.6 46.0L0.2 44.8M0.8 42.6L0.2 44.8M-0.9 39.5L-1.3 41.1M0.8 42.6L-1.3 41.1M-1.3 41.1L-3.8 42.0M-3.9 42.4L-1.7 45.1M-1.2 45.1L-1.7 45.1M10.3 34.1L10.4 30.5M7.8 34.0L7.2 31.5M10.4 30.5L7.2 31.5M10.8 34.3L10.3 34.1M10.6 30.1L10.4 30.5M6.9 31.3L7.2 31.5M4.7 34.2L5.5 34.6M7.8 34.0L7.7 34.1M7.7 34.1L5.5 34.6M4.7 37.2L4.8 37.2M5.5 34.6L4.8 37.2M4.6 41.0L5.3 40.9M5.3 40.9L6.8 37.8M4.8 37.2L6.8 37.8M-1.4 -1.0L-2.8 1.7M-2.8 1.7L-3.5 1.9M66.5 17.4L66.4 18.6M66.4 18.6L68.0 19.8M46.5 29.2L46.8 27.4M44.4 29.5L44.0 28.7M44.1 26.7L44.1 26.7M44.1 26.7L46.2 27.0M46.8 27.4L46.2 27.0M53.4 13.6L56.6 13.8M53.4 13.6L52.7 16.5M52.7 16.5L56.0 17.1M56.6 13.8L56.5 15.9M57.0 12.5L55.6 10.2M57.0 12.5L56.6 13.8M52.8 13.3L53.4 13.6M55.6 10.2L53.8 9.8M52.8 13.3L50.8 13.0M51.7 17.2L51.2 17.2M50.8 13.0L49.9 13.8M49.9 13.8L50.4 16.2M51.2 17.2L50.4 16.2M50.9 17.7L48.9 19.2M50.9 17.7L52.0 21.6M51.0 22.2L52.0 21.6M50.9 23.5L51.0 22.2M50.9 23.5L51.0 23.6M52.5 21.4L55.1 24.2M53.6 19.2L56.0 17.9M53.6 19.2L52.9 21.1M56.1 18.0L56.8 20.1M56.8 20.1L55.8 21.2M51.7 17.2L53.6 19.2M56.0 17.1L56.0 17.9M51.2 17.2L50.9 17.7M56.3 24.1L55.8 21.2M59.4 18.3L59.4 20.9M59.4 18.3L56.1 18.0M59.4 20.9L56.8 20.1M58.2 30.0L59.7 30.5M59.7 30.5L61.7 28.1M58.2 27.8L61.2 27.3M61.7 28.1L61.2 27.3M58.1 30.1L54.6 30.5M57.5 24.3L60.0 23.0M60.0 23.0L61.3 26.7M61.3 26.7L61.2 27.3M63.6 29.6L61.7 28.1M63.6 29.6L66.1 26.1M66.1 26.1L65.2 24.8M61.3 26.7L65.0 24.7M65.0 24.7L65.2 24.8M65.5 -3.7L63.5 -2.4M63.5 -2.4L63.0 -2.3M63.0 -2.3L62.0 -4.6M99.7 0.1L100.8 1.4M99.7 0.1L99.9 -1.2M100.8 1.4L103.6 -1.4M104.2 -2.6L104.0 -1.5M104.0 -1.5L103.6 -1.4M84.8 31.9L83.9 32.7M86.9 32.5L87.6 33.8M83.9 32.7L84.0 34.2M84.0 34.2L87.2 35.4M87.2 35.4L87.6 33.8M93.5 33.8L92.7 32.7M96.4 33.0L96.5 32.4M96.5 32.4L93.7 30.6M93.7 30.6L92.7 32.7M96.5 32.4L97.3 30.8M97.3 30.8L97.2 29.3M94.0 28.9L93.6 29.3M87.7 31.0L90.3 30.6M87.7 31.0L86.9 32.5M87.6 33.8L90.0 33.4M90.0 33.4L90.9 32.4M90.9 32.4L90.3 30.6M87.7 31.0L87.2 28.4M87.9 27.6L88.3 27.5M88.3 27.5L90.6 29.6M93.6 29.3L91.3 29.3M90.9 32.4L92.7 32.7M90.6 29.6L91.3 29.3M84.4 30.4L86.2 28.6M84.4 30.4L82.4 29.2M86.2 28.6L83.7 26.7M83.7 26.7L82.4 26.9M82.3 27.0L82.4 26.9M84.8 31.9L84.4 30.4M87.2 28.4L86.2 28.6M87.9 27.6L86.2 24.8M86.2 24.8L85.6 25.0M85.6 25.0L83.7 26.7M85.6 25.0L82.5 23.2M82.4 26.9L82.4 23.2M82.4 23.2L82.5 23.2M86.0 74.7L87.8 73.5M87.3 71.3L88.0 72.1M90.7 78.5L91.3 77.8M91.3 77.8L91.2 76.7M88.4 78.6L87.8 76.7M87.8 76.7L89.0 75.3M89.0 75.3L89.5 75.2M94.5 77.9L91.3 77.8M86.7 76.3L87.8 76.7M98.7 78.8L99.1 76.8M95.5 76.0L98.7 75.4M95.5 76.0L94.9 76.2M99.1 76.8L98.7 75.4M99.1 76.8L102.0 77.1M95.5 76.0L96.7 72.6M98.7 75.4L98.9 75.0M98.9 75.0L96.7 72.6M80.0 78.2L78.0 76.3M76.1 76.3L76.4 76.2M76.4 76.2L78.0 76.3M82.2 76.0L79.9 74.9M78.0 76.3L79.9 74.9M105.7 53.2L102.7 53.7M102.7 53.7L101.7 51.6M105.0 51.4L103.8 50.0M101.7 51.6L103.8 50.0M109.5 45.0L103.9 49.1M104.0 40.6L100.9 43.6M104.8 44.1L101.1 44.0M100.9 43.6L101.1 44.0M104.0 40.6L104.0 40.6M102.2 40.0L100.1 40.6M99.4 42.1L100.9 43.6M105.6 37.5L104.0 40.6M103.9 49.1L101.6 47.4M101.6 47.4L104.8 44.1M100.6 46.1L101.1 44.0M100.6 46.1L101.5 47.3M101.6 47.4L101.5 47.3M98.2 42.6L97.5 44.2M100.6 46.1L98.6 46.0M97.5 44.2L98.6 46.0M87.2 35.4L87.2 36.3M87.2 36.3L87.3 36.4M87.3 36.4L89.9 36.5M90.0 33.4L91.0 35.6M89.9 36.5L91.0 35.6M93.3 35.3L92.4 35.7M92.4 35.7L91.0 35.6M92.8 41.3L90.6 38.7M93.5 39.1L92.0 38.0M92.0 38.0L90.8 38.3M90.6 38.7L90.8 38.3M96.2 41.2L94.3 42.0M94.3 42.0L92.9 41.9M95.2 38.0L93.5 39.1M92.7 41.7L92.8 41.3M90.4 38.8L90.6 38.7M90.4 38.8L89.8 41.5M92.4 35.7L92.0 38.0M87.7 38.7L87.3 36.4M90.9 48.8L94.5 47.4M93.1 45.4L94.5 47.4M94.3 42.0L95.8 44.4M93.1 45.4L95.8 44.4M95.8 44.4L96.3 44.6M103.6 66.4L103.5 66.4M103.9 62.2L102.7 62.5M103.5 66.4L102.7 62.5M101.1 59.5L99.3 60.5M101.1 59.5L102.2 62.4M99.8 63.2L100.6 63.4M100.6 63.4L102.2 62.4M101.7 69.7L99.9 67.5M99.9 67.5L99.9 67.2M99.9 67.2L101.3 66.2M101.3 66.2L102.8 66.5M96.4 68.4L98.1 70.3M96.4 68.4L97.3 66.0M97.3 66.0L99.9 67.2M98.4 70.3L98.1 70.3M98.4 70.3L99.9 67.5M97.1 65.5L97.9 63.8M97.1 65.5L97.3 66.0M100.6 63.4L101.3 66.2M102.2 62.4L102.7 62.5M101.4 58.5L100.9 57.6M101.4 58.5L103.6 58.6M103.7 58.5L103.9 55.8M100.9 57.6L101.6 55.5M101.1 59.5L101.4 58.5M98.1 57.2L100.9 57.6M98.1 57.2L97.2 57.6M96.7 58.0L97.4 60.2M104.2 59.5L103.6 58.6M107.6 54.9L103.9 55.8M102.7 53.7L102.0 55.2M-3.1 70.8L-2.2 68.8M-1.4 68.3L-2.2 68.8M-1.4 68.3L-0.5 68.7M-3.1 70.8L-0.6 72.1M-0.6 73.7L-0.4 72.4M-0.5 68.7L0.4 68.8M-0.4 72.4L-0.2 72.3M-0.2 72.3L2.0 70.1M0.4 68.8L2.0 70.1M34.0 57.1L31.2 58.0M26.7 54.1L24.6 55.0M26.7 53.9L25.8 51.5M25.8 51.5L22.9 52.8M22.9 52.8L22.6 53.1M22.6 53.1L24.6 55.0M27.2 26.6L28.9 29.8M25.6 27.0L26.3 29.9M28.9 29.8L26.3 29.9M25.1 30.9L25.7 30.7M25.7 30.7L26.3 29.9M28.9 29.8L29.0 29.8M25.7 30.7L27.5 32.8M23.8 34.4L23.9 34.6M27.7 33.8L27.5 32.8M21.6 47.6L21.2 49.1M21.6 47.6L23.9 46.8M21.2 49.1L23.5 50.3M23.5 50.3L24.9 50.0M23.9 46.8L24.9 50.0M28.6 49.3L28.2 49.0M25.8 51.5L25.9 50.4M28.2 49.0L25.9 50.4M22.9 52.8L23.5 50.3M31.9 45.1L30.1 43.7M33.1 43.1L31.6 41.6M30.1 43.7L30.6 42.1M56.2 73.1L56.1 76.0M56.2 73.1L58.0 73.9M56.1 76.0L56.7 76.2M56.7 76.2L57.4 75.8M58.0 73.9L57.4 75.8M58.8 71.9L56.2 72.5M58.8 71.9L58.0 73.9M56.2 72.5L56.2 73.1M59.8 75.2L57.4 75.8M59.8 75.2L60.8 76.2M60.8 76.2L60.3 79.2M57.0 77.1L56.7 76.2M59.8 75.2L60.3 72.3M58.8 71.9L59.7 71.4M45.4 77.5L48.6 75.9M48.6 75.9L48.7 75.9M47.2 73.4L48.3 75.2M47.2 73.4L50.2 72.0M50.2 72.0L50.7 73.0M52.7 76.1L52.3 75.6M55.7 76.0L54.0 72.2M52.3 75.6L52.2 74.8M52.2 74.8L53.4 72.5M53.4 72.5L54.0 72.2M51.4 78.9L52.7 76.1M48.7 75.9L52.3 75.6M54.4 80.1L53.6 76.4M54.8 71.5L54.0 72.2M56.1 76.0L55.7 76.0M48.6 75.9L48.3 75.2M50.7 73.0L52.2 74.8M50.6 70.8L50.2 72.0M54.8 70.9L55.9 69.5M54.8 70.9L51.7 68.6M51.7 68.6L54.7 68.5M55.9 69.5L54.7 68.5M56.8 69.0L55.9 69.5M54.8 71.5L54.8 70.9M55.8 65.5L54.2 66.0M54.2 66.0L54.7 68.5M56.5 63.3L53.2 62.9M56.5 63.3L56.6 63.4M54.2 66.0L52.7 66.2M56.6 63.4L56.8 63.7M53.2 58.7L51.7 62.0M53.2 58.7L52.7 58.2M50.3 61.9L50.5 59.0M50.3 61.9L50.7 62.3M54.3 59.1L54.6 60.7M54.6 60.7L52.5 62.2M51.7 62.0L52.5 62.2M56.5 63.3L54.6 60.7M53.2 62.9L52.5 62.2M41.9 76.0L44.8 76.2M41.9 76.0L41.9 73.5M44.8 76.2L45.2 74.1M41.9 73.5L45.2 74.1M45.4 77.5L44.8 76.2M47.2 73.4L46.6 73.1M45.2 74.1L46.6 73.1M50.6 70.8L50.5 69.9M50.5 69.9L48.1 70.1M46.6 73.1L46.4 71.9M35.5 69.2L35.5 69.3M35.4 68.8L31.7 67.6M31.7 67.6L31.6 67.6M31.6 67.6L31.2 70.6M31.2 70.6L33.2 72.1M35.5 69.3L36.9 72.6M36.9 72.6L36.3 73.8M36.3 73.8L33.4 73.4M33.4 73.4L33.2 72.1M34.8 76.9L33.0 73.8M34.8 76.9L33.0 78.4M33.0 78.4L31.7 74.6M33.0 73.8L31.7 74.6M36.1 76.7L34.8 76.9M37.2 75.6L36.3 73.8M26.7 60.6L27.4 61.8M26.7 60.6L24.4 61.0M27.4 61.8L25.4 63.7M25.4 63.7L24.4 61.0M24.4 61.0L24.4 61.0M36.0 65.3L32.3 65.3M32.3 65.3L31.9 65.7M29.7 67.6L31.6 67.6M29.7 67.6L27.5 69.8M29.5 71.4L31.2 70.6M27.3 65.5L29.7 67.6M27.5 69.8L25.7 66.2M25.8 65.7L25.7 66.2M62.2 56.6L61.8 55.9M62.2 56.6L59.2 58.7M58.6 56.1L59.1 58.7M59.2 58.7L59.1 58.7M59.4 53.8L61.5 53.6M61.5 53.6L61.8 55.9M62.8 56.9L63.0 57.2M62.8 56.9L62.2 56.6M60.2 60.4L59.2 58.7M60.2 60.4L62.0 59.9M63.0 57.2L62.0 59.9M70.9 53.9L68.6 55.9M70.1 51.6L69.0 52.0M69.0 52.0L67.5 53.6M67.5 53.6L68.6 55.9M69.4 56.6L68.5 56.2M72.5 54.6L73.3 55.9M68.6 55.9L68.5 56.2M80.8 68.6L83.5 70.5M84.4 66.8L83.7 66.8M81.8 67.4L83.7 66.8M80.8 68.6L79.5 68.8M79.5 68.8L79.1 68.3M81.8 67.4L80.8 63.7M83.0 60.4L81.2 63.6M85.2 62.0L84.9 63.0M81.8 63.8L81.2 63.6M81.8 63.8L84.5 63.7M80.9 63.6L81.2 63.6M80.8 63.7L80.9 63.6M85.4 66.1L84.5 63.7M77.2 51.3L77.3 52.8M75.6 53.6L77.3 52.8M80.4 52.4L77.4 53.0M77.4 53.0L77.3 52.8M80.6 54.0L78.2 54.6M80.3 63.9L77.4 63.8M76.7 60.8L76.2 61.4M76.7 60.8L79.6 60.4M76.2 61.4L76.3 62.6M76.3 62.6L77.4 63.8M68.1 69.4L69.4 67.8M71.5 71.6L70.7 67.6M69.4 67.8L70.7 67.6M73.4 68.2L70.9 67.5M73.4 68.2L72.9 71.3M72.9 71.3L71.5 71.7M71.5 71.6L71.5 71.7M70.7 67.6L70.9 67.5M96.7 61.8L95.5 61.8M94.0 58.1L93.9 60.1M95.5 61.8L93.9 60.1M88.3 56.4L89.5 57.7M89.5 57.7L85.9 58.3M85.8 56.7L85.7 58.1M85.7 58.1L85.9 58.3M85.5 56.1L85.8 56.7M91.3 57.4L89.8 58.0M83.1 59.4L85.7 58.1M87.5 60.7L85.9 58.3M87.5 60.7L85.2 62.0M74.8 71.9L72.9 71.3M70.9 72.7L71.5 71.7M70.9 72.7L72.7 74.6M74.8 74.5L72.7 74.6M67.9 77.9L70.4 79.2M81.5 34.6L83.4 35.7M81.5 34.6L80.6 36.9M80.6 36.9L81.1 37.7M81.1 37.7L83.7 37.4M83.4 35.7L83.9 37.2M83.9 37.2L83.7 37.4M87.2 36.3L83.9 37.2M83.8 40.4L85.5 42.0M83.8 40.4L84.1 39.2M84.1 39.2L87.5 39.3M86.4 42.2L87.7 40.9M86.4 42.2L85.5 42.0M81.7 41.2L83.8 40.4M80.3 39.4L81.0 40.9M80.3 39.4L81.1 37.7M83.7 37.4L84.1 39.2M87.7 38.7L87.5 39.3M87.2 45.1L86.4 42.2M68.9 38.7L70.5 36.4M67.7 34.9L70.4 35.6M70.5 36.4L70.4 35.6M78.1 39.2L76.8 42.1M76.8 42.1L75.5 42.3M75.3 42.1L75.5 42.3M80.3 39.4L78.1 39.2M78.1 42.9L76.8 42.1M78.5 35.9L78.0 36.2M78.5 35.9L80.6 36.9M78.0 36.2L77.9 39.0M71.7 42.4L75.3 42.1M68.1 69.4L67.5 69.7M67.5 69.7L67.0 70.7M67.0 70.7L69.9 73.4M67.5 69.7L65.2 67.0M64.6 71.2L66.1 71.3M67.0 70.7L66.1 71.3M66.0 76.9L64.0 76.6M66.0 76.9L66.9 74.3M66.9 74.3L66.5 73.9M66.5 73.9L63.5 74.6M64.0 76.6L63.3 75.6M63.1 79.1L64.0 76.6M67.2 78.1L66.0 76.9M67.9 77.9L69.4 75.0M69.4 75.0L69.3 74.4M69.3 74.4L66.9 74.3M66.1 71.3L66.5 73.9M69.3 74.4L69.9 73.4M63.1 73.6L63.5 74.6M60.8 76.2L63.3 75.6M57.0 60.1L59.0 58.7M57.0 60.1L54.8 59.0M59.0 58.7L55.9 57.8M60.2 60.4L59.9 61.9M59.9 61.9L59.5 62.4M56.6 63.4L57.0 60.1M54.3 59.1L54.8 59.0M56.1 56.2L55.9 57.8M47.6 61.0L47.3 59.9M47.6 61.0L46.5 63.0M47.3 59.9L44.9 59.7M44.5 63.2L43.6 62.3M43.6 62.3L43.5 61.2M43.5 61.2L43.6 60.8M47.9 58.7L48.7 58.4M50.3 63.5L50.7 62.3M50.3 63.5L46.5 63.0M47.9 58.7L45.6 56.1M44.8 57.2L44.9 59.7M41.7 57.9L43.6 60.8M40.5 60.8L43.5 61.2M40.4 63.5L43.6 62.3M53.8 9.8L52.5 8.7M50.6 11.9L52.5 8.7M61.6 37.3L58.5 36.2M59.6 39.3L59.4 39.0M59.4 39.0L58.5 36.2M55.8 41.2L56.0 39.3M59.4 39.0L56.0 39.3M54.7 36.2L55.3 36.8M54.7 36.2L52.0 36.3M52.6 39.7L51.9 39.2M49.4 39.7L51.9 39.2M51.5 36.0L52.0 36.3M56.0 39.3L55.3 38.0M55.8 41.2L53.7 42.1M53.3 42.0L52.6 39.7M54.7 36.2L54.8 33.9M54.8 33.9L54.4 33.0M51.0 31.7L51.4 30.9M51.4 30.9L54.2 31.3M54.2 31.3L54.3 31.6M54.3 31.6L54.4 33.0M58.7 35.4L57.2 33.7M58.7 35.4L60.7 34.1M60.7 34.1L60.8 33.4M60.8 33.4L57.8 31.9M57.2 33.7L57.5 32.2M57.8 31.9L57.5 32.2M58.4 36.1L58.7 35.4M62.1 35.3L60.7 34.1M58.1 30.1L57.8 31.9M61.3 32.3L59.7 30.5M54.2 31.3L54.6 30.5M44.6 38.5L42.0 36.8M44.8 34.1L42.8 34.9M42.8 34.9L42.0 36.8M40.5 39.6L40.2 38.8M40.2 38.8L40.3 37.8M42.0 36.8L40.3 37.8M48.7 29.9L48.9 27.3M49.2 27.1L48.9 27.3M48.1 30.3L48.7 29.9M51.4 30.9L51.4 30.9M46.8 27.4L48.9 27.3M52.8 27.1L51.6 27.7M50.9 23.5L49.2 25.4M49.2 25.4L49.2 27.1M49.2 25.4L47.3 24.4M47.3 24.4L46.2 27.0M45.2 50.2L46.4 51.0M45.2 50.2L46.4 46.9M48.1 50.2L46.4 51.0M48.1 50.2L49.7 51.0M41.4 55.5L42.9 54.5M42.4 52.6L42.9 54.5M44.2 50.2L43.6 51.6M42.1 46.2L42.8 47.2M42.1 46.2L42.0 45.2M42.0 45.2L42.8 44.1M44.1 46.8L44.0 44.0M44.1 46.8L42.8 47.2M38.1 47.0L42.1 46.2M39.2 43.7L42.0 45.2M42.4 42.6L42.8 44.1M39.3 42.3L39.9 41.7M45.0 43.8L44.0 44.0M45.8 46.5L44.1 46.8M45.2 50.2L44.2 50.2M38.6 26.2L39.8 25.5M38.6 26.2L38.3 26.5M38.3 26.5L38.3 28.7M39.8 25.5L41.2 26.8M40.8 29.6L40.7 29.9M35.8 26.5L35.1 28.7M35.8 26.5L38.3 26.5M35.1 28.7L36.9 29.8M38.3 28.7L36.9 29.8M31.3 24.5L29.7 23.3M33.7 21.2L33.0 19.7M33.0 19.7L32.6 19.6M18.5 38.1L14.8 37.7M14.8 37.7L14.7 38.6M14.7 38.6L16.8 41.2M17.7 40.7L16.8 41.2M13.4 40.4L15.3 42.1M13.0 43.0L14.6 43.5M14.6 43.5L15.3 42.1M10.6 40.5L10.5 40.3M10.5 40.3L12.1 37.9M16.8 41.3L16.8 41.2M16.8 41.3L15.3 42.1M17.9 48.8L18.2 46.8M17.9 48.8L15.5 48.5M17.1 45.3L18.2 46.8M17.1 45.3L15.8 45.5M15.5 48.5L15.0 47.4M15.0 47.4L15.0 47.2M15.0 47.2L15.8 45.5M16.8 41.3L18.0 44.4M14.6 43.5L14.9 44.5M15.8 45.5L14.9 44.5M15.8 8.1L17.4 7.9M15.8 8.1L15.4 8.6M14.8 10.7L15.7 11.0M15.7 11.0L19.3 10.5M17.4 7.9L18.7 9.0M18.7 9.0L19.3 10.5M15.7 11.0L17.6 13.2M18.1 13.5L17.6 13.2M19.3 10.5L19.5 10.7M15.6 15.9L14.5 13.5M15.6 15.9L13.9 17.6M13.9 17.6L12.2 16.3M12.2 16.3L12.5 14.1M12.5 14.1L14.2 13.1M14.2 13.1L14.5 13.5M17.1 15.9L15.6 15.9M17.6 13.2L14.5 13.5M14.0 18.4L13.9 17.6M14.2 11.1L14.2 13.1M8.3 18.2L10.5 20.7M8.3 18.2L9.6 16.4M9.9 16.6L11.5 20.0M12.1 19.9L11.5 20.0M12.2 16.3L9.9 16.6M10.7 22.3L10.4 21.0M10.4 21.0L10.5 20.7M10.4 21.0L7.9 21.6M8.3 18.2L6.8 18.8M6.8 18.8L7.9 21.6M6.7 23.6L6.6 23.5M7.9 21.6L6.6 23.5M4.5 16.3L4.6 16.2M4.5 16.3L5.2 18.4M9.6 16.4L8.6 14.5M5.2 18.4L6.8 18.8M1.2 32.7L1.0 32.6M3.7 29.6L2.3 28.8M0.5 30.8L1.0 32.6M-1.8 35.8L-0.1 32.9M-0.1 32.9L1.0 32.6M18.5 32.8L18.5 36.0M19.9 33.0L21.1 33.9M21.1 33.9L19.6 36.3M18.9 36.5L18.5 36.0M14.6 34.6L18.5 36.0M18.3 32.5L18.5 32.8M21.6 30.6L19.9 33.0M23.9 34.6L23.9 35.5M22.5 36.8L23.9 35.5M22.5 36.8L19.6 36.3M18.5 38.1L18.9 36.5M27.8 24.1L29.2 23.2M29.1 23.0L26.8 21.4M26.7 23.6L25.9 21.6M25.9 21.6L26.8 21.4M27.3 26.4L27.2 26.6M27.3 26.4L27.8 24.1M31.3 24.5L30.4 26.7M30.4 26.7L27.3 26.4M29.7 23.3L29.2 23.2M29.1 19.4L31.5 19.1M31.5 19.1L32.6 19.6M28.5 19.1L28.4 19.1M28.5 19.1L29.1 19.4M28.4 19.1L26.8 21.4M24.3 21.0L25.9 21.6M28.4 19.1L25.1 19.4M9.9 40.1L8.9 38.2M8.9 38.2L7.6 37.6M7.0 41.4L5.3 40.9M6.8 37.8L7.0 37.8M10.5 40.3L9.9 40.1M10.5 36.2L8.9 38.2M7.7 34.1L7.6 37.6M23.3 13.0L24.5 12.1M24.5 12.1L24.5 11.9M23.8 9.3L24.5 11.9M34.7 16.2L34.5 13.6M34.7 16.2L34.0 17.5M34.0 17.5L32.1 14.8M34.5 13.6L32.1 14.8M34.1 18.7L34.0 17.5M34.1 18.7L36.3 18.4M34.7 16.2L36.7 16.1M34.5 13.6L34.8 13.4M36.7 16.1L37.3 15.0M37.3 15.0L35.4 13.3M35.4 13.3L34.8 13.4M33.0 19.7L34.1 18.7M31.5 19.1L30.9 15.5M32.1 14.8L31.9 14.8M68.0 19.8L68.1 21.0M68.1 21.0L67.1 21.8M63.2 18.4L65.2 19.0M63.2 18.4L63.3 16.5M66.5 17.4L65.8 16.3M63.3 16.5L63.6 16.2M63.6 16.2L65.8 16.3M71.6 1.0L68.7 1.6M71.6 1.0L71.9 0.3M69.0 -2.2L67.1 0.1M69.0 -2.2L71.0 -1.6M71.0 -1.6L71.9 0.3M68.7 1.6L67.1 0.1M63.5 -2.4L66.4 0.2M66.4 0.2L67.0 0.1M68.3 -3.9L69.0 -2.2M67.0 0.1L67.1 0.1M61.5 18.2L61.7 16.3M60.6 15.6L59.9 17.3M59.9 17.3L59.9 17.5M63.2 18.4L62.3 18.9M63.3 16.5L61.7 16.3M62.3 18.9L61.5 18.2M56.6 13.8L60.5 14.8M60.5 14.8L60.6 15.6M56.5 15.9L59.9 17.3M59.4 18.3L59.9 17.5M61.9 20.2L60.1 21.7M62.3 18.9L61.9 20.2M59.4 20.9L60.1 21.7M64.6 21.2L64.4 21.4M60.0 23.0L60.2 22.7M65.2 24.8L66.4 23.3M66.4 23.3L67.1 21.8M49.9 13.8L48.5 13.8M48.5 13.8L46.1 10.6M46.1 10.6L46.2 10.3M50.6 11.9L48.9 10.1M46.2 10.3L48.9 10.1M51.1 7.6L49.5 9.0M51.1 7.6L52.5 8.5M52.5 8.5L52.5 8.7M48.9 10.1L49.5 9.0M48.2 6.2L48.6 8.3M50.9 7.1L49.6 6.3M50.9 7.1L51.1 7.6M105.4 0.7L103.8 2.9M103.8 2.9L104.7 5.2M104.0 -1.5L105.4 0.7M100.8 1.4L101.0 2.6M101.0 2.6L101.2 2.7M101.2 2.7L103.8 2.9M101.2 2.7L101.2 5.7M104.7 5.2L102.3 6.9M102.3 6.9L101.8 6.9M95.5 16.5L96.7 15.4M95.5 16.5L94.2 16.8M93.5 14.1L95.2 13.7M95.2 13.7L96.7 15.4M94.2 16.8L93.1 14.9M97.3 30.8L99.8 31.8M97.2 34.0L99.3 33.7M99.8 31.8L99.3 33.7M97.4 18.4L96.9 19.3M94.2 16.8L93.9 18.5M96.2 20.0L93.9 18.5M92.5 23.8L95.2 24.1M96.1 21.4L92.6 21.4M96.1 21.4L96.2 21.8M85.6 18.1L84.6 19.8M84.6 19.8L85.2 21.2M87.4 18.4L87.2 18.1M87.6 21.3L86.9 22.1M86.2 24.8L87.1 22.7M85.2 21.2L82.8 22.7M82.8 22.7L82.5 23.2M87.1 22.7L86.9 22.1M89.5 26.5L90.4 24.2M94.0 28.9L93.9 27.5M93.9 27.5L92.4 26.5M91.3 29.3L91.3 27.2M95.5 25.4L95.4 24.6M92.5 23.8L91.9 24.2M95.4 24.6L95.2 24.1M90.0 23.9L87.1 22.7M90.0 23.9L90.4 24.2M83.9 32.7L81.7 32.9M80.3 31.1L82.4 29.2M80.3 31.3L81.7 32.9M81.5 34.6L81.4 34.2M81.7 32.9L81.4 34.2M82.8 22.7L81.7 20.1M82.5 18.9L81.7 20.1M96.4 68.4L94.3 69.0M98.1 70.3L96.5 72.2M94.3 69.0L96.5 72.2M98.9 75.0L100.5 73.6M98.4 70.3L98.5 70.4M96.7 72.6L96.4 72.3M96.4 72.3L96.5 72.2M100.5 73.6L98.5 70.4M101.7 69.7L101.9 70.2M98.5 70.4L101.9 70.2M104.1 69.7L102.7 70.9M101.9 70.2L102.7 70.9M80.2 72.0L80.1 73.1M80.2 72.0L78.9 70.3M77.7 73.3L79.7 73.9M77.7 73.3L77.1 71.3M80.1 73.1L79.7 73.9M77.1 71.3L78.9 70.3M83.7 74.0L80.1 73.1M83.8 71.8L80.2 72.0M79.5 68.8L78.9 70.3M76.4 76.2L77.7 73.3M79.9 74.9L79.7 73.9M76.1 71.2L74.8 71.9M74.8 74.5L75.9 76.1M95.1 47.8L95.7 47.1M95.1 47.8L95.4 49.6M95.4 49.6L95.7 49.8M95.7 49.8L98.3 48.7M98.1 46.8L98.3 48.7M94.5 47.4L95.1 47.8M94.5 53.8L96.3 51.5M96.3 51.5L95.7 49.8M101.5 47.3L99.7 49.3M99.7 49.3L98.3 48.7M98.6 53.5L98.9 53.6M100.7 51.5L99.9 50.3M100.7 51.5L99.1 53.6M99.1 53.6L98.9 53.6M96.3 51.5L96.7 51.7M99.7 49.3L99.9 50.3M96.5 54.8L98.6 53.5M98.1 57.2L98.9 53.6M101.7 51.6L100.7 51.5M101.6 55.5L99.1 53.6M-1.4 68.3L-1.8 65.6M-4.5 66.4L-2.0 65.3M-1.8 65.6L0.9 64.8M19.3 50.4L19.8 50.5M16.7 51.6L16.4 52.5M20.7 53.1L20.3 53.6M19.2 54.0L20.3 53.6M17.9 48.8L19.3 50.4M21.6 47.6L21.1 46.9M21.2 49.1L19.8 50.5M21.1 46.9L18.2 46.8M15.0 50.0L16.7 51.6M22.6 53.1L20.7 53.1M17.5 55.2L15.8 55.1M15.8 55.1L15.5 53.7M15.5 53.7L16.4 52.5M25.4 63.7L25.3 65.2M24.8 65.1L25.3 65.2M23.9 59.2L25.0 57.7M25.0 57.7L24.3 55.8M24.3 55.8L20.9 57.1M21.4 58.4L20.7 57.6M20.7 57.6L20.9 57.1M24.4 61.0L23.9 59.2M21.3 61.4L22.5 61.9M21.3 61.4L21.4 58.4M27.7 58.3L27.7 58.4M27.7 58.3L25.0 57.7M27.7 58.4L26.7 60.6M24.6 55.0L24.3 55.8M20.3 53.6L20.9 57.1M19.2 58.0L17.5 55.2M19.2 58.0L20.7 57.6M18.8 38.9L20.2 39.4M22.5 36.8L22.1 38.4M28.8 34.4L30.2 34.4M28.8 34.4L27.3 37.5M30.6 36.9L30.2 34.4M30.6 36.9L28.2 38.4M30.2 34.4L30.2 34.4M28.2 38.4L27.3 37.5M25.7 37.7L23.9 35.5M27.7 33.8L28.8 34.4M31.6 38.2L33.7 36.0M31.6 38.2L30.6 36.9M28.7 39.7L28.2 38.4M31.6 39.5L31.7 39.4M30.2 34.4L31.1 33.0M31.1 33.0L30.6 29.8M34.6 25.0L35.8 26.5M34.6 25.0L33.7 24.8M33.7 24.8L32.4 29.0M35.1 28.7L33.5 29.3M33.7 24.8L33.1 24.2M30.4 26.7L31.3 29.1M32.4 29.0L31.3 29.1M31.3 29.1L30.6 29.8M23.9 46.8L24.1 46.5M24.1 46.5L25.5 46.6M28.2 49.0L28.0 47.6M31.7 45.9L28.5 46.9M30.1 43.7L28.2 44.0M28.2 44.0L28.5 46.9M28.5 46.9L28.0 47.6M39.4 77.2L40.6 80.2M39.4 77.2L41.6 76.6M41.6 76.6L43.0 79.0M39.4 77.2L39.4 77.2M41.9 76.0L41.6 76.6M47.9 66.1L47.1 67.6M47.9 66.1L50.4 65.8M47.1 67.6L50.7 69.6M50.4 65.8L51.5 66.7M51.5 66.7L51.5 68.5M51.5 68.5L50.7 69.6M45.9 64.2L47.9 66.1M45.9 64.2L45.7 63.7M50.3 63.5L50.4 65.8M50.5 69.9L50.7 69.6M48.1 70.1L46.9 67.9M46.9 67.9L47.1 67.6M52.7 66.2L51.5 66.7M45.9 64.2L44.4 67.0M44.7 68.6L44.4 67.0M44.5 63.2L42.5 65.7M44.4 67.0L42.5 65.7M40.5 65.8L41.2 66.0M42.5 65.7L41.2 66.0M29.7 77.9L31.4 74.7M29.9 74.0L31.4 74.7M28.1 74.8L27.5 75.8M30.1 79.3L29.7 77.9M29.5 71.4L29.9 74.0M25.9 71.5L28.1 74.8M27.3 65.5L28.0 64.8M31.9 65.7L30.6 64.6M28.0 64.8L30.6 64.6M28.0 64.8L28.4 62.3M31.7 59.9L30.2 61.2M31.7 59.9L34.0 60.5M34.0 60.5L33.2 62.9M30.2 61.2L30.1 61.7M33.2 62.9L33.1 63.0M33.1 63.0L30.3 62.0M30.1 61.7L30.3 62.0M27.7 58.4L30.2 61.2M36.3 64.1L33.2 62.9M28.4 62.3L30.1 61.7M32.3 65.3L33.1 63.0M25.9 71.5L25.5 71.8M25.5 71.8L21.6 70.2M21.6 70.2L23.8 68.9M25.9 71.5L25.9 71.5M23.8 68.9L23.9 68.6M27.5 75.8L27.3 75.9M26.3 77.6L27.3 75.9M24.0 78.8L24.9 77.8M26.3 77.6L24.9 77.8M69.0 52.0L66.2 50.6M66.8 48.9L66.0 49.6M66.2 50.6L66.0 49.6M65.0 45.6L64.9 48.4M64.9 48.4L65.7 49.5M66.0 49.6L65.7 49.5M57.9 42.5L56.9 44.8M54.8 44.6L55.9 45.4M56.9 44.8L55.9 45.4M64.9 53.3L65.3 53.1M64.9 53.3L62.5 52.6M62.5 52.6L61.8 50.3M65.7 49.5L62.0 50.0M61.8 50.3L62.0 50.0M63.4 45.9L62.8 46.9M63.4 45.9L60.6 44.0M62.8 46.9L62.1 47.6M62.1 47.6L59.6 46.5M60.6 44.0L59.6 46.4M59.6 46.4L59.6 46.5M64.4 45.3L63.4 45.9M64.9 48.4L62.8 46.9M60.4 42.3L60.6 44.0M62.0 50.0L62.1 47.6M56.9 44.8L59.6 46.4M64.5 55.2L64.9 53.8M64.9 53.8L67.7 56.9M66.6 57.6L67.5 57.3M67.5 57.3L67.7 56.9M62.8 56.9L64.5 55.2M65.3 58.4L63.0 57.2M65.3 58.4L66.6 57.6M61.5 53.6L62.5 52.6M64.9 53.3L64.9 53.8M68.5 56.2L67.7 56.9M69.0 60.3L71.6 59.4M69.0 60.3L67.5 57.3M77.6 55.8L75.2 55.9M74.6 56.3L75.2 55.9M75.6 53.6L75.2 55.9M78.2 54.6L77.6 55.8M79.1 57.4L78.6 57.2M76.7 60.8L76.9 59.2M76.2 61.4L76.0 61.3M73.8 56.5L74.6 56.3M71.5 63.7L72.1 64.4M71.5 63.7L72.5 61.0M72.1 64.4L72.2 64.4M76.3 62.6L74.8 63.6M72.2 64.4L74.8 63.6M59.9 61.9L62.9 62.8M62.0 59.9L64.3 60.9M62.9 62.8L64.3 60.9M61.7 65.6L63.3 65.1M62.9 62.8L63.3 65.1M65.2 67.0L65.2 66.1M65.2 66.1L63.6 65.2M63.3 65.1L63.6 65.2M65.3 58.4L64.9 60.8M64.3 60.9L64.9 60.8M69.0 60.3L68.4 61.4M64.9 60.8L65.4 61.2M68.4 61.4L65.4 61.2M73.9 76.6L72.1 76.0M72.1 76.0L71.3 76.5M75.9 76.1L73.9 76.6M69.4 75.0L71.3 76.5M67.7 34.9L68.4 32.5M70.4 35.6L71.4 34.3M68.4 32.5L70.3 31.9M70.3 31.9L71.4 32.9M71.4 32.9L71.4 34.3M70.9 40.6L71.6 39.8M74.5 38.2L71.6 39.8M70.5 36.4L71.6 37.0M71.6 39.8L71.6 37.0M66.9 30.2L68.2 32.4M66.9 30.2L63.8 30.5M68.2 32.4L64.8 32.4M64.8 32.4L63.8 30.7M65.0 34.2L64.8 32.4M68.4 32.5L68.2 32.4M61.3 32.3L63.8 30.7M70.3 31.9L70.4 30.5M74.1 31.7L73.9 32.2M74.1 31.7L73.8 29.4M71.4 32.9L73.9 32.2M74.4 28.8L77.5 29.6M74.4 28.8L74.0 28.9M77.5 29.6L76.5 31.6M74.1 31.7L76.5 31.6M73.8 29.4L74.0 28.9M-1.2 -1.0L-1.4 -1.0M-1.2 -1.0L3.2 -2.7M3.2 -2.7L3.2 -3.6M32.1 -0.7L34.9 1.3M32.1 -0.7L30.7 0.7M34.4 2.0L34.9 1.3M34.4 2.0L31.7 2.7M30.7 0.7L31.7 2.7M44.7 2.2L45.4 3.0M45.4 3.0L42.5 5.7M42.5 5.7L41.2 4.1M41.2 4.1L41.8 2.3M44.5 0.4L44.7 2.2M44.5 0.4L40.8 0.3M41.8 2.3L40.8 0.3M37.5 -2.7L37.1 0.6M37.5 -2.7L37.8 -3.1M37.1 0.6L37.9 1.1M37.8 -3.1L41.0 -1.5M41.0 -1.5L40.6 0.1M37.9 1.1L40.6 0.1M47.8 2.4L46.6 3.3M47.8 2.4L48.4 0.9M44.5 0.4L44.5 0.2M46.6 3.3L45.4 3.0M48.4 0.9L46.8 -0.1M44.5 0.2L46.8 -0.1M59.1 11.0L59.7 9.3M59.1 11.0L57.0 12.5M59.7 9.3L58.1 7.5M58.1 7.5L56.7 8.0M50.3 3.7L49.6 6.3M50.3 3.7L52.4 3.1M50.9 7.1L52.8 4.0M52.4 3.1L52.8 3.4M52.8 4.0L52.8 3.4M52.5 8.5L54.5 6.6M52.8 4.0L54.5 6.6M56.7 8.0L54.6 6.6M34.8 40.0L34.4 39.4M34.8 40.0L36.7 40.6M34.4 39.4L35.3 37.2M36.7 40.6L37.6 39.2M36.5 37.5L35.3 37.2M34.2 42.2L34.8 40.0M31.6 39.5L31.6 41.6M31.7 39.4L34.4 39.4M37.3 41.5L36.7 40.6M35.2 37.0L35.3 37.2M35.2 37.0L33.8 36.0M33.8 36.0L33.7 36.0M40.2 38.8L37.6 39.2M40.3 37.8L39.2 36.5M39.2 36.5L36.5 37.5M36.7 34.9L38.9 35.0M36.7 34.9L35.2 37.0M38.9 35.0L39.2 36.5M46.4 52.2L49.7 53.7M46.4 52.2L45.4 54.1M49.7 54.8L49.8 54.0M49.7 54.8L45.6 55.5M45.6 55.5L45.2 54.8M49.8 54.0L49.7 53.7M46.4 51.0L46.4 52.2M49.7 51.0L49.7 53.7M43.6 51.6L45.4 54.1M54.1 52.7L53.7 52.3M49.7 54.9L49.7 54.8M45.6 56.1L45.6 55.5M51.5 50.0L53.3 51.4M53.3 51.4L53.7 52.3M39.1 32.3L40.7 30.0M40.9 33.8L39.6 33.6M40.9 33.8L42.6 31.4M38.9 35.0L39.6 33.6M42.8 34.9L40.9 33.8M44.3 31.6L42.6 31.4M37.9 31.9L37.0 30.5M37.9 31.9L35.8 33.4M37.0 30.5L34.3 32.1M35.8 33.4L34.4 33.0M34.3 32.1L34.2 32.7M34.4 33.0L34.2 32.7M36.9 29.8L37.0 30.5M39.1 32.3L37.9 31.9M33.5 29.3L34.3 32.1M33.8 36.0L34.4 33.0M31.1 33.0L34.2 32.7M15.0 47.2L11.8 46.2M14.9 44.5L11.8 45.5M11.8 46.2L11.8 45.5M13.0 43.0L11.3 44.6M11.8 45.5L11.3 44.6M10.6 40.5L9.9 43.8M11.3 44.6L9.9 43.8M7.0 41.4L7.7 44.8M9.9 43.8L7.7 44.8M23.8 9.3L23.9 7.9M24.5 11.9L26.7 11.2M26.8 10.9L25.4 8.3M26.8 10.9L26.7 11.2M25.4 8.3L23.9 7.9M29.2 9.1L28.7 8.2M25.4 8.3L28.7 8.2M4.9 19.0L4.8 22.0M2.9 22.1L4.8 22.0M6.6 23.5L5.9 23.1M5.9 23.1L4.8 22.0M10.9 9.0L10.5 9.1M10.0 13.1L9.3 13.0M9.3 13.0L10.5 9.1M2.7 12.0L1.2 11.5M1.2 11.5L0.7 9.0M0.7 9.0L4.3 8.0M2.9 11.9L4.8 8.3M0.7 9.0L0.4 8.8M0.4 8.8L0.4 5.1M0.4 5.1L3.4 5.4M4.3 8.0L3.4 5.4M6.9 4.1L6.1 2.2M6.9 4.1L6.6 4.3M6.1 2.2L3.7 2.9M6.6 4.3L3.5 5.3M4.5 16.3L3.4 16.1M1.3 19.7L0.7 19.1M1.3 19.7L2.0 19.9M3.4 16.1L1.2 17.2M0.7 19.1L1.2 17.2M5.9 23.1L2.2 24.7M2.9 22.1L1.5 23.8M1.5 23.8L2.2 24.7M2.3 28.8L1.7 27.3M2.5 26.0L1.7 27.3M-0.1 32.9L-2.2 32.4M-2.2 32.4L-3.8 34.0M39.4 22.9L38.9 21.5M39.4 22.9L36.5 23.7M37.6 20.9L36.1 21.8M36.4 23.7L36.5 23.7M40.1 23.8L39.4 22.9M33.7 21.2L36.1 21.8M36.3 18.4L36.9 18.8M34.6 25.0L36.4 23.7M47.3 24.4L46.6 23.4M49.7 21.7L47.0 22.4M46.6 23.4L47.0 22.4M26.7 11.2L28.3 13.1M30.5 11.1L28.3 13.1M30.5 11.1L30.6 10.8M29.5 9.3L30.6 10.8M30.7 15.5L28.1 13.7M30.7 15.5L28.0 17.4M28.0 17.4L26.4 15.9M26.4 15.9L26.9 14.6M26.9 14.6L28.1 13.7M30.9 15.5L30.7 15.5M31.9 14.8L30.5 11.1M28.3 13.1L28.1 13.7M28.5 19.1L28.0 17.4M25.3 16.3L26.4 15.9M24.5 12.1L26.9 14.6M-2.5 9.8L-1.6 9.0M-1.6 9.0L-2.8 6.2M-3.3 6.2L-2.8 6.2M0.4 8.8L-1.6 9.0M0.4 5.1L-0.2 4.5M-0.2 4.5L-2.8 6.2M-0.3 4.1L-0.2 4.5M63.2 11.0L64.4 12.0M63.2 11.0L61.1 12.4M64.2 13.4L63.3 14.3M61.1 12.4L61.2 14.1M59.1 11.0L61.1 12.4M59.7 9.3L62.1 8.7M62.1 8.7L62.6 9.1M62.6 9.1L63.2 11.0M65.8 16.3L66.2 14.8M66.2 14.8L64.2 13.4M60.5 14.8L61.2 14.1M69.2 14.4L69.2 13.6M66.2 14.8L68.8 13.6M69.2 13.6L68.8 13.6M62.8 0.9L62.1 3.0M62.8 0.9L62.0 -0.4M62.0 -0.4L59.3 0.4M62.1 3.0L59.2 2.4M59.2 2.4L59.3 0.4M62.6 4.5L65.2 2.1M62.6 4.5L62.1 3.0M65.1 1.5L62.8 0.9M63.0 -2.3L62.4 -1.6M62.4 -1.6L62.0 -0.4M65.1 1.5L66.4 0.2M55.5 2.7L55.4 2.7M55.5 2.7L56.4 0.0M55.4 2.7L54.1 0.8M56.4 0.0L54.2 -1.1M75.3 9.2L75.8 9.1M75.8 9.1L77.3 10.2M77.3 10.2L77.3 11.8M77.3 11.8L76.3 11.9M76.3 11.9L73.5 10.7M72.3 17.1L72.6 15.1M72.6 15.1L75.8 17.6M74.4 18.8L75.8 17.6M71.3 17.5L72.3 17.1M70.1 18.6L72.8 21.2M72.8 21.2L74.1 20.8M77.4 13.6L78.3 16.2M75.1 14.6L75.8 17.6M76.7 17.5L75.8 17.6M71.0 -1.6L72.0 -3.1M74.0 4.3L74.1 5.4M74.1 5.4L73.1 6.8M72.3 3.3L70.8 4.2M70.8 4.2L70.5 6.2M73.1 6.8L72.6 7.1M75.3 9.2L73.1 6.8M68.7 1.6L68.3 3.6M68.3 3.6L70.8 4.2M72.0 8.6L68.2 8.1M72.0 8.6L72.6 7.1M68.2 8.1L68.2 7.2M68.2 7.2L70.5 6.2M65.5 2.8L68.2 3.7M65.5 2.8L65.1 5.5M67.4 6.1L65.5 5.8M65.5 5.8L65.1 5.5M68.3 3.6L68.2 3.7M62.5 5.1L62.6 4.5M68.2 7.2L67.4 6.1M62.5 5.1L62.1 5.6M62.1 5.6L62.1 8.7M64.4 8.5L62.6 9.1M43.1 7.5L42.9 6.9M43.1 7.5L46.1 9.7M42.9 6.9L47.0 5.6M47.3 6.0L47.0 5.6M46.6 3.3L47.0 5.6M46.2 10.3L46.1 9.7M48.6 8.3L46.4 9.0M47.8 2.4L50.3 3.7M38.9 7.3L38.9 7.3M38.9 7.3L42.5 6.3M38.9 7.3L39.7 9.0M43.1 7.5L41.5 10.0M39.7 9.0L41.5 10.0M101.2 5.7L97.9 4.9M97.9 4.9L98.4 3.6M99.7 0.1L98.0 0.5M98.0 0.5L98.2 3.3M98.4 3.6L98.2 3.3M102.3 6.9L104.0 9.3M96.6 2.3L95.2 4.2M97.9 4.9L97.2 5.9M95.2 4.2L97.1 5.9M97.1 5.9L97.2 5.9M101.8 6.9L101.2 7.5M97.5 6.7L97.2 5.9M97.5 6.7L98.1 7.1M98.1 7.1L101.2 7.5M97.5 6.7L95.9 10.4M95.9 10.4L96.8 11.2M98.1 7.1L99.0 10.1M96.8 11.2L99.0 10.1M100.8 9.5L99.7 10.2M99.7 10.2L99.0 10.1M89.8 18.6L90.4 17.4M89.8 18.6L89.7 20.1M90.4 17.4L93.1 18.8M89.7 20.1L90.8 20.7M90.8 20.7L92.2 20.7M92.2 20.7L93.1 18.8M87.9 16.6L90.3 17.0M90.3 17.0L90.4 17.4M90.8 15.7L90.3 17.0M93.9 18.5L93.1 18.8M92.6 21.4L92.2 20.7M96.2 20.0L96.1 21.4M98.6 37.6L100.2 36.6M99.3 33.7L100.0 34.2M100.0 34.2L100.2 36.6M102.2 40.0L101.6 36.9M101.6 36.9L100.2 36.6M102.3 24.6L101.7 25.5M102.3 24.6L101.9 21.5M101.7 25.5L101.5 25.6M101.9 21.5L100.9 20.9M100.9 20.9L99.7 22.1M101.5 25.6L99.7 22.1M96.2 21.8L98.9 22.6M95.4 24.6L98.7 24.5M98.7 24.5L98.9 22.6M96.9 19.3L100.9 20.8M100.9 20.8L100.9 20.9M78.9 32.7L78.9 34.7M78.9 32.7L77.0 32.6M76.6 33.5L77.0 32.6M76.6 33.5L78.6 35.1M80.3 31.1L78.1 29.4M77.5 29.6L78.1 29.4M76.5 31.6L77.0 32.6M78.5 35.9L78.6 35.1M80.2 20.9L78.8 19.8M80.2 20.9L80.2 22.9M79.2 23.6L77.0 21.4M79.2 23.6L80.2 22.9M78.4 19.8L78.8 19.8M82.3 18.6L79.3 19.1M81.7 20.1L80.2 20.9M79.3 19.1L78.8 19.8M82.4 23.2L80.2 22.9M76.7 17.5L78.4 19.8M79.9 16.5L79.3 19.1M79.9 16.5L78.3 16.2M79.4 26.4L78.5 27.2M79.4 26.4L79.0 24.2M78.5 27.2L76.1 26.4M79.0 24.2L75.4 24.4M75.4 24.4L76.1 26.4M82.3 27.0L79.4 26.4M79.2 23.6L79.0 24.2M74.4 28.8L75.6 26.9M75.1 21.6L75.4 24.3M75.4 24.3L75.4 24.4M66.4 23.3L68.5 23.8M68.5 23.8L68.2 21.1M95.5 25.4L97.9 27.5M97.2 29.3L97.7 28.6M97.9 27.5L97.7 28.6M98.7 24.5L99.5 26.1M101.5 25.6L100.9 26.1M99.5 26.1L100.9 26.1M100.3 31.4L102.0 31.0M102.0 31.0L102.4 29.5M99.0 29.1L102.0 29.0M102.4 29.5L102.0 29.0M99.8 31.8L100.3 31.4M102.5 32.0L102.0 31.0M100.0 34.2L102.7 33.5M105.9 31.3L102.5 32.0M104.7 28.6L102.4 29.5M100.9 26.1L102.0 29.0M94.3 69.0L93.6 69.0M93.6 69.0L92.5 71.2M96.4 72.3L94.7 72.9M92.5 71.2L94.7 72.9M94.9 76.2L94.1 75.0M94.7 72.9L94.1 75.0M91.2 76.7L92.5 74.8M94.1 75.0L92.5 74.8M97.1 65.5L94.9 65.2M95.5 61.8L93.7 63.6M93.7 63.6L94.9 65.2M93.6 69.0L93.4 68.6M93.4 68.6L93.6 66.9M94.9 65.2L93.6 66.9M102.7 72.1L100.9 73.5M102.7 72.1L104.7 73.4M100.9 73.5L103.2 76.6M104.9 74.8L103.2 76.6M103.2 76.6L103.2 76.6M100.5 73.6L100.9 73.5M102.0 77.1L103.2 76.6M104.6 78.6L103.2 76.6M2.0 70.1L2.6 70.3M2.0 66.5L3.3 66.7M2.6 70.3L3.8 67.0M3.3 66.7L3.8 67.0M4.8 79.3L6.5 77.2M6.5 77.2L8.0 79.3M2.5 76.1L6.2 75.2M6.8 76.3L6.2 75.2M6.8 76.3L6.5 77.2M-0.5 77.1L0.8 74.8M2.5 76.1L2.0 75.4M-0.6 73.7L0.5 74.3M15.5 53.7L12.9 52.5M15.0 50.0L14.4 50.3M14.4 50.3L12.9 52.5M15.0 47.4L11.8 48.7M14.4 50.3L11.8 48.7M11.1 47.6L11.8 46.2M11.1 47.6L11.3 48.7M11.3 48.7L11.8 48.7M18.6 58.5L15.1 56.2M18.7 61.9L15.8 64.6M18.7 61.9L17.6 60.4M17.6 60.4L16.9 60.4M16.9 60.4L14.4 63.2M14.4 63.2L15.1 64.5M21.3 61.4L19.3 62.2M18.6 58.5L17.6 60.4M-2.0 65.3L-2.6 64.2M0.9 64.8L1.0 64.4M1.0 64.4L-1.0 62.4M-1.0 62.4L-2.6 64.2M8.3 46.3L8.1 49.3M11.3 48.7L10.2 50.3M8.1 49.3L10.2 50.3M11.9 54.2L11.9 52.7M11.9 54.2L10.9 55.9M11.9 52.7L10.4 51.9M10.5 55.9L9.1 54.4M9.1 54.4L8.7 52.9M8.7 52.9L10.4 51.9M11.9 52.7L12.9 52.5M10.2 50.3L10.4 51.9M8.3 46.3L7.6 45.3M5.9 49.7L8.1 49.3M5.9 49.7L5.4 48.9M7.7 44.8L7.5 45.0M7.5 45.0L7.6 45.3M4.2 41.5L6.0 44.8M7.5 45.0L6.0 44.8M3.5 44.6L5.8 44.9M6.0 44.8L5.8 44.9M1.0 64.4L2.4 62.7M2.4 62.7L-0.3 60.6M-1.0 62.4L-0.4 60.7M-0.3 60.6L-0.4 60.7M-0.4 60.7L-4.1 61.2M9.1 58.3L8.8 59.9M9.1 58.3L8.6 56.8M8.8 59.9L5.7 59.1M8.6 56.8L8.4 56.7M8.4 56.7L6.0 56.0M5.7 56.2L5.3 58.5M5.3 58.5L5.7 59.1M11.6 57.4L9.1 58.3M11.6 57.4L10.9 55.9M10.5 55.9L8.6 56.8M6.9 53.2L8.7 52.9M6.9 53.2L6.0 56.0M21.1 46.9L20.5 44.4M24.1 46.5L23.8 44.1M17.7 40.7L20.2 43.0M20.2 39.4L21.3 41.7M21.3 41.7L20.2 43.0M18.0 44.4L20.0 43.8M20.2 43.0L20.0 43.8M24.8 40.1L24.3 40.4M24.8 40.1L28.0 41.1M23.7 41.6L24.2 43.0M24.2 43.0L26.7 43.4M28.0 41.1L28.0 41.5M28.0 41.5L27.6 43.3M25.7 37.7L24.8 40.1M22.1 38.4L24.3 40.4M28.7 39.7L28.0 41.1M23.8 44.1L24.2 43.0M30.6 42.1L28.0 41.5M28.2 44.0L27.6 43.3M38.1 75.8L40.6 73.1M36.9 72.6L39.5 71.8M36.8 69.4L39.5 71.5M44.1 69.9L43.5 70.3M44.1 69.9L44.2 69.4M44.2 69.4L41.9 67.8M43.5 70.3L40.2 69.9M41.9 67.8L40.1 69.7M40.1 69.7L40.2 69.9M46.4 71.9L44.1 69.9M41.8 73.4L43.5 70.3M44.7 68.6L44.2 69.4M39.5 71.5L40.2 69.9M39.4 68.6L40.1 69.7M19.3 62.4L18.7 65.9M20.2 66.8L21.0 66.5M20.2 66.8L19.4 66.7M21.4 64.4L21.6 65.8M19.4 66.7L18.7 65.9M19.3 62.2L19.3 62.4M22.6 62.8L21.4 64.4M17.0 65.6L18.7 65.9M17.0 65.6L15.8 64.6M21.3 70.3L20.2 66.8M23.9 68.6L21.0 66.5M21.2 70.5L19.8 71.0M24.8 65.1L21.6 65.8M25.3 75.1L24.2 76.3M25.3 75.1L24.3 72.9M22.8 73.3L24.3 72.9M22.8 73.3L21.6 74.8M24.2 76.3L22.2 75.8M21.6 74.8L22.2 75.8M27.3 75.9L25.3 75.1M25.5 71.8L24.3 72.9M21.2 70.5L22.8 73.3M58.5 48.1L55.5 47.7M55.9 49.3L55.3 48.3M55.9 49.3L58.6 50.8M58.6 50.8L59.1 50.2M55.3 48.3L55.3 47.9M55.3 47.9L55.5 47.7M61.8 50.3L59.1 50.2M59.6 46.5L58.5 48.1M55.9 52.7L55.9 49.3M57.9 52.2L58.6 50.8M74.9 66.4L74.2 66.6M74.9 66.4L76.9 66.6M73.4 68.2L74.2 66.6M77.1 66.9L76.9 66.6M72.2 64.4L74.2 66.6M74.8 63.6L74.9 66.4M77.4 63.8L76.9 66.6M76.1 71.2L75.5 68.9M79.1 68.3L77.1 66.9M73.4 68.2L73.4 68.2M72.1 64.4L71.0 67.2M71.0 67.2L70.9 67.5M69.3 64.8L71.4 63.7M71.4 63.7L68.5 61.5M69.4 67.8L67.6 65.3M71.0 67.2L69.3 64.8M68.4 61.4L68.5 61.5M75.5 34.3L74.9 34.2M75.5 34.3L76.8 36.1M74.9 34.2L73.6 35.6M76.8 36.1L74.5 37.9M73.6 35.6L73.7 36.8M73.9 32.2L74.9 34.2M76.6 33.5L75.5 34.3M78.0 36.2L76.8 36.1M71.4 34.3L73.6 35.6M74.5 38.2L74.5 37.9M71.6 37.0L73.7 36.8M74.0 28.9L72.1 26.7M72.1 26.7L72.8 25.7M75.4 24.3L72.8 25.5M72.8 21.2L71.6 22.4M72.8 25.5L71.6 22.4M68.2 21.1L71.0 22.5M71.6 22.4L71.0 22.5M68.5 23.8L69.3 25.0M71.0 22.5L69.3 25.0M67.6 29.4L70.0 29.7M67.6 29.4L67.1 26.4M67.1 26.4L69.1 26.0M66.9 30.2L67.6 29.4M66.1 26.1L67.1 26.4M72.1 26.7L70.5 26.9M69.3 25.0L69.1 26.0M11.9 5.6L10.5 3.6M11.9 5.6L8.4 6.4M10.5 3.6L7.9 4.6M8.4 6.4L7.9 4.6M11.9 5.6L11.9 5.6M10.5 9.1L7.8 8.3M7.8 8.3L8.4 6.4M11.9 5.6L12.4 5.4M10.5 3.6L10.5 3.3M12.4 5.4L12.8 1.2M6.9 4.1L9.3 1.7M6.9 4.1L7.9 4.6M10.5 3.3L9.3 1.7M6.9 4.1L6.9 4.1M6.2 1.7L6.1 2.2M6.2 1.7L9.1 1.3M32.3 -1.5L34.2 -2.5M34.4 -2.8L34.2 -2.5M32.1 -0.7L32.3 -1.5M34.9 1.3L35.7 0.7M35.7 0.7L34.2 -2.5M37.5 -2.7L34.4 -2.8M37.1 0.6L35.7 0.7M28.5 -2.0L29.2 -3.2M28.5 -2.0L25.5 -3.3M30.7 0.7L29.1 0.1M28.3 -0.8L29.1 0.1M28.3 -0.8L28.5 -2.0M24.0 -2.0L22.2 -3.8M24.0 -2.0L25.5 -3.3M38.3 3.4L39.1 4.1M35.3 5.5L38.9 5.5M38.9 5.5L39.1 4.1M41.2 4.1L39.1 4.1M40.6 0.1L40.8 0.3M34.4 2.0L35.4 5.1M58.7 3.2L56.4 3.6M58.7 3.2L59.8 5.3M58.2 7.1L56.3 4.4M55.5 2.7L56.4 3.6M59.2 2.4L58.7 3.2M59.3 0.4L57.9 -0.7M56.4 0.0L57.9 -0.7M62.1 5.6L59.8 5.3M58.1 7.5L58.2 7.1M54.6 6.6L56.3 4.4M51.8 1.4L51.9 1.2M51.8 1.4L48.7 0.6M51.9 1.2L52.4 -0.8M48.7 0.6L49.1 -1.1M49.1 -1.1L51.4 -1.7M51.4 -1.7L52.4 -0.8M52.4 3.1L51.8 1.4M54.1 0.8L51.9 1.2M48.4 0.9L48.7 0.6M54.2 -1.1L54.1 -1.2M54.1 -1.2L52.4 -0.8M54.5 -3.1L54.1 -1.2M18.7 9.0L20.6 7.1M19.5 10.7L22.5 7.8M23.9 7.9L23.8 7.7M22.5 7.8L23.8 7.7M-1.2 -1.0L0.1 -0.1M-0.3 4.1L0.7 2.8M0.1 -0.1L0.7 2.8M3.6 -1.6L4.6 -0.6M3.6 -1.6L1.7 0.0M4.6 -0.6L2.9 2.1M1.7 0.0L2.5 2.0M2.9 2.1L2.5 2.0M7.7 -1.9L7.1 -3.5M7.7 -1.9L5.5 -0.4M3.2 -2.7L3.6 -1.6M5.5 -0.4L4.6 -0.6M0.1 -0.1L1.7 0.0M6.2 1.7L5.5 -0.4M3.7 2.9L2.9 2.1M0.7 2.8L2.5 2.0M3.4 5.4L3.5 5.3M-2.6 11.1L-2.5 11.4M-2.5 11.4L-4.6 13.7M1.2 11.5L-0.4 12.9M-2.5 9.8L-2.6 11.1M-4.3 15.1L-0.5 13.7M-3.9 16.0L-0.7 16.1M-0.4 15.9L-0.3 14.1M-3.6 19.3L-3.0 18.5M-3.0 18.5L-3.9 16.0M-3.0 18.5L-1.9 18.6M-1.9 18.6L-0.7 16.1M-1.9 18.6L-0.7 19.2M-0.7 19.2L0.7 19.1M1.2 17.2L-0.4 15.9M3.4 16.1L2.3 14.8M2.3 14.8L-0.3 14.1M2.7 12.0L2.3 14.8M4.6 16.2L4.7 13.0M9.3 13.0L8.9 13.2M8.7 13.7L8.9 13.2M2.9 11.9L4.6 12.7M4.7 13.0L4.6 12.7M1.3 19.7L0.4 22.2M-0.7 19.2L-1.3 21.4M0.4 22.2L-1.3 21.4M0.4 22.2L1.0 23.6M40.1 23.8L42.4 23.1M40.0 20.2L42.6 20.4M42.4 23.1L42.6 20.4M44.2 24.3L43.5 23.7M42.4 23.1L43.5 23.7M38.9 7.3L38.7 7.3M35.3 5.5L35.2 5.7M38.7 7.3L35.2 5.7M37.1 11.0L36.8 10.5M37.1 11.0L37.5 11.1M36.8 10.5L36.8 8.9M39.7 9.0L37.5 11.1M38.7 7.3L36.8 8.9M69.5 13.5L70.5 11.6M69.5 13.5L72.6 15.0M70.5 11.6L72.4 10.7M72.4 10.7L73.0 10.9M73.0 10.9L73.9 13.3M74.0 14.1L73.9 13.3M69.2 13.6L69.5 13.5M72.6 15.1L72.6 15.0M68.2 8.4L68.2 8.1M72.0 8.6L72.4 10.7M75.1 14.6L74.0 14.1M73.5 10.7L73.0 10.9M76.3 11.9L73.9 13.3M64.5 11.9L66.1 9.2M64.5 11.9L67.0 12.0M67.0 12.0L67.5 9.0M66.1 9.2L67.5 9.0M64.4 8.5L66.1 9.2M64.4 12.0L64.5 11.9M68.8 13.6L67.0 12.0M55.6 -3.0L57.9 -1.0M57.9 -1.0L58.9 -3.3M62.4 -1.6L58.9 -3.3M77.3 11.8L77.8 12.7M77.4 13.6L77.8 12.8M77.8 12.8L77.8 12.7M74.2 -1.8L74.0 -0.2M74.0 -0.2L74.5 0.1M74.5 0.1L77.4 -1.1M74.6 -2.5L76.7 -2.6M76.7 -2.6L77.4 -1.1M72.0 -3.1L74.2 -1.8M74.1 -3.8L74.6 -2.5M71.9 0.3L74.0 -0.2M75.9 2.8L74.5 0.1M75.9 2.8L74.0 4.3M75.9 2.8L77.4 2.7M78.6 -0.4L77.4 2.7M78.6 -0.4L77.4 -1.1M77.1 -5.1L76.7 -2.6M36.9 18.8L39.4 17.8M39.4 17.8L39.1 15.6M40.0 20.2L39.8 18.1M39.4 17.8L39.8 18.1M46.1 10.6L44.7 11.7M41.5 10.0L41.5 10.0M41.5 10.0L44.7 11.7M100.8 9.5L103.1 10.8M103.1 10.8L103.3 10.7M95.4 10.2L93.7 10.8M94.3 7.9L92.2 9.6M94.3 7.2L97.1 5.9M95.9 10.4L95.4 10.2M93.5 14.1L92.9 12.8M95.2 13.7L96.9 11.8M96.8 11.2L96.9 11.8M92.2 9.6L92.1 9.6M92.1 9.6L90.5 12.0M90.8 15.7L89.1 13.5M89.1 13.5L90.2 12.1M90.2 12.1L90.5 12.0M102.0 36.7L102.7 33.5M102.0 36.7L105.5 37.0M101.6 36.9L102.0 36.7M102.7 33.5L102.7 33.5M99.1 14.1L100.7 13.0M98.8 15.6L99.2 16.6M100.7 13.0L102.1 13.0M99.2 16.6L99.9 17.0M99.9 17.0L102.8 16.1M96.9 11.8L99.1 14.1M96.7 15.4L98.8 15.6M97.4 18.4L99.2 16.6M100.9 20.8L101.0 19.9M101.0 19.9L99.9 17.0M101.0 19.9L103.5 18.5M103.8 16.9L102.8 16.1M118.5 15.2L103.8 16.9M108.0 13.2L103.0 14.1M103.5 18.5L106.0 21.1M102.3 24.6L104.2 24.0M103.6 26.4L105.1 25.1M90.9 71.0L92.1 71.4M92.1 71.4L91.5 73.7M90.6 73.9L91.5 73.7M89.6 68.7L90.4 67.6M89.6 68.7L90.9 71.0M92.5 71.2L92.1 71.4M88.0 72.1L88.6 72.1M89.5 75.2L90.6 73.9M90.4 67.6L89.9 65.7M93.6 66.9L91.1 65.0M91.1 65.0L89.9 65.7M89.8 58.0L88.8 60.9M87.5 60.7L88.5 61.0M88.8 60.9L88.5 61.0M84.9 63.0L88.3 64.4M88.5 61.0L88.3 64.4M86.6 66.2L88.4 65.1M89.9 65.7L88.4 65.1M88.4 65.1L88.3 64.4M-0.8 57.6L-3.3 58.9M-1.5 56.6L-4.3 55.6M5.5 59.8L6.5 62.4M5.5 59.8L3.1 62.5M4.1 63.3L5.5 63.7M4.1 63.3L3.1 62.6M6.5 62.4L5.5 63.7M3.1 62.5L3.1 62.6M8.9 60.0L8.1 61.8M8.1 61.8L6.5 62.4M5.7 59.1L5.5 59.8M2.7 58.8L3.1 62.5M2.7 58.8L5.3 58.5M3.3 66.7L4.1 63.3M3.8 67.0L4.7 67.1M4.7 67.1L5.7 63.9M5.7 63.9L5.5 63.7M2.4 62.7L3.1 62.6M19.8 71.0L19.3 71.6M19.3 71.6L19.0 72.2M19.0 72.2L20.0 74.3M21.6 74.8L21.0 74.7M7.2 73.6L7.8 71.6M7.8 71.6L6.8 69.7M4.0 72.8L3.6 71.7M3.7 71.2L3.6 71.7M10.4 74.0L7.2 73.6M10.4 74.0L10.4 72.1M10.4 72.1L7.8 71.6M6.2 75.2L6.2 75.1M2.9 72.1L3.6 71.7M2.6 70.3L3.7 71.2M6.8 76.3L8.6 76.5M10.4 74.0L10.5 74.4M8.6 76.5L10.5 74.4M15.8 59.7L14.5 56.7M15.8 59.7L12.3 60.5M12.6 58.0L12.3 60.5M12.6 58.0L14.4 56.7M14.4 56.7L14.5 56.7M15.1 56.2L14.5 56.7M16.9 60.4L15.8 59.7M12.1 60.9L12.3 60.5M12.1 60.9L8.9 60.0M11.9 54.2L14.4 56.7M6.2 52.5L5.7 50.5M5.7 50.5L2.7 51.2M3.2 53.1L2.7 51.2M6.9 53.2L6.2 52.5M5.9 49.7L5.7 50.5M5.4 48.9L5.2 48.8M5.8 44.9L4.0 47.3M1.6 46.0L1.8 46.6M4.0 47.3L1.8 46.6M-0.0 58.6L-0.6 57.7M-0.6 57.7L2.4 54.7M2.4 58.7L3.1 55.3M-0.8 57.6L-0.6 57.7M-0.3 60.6L-0.0 58.6M2.7 58.8L2.4 58.7M2.4 54.5L2.4 54.7M8.2 -1.7L10.6 -3.2M8.2 -1.7L9.4 0.2M9.4 0.2L12.0 -0.3M12.0 -0.3L11.6 -2.8M10.6 -3.2L11.6 -2.8M9.1 1.3L9.4 0.2M12.8 1.2L13.3 0.6M13.3 0.6L12.0 -0.3M11.9 -2.9L12.8 -3.9M11.9 -2.9L11.6 -2.8M11.9 -2.9L15.5 -2.0M15.8 -3.9L16.1 -2.6M15.5 -2.0L16.1 -2.6M13.3 0.6L13.5 0.7M15.5 -2.0L14.9 -0.7M13.5 0.7L14.9 -0.7M41.0 -1.5L41.8 -2.3M44.5 0.2L44.3 -1.8M46.8 -0.1L46.0 -2.3M49.1 -1.1L47.6 -3.7M46.0 -2.3L47.6 -3.7M31.1 4.7L28.8 6.9M31.1 4.7L31.0 4.4M31.0 4.4L28.5 3.4M28.8 6.9L26.9 5.2M26.9 5.2L28.5 3.4M31.0 4.4L31.7 2.7M29.1 0.1L28.1 2.6M28.5 3.4L28.1 2.6M7.5 11.7L5.4 11.9M7.5 11.7L7.0 8.5M5.4 11.9L5.1 8.4M7.0 8.5L5.9 8.3M8.9 13.2L7.5 11.7M4.8 8.3L5.1 8.4M6.6 4.3L5.9 8.3M-1.3 21.4L-2.9 22.2M-3.3 22.0L-2.9 22.2M0.5 30.8L-1.3 29.4M1.7 27.3L1.4 27.3M-2.2 32.4L-2.8 29.2M-4.1 29.4L-2.9 29.1M-2.8 29.2L-2.9 29.1M43.5 23.7L45.3 20.6M42.6 20.4L43.3 19.4M45.3 20.6L43.3 19.4M34.6 6.2L34.9 7.5M34.6 6.2L32.8 6.0M32.4 6.9L32.6 10.4M33.8 9.8L32.8 10.5M32.8 10.5L32.6 10.4M36.8 8.9L34.9 7.5M35.2 5.7L34.6 6.2M29.5 9.3L32.4 6.9M36.8 10.5L33.8 9.8M35.4 13.3L37.1 11.0M34.8 13.4L32.8 10.5M81.0 6.3L79.7 8.8M81.0 6.3L78.6 4.6M77.5 6.4L79.4 8.7M77.5 6.4L78.6 4.6M79.4 8.7L79.7 8.8M76.5 6.6L77.5 6.4M77.3 10.2L79.4 8.7M78.6 4.0L77.4 2.7M78.6 4.0L78.6 4.6M85.6 18.1L85.0 16.0M87.9 16.6L87.3 15.8M85.0 16.0L87.3 15.8M87.3 15.8L88.3 13.6M86.8 10.2L87.5 13.1M88.3 13.6L87.5 13.1M92.1 9.6L91.2 8.6M91.2 8.6L89.9 9.0M94.3 7.2L91.9 5.9M91.2 8.6L91.9 5.9M82.6 8.6L83.1 6.8M80.4 9.4L79.7 8.8M81.0 6.3L81.8 6.1M83.1 6.8L81.8 6.1M40.8 11.5L39.4 12.3M39.3 13.1L41.5 14.0M39.3 13.1L39.4 12.3M41.5 14.0L42.3 13.4M41.5 10.0L40.8 11.5M44.7 11.7L44.1 13.5M44.1 13.5L42.3 13.4M38.5 15.0L39.3 13.1M39.1 15.6L41.0 15.3M41.0 15.3L41.5 14.0M93.6 63.6L91.6 64.3M93.6 63.6L92.6 61.4M91.6 64.3L90.2 61.2M92.6 61.4L90.8 61.1M90.8 61.1L90.2 61.2M93.7 63.6L93.6 63.6M91.1 65.0L91.6 64.3M93.9 60.1L92.6 61.4M88.8 60.9L90.2 61.2M92.8 58.0L90.8 61.1M17.0 65.6L15.6 68.9M15.1 64.5L14.2 66.0M14.2 66.0L15.0 68.9M15.0 68.9L15.6 68.9M18.0 68.7L16.6 69.2M15.6 68.9L16.6 69.2M19.3 71.6L16.8 70.0M16.8 70.0L16.6 69.2M19.0 72.2L16.8 72.5M16.8 70.0L16.8 72.5M5.7 63.9L7.1 64.9M7.1 68.6L7.1 64.9M7.1 68.6L7.1 68.6M19.2 77.8L18.1 79.9M19.2 77.8L19.2 77.8M19.2 77.8L16.3 76.1M16.4 79.4L15.6 77.8M15.6 77.8L16.3 76.1M21.7 79.1L19.2 77.8M21.0 74.7L19.2 77.8M20.0 74.3L16.3 76.0M16.3 76.0L16.3 76.1M9.9 77.8L11.9 77.2M9.9 77.8L9.9 78.8M8.6 76.5L9.9 77.8M15.6 77.8L13.4 78.7M12.2 76.1L11.8 74.8M11.8 74.8L14.1 73.1M15.5 73.6L14.5 73.1M14.1 73.1L14.5 73.1M10.5 74.4L11.8 74.8M11.9 77.2L12.2 76.1M16.3 76.0L16.2 75.8M10.4 72.1L11.3 71.4M11.3 71.4L14.1 73.1M15.0 68.9L14.6 69.2M14.6 69.2L14.5 73.1M1.8 46.6L0.9 49.2M1.4 50.1L0.9 49.9M0.9 49.2L0.9 49.9M-1.2 45.1L-0.8 48.2M0.9 49.2L-0.8 48.2M-0.8 48.2L-3.4 48.1M22.2 -3.8L20.4 -0.6M20.4 -4.9L18.4 -2.0M20.4 -0.6L18.4 -2.0M18.4 -2.0L18.1 -2.0M14.9 -0.7L17.4 1.2M16.7 3.0L15.3 3.4M18.1 4.2L18.8 5.7M15.3 3.4L14.8 4.5M18.8 5.7L18.2 6.3M18.2 6.3L14.9 4.7M14.9 4.7L14.8 4.5M13.5 0.7L15.3 3.4M17.6 1.8L17.4 1.2M17.6 1.8L16.7 3.0M20.6 2.8L20.6 1.5M20.6 2.8L18.1 4.2M17.6 1.8L20.6 1.5M19.8 5.7L21.1 4.3M19.8 5.7L18.8 5.7M21.1 4.3L20.6 2.8M19.8 5.7L20.6 7.1M15.8 8.1L14.9 4.7M44.2 -1.9L44.3 -4.2M23.8 7.7L24.1 5.9M21.1 4.3L21.4 4.4M24.1 5.9L21.4 4.4M24.1 5.9L24.9 5.0M-1.4 24.6L-2.8 22.7M-1.4 24.6L-1.8 25.8M-2.8 22.7L-5.0 25.3M-1.8 25.8L-2.5 26.5M-2.5 26.5L-4.9 25.4M1.0 23.6L-1.4 24.6M-2.9 22.2L-2.8 22.7M1.4 27.3L-1.8 25.8M48.5 13.8L46.8 15.2M44.1 13.5L44.3 14.1M47.4 18.6L44.7 17.7M44.7 17.7L46.8 15.4M47.6 17.1L46.8 15.4M48.9 19.2L47.5 18.6M46.0 20.7L47.4 18.6M46.8 15.2L46.8 15.4M86.2 9.4L86.8 10.2M86.2 9.4L84.3 10.7M84.3 10.7L83.7 11.7M87.5 13.1L84.7 13.5M83.7 11.7L84.7 13.5M85.0 16.0L84.3 15.4M82.3 18.6L82.0 16.4M84.3 15.4L82.0 16.4M79.9 16.5L81.3 16.0M77.8 12.8L81.1 14.8M81.1 14.8L81.3 16.0M95.2 4.2L93.5 3.4M91.9 5.9L91.8 5.7M91.8 5.7L93.5 3.4M89.9 9.0L87.9 7.9M86.2 9.4L86.4 8.5M84.8 6.4L86.4 8.5M86.4 8.5L87.9 7.9M7.1 68.6L9.2 68.1M9.2 68.1L11.3 71.3M14.6 69.2L13.0 69.2M13.0 69.2L11.3 71.3M0.6 50.2L-0.2 50.6M0.6 50.2L1.2 53.8M-0.2 50.6L-1.7 52.8M1.2 53.8L-0.9 53.9M-0.9 53.9L-1.7 52.8M2.4 54.5L1.2 53.8M-3.3 52.7L-1.7 52.8M-1.5 56.6L-0.9 53.9M21.1 0.5L24.1 -0.7M25.3 0.3L25.3 2.3M23.2 2.6L24.9 3.1M25.3 2.3L24.9 3.1M20.4 -0.6L21.1 0.5M28.3 -0.8L25.3 0.3M28.1 2.6L25.3 2.3M24.9 5.0L24.9 3.1M43.3 18.6L42.4 17.8M44.5 17.7L44.3 14.2M42.4 17.8L42.2 16.4M42.2 16.4L44.3 14.2M43.3 19.4L43.3 18.6M39.8 18.1L42.4 17.8M44.3 14.1L44.3 14.2M41.0 15.3L42.2 16.4M81.4 13.3L82.6 11.8M81.4 13.3L79.2 12.2M79.2 12.2L80.8 10.6M83.7 11.7L82.6 11.8M81.1 14.8L81.4 13.3M77.8 12.7L79.2 12.2M80.4 9.4L80.8 10.6M98.0 0.5L96.8 0.1M96.6 2.3L95.8 1.3M95.8 1.3L96.8 0.1M98.7 -2.8L96.4 -1.7M95.4 -4.5L95.1 -2.3M96.4 -1.7L95.1 -2.3M89.7 5.0L89.4 2.5M89.4 2.5L91.7 1.5M93.5 3.4L93.5 2.6M91.7 1.5L93.5 2.6M95.8 1.3L94.5 1.5M95.1 -2.3L94.6 -2.1M94.6 -2.1L93.9 -0.5M93.9 -0.5L94.5 1.5M93.5 2.6L94.5 1.5M87.6 0.8L89.4 2.5M91.7 1.5L91.6 0.6M88.7 -0.5L91.6 0.6M93.9 -0.5L91.9 -0.1M78.6 -0.4L79.1 -0.6M78.6 4.0L81.5 2.7M79.1 -0.6L80.2 -0.0M80.2 -0.0L81.5 2.7M81.8 6.1L82.2 2.9M81.5 2.7L82.2 2.9M80.0 -2.5L80.1 -4.5M11.1 67.2L9.5 67.9M11.1 67.2L11.5 66.5M10.9 63.9L9.3 63.9M9.2 68.1L9.5 67.9M13.0 69.2L11.1 67.2M7.1 64.9L8.7 64.4M12.4 62.3L10.9 63.9M8.1 61.8L9.3 63.9M89.3 -1.8L91.3 -1.8M89.3 -1.8L88.6 -3.3M91.8 -4.9L92.4 -2.9M92.4 -2.9L91.3 -1.8M88.7 -0.5L89.3 -1.8M91.9 -0.1L91.3 -1.8M86.1 -5.4L86.3 -2.3M86.3 -2.3L88.6 -3.3M94.6 -2.1L92.4 -2.9M83.3 2.7L85.1 5.4M87.5 0.8L86.7 1.8M82.2 2.9L83.2 2.7M83.2 2.7L83.3 2.7M83.4 0.7L86.0 -0.4M83.8 -2.7L83.0 -1.9M83.8 -2.7L85.6 -1.6M85.6 -1.6L86.0 -0.4M80.2 -0.0L82.5 -0.6M80.0 -2.5L83.0 -1.9M87.5 0.8L86.0 -0.4M83.7 -3.0L83.8 -2.7M86.3 -2.3L85.6 -1.6" fill="none" stroke="#dc5f94" stroke-width="0.85"/>
<path d="M41.7 57.9h0.01M94.4 57.8h0.01M69.0 39.6h0.01M67.2 40.6h0.01M51.4 45.0h0.01M37.5 57.9h0.01M38.0 50.3h0.01M38.0 52.3h0.01M34.9 52.2h0.01M17.9 16.6h0.01M0.3 37.4h0.01M50.9 23.5h0.01M87.7 31.0h0.01M96.4 33.0h0.01M31.1 55.6h0.01M84.5 46.1h0.01M76.2 61.4h0.01M71.5 63.7h0.01M89.1 54.8h0.01M85.5 54.2h0.01M54.6 60.7h0.01M52.7 58.2h0.01M62.9 38.8h0.01M40.0 63.9h0.01M13.9 23.4h0.01M15.8 8.1h0.01M14.2 11.1h0.01M3.7 29.6h0.01M56.1 27.9h0.01M87.2 28.4h0.01M95.5 16.5h0.01M95.2 38.0h0.01M21.2 49.1h0.01M22.9 52.8h0.01M83.0 44.0h0.01M80.3 39.4h0.01M87.2 45.1h0.01M86.7 49.5h0.01M71.8 50.4h0.01M80.0 59.8h0.01M79.5 68.8h0.01M73.4 57.4h0.01M76.0 61.3h0.01M74.8 71.9h0.01M48.7 58.4h0.01M50.3 3.7h0.01M50.9 7.1h0.01M64.3 43.5h0.01M44.3 31.7h0.01M41.4 55.5h0.01M45.2 50.2h0.01M39.4 49.4h0.01M39.3 42.3h0.01M18.8 27.4h0.01M18.3 23.1h0.01M11.7 23.4h0.01M10.7 29.6h0.01M11.9 28.7h0.01M24.4 20.2h0.01M21.7 16.9h0.01M22.9 24.0h0.01M10.5 40.3h0.01M12.1 37.9h0.01M62.1 8.7h0.01M53.8 9.8h0.01M56.6 13.8h0.01M49.7 21.7h0.01M56.0 17.9h0.01M87.6 33.8h0.01M90.6 29.6h0.01M82.4 26.9h0.01M79.9 74.9h0.01M99.7 49.3h0.01M23.9 35.5h0.01M24.1 46.5h0.01M58.0 73.9h0.01M55.9 69.5h0.01M46.4 71.9h0.01M33.0 73.8h0.01M32.3 65.3h0.01M27.5 69.8h0.01M72.9 71.3h0.01M85.7 58.1h0.01M84.1 39.2h0.01M78.1 39.2h0.01M69.9 73.4h0.01M66.5 73.9h0.01M63.5 74.6h0.01M59.0 58.7h0.01M47.6 61.0h0.01M44.5 0.4h0.01M45.4 3.0h0.01M48.4 0.9h0.01M58.5 36.2h0.01M60.7 34.1h0.01M38.9 35.0h0.01M40.3 37.8h0.01M31.6 38.2h0.01M51.4 30.9h0.01M51.6 27.7h0.01M38.3 28.7h0.01M36.9 29.8h0.01M13.0 43.0h0.01M18.7 9.0h0.01M12.2 16.3h0.01M14.5 13.5h0.01M8.3 18.2h0.01M9.9 16.6h0.01M10.5 20.7h0.01M7.9 21.6h0.01M6.9 4.1h0.01M2.3 14.8h0.01M0.5 30.8h0.01M32.1 14.8h0.01M30.9 15.5h0.01M68.1 21.0h0.01M62.6 9.1h0.01M63.6 16.2h0.01M62.6 4.5h0.01M67.0 0.1h0.01M61.5 18.2h0.01M60.6 15.6h0.01M98.0 0.5h0.01M90.0 23.9h0.01M81.7 20.1h0.01M74.4 28.8h0.01M77.5 29.6h0.01M77.1 71.3h0.01M19.8 50.5h0.01M19.3 62.2h0.01M32.4 29.0h0.01M23.8 68.9h0.01M23.9 68.6h0.01M56.9 44.8h0.01M67.5 57.3h0.01M74.1 31.7h0.01M74.0 28.9h0.01M41.8 2.3h0.01M34.4 39.4h0.01M45.4 54.1h0.01M45.2 54.8h0.01M11.8 45.5h0.01M4.8 22.0h0.01M2.9 11.9h0.01M3.4 5.4h0.01M0.7 19.1h0.01M36.1 21.8h0.01M30.7 15.5h0.01M69.2 13.6h0.01M89.1 13.5h0.01M74.0 4.3h0.01M72.3 3.3h0.01M67.4 6.1h0.01M37.5 11.1h0.01M41.5 10.0h0.01M80.2 20.9h0.01M75.4 24.3h0.01M79.0 24.2h0.01M97.7 28.6h0.01M92.5 71.2h0.01M94.1 75.0h0.01M11.8 48.7h0.01M6.0 44.8h0.01M2.4 54.5h0.01M5.7 56.2h0.01M24.8 40.1h0.01M9.1 1.3h0.01M12.8 1.2h0.01M59.8 5.3h0.01M56.3 4.4h0.01M51.8 1.4h0.01M51.9 1.2h0.01M23.8 7.7h0.01M0.7 2.8h0.01M2.9 2.1h0.01M4.6 12.7h0.01M39.8 18.1h0.01M89.5 10.8h0.01M90.2 12.1h0.01M4.0 72.8h0.01M1.4 50.1h0.01M26.9 5.2h0.01M28.5 3.4h0.01M7.5 11.7h0.01M34.6 6.2h0.01M84.3 10.7h0.01M79.7 8.8h0.01M89.9 9.0h0.01M91.6 64.3h0.01M15.0 68.9h0.01M11.8 74.8h0.01M14.9 4.7h0.01M47.5 18.6h0.01M47.4 18.6h0.01M83.7 11.7h0.01M81.3 16.0h0.01M82.0 16.4h0.01M9.2 68.1h0.01M21.1 0.5h0.01M42.2 16.4h0.01" fill="none" stroke="#a83c70" stroke-opacity="0.5" stroke-width="1.3" stroke-linecap="round"/></g>
<g filter="url(#bl)" fill="#fdf2f6" opacity="0.9"><ellipse cx="30" cy="17" rx="3.5" ry="7"/><ellipse cx="20" cy="5.4" rx="4" ry="3"/><ellipse cx="9" cy="30" rx="3" ry="3"/><ellipse cx="62" cy="60" rx="4" ry="3"/></g>
<path d="M75,0.5 C84,2 92,4 101,6.5 L101,15 C93,12.5 85,9.5 78,7 Z" fill="#f6d2e4" stroke="#d04a80" stroke-width="1.2"/>
<path d="M0,57 C5,63 9,69 12,76 L0,76 Z" fill="#f4cde0" stroke="#d0508a" stroke-width="1.1"/>
<g filter="url(#bl)" fill="#d02c6a"><ellipse cx="91.4" cy="40.8" rx="3.8" ry="4.8"/><ellipse cx="96" cy="47.5" rx="2.5" ry="2.2"/><ellipse cx="31" cy="30" rx="4" ry="2.6"/></g>
<ellipse cx="99" cy="48" rx="2" ry="4.5" fill="#fdf6f9" filter="url(#tx)"/>
<path d="M30.3,36.3 C30.8,34 31.8,32.8 33,32.3 C35,32.5 36.5,33 37.7,33 C40,31.5 42,29.5 44.4,28.9 C46.5,29 48.4,30.3 49.1,32.3 C49,35 48,37.5 46.4,39 C43.5,40.8 40.5,41.5 37.7,41.7 C35,41.6 33,41.2 31.6,40.4 C30.7,39.2 30.3,37.8 30.3,36.3 Z" transform="matrix(1,0,0,1.2,0,-7.06)" fill="#fcf5f8" stroke="#d42a6c" stroke-width="2.0"/>
</g>
<g transform="translate(413.4,180)" clip-path="url(#c4)">
<rect x="0" y="0" width="101" height="75" fill="#fae4f4"/>
<g filter="url(#tx)"><path d="M-0.4 27.6L-1.2 25.8M-0.4 27.6L-5.0 27.0M-1.2 25.8L-3.3 25.7M-3.3 25.7L-2.9 23.2M-2.9 23.2L-4.3 22.2M0.0 28.1L-0.6 30.1M-5.0 27.0L-1.5 29.8M-0.6 30.1L-1.5 29.8M-1.5 29.8L-6.0 30.3M-0.6 30.1L-0.5 30.2M-0.5 30.2L-3.3 33.0M42.8 12.6L41.5 12.0M42.8 12.6L44.8 10.8M44.8 10.8L42.0 8.9M42.0 8.9L41.3 11.5M60.4 32.8L62.8 32.9M60.4 32.8L61.4 36.0M62.6 36.7L61.4 36.0M63.9 35.2L62.8 32.9M60.0 32.8L60.4 32.8M60.0 32.8L59.6 31.7M62.0 28.7L59.6 31.7M62.0 28.7L63.3 32.3M62.8 32.9L63.3 32.3M88.2 39.1L86.9 35.1M90.1 35.3L88.8 34.2M85.8 34.6L86.9 35.1M85.8 34.6L85.6 32.4M85.6 32.4L87.0 31.3M89.1 32.7L87.0 31.3M92.4 35.3L92.0 37.9M92.4 35.3L90.1 35.3M92.0 37.9L88.4 39.3M88.2 39.1L88.2 39.1M88.2 39.1L88.4 39.3M88.2 39.1L84.4 38.7M112.5 77.1L102.5 82.4M107.6 76.8L103.3 80.4M105.5 76.1L102.9 76.5M102.9 76.5L101.6 76.1M101.6 76.1L100.9 81.1M69.0 79.0L72.8 76.6M72.9 76.7L73.1 76.8M73.1 76.8L71.9 86.3M-1.2 25.8L-1.0 25.0M-2.9 23.2L-1.8 23.4M-1.0 25.0L-1.8 23.4M1.8 19.3L2.5 19.3M1.8 19.3L0.4 17.1M0.4 17.1L1.8 16.1M1.8 16.1L3.4 16.8M2.5 19.3L3.4 16.8M3.9 14.3L4.8 15.8M3.9 14.3L1.6 14.7M1.6 14.7L1.8 16.1M13.5 18.4L12.0 17.9M12.0 17.9L11.6 16.0M15.4 17.2L15.1 18.0M11.7 15.7L11.6 16.0M15.9 16.4L15.6 14.9M15.9 16.4L15.4 17.2M11.7 15.5L11.7 15.7M15.6 14.9L12.8 14.8M18.9 17.3L18.8 18.6M16.4 20.2L15.1 18.0M10.2 19.9L12.0 17.9M10.2 19.9L11.2 21.3M13.5 18.4L13.6 21.3M13.6 21.3L11.2 21.3M16.2 13.7L16.2 12.5M16.2 12.5L14.1 11.3M12.8 14.8L13.2 11.8M14.1 11.3L13.2 11.8M0.9 -4.6L0.0 -2.9M0.0 -2.9L-3.0 -3.6M-3.9 -2.4L-3.0 -3.6M0.0 -2.9L0.2 -2.5M-3.9 -1.1L-1.2 -0.1M-3.6 8.0L-2.5 10.0M11.6 5.1L12.2 5.0M11.6 5.1L8.4 2.5M12.2 5.0L12.6 2.2M12.6 2.2L10.2 0.9M10.2 0.9L9.0 1.3M10.6 9.3L12.8 8.3M10.6 9.3L9.1 7.4M9.2 6.5L9.1 7.4M9.2 6.5L11.6 5.1M12.2 5.0L13.3 6.0M10.6 9.3L10.2 11.2M10.2 11.2L13.2 11.8M14.2 9.8L12.8 8.3M10.9 -1.6L13.2 -2.5M9.8 -2.5L9.7 -4.9M10.9 -1.6L10.2 0.9M13.0 2.0L12.6 2.2M14.3 0.4L14.3 -1.3M13.0 2.0L14.4 2.8M14.4 2.8L15.1 3.5M15.1 3.5L18.0 1.9M17.2 1.7L18.0 1.9M22.8 19.6L25.1 21.2M22.8 19.6L23.3 17.6M25.1 21.2L26.1 20.0M26.1 20.0L24.6 17.5M24.6 17.5L23.9 17.2M23.3 17.6L23.9 17.2M19.5 10.8L20.2 8.6M19.5 10.8L19.7 11.0M21.6 7.9L20.2 8.6M19.7 11.0L23.9 10.5M104.2 22.4L103.5 20.2M103.5 20.2L111.6 19.1M45.7 34.6L44.1 30.5M45.7 34.6L47.4 32.3M44.3 30.4L44.1 30.5M44.3 30.4L46.1 31.3M47.4 32.3L46.1 31.3M44.8 29.4L44.3 30.4M44.8 29.4L46.5 27.9M46.5 27.9L47.3 27.9M44.6 35.5L43.1 31.4M44.6 35.5L42.6 35.3M42.6 35.3L40.6 33.8M43.1 31.4L40.5 33.1M40.5 33.1L40.6 33.8M39.9 35.2L40.6 33.8M41.8 38.1L39.5 37.0M41.8 38.1L42.6 35.3M42.0 8.7L42.0 8.9M42.0 8.7L39.5 9.0M39.5 9.0L37.4 11.6M37.5 11.8L41.3 11.5M37.5 11.8L37.4 11.7M37.4 11.7L37.4 11.6M50.6 15.8L49.8 18.0M50.6 15.8L52.6 15.3M52.6 15.3L52.9 16.7M52.9 16.7L52.4 18.8M49.8 18.0L51.0 19.7M51.0 19.7L52.4 18.8M52.8 14.9L54.4 15.0M52.8 14.9L52.6 15.3M54.4 15.0L56.4 16.6M56.4 16.6L55.9 17.7M55.9 17.7L52.9 16.7M55.8 19.1L55.9 17.7M55.8 19.1L55.5 19.3M55.5 19.3L52.4 18.8M48.6 14.0L47.3 17.5M48.6 14.0L50.6 15.8M47.4 17.5L47.3 17.5M43.8 30.6L41.5 28.8M43.8 30.6L43.1 31.4M39.9 32.7L39.9 29.1M39.9 32.7L40.5 33.1M39.9 29.1L41.5 28.8M43.1 26.5L41.7 27.0M41.5 28.8L41.7 27.0M37.6 30.2L35.8 29.9M37.6 30.2L38.2 28.0M38.2 28.0L38.0 27.7M38.0 27.7L36.3 28.2M35.8 29.9L36.3 28.2M39.9 32.7L37.8 32.3M37.8 32.3L37.6 30.2M39.9 29.1L38.2 28.0M38.4 25.7L38.0 27.7M38.4 25.7L40.3 26.1M40.3 26.1L41.7 27.0M52.7 34.0L52.7 35.5M48.9 32.4L49.8 31.5M48.9 32.4L49.0 35.4M49.0 35.4L50.8 35.9M52.7 34.0L52.8 33.9M52.7 35.5L53.8 36.3M55.6 32.4L52.8 33.9M55.6 32.4L57.5 35.5M53.8 36.3L57.5 35.5M60.0 32.8L57.6 35.5M58.6 36.4L61.4 36.0M58.6 36.4L57.7 35.7M57.7 35.7L57.6 35.5M68.4 38.9L66.5 35.9M68.4 38.9L69.8 39.4M69.8 39.4L69.9 39.3M69.9 39.3L68.9 35.2M66.5 35.9L66.5 35.8M66.5 35.8L67.1 35.1M68.9 35.2L67.1 35.1M85.6 32.4L84.1 31.7M83.7 35.9L81.9 35.1M81.9 35.1L81.8 33.2M84.1 31.7L81.8 33.2M104.2 49.6L103.4 51.5M103.4 51.5L108.7 52.2M103.0 52.2L101.0 51.9M103.0 52.2L103.5 53.3M103.5 53.3L102.8 54.6M102.8 54.6L99.0 53.9M101.0 51.9L99.7 52.6M105.9 54.1L103.5 53.3M103.4 51.5L103.0 52.2M100.2 49.1L101.0 51.9M100.2 49.1L99.6 48.9M99.6 48.9L97.7 49.2M97.5 50.1L97.7 49.2M97.5 50.1L99.7 52.6M104.2 49.6L102.8 48.0M105.4 45.2L102.8 48.0M100.2 49.1L102.7 48.0M102.8 48.0L102.7 48.0M107.4 36.3L103.9 37.9M107.1 44.8L103.8 41.1M105.0 33.8L103.2 34.4M102.5 36.1L103.2 34.4M102.5 36.1L103.2 37.4M103.2 37.4L103.9 37.9M69.8 41.0L72.9 41.9M69.8 41.0L69.1 42.2M71.5 44.5L73.6 44.3M71.5 44.5L69.3 42.8M78.7 35.5L76.8 37.5M76.8 37.5L77.0 38.2M80.7 35.9L80.5 38.1M77.0 38.2L79.5 38.8M88.5 44.2L88.5 41.1M88.5 44.2L88.1 45.4M85.0 42.9L88.1 45.4M91.5 46.9L90.7 49.1M87.0 49.3L86.4 48.2M86.7 46.9L88.1 45.4M78.2 47.0L76.7 45.1M78.2 47.0L77.5 48.3M76.7 45.1L75.9 48.3M77.5 48.3L75.9 48.3M81.2 41.3L81.8 39.1M81.2 41.3L84.2 40.0M81.8 39.1L84.4 38.7M84.2 40.0L84.4 38.7M81.0 41.8L79.4 41.0M81.0 41.8L81.2 41.3M80.5 38.1L81.8 39.1M79.5 38.8L79.4 41.0M84.4 38.7L84.4 38.7M81.9 35.1L80.7 35.9M69.7 46.9L71.5 44.5M69.7 46.9L68.7 46.9M69.3 42.8L68.2 45.0M65.6 44.2L68.2 45.0M65.6 44.2L64.5 46.1M68.7 46.9L67.9 47.6M64.5 46.1L67.9 47.6M64.8 76.4L67.4 74.6M64.8 76.4L65.2 78.1M67.4 74.6L67.7 74.6M64.0 75.9L64.8 76.4M64.0 75.9L65.1 72.9M65.1 72.9L67.4 74.6M72.2 75.4L71.9 73.5M72.2 75.4L68.3 76.2M71.9 73.5L68.5 73.7M68.5 73.7L67.7 74.6M72.8 76.6L72.2 75.4M53.8 36.3L53.7 37.9M56.8 38.9L54.3 39.2M57.6 35.5L57.5 35.5M54.3 39.2L53.7 37.9M0.5 22.4L0.8 20.0M-0.8 22.5L-2.2 19.5M0.8 20.0L-2.2 19.5M-1.8 23.4L-0.8 22.5M0.9 24.2L1.0 22.9M-3.2 19.0L-2.2 19.5M11.7 15.5L11.2 15.1M10.2 11.2L9.9 11.5M2.1 11.8L4.0 12.3M2.1 11.8L0.8 12.2M3.9 14.3L4.0 12.3M1.6 14.7L0.3 13.8M0.8 12.2L0.3 13.8M2.1 11.8L2.3 8.4M0.7 7.4L-1.2 10.0M0.7 7.4L0.9 7.5M0.9 7.5L2.3 8.4M0.8 12.2L-1.2 10.0M-2.5 10.0L-2.4 10.2M-13.5 10.3L-2.9 10.9M-2.9 10.9L-2.4 10.2M4.0 22.3L4.2 21.2M4.0 22.3L1.0 22.9M1.8 19.3L0.8 20.0M2.5 19.3L3.8 20.2M4.8 15.8L5.4 16.0M3.8 20.2L6.1 17.8M5.4 16.0L6.1 17.8M8.5 19.6L8.2 18.9M11.6 16.0L8.7 17.6M8.7 17.6L8.2 18.9M17.7 24.7L15.8 24.8M17.7 24.7L17.7 21.4M15.8 24.8L14.9 23.3M14.9 23.3L14.8 22.0M14.8 22.0L16.4 20.4M17.7 21.4L16.4 20.4M20.9 22.0L20.8 21.5M20.9 22.0L19.7 24.1M20.8 21.5L17.7 21.4M19.7 24.1L18.4 24.8M18.4 24.8L17.7 24.7M16.4 20.2L16.4 20.4M13.6 21.3L14.8 22.0M18.8 18.6L21.0 20.9M21.0 20.9L20.8 21.5M14.9 23.3L11.2 24.2M10.7 23.3L11.2 24.2M7.7 20.6L7.9 23.5M10.7 23.3L7.9 23.5M22.5 30.6L21.7 27.9M22.5 30.6L24.8 31.0M25.2 28.3L24.8 31.0M22.0 27.5L21.7 27.9M19.4 28.0L21.7 27.9M19.4 28.0L18.8 30.5M18.8 30.5L22.0 31.0M22.0 31.0L22.5 30.6M25.4 31.5L24.8 31.0M26.3 26.6L29.0 27.6M26.3 26.6L25.2 28.3M29.1 28.8L29.0 27.6M19.7 24.1L22.3 26.1M22.3 26.1L22.0 27.5M18.4 24.8L19.2 27.8M19.2 27.8L19.4 28.0M0.7 33.5L3.4 33.0M0.1 35.5L2.3 36.5M3.4 33.0L3.6 33.2M3.6 33.2L2.4 36.3M2.4 36.3L2.3 36.5M-0.2 30.5L0.7 33.5M-0.2 30.5L3.1 30.8M3.1 30.8L3.4 33.0M-0.5 30.2L-0.2 30.5M6.0 34.4L2.4 36.3M5.9 34.2L5.5 33.6M5.5 33.6L3.6 33.2M7.9 3.0L7.0 3.0M7.9 3.0L8.0 5.4M7.0 3.0L4.6 4.8M8.0 5.4L7.1 5.7M7.1 5.7L4.7 5.2M4.7 5.2L4.6 4.8M4.2 -2.3L6.2 -0.3M4.3 -3.0L7.7 -2.7M6.2 -0.3L7.2 -0.3M7.2 -0.3L8.0 -2.3M2.4 -1.0L0.2 -2.5M7.6 -4.2L7.7 -2.7M4.8 1.6L7.0 3.0M4.8 1.6L6.2 -0.3M9.0 1.3L7.2 -0.3M9.8 -2.5L8.0 -2.3M2.4 -1.0L2.4 -0.6M-1.2 -0.1L-0.4 1.4M2.4 -0.6L-0.4 1.4M4.8 1.6L3.8 2.0M2.4 -0.6L3.8 2.0M4.6 4.8L3.1 3.3M6.1 7.6L7.9 8.1M6.1 7.6L4.8 8.1M4.5 8.5L5.8 11.1M7.9 8.1L6.6 11.3M6.6 11.3L5.8 11.1M9.1 7.4L7.9 8.1M7.1 5.7L6.1 7.6M4.6 5.2L4.8 8.1M4.6 5.2L4.7 5.2M4.6 5.2L0.9 7.5M2.3 8.4L4.5 8.5M9.9 11.5L7.6 12.0M7.6 12.0L6.6 11.3M-1.2 10.0L-2.4 10.2M-3.1 6.0L0.5 6.9M15.2 5.7L17.5 5.7M15.2 5.7L14.7 5.9M14.7 5.9L15.6 9.0M17.7 6.4L17.5 5.8M16.6 9.0L15.6 9.0M17.5 5.8L17.5 5.7M15.1 3.5L15.2 5.7M13.3 6.0L14.7 5.9M14.2 9.8L15.6 9.0M21.6 7.9L21.5 6.1M20.2 8.6L17.7 6.4M21.5 6.1L20.7 5.3M20.7 5.3L17.5 5.8M18.1 10.9L16.6 9.0M18.1 10.9L16.2 12.5M39.5 9.0L37.5 6.9M35.8 8.4L37.4 11.6M35.8 8.4L37.4 6.9M42.0 8.7L42.0 8.6M40.2 5.4L37.5 6.9M40.2 5.4L41.3 6.7M36.3 12.4L33.2 10.9M36.3 12.4L34.9 14.8M33.2 10.9L33.2 14.5M34.9 14.8L33.2 14.5M26.1 20.0L27.5 19.5M24.6 17.5L27.4 17.5M27.5 19.5L27.4 17.5M25.8 13.3L28.1 14.2M25.8 13.3L24.4 15.2M28.1 14.2L28.1 16.8M24.4 15.2L23.9 17.2M27.4 17.5L28.1 16.8M14.3 -1.3L17.6 -1.8M18.5 -3.1L17.6 -1.8M18.0 1.9L18.2 1.9M17.6 -1.8L18.2 1.9M17.5 5.7L18.2 2.0M20.5 12.8L21.7 13.0M20.5 12.8L19.7 14.7M21.7 13.0L22.4 14.4M22.4 14.4L21.1 16.4M19.7 14.7L20.0 16.2M20.0 16.2L21.1 16.4M19.7 11.0L20.5 12.8M23.9 10.5L24.7 12.0M16.2 13.7L19.7 14.7M25.8 13.3L25.3 12.3M24.4 15.2L22.4 14.4M25.3 12.3L24.7 12.0M23.3 17.6L21.1 16.4M23.6 8.5L24.9 7.5M24.9 7.5L25.9 7.4M26.2 3.3L23.7 4.1M26.2 3.3L26.4 3.5M23.6 4.6L23.7 4.1M25.9 7.4L26.7 5.4M22.7 1.9L22.9 3.2M22.9 3.2L20.7 3.7M21.7 0.6L21.0 0.5M21.0 0.5L18.7 2.0M20.7 3.7L18.7 2.0M20.7 5.3L20.7 3.7M23.7 4.1L22.9 3.2M22.1 -2.6L20.2 -2.1M22.1 -2.6L23.4 -1.0M23.4 -1.0L21.7 0.6M18.2 2.0L18.7 2.0M52.2 11.5L51.9 11.4M52.2 11.5L53.9 8.4M53.9 8.4L51.5 6.9M51.1 10.2L51.9 11.4M51.5 6.9L51.5 6.9M51.1 10.2L48.6 9.3M48.6 9.3L49.1 6.3M51.5 6.9L50.0 5.7M53.9 8.4L54.4 8.2M51.5 6.9L54.1 5.5M54.4 8.2L54.1 5.5M24.2 -1.0L24.4 -0.9M25.5 0.7L24.4 -0.9M26.2 3.3L26.7 1.4M25.5 0.7L26.7 1.4M30.0 4.4L26.4 3.5M30.0 4.4L30.5 3.6M30.5 3.6L27.4 1.0M26.7 1.4L27.4 1.0M33.2 5.4L33.6 6.0M33.2 5.4L32.0 2.7M32.0 2.7L32.2 2.5M32.2 2.5L33.2 1.8M33.2 1.8L35.9 4.3M40.2 5.4L40.2 3.8M40.2 3.8L36.3 4.0M37.4 6.9L36.0 4.3M36.3 4.0L36.0 4.3M66.2 7.6L66.3 4.8M69.4 6.5L68.0 4.9M69.4 6.5L69.0 7.6M66.3 4.8L68.0 4.9M71.5 5.6L71.3 2.6M71.5 5.6L71.6 5.7M71.6 5.7L74.6 4.6M74.6 4.6L73.7 2.3M105.0 25.1L103.7 27.5M105.0 25.1L103.9 23.5M101.7 26.2L102.4 27.2M104.8 28.5L103.7 27.5M104.2 22.4L103.9 22.8M103.9 22.8L103.9 23.5M89.5 32.4L91.9 33.1M90.7 29.4L92.6 30.2M92.6 30.2L92.9 30.6M92.4 35.3L92.3 34.2M92.3 34.2L91.9 33.1M94.2 27.1L96.4 27.8M94.2 27.1L92.6 30.2M96.4 27.8L94.4 31.0M94.4 31.0L92.9 30.6M89.0 26.7L90.4 28.2M86.8 27.7L87.5 29.8M87.5 29.8L90.4 29.1M90.4 29.1L90.4 28.2M87.1 30.3L87.0 31.3M87.1 30.3L87.5 29.8M90.7 29.4L90.4 29.1M47.4 32.3L48.9 32.4M49.8 31.5L50.0 30.6M48.7 29.3L49.9 30.1M50.0 30.6L49.9 30.1M52.8 33.9L53.3 30.5M48.5 26.5L50.9 28.2M49.9 30.1L50.9 28.2M41.8 40.1L43.4 42.3M41.8 38.1L42.4 39.0M40.3 40.7L41.8 40.1M40.3 40.7L37.6 38.8M39.5 37.0L37.6 38.6M37.6 38.8L37.6 38.6M40.3 40.7L39.7 42.9M42.0 44.6L43.3 43.5M42.0 44.6L41.7 44.6M43.3 43.5L43.4 42.3M41.7 44.6L39.7 42.9M46.7 41.1L45.4 40.9M46.7 41.1L46.1 44.3M43.3 43.5L46.1 44.3M58.9 20.5L58.4 22.2M58.9 20.5L58.4 20.0M58.4 20.0L55.8 19.1M55.5 19.3L54.5 22.4M48.5 13.9L46.6 13.0M50.1 12.4L47.4 9.9M46.6 13.0L46.2 11.0M46.2 11.0L46.7 10.1M46.7 10.1L47.4 9.9M52.4 11.7L52.8 14.9M52.4 11.7L52.2 11.5M48.6 14.0L48.5 13.9M51.9 11.4L50.1 12.4M48.6 9.3L47.4 9.9M44.8 10.8L46.2 11.0M45.4 7.1L46.7 10.1M49.1 6.3L45.7 6.3M45.4 7.1L45.7 6.3M42.9 24.1L43.4 25.8M43.4 25.8L45.6 25.9M45.6 25.9L46.4 23.8M45.5 22.5L46.4 23.8M43.1 26.5L43.4 25.8M40.3 26.1L42.9 24.1M46.5 27.9L45.6 25.9M47.3 17.5L44.8 16.0M44.8 16.0L45.1 14.3M42.8 12.6L43.5 13.6M43.5 13.6L45.1 14.3M38.0 24.5L38.4 25.7M38.0 24.5L38.2 24.0M42.7 22.8L38.7 23.5M38.2 24.0L38.7 23.5M29.8 30.9L29.5 29.4M29.5 29.4L33.3 29.7M33.3 29.7L33.8 31.9M32.2 31.8L33.8 31.9M25.7 32.6L25.4 31.5M28.6 32.9L29.8 30.9M29.1 28.8L29.5 29.4M32.4 26.8L29.9 26.9M32.4 26.8L33.4 29.1M33.4 29.1L33.3 29.7M34.0 32.0L33.8 31.9M34.0 32.0L35.8 29.9M35.6 28.1L36.3 28.2M35.6 28.1L33.4 29.1M25.1 21.2L25.4 22.3M20.9 22.0L24.4 23.9M26.3 26.6L26.2 26.2M26.2 26.2L24.5 24.7M28.3 40.8L28.4 38.3M28.3 40.8L27.4 41.2M27.4 41.2L25.3 39.7M28.4 38.3L25.8 37.3M25.8 37.3L24.9 38.2M24.9 38.2L25.3 39.7M14.7 78.2L13.7 77.2M13.7 77.2L11.5 78.2M0.9 78.5L0.6 77.9M0.6 77.9L-2.6 76.8M58.6 36.4L58.6 36.4M57.7 40.1L59.5 40.3M58.6 36.4L59.5 40.3M54.3 39.2L54.2 41.4M57.7 40.1L56.1 41.5M56.1 41.5L54.2 41.4M69.8 41.0L69.8 39.4M69.1 42.2L65.8 41.9M68.4 38.9L65.0 40.6M65.0 40.6L65.8 41.9M65.6 44.2L65.5 43.4M65.8 41.9L65.5 43.4M49.0 35.4L48.6 35.6M48.6 35.6L45.7 34.8M43.9 38.6L44.9 37.5M44.9 37.5L44.6 35.5M45.7 34.8L44.6 35.5M47.1 40.9L47.2 38.1M47.1 40.9L49.1 41.5M49.1 41.5L50.5 39.7M47.2 38.1L47.6 37.9M47.6 37.9L50.3 39.1M50.3 39.1L50.5 39.6M50.5 39.6L50.5 39.7M46.7 41.1L47.1 40.9M44.9 37.5L47.2 38.1M49.8 43.2L51.5 44.0M49.8 43.2L49.1 41.5M53.2 43.6L53.8 42.0M53.8 42.0L50.5 39.7M48.6 35.6L47.6 37.9M53.7 37.9L50.5 39.6M54.2 41.4L53.8 42.0M68.4 20.6L68.2 21.5M68.4 20.6L71.2 19.1M71.2 19.1L72.7 19.5M69.7 23.3L68.3 22.0M68.3 22.0L68.2 21.5M62.5 27.8L58.5 25.3M62.9 27.6L63.5 25.7M63.5 25.7L61.6 23.9M61.6 23.9L61.6 23.9M62.2 28.1L62.0 28.7M62.2 28.1L62.5 27.8M64.6 29.0L64.5 28.8M64.6 29.0L63.4 32.2M63.4 32.2L63.3 32.3M64.5 28.8L62.9 27.6M64.5 28.8L66.7 27.1M63.5 25.7L65.0 25.0M65.0 25.0L66.7 27.1M69.9 26.3L69.5 26.8M68.3 22.0L66.0 24.2M105.2 16.9L103.6 17.4M103.0 19.7L103.6 17.4M86.3 18.7L85.2 20.7M85.2 20.7L82.6 20.0M85.9 21.8L88.2 21.4M85.9 21.8L85.2 20.7M88.2 21.4L89.0 19.3M85.4 23.1L85.9 21.8M85.4 23.1L82.2 21.9M82.2 21.9L82.1 20.1M82.1 20.1L82.6 20.0M89.0 19.3L89.1 19.2M89.1 19.2L87.0 15.1M85.0 16.8L87.0 15.1M80.2 15.5L82.4 14.5M81.2 18.3L83.2 15.7M80.0 15.4L77.3 17.2M80.0 15.4L80.2 15.5M77.3 17.2L77.6 17.9M81.2 18.3L81.1 18.9M77.6 17.9L81.1 18.9M82.1 20.1L81.5 19.7M85.0 16.8L83.2 15.7M52.4 11.7L55.8 11.7M54.4 15.0L55.8 13.4M55.8 13.4L55.8 11.7M56.1 8.5L54.4 8.2M56.1 8.5L56.5 11.2M56.5 11.2L55.8 11.7M71.2 19.1L71.2 18.9M71.2 18.9L72.5 14.5M72.9 19.4L74.6 16.5M74.6 16.5L72.9 14.5M72.9 14.5L72.6 14.4M72.6 14.4L72.5 14.5M76.7 1.8L74.9 0.9M74.8 0.9L74.9 0.9M74.8 0.9L73.7 2.3M74.6 4.6L74.6 4.7M76.5 2.8L74.6 4.7M80.0 15.4L78.3 12.7M77.3 17.2L76.5 16.5M76.5 16.5L77.2 13.5M78.3 12.7L77.2 13.5M74.6 16.5L76.5 16.5M72.9 14.5L75.0 12.9M77.2 13.5L75.0 12.9M98.1 -4.4L100.8 -2.7M103.2 34.4L101.8 32.7M105.3 30.3L101.7 31.5M101.8 32.7L101.7 31.5M73.3 26.0L73.0 26.3M73.3 26.0L73.3 23.8M73.3 23.8L72.6 23.5M72.6 23.5L70.5 26.3M70.5 26.3L73.0 26.3M69.9 26.3L70.5 26.3M71.6 23.0L72.6 23.5M77.3 33.8L74.3 32.9M77.3 33.8L74.7 36.0M74.3 32.9L73.4 35.8M74.7 36.0L73.4 35.8M76.8 37.5L74.7 36.0M77.7 33.7L77.3 33.8M77.7 33.7L78.0 32.5M81.8 33.2L80.4 31.9M78.0 32.5L80.4 31.9M63.9 35.2L66.5 35.8M63.4 32.2L65.3 32.0M65.3 32.0L67.1 33.3M64.6 29.0L66.3 29.8M85.4 23.1L85.4 23.8M85.4 23.8L82.4 25.0M81.8 23.0L82.3 24.9M82.4 25.0L82.3 24.9M101.6 76.1L100.9 75.6M77.7 76.3L74.2 77.2M74.2 77.2L73.4 76.8M69.2 67.5L67.0 67.8M70.4 69.5L68.4 70.6M67.0 67.8L66.9 70.3M68.4 70.6L66.9 70.3M72.0 73.4L71.9 73.5M72.0 73.4L72.1 71.5M72.1 71.5L70.6 69.6M68.5 73.7L68.4 70.6M70.6 69.6L70.4 69.5M73.8 51.6L72.8 54.1M72.8 54.1L69.8 54.4M69.4 51.8L69.4 53.8M69.4 53.8L69.8 54.4M73.8 51.6L75.3 51.4M75.3 51.4L76.9 52.2M72.8 54.1L73.9 55.2M73.9 55.2L74.7 55.1M74.7 55.1L76.9 52.2M80.3 46.1L81.1 48.3M80.3 46.1L78.2 47.0M77.5 48.3L79.0 50.4M81.1 48.3L79.0 50.4M105.5 57.8L103.3 60.2M103.3 60.2L104.6 62.7M91.5 50.5L89.2 51.7M87.0 49.3L89.2 51.7M94.2 49.7L96.0 51.4M94.2 49.7L91.8 50.9M91.8 50.9L92.2 52.4M92.6 53.0L92.2 52.4M94.4 49.3L96.9 48.2M96.1 51.4L97.5 50.1M96.1 51.4L96.0 51.4M97.7 49.2L96.9 48.2M91.5 50.5L91.8 50.9M89.2 51.7L88.3 53.5M88.3 53.5L92.2 52.4M103.4 65.8L102.0 65.6M104.1 66.9L101.2 67.8M101.2 67.8L102.0 65.6M105.0 69.8L103.2 70.4M101.2 67.8L101.1 67.9M100.3 61.7L102.6 63.1M100.3 61.7L99.2 64.8M102.6 63.1L101.3 64.8M99.2 64.8L101.3 64.8M102.6 63.1L104.3 62.8M95.5 59.0L95.6 59.2M95.5 59.0L92.7 58.1M95.6 59.2L93.9 61.7M92.7 58.1L92.5 58.2M92.5 58.2L92.2 61.8M93.9 61.7L92.2 61.8M92.0 57.8L92.5 58.2M92.2 61.9L89.9 61.8M73.5 40.4L76.2 40.2M73.5 40.4L72.1 38.0M72.1 38.0L72.4 37.4M72.4 37.4L76.3 39.6M76.3 39.6L76.2 40.2M69.9 39.3L72.1 38.0M72.8 36.1L72.4 37.4M70.9 34.7L68.9 35.2M79.1 44.3L76.3 43.8M78.6 41.2L76.8 41.3M76.3 43.8L76.1 43.7M80.3 46.1L80.7 44.8M80.7 44.8L79.1 44.3M76.7 45.1L76.3 43.8M79.4 41.0L78.6 41.2M76.2 40.2L76.8 41.3M73.6 44.3L73.8 44.4M81.8 43.7L81.6 44.1M81.8 43.7L84.2 42.8M81.6 44.1L83.1 45.7M83.1 45.7L85.5 45.7M84.2 42.8L84.7 43.0M81.0 41.8L81.8 43.7M80.7 44.8L81.6 44.1M83.8 48.3L83.0 48.9M81.1 48.3L83.0 48.9M86.7 46.9L85.5 45.7M88.4 39.3L88.7 40.8M88.5 41.1L88.7 40.8M69.0 51.0L69.4 51.8M69.4 53.8L66.3 53.6M66.3 53.6L64.9 52.2M96.1 51.4L97.1 53.9M98.8 54.1L97.1 53.9M92.8 53.8L95.6 55.0M97.1 53.9L95.6 55.0M95.5 59.0L96.4 57.2M92.7 58.1L95.6 55.7M96.4 57.2L95.6 55.7M92.8 53.8L92.1 54.9M92.1 54.9L92.0 57.8M34.4 79.1L36.3 76.4M37.5 80.3L38.6 77.3M36.3 76.4L36.4 76.4M38.6 77.3L36.4 76.4M41.4 78.5L40.4 77.7M40.4 77.7L39.0 77.1M38.6 77.3L39.0 77.1M42.2 67.8L41.1 67.8M42.2 67.8L42.6 67.6M41.1 67.8L40.6 66.2M43.5 64.3L43.1 64.1M36.4 41.6L37.6 38.8M36.4 41.6L36.5 42.5M39.7 42.9L38.0 43.3M38.0 43.3L36.6 42.7M36.5 42.5L36.6 42.7M69.2 66.2L69.2 67.5M69.2 66.2L68.1 65.1M65.6 66.4L66.7 65.3M65.6 66.4L67.0 67.8M68.1 65.1L66.7 65.3M54.6 69.6L54.6 68.2M55.7 70.4L57.5 71.0M57.8 66.7L58.4 67.9M58.3 70.5L57.5 71.0M52.7 70.9L52.5 72.7M52.7 70.9L54.6 69.6M52.5 72.7L55.2 73.0M58.1 73.4L55.7 74.3M58.1 73.4L57.5 71.0M55.2 73.0L55.7 74.3M52.7 70.9L51.0 70.3M51.0 70.3L51.1 66.9M54.6 68.2L53.9 67.0M53.9 67.0L51.1 66.9M42.6 67.6L45.1 67.9M43.5 64.3L44.4 64.1M44.4 64.1L46.3 65.2M-0.8 14.4L-3.4 13.2M-0.8 14.4L-1.0 16.6M0.3 13.8L-0.8 14.4M-2.9 10.9L-3.4 13.2M0.4 17.1L-1.0 16.6M7.5 13.1L9.4 15.2M7.5 13.1L6.5 15.3M6.5 15.3L8.4 16.1M9.4 15.2L8.4 16.1M11.2 15.1L9.4 15.2M7.6 12.0L7.5 13.1M5.4 16.0L6.5 15.3M8.7 17.6L8.4 16.1M19.2 27.8L16.4 28.1M15.8 24.8L14.7 26.8M11.2 25.6L11.2 24.2M11.2 25.6L14.2 27.1M14.7 26.8L14.2 27.1M13.0 29.4L12.3 31.2M13.0 29.4L9.0 27.3M8.6 27.4L10.8 31.1M12.3 31.2L10.8 31.1M13.4 29.1L14.2 27.1M13.4 29.1L13.0 29.4M7.9 23.5L7.3 24.2M8.6 27.4L8.1 27.4M8.1 27.4L7.3 24.2M4.0 22.3L4.6 23.7M4.6 23.7L7.3 24.2M3.1 30.8L4.1 30.0M5.5 33.6L5.8 31.6M8.8 32.6L5.9 34.2M8.9 31.9L7.7 30.7M5.8 31.6L7.7 30.7M8.9 31.9L10.8 31.1M7.7 30.7L7.6 27.7M25.1 33.6L21.2 33.6M25.1 33.6L23.3 35.9M23.3 35.9L21.2 33.6M22.0 31.0L21.2 33.6M25.4 33.4L25.7 32.6M21.2 33.6L21.2 33.6M2.1 3.5L-0.4 1.7M0.6 6.0L-2.1 3.0M3.1 3.3L2.1 3.5M-0.4 1.4L-0.4 1.7M-3.2 3.3L-2.1 3.0M44.3 -2.0L44.8 -2.0M44.3 -2.0L45.4 1.4M44.8 -2.0L47.2 0.8M45.4 1.4L47.2 0.8M38.0 24.5L36.0 24.4M35.6 28.1L34.3 25.5M36.0 24.4L34.3 25.5M32.4 26.8L33.3 25.7M34.3 25.5L33.3 25.7M29.9 26.9L29.9 24.6M26.2 26.2L28.1 23.7M29.9 24.6L28.1 23.7M22.1 -2.6L22.9 -4.8M24.2 -1.0L24.4 -4.2M28.1 14.2L29.4 13.6M25.3 12.3L27.6 9.4M29.4 13.6L27.6 9.4M31.9 14.8L31.8 15.7M29.4 13.6L29.9 13.5M32.7 10.3L30.0 13.3M33.2 14.5L31.9 14.8M29.9 13.5L30.0 13.3M32.6 9.4L33.7 8.1M32.6 9.4L29.3 8.8M29.6 6.1L29.0 8.6M29.6 6.1L29.8 5.8M29.3 8.8L29.0 8.6M33.7 8.1L30.4 6.0M33.7 8.1L33.7 8.1M30.4 6.0L29.8 5.8M36.3 12.4L37.4 11.7M30.0 13.3L29.3 8.8M26.7 5.4L29.6 6.1M27.9 8.9L29.0 8.6M30.0 4.4L29.8 5.8M33.2 5.4L30.4 6.0M33.6 6.0L33.7 8.1M35.9 4.3L36.0 4.3M30.5 3.6L32.0 2.7M49.1 -1.7L50.8 -3.5M49.4 0.4L51.9 1.0M52.4 -3.4L53.6 -1.0M53.6 -1.0L52.8 0.4M51.9 1.0L52.8 0.4M47.1 -2.9L44.8 -2.0M47.2 0.8L48.4 1.2M56.7 7.8L59.2 8.9M60.1 7.3L59.8 6.3M56.9 6.8L59.8 6.3M63.8 8.4L62.6 8.5M63.8 8.4L63.7 7.0M60.1 7.3L62.6 8.5M59.8 6.3L60.6 4.2M44.3 -2.0L44.0 -2.1M43.9 -5.4L44.0 -2.1M32.2 2.5L30.1 0.4M27.4 1.0L27.6 0.8M30.1 0.4L27.6 0.8M33.8 0.8L37.3 1.1M33.8 0.8L33.5 -1.4M33.5 -1.4L33.6 -1.5M33.6 -1.5L38.1 -1.2M37.3 1.1L38.7 0.4M38.7 0.4L38.1 -1.2M33.2 1.8L33.8 0.8M36.3 4.0L37.3 1.1M38.1 -3.8L38.1 -1.2M34.7 -3.5L33.6 -1.5M69.4 6.5L71.5 5.6M68.0 4.9L68.4 2.9M71.3 2.6L70.8 1.9M68.4 2.9L70.8 1.9M63.8 -2.8L63.7 -2.8M63.8 -2.8L65.2 -2.1M63.7 -2.8L65.5 -5.4M55.5 -1.3L56.1 -0.9M55.5 -1.3L53.6 -1.0M52.8 0.4L54.3 1.4M54.3 1.4L56.2 1.0M56.1 -0.9L56.2 1.0M62.8 2.8L64.8 5.1M62.8 2.8L64.0 1.2M64.0 1.2L65.7 1.2M65.7 1.2L66.0 4.7M60.8 3.7L62.8 2.8M60.8 3.7L60.6 4.0M60.6 4.2L60.6 4.0M63.1 -0.1L64.0 1.2M63.1 -0.1L63.8 -2.8M65.2 -2.1L66.6 0.4M66.3 0.9L66.6 0.4M66.3 0.9L65.7 1.2M68.4 2.9L66.3 0.9M63.8 8.4L63.8 8.4M101.0 29.0L101.2 31.1M101.0 29.0L97.7 28.3M99.5 31.0L97.9 30.3M97.7 28.3L97.9 30.3M101.7 31.5L101.3 31.2M101.3 31.2L101.2 31.1M97.3 27.8L97.7 28.3M100.9 25.5L101.7 26.2M48.5 26.5L49.0 25.3M46.4 23.8L47.9 24.3M55.6 32.4L55.8 30.2M53.3 30.5L54.2 29.9M54.2 29.9L55.8 30.2M59.6 31.7L57.2 29.4M55.8 30.2L57.2 29.4M62.2 28.1L57.5 28.4M57.2 29.4L57.5 28.4M58.1 25.5L58.5 25.3M58.1 25.5L57.4 27.6M57.5 28.4L57.4 27.6M37.8 32.3L35.8 32.9M34.0 32.0L34.2 32.4M35.8 32.9L34.2 32.4M39.9 35.2L36.5 35.2M37.6 38.6L36.2 37.6M36.5 35.2L36.2 37.6M36.4 41.6L33.4 40.1M33.4 40.1L34.4 38.2M34.4 38.2L35.0 37.6M36.2 37.6L35.0 37.6M31.0 40.9L31.1 37.9M31.0 40.9L28.3 40.8M25.8 37.3L26.6 36.0M53.8 23.2L54.3 23.7M53.8 23.2L52.0 26.2M54.3 23.7L55.0 26.7M55.0 26.7L53.0 27.6M52.0 26.2L52.2 27.0M53.8 23.1L54.5 22.4M58.4 22.2L59.0 24.3M58.1 25.5L54.3 23.7M53.8 23.1L51.4 21.6M49.4 25.2L52.0 26.2M57.4 27.6L55.0 26.7M54.2 29.9L53.0 27.6M50.9 28.2L52.2 27.0M49.4 25.2L49.0 25.3M51.1 76.7L52.6 74.4M51.1 76.7L49.4 77.1M49.4 77.1L48.8 73.7M52.6 74.4L52.3 73.6M52.3 73.6L49.0 73.6M48.8 73.7L49.0 73.6M53.7 79.0L51.1 76.7M54.9 78.4L55.3 77.3M55.3 77.3L54.8 75.5M54.8 75.5L55.7 74.3M52.5 72.7L52.3 73.6M49.8 70.4L49.1 71.5M49.8 70.4L51.0 70.3M49.1 71.5L49.0 73.6M27.4 41.2L27.2 41.9M25.3 39.7L23.0 41.4M23.9 44.0L23.0 41.4M23.9 44.0L26.1 43.4M27.2 41.9L26.1 43.4M2.4 43.3L3.9 41.7M2.4 43.3L1.3 42.2M1.3 42.2L2.9 40.3M3.9 41.7L2.9 40.3M6.0 34.4L6.7 35.9M6.7 35.9L3.4 38.4M2.3 36.5L3.2 38.4M23.3 46.0L23.2 44.9M23.3 46.0L22.4 47.1M19.3 44.4L20.0 43.7M22.4 47.1L21.0 46.9M16.8 53.3L19.0 54.3M16.8 53.3L16.2 54.4M19.0 54.3L19.0 55.7M16.2 54.4L15.7 56.8M15.7 56.8L16.1 57.7M16.1 57.7L19.0 55.7M36.3 76.4L32.3 75.6M32.3 75.6L32.3 75.5M35.3 73.4L36.2 73.8M39.0 77.1L39.7 74.1M39.7 74.1L38.6 73.0M36.2 73.8L38.6 73.0M4.7 78.9L7.8 77.4M9.2 78.8L8.3 77.5M7.8 77.4L8.3 77.5M-2.6 76.8L-2.7 76.7M-2.7 76.7L-6.0 75.9M-2.7 76.7L-1.9 74.1M14.0 37.0L13.0 33.6M14.0 37.0L16.2 35.7M14.5 33.1L13.2 33.2M13.2 33.2L13.0 33.6M-2.0 54.0L-1.8 54.1M-1.8 54.1L-1.7 54.2M-0.5 50.9L-2.0 49.6M-0.5 50.9L-1.8 54.1M-3.3 50.3L-2.0 54.0M0.0 39.7L-0.1 41.8M0.0 39.7L-1.7 38.1M-1.7 38.1L-2.7 38.9M-0.5 42.1L-3.2 40.2M-0.5 42.1L-0.1 41.8M-2.7 38.9L-3.2 40.2M1.3 42.2L-0.1 41.8M2.9 40.3L2.9 38.8M2.9 38.8L0.0 39.7M-1.4 36.1L-1.7 38.1M2.9 38.8L3.2 38.4M-5.8 38.0L-2.7 38.9M-1.5 43.8L-3.1 44.4M-2.0 49.6L-1.9 47.7M72.6 49.3L71.2 48.4M72.6 49.3L74.4 47.6M73.8 45.7L70.8 47.7M73.8 45.7L74.4 47.6M70.8 47.7L71.2 48.4M72.8 50.4L72.6 49.3M69.0 51.0L71.2 48.4M75.3 51.4L75.9 48.3M75.9 48.3L74.4 47.6M75.9 48.3L75.9 48.3M68.8 50.8L67.5 49.1M61.1 40.4L63.1 40.7M63.1 40.7L64.6 40.4M62.6 36.7L61.4 37.9M62.6 36.7L64.6 39.7M64.6 39.7L64.6 40.4M58.6 36.4L61.4 37.9M59.5 40.3L60.2 40.8M60.2 40.8L61.1 40.4M62.7 43.5L63.1 40.7M62.7 43.5L65.5 43.4M65.0 40.6L64.6 40.4M62.6 36.7L62.6 36.7M66.5 35.9L64.6 39.7M103.9 22.8L100.9 22.8M100.9 25.5L100.3 24.0M100.9 22.8L100.3 24.0M86.3 24.8L85.4 23.8M86.3 24.8L88.4 24.5M88.2 21.4L89.0 23.0M89.0 23.0L88.4 24.5M85.7 27.0L86.3 24.8M85.7 27.0L86.8 27.7M89.0 26.7L88.9 25.2M88.4 24.5L88.9 25.2M81.0 12.1L82.9 10.4M81.0 12.1L82.4 14.3M82.4 14.3L84.3 13.0M84.3 13.0L84.3 10.8M84.3 10.8L82.9 10.4M79.2 11.6L79.8 9.3M79.2 11.6L81.0 12.1M82.2 8.8L82.9 10.4M82.4 14.5L82.4 14.3M78.3 12.7L78.6 11.9M78.0 21.7L76.5 21.6M78.0 21.7L79.7 23.1M79.7 23.1L79.4 24.4M76.5 21.6L76.1 21.8M79.4 24.4L78.3 25.8M76.1 22.0L77.0 25.6M77.0 25.6L78.3 25.8M77.6 17.9L76.5 21.6M81.5 19.7L78.0 21.7M81.8 23.0L79.7 23.1M82.3 24.9L82.1 24.9M82.1 24.9L79.4 24.4M72.9 19.4L76.1 21.8M79.1 26.3L82.1 24.9M79.1 26.3L78.3 25.8M73.3 23.8L76.1 22.0M76.4 26.3L73.3 26.0M76.4 26.3L77.0 25.6M56.7 7.8L56.1 8.5M59.2 8.9L59.5 10.8M56.5 11.2L58.8 11.6M58.8 11.6L59.5 10.8M62.6 8.5L60.5 10.5M59.5 10.8L60.5 10.5M58.9 20.5L59.9 20.2M61.6 23.9L60.3 20.4M60.3 20.4L59.9 20.2M58.7 16.3L61.0 17.3M58.1 15.7L59.5 13.3M61.0 17.3L61.1 17.2M61.1 17.2L62.7 14.1M59.5 13.3L62.7 14.1M58.4 20.0L58.7 16.3M57.9 15.7L58.1 15.7M59.9 20.2L61.0 17.3M58.8 11.6L59.5 13.3M72.3 -2.8L75.7 -1.9M76.7 -2.4L76.1 -4.3M76.7 -2.4L75.7 -1.9M69.0 7.6L71.5 9.4M71.6 5.7L73.6 8.3M71.5 9.4L73.5 8.7M73.5 8.7L73.8 10.6M78.6 11.9L76.8 10.3M75.0 12.9L74.9 11.1M76.8 10.3L74.9 11.1M71.9 12.1L72.6 14.4M96.9 -2.5L100.6 -0.5M96.9 -2.5L96.9 -2.7M97.8 -4.2L96.9 -2.7M104.4 -2.0L104.0 -0.6M100.6 -0.5L100.7 -0.2M100.7 -0.2L104.0 -0.6M110.1 1.7L104.0 -0.6M104.0 -0.6L104.0 -0.6M101.8 32.7L99.3 34.8M101.3 31.2L98.3 33.7M99.3 34.8L98.3 33.7M102.5 36.1L99.7 35.9M99.3 34.8L99.7 35.9M74.7 31.2L73.0 29.1M73.2 28.5L76.2 28.0M73.2 28.5L73.0 29.1M76.2 28.0L76.9 29.6M74.3 32.9L74.2 32.0M78.0 32.5L76.6 30.5M74.2 32.0L74.7 31.2M76.4 26.3L76.2 28.0M73.0 26.3L73.2 28.5M69.5 26.8L69.3 27.3M73.0 29.1L71.0 29.7M71.0 29.7L69.3 27.3M66.7 27.1L68.2 27.8M66.3 29.8L67.1 29.7M67.1 29.7L68.2 27.8M70.8 32.0L70.8 32.0M70.8 32.0L70.6 30.8M70.6 30.8L67.5 30.3M67.7 32.5L67.5 30.3M67.1 33.3L67.7 32.5M74.2 32.0L70.8 32.0M67.1 29.7L67.5 30.3M80.7 30.3L79.7 28.9M80.7 30.3L83.5 29.4M79.7 28.9L79.9 28.0M79.9 28.0L82.9 26.9M83.7 28.9L83.5 29.4M83.7 28.9L83.8 27.7M83.8 27.7L82.9 26.9M80.4 31.9L80.7 30.3M76.9 29.6L79.7 28.9M84.1 31.7L83.5 29.4M79.1 26.3L79.9 28.0M82.4 25.0L82.9 26.9M87.1 30.3L83.7 28.9M85.7 27.0L83.8 27.7M79.6 78.4L82.0 77.9M82.0 77.9L82.1 78.0M72.0 73.4L75.2 73.5M73.4 76.8L75.7 73.9M75.2 73.5L75.7 73.9M70.6 69.6L73.2 67.0M69.2 66.2L72.4 64.9M73.2 67.0L72.9 65.7M69.5 62.4L68.1 65.1M71.8 62.2L72.1 62.5M83.0 48.9L82.9 50.5M87.0 49.3L86.7 50.4M86.7 50.4L84.1 52.1M84.1 52.1L82.9 50.5M101.6 59.7L99.9 60.2M101.6 59.7L102.6 56.7M99.5 60.0L98.9 57.4M99.5 60.0L99.9 60.2M99.5 56.2L98.9 57.4M100.3 61.7L99.9 60.2M105.5 57.7L102.6 56.7M97.6 60.7L99.5 60.0M96.4 57.2L98.9 57.4M102.8 54.6L102.3 56.2M98.8 54.1L99.5 56.2M91.7 42.0L91.1 44.2M92.7 41.9L94.0 44.3M91.1 44.2L91.7 46.7M94.0 44.3L93.7 46.0M93.7 46.0L93.1 46.4M91.7 46.7L93.1 46.4M88.7 40.8L91.7 42.0M93.5 39.1L93.3 41.3M91.5 46.9L91.7 46.7M96.7 47.0L96.9 48.2M96.7 47.0L93.7 46.0M94.4 49.3L93.1 46.4M95.6 38.2L96.0 37.2M95.6 38.2L97.3 40.9M97.3 40.9L98.6 40.8M99.0 37.1L96.0 37.2M98.6 40.8L99.1 37.5M103.2 37.4L101.3 38.7M99.0 37.1L99.7 35.9M103.8 41.1L102.1 41.8M101.3 38.7L101.1 41.6M102.1 41.8L101.1 41.6M102.1 41.8L102.7 44.4M102.7 44.4L101.6 46.0M98.6 40.8L100.4 41.8M99.6 48.9L99.8 45.6M93.3 41.3L95.8 41.4M94.0 44.3L95.2 43.9M95.8 41.4L95.2 43.9M95.6 38.2L93.5 39.1M97.3 40.9L97.1 41.1M95.8 41.4L97.1 41.1M97.2 46.3L99.7 45.5M97.2 46.3L96.8 44.0M96.8 44.0L97.0 43.8M99.7 45.5L99.6 43.7M96.7 47.0L97.2 46.3M99.8 45.6L99.7 45.5M95.2 43.9L96.8 44.0M97.1 41.1L97.0 43.8M100.4 41.8L99.6 43.7M92.2 77.9L92.0 76.4M92.0 76.4L90.5 75.6M85.6 79.3L86.2 76.9M82.1 78.0L85.4 76.0M85.4 76.0L86.2 76.9M88.6 76.7L88.6 76.7M86.2 76.9L88.6 76.7M82.0 77.9L81.9 76.6M85.4 76.0L85.0 74.5M81.9 76.6L82.2 75.0M85.0 74.5L82.2 75.0M104.5 73.6L101.7 72.3M100.9 75.6L100.5 74.3M88.6 76.7L87.8 73.0M85.0 74.5L85.5 73.3M85.5 73.3L87.5 72.8M90.9 73.0L90.5 75.6M90.9 73.0L90.8 72.9M87.8 73.0L90.8 72.9M64.5 46.1L64.0 46.3M62.7 43.5L61.4 45.6M61.4 45.6L61.5 45.9M64.0 46.3L61.5 45.9M69.8 54.4L69.6 55.3M66.3 53.6L65.1 56.4M69.6 55.3L66.7 56.5M65.1 56.4L66.7 56.5M69.6 55.3L69.9 57.1M41.7 44.6L39.4 46.4M38.0 43.3L38.1 45.9M39.4 46.4L38.1 45.9M42.0 44.6L42.8 46.4M42.8 46.4L42.6 48.2M42.0 48.6L39.9 49.0M39.4 46.4L39.9 49.0M34.1 42.8L32.8 44.9M34.1 42.8L32.3 40.8M31.0 40.9L31.1 41.7M31.0 40.9L31.0 40.9M31.1 37.9L31.5 37.5M29.6 44.8L27.2 41.9M29.6 44.8L31.1 41.7M26.8 59.8L25.1 58.2M26.8 59.8L29.2 60.0M29.2 60.0L29.3 59.6M26.6 56.7L25.3 57.6M65.1 72.9L64.6 72.2M64.6 72.2L61.6 74.8M65.6 66.4L65.4 66.4M65.4 66.4L63.6 67.9M63.6 67.9L65.2 70.8M64.6 72.2L64.6 72.0M65.2 70.8L64.6 72.0M60.5 73.8L61.3 71.1M64.6 72.0L61.3 71.1M58.1 73.4L58.3 73.6M58.3 70.5L60.8 70.2M58.3 73.6L60.5 73.8M57.3 62.2L57.2 61.4M57.2 61.4L58.8 59.6M60.9 59.9L61.4 61.8M60.9 59.9L60.7 59.6M60.7 59.6L58.8 59.6M63.1 52.7L64.3 56.6M63.1 52.7L61.0 56.1M64.3 56.6L61.6 56.8M61.0 56.1L61.6 56.8M54.1 65.4L53.0 63.9M54.1 65.4L56.8 63.8M56.8 63.2L56.8 63.8M56.8 63.2L53.6 62.5M53.0 63.9L53.5 62.6M53.6 62.5L53.5 62.6M58.2 65.8L57.8 66.7M53.9 67.0L54.1 65.4M60.4 63.2L60.5 65.3M50.4 61.3L53.5 62.6M53.0 63.9L50.9 64.0M50.3 63.4L50.9 64.0M51.1 66.9L50.7 66.7M50.9 64.0L50.7 66.7M40.6 66.2L39.7 64.3M43.1 64.1L41.6 62.9M42.2 61.2L42.3 57.3M42.2 61.2L41.7 61.7M42.3 57.3L41.9 57.0M40.3 57.5L41.9 57.0M40.3 57.5L39.8 60.5M41.7 61.7L39.8 60.5M45.0 57.9L46.1 57.3M45.0 57.9L44.9 60.9M47.8 57.6L47.3 61.4M44.9 60.9L45.2 61.3M45.2 61.3L47.0 61.6M47.0 61.6L47.3 61.4M42.2 61.2L44.9 60.9M42.3 57.3L45.0 57.9M44.4 64.1L45.2 61.3M41.6 62.9L41.7 61.7M46.3 65.2L47.4 64.9M47.7 64.3L47.4 64.9M47.7 64.3L47.0 61.6M50.4 61.3L50.4 61.1M50.4 61.1L47.3 61.4M50.3 63.4L47.7 64.3M47.7 44.7L48.8 46.4M47.7 44.7L46.4 44.7M48.8 46.4L46.2 47.3M46.4 44.7L45.9 46.2M45.9 46.2L46.2 47.3M49.8 43.2L47.7 44.7M51.5 44.0L50.4 47.5M50.4 47.5L50.2 47.5M50.2 47.5L48.8 46.4M46.1 44.3L46.4 44.7M46.3 49.0L50.2 47.5M46.3 49.0L46.2 47.3M42.8 46.4L45.9 46.2M42.6 48.2L46.0 49.6M46.0 49.6L46.3 49.0M16.9 29.9L14.3 29.6M16.9 29.9L17.9 31.2M14.3 29.6L16.7 32.2M17.9 31.2L17.6 32.0M17.6 32.0L16.7 32.2M13.4 29.1L14.3 29.6M16.4 28.1L16.9 29.9M18.8 30.5L17.9 31.2M12.3 31.2L13.2 33.2M14.5 33.1L16.7 32.2M21.2 33.6L19.4 34.4M18.8 34.0L19.4 34.4M18.8 34.0L17.6 32.0M18.8 34.0L16.2 35.6M4.3 29.1L7.5 27.8M7.5 27.8L3.6 25.5M3.6 25.5L2.6 26.2M2.6 26.2L2.4 26.9M7.6 27.7L7.5 27.8M4.1 30.0L4.3 29.1M0.0 28.1L2.4 26.9M4.6 23.7L3.6 25.5M0.9 24.2L2.6 26.2M45.6 6.0L44.6 4.7M45.6 6.0L48.3 2.9M48.3 2.9L48.2 2.5M44.6 4.7L44.3 3.6M41.3 6.7L44.6 4.7M45.7 6.3L45.6 6.0M50.0 5.4L48.3 2.9M50.0 5.4L52.1 3.3M52.1 3.3L51.9 1.0M48.4 1.2L48.2 2.5M45.4 1.4L44.0 2.8M44.0 2.8L43.9 3.1M43.9 3.1L44.3 3.6M40.2 3.8L40.3 3.6M40.3 3.6L43.9 3.1M28.3 20.3L29.9 20.8M28.3 20.3L26.2 22.3M26.2 22.3L27.9 23.0M25.4 22.3L26.2 22.3M28.1 23.7L27.9 23.0M29.9 20.8L31.0 23.2M29.9 20.8L31.5 19.1M32.1 23.4L34.0 21.8M32.1 23.4L31.0 23.2M33.1 19.4L34.0 21.5M34.0 21.8L34.0 21.5M29.9 24.6L31.0 23.2M29.9 20.8L29.9 20.8M31.2 18.2L31.5 19.1M33.3 25.7L32.1 23.4M31.8 15.7L35.0 18.1M35.0 18.1L33.1 19.4M38.2 24.0L36.1 21.1M36.1 21.1L34.0 21.5M56.2 5.2L57.0 3.5M56.2 5.2L54.2 5.3M54.9 2.7L56.9 3.2M54.9 2.7L53.4 3.9M56.9 3.2L57.0 3.5M53.4 3.9L54.2 5.3M56.9 6.8L56.2 5.2M60.6 4.0L57.0 3.5M54.1 5.5L54.2 5.3M54.3 1.4L54.9 2.7M57.0 2.2L56.2 1.0M57.0 2.2L56.9 3.2M60.8 3.7L59.5 -0.3M57.0 2.2L59.5 -0.3M40.3 3.6L39.6 1.3M38.7 0.4L39.0 0.5M39.0 0.5L39.6 1.3M44.0 -2.1L43.8 -2.0M43.2 0.5L43.8 -2.0M38.5 -4.1L41.6 -1.6M40.2 -4.9L42.7 -2.0M41.6 -1.6L42.7 -2.0M39.0 0.5L41.6 -1.6M43.8 -2.0L42.7 -2.0M27.9 -1.7L31.0 -2.2M27.9 -1.7L27.1 -2.8M26.9 -3.6L27.1 -2.8M31.1 -2.3L31.0 -2.2M30.1 0.4L31.0 -2.2M24.4 -0.9L27.1 -2.8M70.7 0.6L67.7 -0.5M70.7 0.6L71.9 -1.0M71.9 -1.0L71.9 -1.8M71.9 -1.8L68.0 -1.9M68.0 -1.9L67.7 -0.5M66.6 0.4L67.7 -0.5M74.9 0.9L75.7 -1.9M72.3 -2.8L71.9 -1.8M67.8 -3.3L68.0 -1.9M60.1 -0.6L59.5 -0.5M60.1 -0.6L62.6 -3.3M59.3 -0.8L59.2 -2.2M59.2 -2.2L59.8 -3.6M59.5 -0.3L59.5 -0.5M63.7 -2.8L62.6 -3.3M56.1 -0.9L59.3 -0.8M56.3 -3.8L59.2 -2.2M105.1 10.8L101.4 10.2M104.8 8.3L101.4 10.2M47.0 20.1L46.7 21.2M47.0 20.1L51.0 19.8M46.7 21.2L49.2 22.0M49.2 22.0L51.2 21.4M51.0 19.8L51.2 21.4M51.0 19.7L51.0 19.8M47.4 17.5L46.8 19.0M46.8 19.0L47.0 20.1M45.5 22.5L45.7 22.2M45.7 22.2L46.7 21.2M47.9 24.3L49.2 22.0M51.4 21.6L51.2 21.4M32.3 35.3L29.4 35.2M32.3 35.3L32.9 34.9M33.1 34.3L32.9 34.9M33.1 34.3L29.9 33.4M29.4 35.2L29.2 33.5M29.9 33.4L29.2 33.5M31.5 37.5L32.3 35.3M28.9 36.1L29.4 35.2M35.0 37.6L32.9 34.9M34.2 32.4L33.1 34.3M32.2 31.8L29.9 33.4M26.6 36.0L25.4 33.4M28.6 32.9L29.2 33.5M42.2 20.8L41.5 19.8M41.5 19.8L42.1 17.2M44.4 19.6L44.5 18.9M44.5 18.9L43.4 17.1M43.4 17.1L42.1 17.2M42.7 22.8L42.2 20.8M38.7 23.5L39.0 20.3M39.0 20.3L41.5 19.8M45.7 22.2L44.4 19.6M46.8 19.0L44.5 18.9M42.1 17.2L41.1 16.4M40.9 15.6L41.1 16.4M41.5 12.0L40.5 14.8M37.5 11.8L38.9 14.1M38.3 19.5L38.8 17.4M38.3 19.5L36.9 19.5M36.9 19.5L35.0 18.1M35.0 18.1L35.6 16.1M39.0 20.3L38.3 19.5M41.1 16.4L38.8 17.4M36.1 21.1L36.9 19.5M35.0 18.1L35.0 18.1M38.9 14.1L37.0 16.2M34.9 14.8L35.6 16.1M23.9 44.0L23.2 44.9M23.0 41.4L21.5 40.9M21.5 40.9L20.1 41.4M-1.5 43.8L1.1 45.4M-1.9 47.7L1.0 47.3M1.1 45.4L2.6 44.3M22.4 47.1L22.4 48.6M22.4 48.6L20.9 49.0M21.0 46.9L19.4 47.6M20.9 49.0L19.4 47.6M21.0 59.6L20.0 58.6M21.0 59.6L22.8 57.6M20.0 58.6L20.3 57.1M20.3 57.1L21.8 56.3M22.8 57.6L21.8 56.3M25.1 58.2L22.4 61.5M25.1 58.1L22.8 57.6M21.9 61.5L22.4 61.5M21.9 61.5L21.0 59.6M16.5 59.1L20.0 58.6M16.5 59.1L16.2 58.6M16.2 58.6L16.1 57.7M19.0 55.7L20.3 57.1M19.0 54.3L20.4 53.6M20.4 53.6L22.8 54.0M22.8 54.0L21.8 56.3M23.1 54.0L22.9 54.0M23.1 54.0L25.3 57.6M22.9 54.0L22.8 54.0M36.7 68.1L35.4 67.2M36.7 68.1L35.1 70.7M35.4 67.2L32.9 67.4M33.1 70.7L34.4 71.2M37.8 68.2L36.7 68.1M37.8 68.2L38.1 64.4M36.0 64.7L35.4 67.2M39.5 69.1L39.4 69.7M39.5 69.1L37.8 68.2M32.3 75.5L30.7 73.4M32.1 71.2L30.7 73.4M32.1 71.2L33.1 70.7M38.7 71.2L38.6 73.0M33.6 63.5L32.3 63.2M33.6 63.5L32.7 67.2M32.3 63.2L31.1 65.4M31.7 67.0L32.7 67.2M34.3 63.2L33.6 63.5M34.3 63.2L36.0 64.7M32.9 67.4L32.7 67.2M29.0 63.2L29.9 62.0M30.1 67.5L29.9 69.7M30.1 67.5L31.7 67.0M8.8 75.7L10.8 75.2M10.7 74.5L10.8 75.2M10.7 74.5L8.6 72.8M8.6 72.8L7.4 73.5M11.1 75.4L10.8 75.2M8.3 77.5L8.8 75.7M5.1 72.4L2.3 73.7M5.1 72.4L6.0 73.3M6.0 73.3L5.6 75.6M1.7 75.0L2.3 73.7M1.7 75.0L4.5 76.7M4.5 76.7L5.6 75.6M7.4 73.5L6.0 73.3M4.4 78.7L4.5 76.7M5.1 71.5L4.9 70.8M0.7 71.8L2.4 69.8M0.7 71.8L2.3 73.7M4.9 70.8L2.4 69.8M17.8 78.2L17.5 76.5M13.7 77.2L14.4 75.3M16.6 75.4L14.4 75.3M16.5 59.2L17.6 61.1M16.5 59.2L13.8 62.8M17.6 61.1L15.6 64.5M13.8 62.8L14.5 64.1M14.5 64.1L15.6 64.5M12.9 65.9L12.8 66.5M16.3 65.0L15.6 64.5M17.7 70.2L17.8 68.6M17.7 70.2L18.7 71.9M20.8 68.7L21.1 70.5M20.8 68.7L19.4 68.2M19.4 68.2L17.8 68.6M21.1 70.5L18.7 71.9M22.0 73.8L22.2 71.4M22.0 73.8L25.3 73.9M25.9 72.5L25.3 73.9M-6.1 61.6L-1.6 63.3M-1.6 63.3L-1.1 62.4M-1.1 62.4L-2.9 59.4M-3.2 56.4L-2.7 59.2M-2.7 59.2L-2.9 59.4M3.9 41.7L5.8 42.1M3.4 38.4L6.3 40.0M5.8 42.1L6.3 40.0M6.7 35.9L6.9 36.0M6.9 36.0L8.1 38.0M8.1 38.1L8.1 38.0M8.1 38.1L6.3 39.9M8.1 38.1L11.1 41.4M6.3 39.9L10.6 42.2M12.9 38.6L10.6 36.8M12.9 38.6L12.1 40.8M10.6 36.8L8.1 38.0M11.1 41.4L12.1 40.8M20.7 50.9L19.8 50.0M20.7 50.9L20.2 52.4M20.2 52.4L18.1 51.0M19.8 50.0L18.6 49.9M18.1 51.0L18.6 49.9M16.8 53.3L16.5 52.5M20.4 53.6L20.2 52.4M18.1 51.0L16.5 52.5M12.2 34.1L10.7 35.8M12.2 34.1L9.2 33.3M9.2 33.3L9.2 34.8M13.8 37.9L12.9 38.6M13.8 37.9L14.0 37.0M10.6 36.8L10.7 35.8M8.8 32.6L9.2 33.3M6.9 36.0L9.2 34.8M86.4 10.1L87.0 7.9M85.6 10.2L83.3 6.5M87.0 7.9L86.6 7.1M86.6 7.1L83.6 6.3M83.6 6.3L83.3 6.5M82.2 8.8L82.9 6.6M82.9 6.6L83.3 6.5M84.3 10.8L85.6 10.2M103.0 19.7L102.5 19.8M100.9 22.8L100.7 21.6M61.9 20.5L62.8 18.1M61.9 20.5L63.1 21.3M63.1 21.3L63.8 21.2M62.8 18.1L64.3 18.1M64.2 20.9L63.8 21.2M64.2 20.9L64.7 18.6M64.7 18.6L64.3 18.1M60.3 20.4L61.9 20.5M61.1 17.2L62.8 18.1M61.6 23.9L63.1 21.3M65.4 24.5L63.8 21.2M68.2 21.5L64.2 20.9M68.4 20.6L67.3 18.8M67.3 18.8L64.7 18.6M71.2 18.9L69.6 16.3M67.3 18.8L67.9 16.4M67.9 16.4L69.6 16.3M72.5 14.5L70.8 15.0M69.6 16.3L70.8 15.0M75.2 7.8L76.7 9.7M75.2 7.8L76.1 6.3M76.7 9.7L78.9 7.7M76.1 6.3L78.2 5.9M78.9 7.7L78.8 6.0M78.8 6.0L78.2 5.9M73.6 8.3L75.2 7.8M76.8 10.3L76.7 9.7M74.6 4.7L76.1 6.3M79.8 9.3L78.9 7.7M76.5 2.8L78.2 5.9M80.4 5.0L78.8 6.0M76.7 1.8L76.9 1.7M80.4 5.0L80.4 4.5M80.4 4.5L79.1 2.2M76.9 1.7L79.1 2.2M93.7 0.6L91.4 -0.3M93.7 0.6L93.6 -1.2M91.3 -3.8L93.6 -1.2M96.9 -2.5L96.3 0.7M96.9 -2.7L95.4 -3.0M93.6 -1.2L95.4 -3.0M98.1 33.7L96.8 32.0M98.1 33.7L95.4 35.8M96.8 32.0L95.3 32.0M95.0 35.5L95.4 35.8M95.0 35.5L95.3 32.1M95.3 32.0L95.3 32.1M99.5 31.0L98.1 33.7M96.0 37.2L95.4 35.8M96.4 27.8L97.2 27.7M97.2 27.7L97.3 27.8M94.4 31.0L95.3 32.0M92.4 35.3L95.0 35.5M92.3 34.2L95.3 32.1M73.2 67.0L75.3 68.2M75.3 68.2L74.4 70.8M75.2 73.5L75.0 71.3M74.4 70.8L75.0 71.3M72.9 59.6L73.3 57.3M73.7 56.9L73.3 57.3M73.7 56.9L76.2 58.5M76.2 58.5L76.1 59.3M72.0 60.6L72.9 59.6M69.9 57.1L73.3 57.3M73.9 55.2L73.7 56.9M74.7 55.1L77.4 56.1M77.4 56.1L77.5 57.1M76.9 52.2L77.9 52.3M78.4 54.7L77.9 52.3M82.9 50.5L80.5 51.7M77.9 52.3L79.0 51.2M81.9 53.7L80.6 55.2M85.2 62.7L88.3 62.5M85.2 62.7L84.8 61.5M84.8 61.5L86.1 60.8M86.1 60.8L88.2 62.3M88.2 62.7L88.3 62.5M86.1 65.4L84.4 65.4M84.1 65.0L85.2 62.7M89.8 58.0L88.1 57.4M89.9 61.8L88.3 62.4M92.2 61.9L92.5 64.6M92.5 64.6L90.6 66.0M90.6 66.0L88.2 62.7M84.6 72.3L81.3 72.0M84.6 72.3L85.5 73.3M81.3 72.0L81.2 73.7M81.9 76.6L78.3 75.2M81.2 73.7L78.3 75.2M77.7 76.3L77.9 75.3M75.7 73.9L77.2 74.2M77.2 74.2L77.9 75.3M77.9 75.3L78.3 75.2M94.3 65.2L96.9 64.0M94.3 65.2L94.6 62.1M94.6 62.1L96.6 62.6M92.5 64.6L94.1 65.4M97.6 60.7L96.6 62.6M97.0 74.6L94.3 73.5M97.0 74.6L96.6 76.8M96.6 76.8L95.3 77.5M93.8 74.6L93.8 73.9M95.3 77.5L95.3 77.5M98.8 77.4L96.6 76.8M98.6 73.7L97.0 74.6M95.7 80.4L95.3 77.5M90.9 73.0L93.8 73.9M92.0 76.4L93.8 74.6M92.2 77.9L95.3 77.5M93.3 70.0L91.2 71.0M93.3 70.0L94.4 73.4M94.4 73.4L94.3 73.5M90.8 72.9L91.2 71.0M86.8 69.2L87.6 72.0M86.8 69.2L88.1 67.7M87.6 72.0L89.9 69.7M89.9 69.7L89.3 67.8M88.1 67.7L89.3 67.8M84.6 72.3L84.7 70.3M85.3 69.4L86.8 69.2M87.5 72.8L87.6 72.0M86.1 65.4L88.1 67.7M84.4 65.4L83.6 67.1M90.6 66.0L90.3 67.0M60.2 40.8L59.5 43.2M56.1 41.5L57.8 43.4M59.5 43.2L57.8 43.4M61.4 45.6L60.1 44.2M53.3 43.6L53.2 43.6M53.3 43.6L55.7 45.6M57.8 43.4L55.7 45.6M61.5 45.9L60.8 46.9M60.8 46.9L57.7 47.5M60.1 44.2L56.6 46.5M57.7 47.5L56.6 46.5M55.7 45.6L55.8 45.9M55.8 45.9L56.6 46.5M65.5 49.9L64.5 52.0M65.5 49.9L64.3 48.4M64.3 48.4L62.6 49.6M62.6 49.6L62.8 52.1M64.5 52.0L63.1 52.3M63.1 52.3L62.8 52.1M64.9 52.2L64.5 52.0M67.5 49.1L65.5 49.9M64.0 46.3L64.3 48.4M60.9 47.9L62.6 49.6M63.1 52.7L63.1 52.3M65.1 56.4L64.5 56.7M66.7 65.3L65.9 62.9M65.9 62.9L68.9 62.0M68.9 62.0L67.5 59.6M49.4 77.1L49.3 77.3M48.8 73.7L45.9 73.8M45.9 73.8L45.6 75.2M45.6 75.2L49.3 77.3M53.2 79.9L49.1 77.6M49.1 77.6L49.3 77.3M42.2 77.9L43.5 76.6M42.2 77.9L45.8 79.9M43.5 76.6L44.8 76.6M44.8 76.6L46.0 79.5M41.4 78.5L42.2 77.9M40.4 77.7L42.1 75.2M42.1 75.2L43.5 76.6M45.6 75.2L44.8 76.6M40.9 74.1L41.8 74.5M40.9 74.1L42.0 71.7M41.8 74.5L45.1 72.7M42.0 71.7L43.6 71.4M43.6 71.4L45.0 72.1M45.0 72.1L45.1 72.7M39.7 74.1L40.9 74.1M42.1 75.2L41.8 74.5M39.4 69.7L42.0 71.7M45.9 73.8L45.1 72.7M39.5 69.1L41.1 67.8M46.2 69.2L45.1 67.9M45.7 71.0L45.0 72.1M43.3 52.5L43.1 54.4M42.8 52.2L40.8 52.2M43.1 54.4L42.0 56.1M42.0 56.1L39.9 53.5M40.8 52.2L39.9 53.5M42.0 48.6L42.8 52.2M46.3 51.4L46.0 49.6M46.3 51.4L46.3 51.5M45.9 55.5L43.1 54.4M46.7 52.9L46.3 51.5M29.9 61.3L33.7 59.6M29.9 61.3L29.2 60.0M33.7 59.6L32.3 57.5M32.3 57.5L31.5 57.4M29.3 59.6L29.4 59.1M29.4 59.1L31.5 57.4M29.6 44.8L29.6 45.2M26.1 43.4L27.1 45.5M29.6 45.2L27.1 45.5M32.8 44.9L32.8 45.3M32.8 45.3L29.9 45.5M29.6 45.2L29.9 45.5M23.3 46.0L26.3 47.5M36.6 42.7L34.6 46.4M32.8 45.3L33.8 46.4M34.6 46.4L33.8 46.4M38.1 45.9L35.9 47.2M34.6 46.4L35.9 47.2M20.2 62.8L17.2 64.8M20.2 62.8L20.5 62.8M20.5 62.8L20.9 64.7M20.9 64.7L19.3 66.4M16.3 65.0L17.2 64.8M16.5 59.1L16.5 59.2M16.4 67.9L17.8 68.6M19.4 68.2L19.3 66.4M26.8 59.8L26.0 61.5M22.4 61.5L23.7 62.3M26.0 61.5L23.7 62.3M29.0 63.2L28.2 63.8M29.9 62.0L29.9 61.3M26.0 61.5L28.2 63.8M28.4 66.9L30.1 67.5M28.4 66.9L27.6 64.6M27.6 64.6L28.2 63.8M61.5 77.6L61.8 75.7M61.8 75.7L58.1 76.3M59.0 78.1L57.9 76.8M57.9 76.8L58.1 76.3M62.9 79.6L61.5 77.6M61.8 75.7L61.8 75.7M55.3 77.3L57.9 76.8M63.5 67.9L61.2 69.3M63.5 67.9L61.4 65.5M60.6 65.4L61.4 65.5M60.6 65.4L60.3 68.2M60.3 68.2L61.2 69.3M63.6 67.9L63.5 67.9M65.4 66.4L63.5 63.9M63.5 63.9L61.4 65.5M61.4 61.8L63.8 62.9M60.5 65.3L60.6 65.4M63.5 63.9L63.8 62.9M58.4 67.9L60.3 68.2M49.7 66.9L48.1 65.9M49.7 66.9L48.7 69.1M48.1 65.9L47.1 69.0M50.7 66.7L49.7 66.9M49.8 70.4L48.7 69.1M46.2 69.2L47.1 69.0M39.7 64.3L38.6 64.1M39.8 60.5L39.1 60.7M38.1 64.4L38.5 64.1M38.5 64.1L38.6 64.1M57.8 58.2L58.8 59.6M57.8 58.2L58.8 55.1M60.7 59.6L61.6 56.8M61.0 56.1L59.1 55.0M59.1 55.0L58.8 55.1M62.8 52.1L60.0 51.8M59.1 55.0L60.0 51.8M46.7 52.9L48.8 54.5M48.7 51.3L51.1 53.9M57.2 61.4L54.3 60.0M57.8 58.2L55.5 57.7M55.5 57.7L54.3 60.0M53.6 62.5L54.1 60.1M104.8 8.3L102.6 6.5M101.4 10.2L100.7 10.2M100.7 10.2L100.7 9.9M100.7 9.9L102.6 6.5M24.9 38.2L23.6 37.6M21.5 40.9L21.8 39.3M21.8 39.3L23.6 37.6M23.3 35.9L23.1 36.8M19.4 34.4L19.7 36.5M23.1 36.8L19.7 36.5M23.1 36.8L23.6 37.6M16.2 58.6L13.1 59.0M13.8 62.8L12.4 62.1M12.4 62.1L13.1 59.0M-0.5 50.9L1.2 50.6M-1.7 54.2L-1.0 54.6M1.2 50.6L1.8 52.2M1.8 52.2L1.1 53.7M21.1 64.9L25.0 64.7M21.1 64.9L22.4 67.4M22.4 67.4L24.0 67.3M24.0 67.3L25.0 64.8M25.0 64.8L25.0 64.7M20.9 64.7L21.1 64.9M23.7 62.3L25.0 64.7M20.8 68.7L22.4 67.4M25.2 68.8L24.0 67.3M21.1 70.5L22.2 71.4M26.8 68.7L28.4 66.9M26.8 68.7L25.2 68.8M27.6 64.6L25.0 64.8M29.8 77.4L32.2 76.3M33.5 78.7L32.2 76.3M7.9 63.3L8.3 64.9M8.3 64.9L9.7 65.4M10.8 62.2L10.5 62.0M10.5 64.6L9.7 65.4M5.2 62.6L7.9 63.3M5.2 62.6L6.0 67.1M6.0 67.1L8.3 64.9M9.2 60.0L5.8 60.4M9.2 60.0L9.6 60.3M9.6 60.3L10.5 62.0M9.6 60.3L12.1 58.3M12.4 62.1L10.8 62.2M13.1 59.0L12.1 58.3M12.9 65.9L10.5 64.6M17.7 70.2L14.9 71.5M17.3 73.2L15.0 71.5M17.3 73.2L18.4 72.6M18.7 71.9L18.4 72.6M14.9 71.5L15.0 71.5M16.6 75.4L17.3 73.2M14.4 75.3L14.2 75.1M15.0 71.5L14.2 75.1M11.1 75.4L13.3 74.7M13.3 74.7L14.2 75.1M21.7 74.3L20.2 74.2M21.7 74.3L22.1 75.9M21.0 76.9L19.0 75.5M19.0 75.5L20.2 74.2M18.4 72.6L20.2 74.2M19.6 78.9L21.0 76.9M17.5 76.5L19.0 75.5M27.2 72.3L28.7 72.8M27.2 72.3L27.4 69.5M27.4 69.5L29.1 70.2M26.8 68.7L27.4 69.5M25.9 72.5L27.2 72.3M29.9 69.7L29.1 70.2M30.7 73.4L29.3 73.3M29.3 73.3L28.7 72.8M29.3 73.3L27.7 76.1M29.8 77.4L28.6 77.1M2.4 69.8L1.5 68.4M1.5 68.4L-1.1 68.6M-1.1 68.6L-1.0 69.3M-0.3 71.6L-1.0 69.3M-1.9 74.1L-2.2 73.4M-0.3 71.6L-2.2 73.4M-1.6 63.6L-4.0 64.4M-1.0 65.2L-1.9 67.5M-1.6 63.3L-1.6 63.6M-3.9 68.2L-2.0 67.8M-2.0 67.8L-1.9 67.5M0.5 60.8L-0.9 58.4M0.5 60.8L2.1 59.0M2.1 59.0L2.2 58.6M2.2 58.6L1.4 57.4M1.4 57.4L0.6 57.3M-0.9 58.4L0.6 57.3M0.2 62.0L0.5 60.8M0.2 62.0L-1.1 62.4M-2.7 59.2L-0.9 58.4M2.7 62.8L2.1 59.0M5.2 59.3L2.2 58.6M5.2 59.3L5.3 59.4M3.0 63.0L5.2 62.6M3.9 55.1L3.5 55.3M3.9 55.1L5.2 59.3M3.5 55.3L1.1 53.7M16.9 40.8L16.2 43.2M16.9 40.8L12.4 40.9M16.2 43.2L14.8 43.3M3.9 55.1L4.1 55.0M1.8 52.2L4.0 53.0M4.1 55.0L4.0 53.0M15.7 56.8L13.4 55.9M12.1 58.3L11.6 56.5M11.6 56.5L13.4 55.9M16.5 52.5L15.6 52.0M15.6 52.0L13.4 53.8M13.6 54.5L13.4 53.8M92.6 14.5L91.2 13.1M92.6 14.5L91.8 16.0M91.8 16.0L91.0 16.7M91.0 16.7L89.0 15.0M89.1 19.2L90.7 18.8M90.7 18.8L91.0 16.7M89.0 15.0L87.2 14.6M84.3 13.0L87.2 14.4M87.2 14.4L88.0 11.5M100.7 10.2L100.6 11.0M102.9 13.3L100.6 11.0M96.9 8.9L96.7 11.1M96.9 8.9L100.4 9.8M96.7 11.1L99.0 12.4M100.4 9.8L100.7 9.9M100.6 11.0L99.0 12.4M89.0 23.0L91.2 22.9M88.9 25.2L91.8 25.1M91.8 25.1L91.2 22.9M90.4 28.2L92.7 25.8M90.7 18.8L90.9 19.0M90.9 19.0L92.3 21.5M91.2 22.9L92.3 21.5M94.2 27.1L93.2 25.8M93.2 25.8L92.7 25.8M64.3 18.1L64.6 16.4M64.6 16.4L67.2 15.6M62.7 14.1L62.8 14.1M90.9 -3.2L88.6 -1.3M87.4 -5.0L87.4 -2.2M88.6 -1.3L87.4 -2.2M85.4 2.7L87.8 4.1M85.4 2.7L85.5 1.0M85.5 1.0L88.6 0.1M87.8 4.1L89.9 2.4M88.6 0.1L89.7 1.0M80.4 4.5L82.1 2.7M82.1 2.7L85.4 2.7M87.8 4.4L86.6 7.1M87.8 4.4L87.8 4.1M82.1 2.7L81.7 0.2M81.7 0.2L84.3 -1.0M84.3 -1.0L84.5 -0.8M84.5 -0.8L85.5 1.0M84.5 -0.8L87.4 -2.2M88.6 -1.3L88.6 0.1M87.8 4.4L89.4 5.7M92.4 3.9L92.4 4.0M89.4 5.7L92.4 4.0M93.7 0.7L92.2 3.5M85.7 58.4L86.1 60.8M85.7 58.4L82.8 61.0M84.8 61.5L82.8 61.4M82.8 61.4L82.8 61.0M75.9 63.2L73.7 62.3M75.9 64.6L77.6 66.2M75.9 64.6L75.9 63.2M77.6 66.2L79.6 62.6M78.9 61.9L78.4 61.8M72.1 62.5L73.7 62.3M76.1 59.3L76.3 60.1M72.9 65.7L75.9 64.6M88.3 53.5L88.3 53.5M88.8 55.1L88.3 53.5M86.7 50.4L87.7 53.3M88.3 53.5L87.7 53.3M84.0 53.4L86.4 53.8M83.8 53.7L84.2 56.9M86.4 53.8L86.1 57.5M84.2 56.9L85.9 57.6M85.9 57.6L86.1 57.5M84.1 52.1L84.0 53.4M81.9 53.7L83.8 53.7M87.7 53.3L86.4 53.8M88.0 57.4L86.1 57.5M85.7 58.4L85.9 57.6M75.3 68.2L76.8 68.0M77.0 71.3L76.8 68.0M77.2 74.2L77.8 72.1M77.0 71.3L77.8 72.1M77.6 66.2L77.6 67.5M77.6 67.5L76.8 68.0M93.6 68.7L93.4 69.8M93.6 68.7L93.7 68.6M93.4 69.8L96.7 71.3M97.6 70.1L97.1 71.1M96.7 71.3L97.1 71.1M90.3 67.0L93.6 68.7M93.3 70.0L93.4 69.8M94.1 65.4L94.6 67.3M94.6 67.3L93.7 68.6M98.8 69.5L98.0 69.6M98.8 69.5L100.3 67.9M98.0 69.6L96.8 67.4M100.3 67.9L98.9 65.0M96.8 67.4L98.2 64.9M98.9 65.0L98.2 64.9M101.7 72.2L98.8 69.5M97.6 70.1L98.0 69.6M101.1 67.9L100.3 67.9M94.6 67.3L96.8 67.4M99.2 64.8L98.9 65.0M96.9 64.0L98.2 64.9M66.2 59.6L65.2 62.4M66.2 59.6L65.0 58.7M64.2 62.6L65.2 62.4M65.9 62.9L65.2 62.4M67.5 59.6L66.2 59.6M64.5 56.7L65.0 58.7M60.9 59.9L63.4 59.7M63.8 62.9L64.2 62.6M39.9 49.0L39.8 49.1M35.9 47.2L36.4 48.3M36.4 48.3L37.0 48.9M39.8 49.1L37.0 48.9M40.8 52.2L39.8 50.5M39.8 49.1L39.8 50.5M32.3 57.5L34.0 55.0M31.5 57.4L29.8 55.0M29.8 55.0L33.2 53.6M34.0 55.0L33.2 53.6M39.9 53.5L37.9 54.1M39.8 50.5L37.2 52.2M37.9 54.1L37.2 52.2M36.7 51.8L37.2 52.2M26.3 47.5L26.6 48.2M32.5 48.4L33.5 51.0M32.5 48.4L29.7 48.7M29.7 48.7L29.7 51.3M33.5 51.0L33.5 51.9M33.5 51.9L33.3 52.2M33.8 46.4L32.5 48.4M36.4 48.3L33.5 51.0M29.5 48.5L29.7 48.7M36.7 51.8L33.5 51.9M36.0 59.3L34.7 60.0M37.3 60.3L37.5 62.5M37.5 62.5L34.5 62.5M34.5 62.5L34.7 60.0M39.1 60.7L37.3 60.3M38.5 64.1L37.5 62.5M33.7 59.6L34.7 60.0M50.4 47.5L50.4 47.6M48.7 51.3L50.2 50.2M50.4 47.6L50.2 50.2M53.3 43.6L52.7 48.1M50.4 47.6L52.7 48.1M55.8 45.9L53.8 48.6M52.7 48.1L53.8 48.6M55.5 57.7L55.4 57.3M52.0 59.3L54.1 60.1M52.9 56.6L55.4 57.3M58.8 55.1L56.0 54.5M55.4 57.3L56.0 54.5M56.3 52.7L59.6 51.4M56.3 52.7L55.9 50.2M57.4 49.6L55.9 50.2M57.4 49.6L59.6 51.3M59.6 51.3L59.6 51.4M60.0 51.8L59.6 51.4M56.0 54.5L55.6 54.1M55.6 54.1L56.3 52.7M57.7 47.5L57.4 49.6M48.0 57.6L50.9 59.7M48.0 57.6L48.2 57.3M50.8 56.1L51.5 59.4M50.9 59.7L51.5 59.4M50.4 61.1L50.9 59.7M47.8 57.6L48.0 57.6M48.8 54.5L48.2 57.3M52.0 54.7L52.1 54.1M52.0 54.7L50.8 56.1M52.0 59.3L51.5 59.4M19.7 36.7L19.7 37.1M19.7 36.7L17.2 37.3M19.7 37.1L18.7 40.4M17.2 37.3L16.2 38.7M16.2 38.7L17.2 40.5M17.2 40.5L18.7 40.4M21.8 39.3L19.7 37.1M16.2 35.7L17.2 37.3M20.1 41.4L18.7 40.4M12.1 40.8L12.4 40.9M16.9 40.8L17.2 40.5M5.3 59.4L5.3 59.4M5.3 59.4L9.0 57.6M5.6 67.2L2.2 64.9M5.6 67.2L1.9 67.7M1.9 67.7L1.8 65.3M2.2 64.9L1.8 65.3M3.0 63.0L2.2 64.9M6.0 67.1L6.0 67.3M6.0 67.3L5.6 67.2M4.9 70.8L6.3 67.9M6.3 67.9L6.0 67.3M1.5 68.4L1.9 67.7M-2.0 67.8L-1.1 68.6M-1.0 65.2L1.8 65.3M14.1 70.2L11.4 68.2M14.1 70.2L14.2 70.8M14.2 70.8L12.1 72.2M11.6 72.2L12.1 72.2M11.6 72.2L9.9 71.3M9.9 71.3L9.7 70.4M9.7 70.4L9.7 68.6M11.4 68.2L9.9 68.4M9.9 68.4L9.7 68.6M12.8 66.5L11.4 68.2M15.5 68.4L14.1 70.2M14.9 71.5L14.2 70.8M13.3 74.7L12.1 72.2M10.7 74.5L11.6 72.2M8.6 72.8L9.9 71.3M5.1 71.5L9.7 70.4M25.3 73.9L25.8 76.0M27.7 76.1L25.9 76.1M22.1 75.9L22.2 76.0M25.8 76.0L22.2 76.0M22.2 76.0L23.5 78.7M-2.4 73.2L-2.9 71.5M-2.4 73.2L-4.6 73.2M-1.0 69.3L-2.9 71.5M-2.2 73.4L-2.4 73.2M10.6 42.2L10.3 42.9M15.2 48.4L17.9 48.1M15.2 48.4L14.8 46.4M14.8 46.4L17.3 44.6M18.2 47.6L17.9 48.1M18.2 47.6L18.2 44.9M18.2 44.9L17.3 44.6M14.0 49.9L15.6 52.0M18.6 49.9L17.9 48.1M16.2 43.2L17.3 44.6M13.9 45.6L14.8 46.4M19.4 47.6L18.2 47.6M19.3 44.4L18.2 44.9M88.1 11.5L90.0 7.8M90.7 11.7L92.5 9.8M91.2 8.0L90.1 7.8M91.2 8.0L92.5 9.1M92.5 9.8L92.5 9.1M90.0 7.8L90.1 7.8M88.0 11.5L88.1 11.5M91.2 13.1L90.7 11.7M87.0 7.9L90.0 7.8M92.6 14.5L94.7 14.0M94.7 14.0L94.9 12.3M94.9 12.3L92.5 9.8M89.4 5.7L90.1 7.8M91.8 16.0L94.1 17.2M90.9 19.0L94.1 18.4M94.1 17.2L94.1 18.4M102.5 19.8L99.4 18.2M100.7 21.6L98.8 20.2M98.8 20.2L98.7 19.7M102.9 13.3L101.3 15.5M99.0 12.4L99.0 12.5M99.0 12.5L101.3 15.5M103.6 17.4L101.2 15.9M101.2 15.9L101.3 15.5M70.8 15.0L68.5 12.9M67.2 15.6L67.1 14.3M67.1 14.3L68.5 12.9M71.0 11.5L68.8 11.5M68.5 12.9L68.8 11.5M68.9 7.7L68.2 10.6M68.2 10.6L68.8 11.5M93.9 4.6L93.5 8.5M93.9 4.6L94.6 4.6M93.5 8.5L96.6 8.1M96.6 8.1L97.0 7.1M97.0 7.1L96.9 6.8M92.5 9.1L93.5 8.5M96.9 8.9L96.6 8.1M96.7 11.1L94.9 12.3M100.4 9.8L99.0 6.6M99.0 6.6L97.0 7.1M96.4 0.9L96.5 2.7M96.4 0.9L99.0 1.0M99.0 1.0L99.0 3.8M97.6 3.7L99.0 3.8M94.6 4.6L96.5 2.7M100.7 -0.2L100.3 0.6M100.3 0.6L99.0 1.0M96.9 6.8L97.6 3.7M103.9 3.6L101.2 2.2M103.9 3.6L102.5 6.3M101.2 2.2L99.5 4.1M102.5 6.3L100.2 5.8M100.2 5.8L99.5 4.1M100.3 0.6L101.2 2.2M99.0 3.8L99.5 4.1M99.0 6.6L100.2 5.8M79.1 2.2L80.0 0.7M81.7 0.2L81.0 -0.0M80.0 0.7L81.0 -0.0M76.7 -2.4L77.8 -2.1M78.1 -6.6L79.3 -2.6M77.8 -2.1L79.3 -2.6M77.8 -2.1L77.8 -0.5M80.7 65.6L79.8 62.7M79.8 62.7L82.0 62.5M84.0 64.9L82.0 62.5M79.6 62.6L79.8 62.7M77.6 67.5L80.5 68.6M80.5 68.6L80.7 65.6M84.1 65.0L84.0 64.9M82.8 61.4L82.0 62.5M79.9 58.5L81.4 57.2M82.7 57.4L82.7 60.6M77.5 57.1L79.9 58.5M80.6 55.2L81.4 57.2M82.8 61.0L82.7 60.6M84.2 56.9L82.7 57.4M81.0 71.4L84.1 70.2M84.1 70.2L81.0 68.5M81.0 68.5L80.5 68.6M81.3 72.0L81.0 71.4M77.8 72.1L80.5 70.8M80.5 68.6L80.5 68.6M83.6 67.1L81.0 68.5M34.2 55.1L37.7 54.5M34.2 55.1L36.3 58.8M37.7 54.5L38.4 56.9M36.3 58.8L38.4 56.9M34.0 55.0L34.2 55.1M37.9 54.1L37.7 54.5M33.2 53.6L33.3 52.2M36.0 59.3L36.3 58.8M40.3 57.5L38.4 56.9M26.1 49.2L26.2 50.9M26.1 49.2L22.8 49.4M26.2 50.9L22.8 51.2M22.8 49.4L22.6 50.8M22.6 50.8L22.8 51.2M22.4 48.6L22.8 49.4M26.6 48.2L26.1 49.2M20.7 50.9L22.6 50.8M22.9 54.0L22.8 51.2M26.4 51.4L28.5 52.4M28.5 52.4L28.7 54.8M28.7 54.8L28.3 55.2M23.1 54.0L24.6 53.6M26.2 50.9L26.4 51.4M29.7 51.3L28.5 52.4M29.8 55.0L28.7 54.8M29.4 59.1L28.3 55.2M51.9 51.1L53.9 49.0M53.5 53.6L52.5 53.8M53.5 53.6L54.8 49.9M54.8 49.9L53.9 49.0M50.2 50.2L51.9 51.1M53.8 48.6L53.9 49.0M52.1 54.1L52.5 53.8M55.6 54.1L53.5 53.6M55.9 50.2L54.8 49.9M9.0 57.3L7.2 55.7M11.6 56.5L10.7 54.0M10.7 54.0L7.6 54.6M7.6 54.6L7.1 55.4M7.1 55.4L7.2 55.7M5.3 59.4L7.2 55.7M9.0 57.6L9.0 57.3M11.6 56.5L11.6 56.5M11.2 53.0L13.4 53.8M11.2 53.0L10.7 54.0M4.1 55.0L7.1 55.4M4.7 52.0L4.0 53.0M4.7 52.0L6.8 51.7M6.8 51.7L7.2 52.1M7.2 52.1L7.6 54.6M25.9 76.1L25.2 78.4M14.0 49.9L13.8 49.9M11.2 53.0L11.1 51.5M13.8 49.9L11.1 51.5M7.2 52.1L10.8 51.3M11.1 51.5L10.8 51.3M5.2 48.6L4.7 45.5M4.7 45.5L1.7 48.1M3.3 49.4L2.2 49.3M2.2 49.3L1.7 48.1M4.7 52.0L3.3 49.4M6.8 51.7L7.0 49.0M7.0 49.0L5.2 48.6M1.2 50.6L2.2 49.3M7.5 47.9L10.5 45.5M7.3 48.8L9.4 49.2M9.4 49.2L11.2 46.9M11.2 46.9L11.1 46.1M11.1 46.1L10.5 45.5M7.0 49.0L7.3 48.8M10.8 51.3L9.4 49.2M13.9 45.6L11.1 46.1M10.3 42.9L9.8 43.7M9.8 43.7L10.5 45.5M7.4 47.3L7.5 43.9M6.5 43.6L7.5 43.9M6.5 43.6L4.7 45.0M4.7 45.0L4.7 45.3M4.7 45.5L4.7 45.3M7.5 47.9L7.4 47.3M9.8 43.7L7.5 43.9M5.8 42.1L6.5 43.6M2.6 44.3L4.7 45.0M97.2 22.1L95.1 20.5M97.2 22.1L97.2 23.7M97.0 23.8L97.2 23.7M97.0 23.8L94.6 23.9M94.6 23.9L93.5 21.8M93.5 21.8L95.1 20.5M98.8 20.2L97.2 22.1M98.7 19.7L95.8 18.9M95.3 19.2L95.8 18.9M95.3 19.2L95.1 20.5M100.3 24.0L97.2 23.7M97.2 27.7L97.0 23.8M93.2 25.8L94.6 23.9M98.0 13.9L99.6 16.9M98.0 13.9L95.5 14.9M95.5 14.9L95.6 15.0M99.5 17.0L99.6 16.9M99.0 12.5L98.0 13.9M101.2 15.9L99.6 16.9M94.7 14.0L95.5 14.9M94.1 17.2L95.6 15.0M95.8 18.9L96.7 16.5M99.4 18.2L99.5 17.0M65.3 13.2L65.9 10.6M65.3 13.2L62.9 13.9M62.9 11.9L62.9 13.9M62.9 11.9L64.2 9.4M67.1 14.3L65.3 13.2M68.2 10.6L65.9 10.6M62.8 14.1L62.9 13.9M60.5 10.5L62.9 11.9M63.8 8.4L64.2 9.4M79.4 -2.6L79.8 -2.2M79.4 -2.6L81.1 -4.2M79.8 -2.2L84.0 -2.1M81.1 -4.2L84.0 -2.8M84.0 -2.8L84.0 -2.1M81.0 -0.0L79.8 -2.2" fill="none" stroke="#d27cb8" stroke-width="0.8"/>
<path d="M22.8 19.6h0.01M69.8 41.0h0.01M72.0 73.4h0.01M2.1 11.8h0.01M45.7 34.6h0.01M41.3 11.5h0.01M37.8 32.3h0.01M58.9 20.5h0.01M92.4 35.3h0.01M92.0 37.9h0.01M100.2 49.1h0.01M76.8 37.5h0.01M84.4 38.7h0.01M80.5 38.1h0.01M68.5 73.7h0.01M5.9 34.2h0.01M11.6 16.0h0.01M11.2 21.3h0.01M10.2 0.9h0.01M15.1 3.5h0.01M19.7 11.0h0.01M47.3 27.9h0.01M44.6 35.5h0.01M51.1 10.2h0.01M32.7 10.3h0.01M52.6 15.3h0.01M42.7 22.8h0.01M40.3 26.1h0.01M41.5 28.8h0.01M38.0 27.7h0.01M49.0 35.4h0.01M57.6 35.5h0.01M82.2 21.9h0.01M68.4 38.9h0.01M66.5 35.9h0.01M69.2 66.2h0.01M90.7 49.1h0.01M83.8 48.3h0.01M81.2 41.3h0.01M81.8 39.1h0.01M68.2 45.0h0.01M42.6 67.6h0.01M43.3 43.5h0.01M50.4 47.5h0.01M0.8 20.0h0.01M25.4 33.4h0.01M28.6 32.9h0.01M17.7 24.7h0.01M17.7 21.4h0.01M25.4 31.5h0.01M29.0 27.6h0.01M21.7 27.9h0.01M6.7 35.9h0.01M0.7 33.5h0.01M2.3 36.5h0.01M4.6 4.8h0.01M3.8 2.0h0.01M45.7 6.3h0.01M23.6 4.6h0.01M20.7 3.7h0.01M25.5 0.7h0.01M71.5 5.6h0.01M89.0 26.7h0.01M86.8 27.7h0.01M48.5 13.9h0.01M46.7 10.1h0.01M44.8 16.0h0.01M33.8 31.9h0.01M25.4 22.3h0.01M2.4 43.3h0.01M72.8 50.4h0.01M58.6 36.4h0.01M56.1 41.5h0.01M62.7 43.5h0.01M65.0 40.6h0.01M45.7 34.8h0.01M50.5 39.6h0.01M79.2 11.6h0.01M82.4 14.5h0.01M60.1 7.3h0.01M71.5 9.4h0.01M74.7 55.1h0.01M81.1 48.3h0.01M79.0 50.4h0.01M72.4 37.4h0.01M81.8 43.7h0.01M95.6 55.0h0.01M57.5 71.0h0.01M16.4 28.1h0.01M13.0 29.4h0.01M9.0 27.3h0.01M4.1 30.0h0.01M33.3 25.7h0.01M32.6 9.4h0.01M60.6 4.2h0.01M66.3 0.9h0.01M64.8 5.1h0.01M47.9 24.3h0.01M57.4 27.6h0.01M35.0 37.6h0.01M31.1 37.9h0.01M52.3 73.6h0.01M48.8 73.7h0.01M18.8 34.0h0.01M19.4 34.4h0.01M3.9 41.7h0.01M22.9 54.0h0.01M38.1 64.4h0.01M70.8 47.7h0.01M71.2 48.4h0.01M61.1 40.4h0.01M64.6 39.7h0.01M82.9 6.6h0.01M76.1 22.0h0.01M60.3 20.4h0.01M62.7 14.1h0.01M99.3 34.8h0.01M68.2 27.8h0.01M84.1 52.1h0.01M92.7 41.9h0.01M83.6 67.1h0.01M87.8 73.0h0.01M61.4 45.6h0.01M66.7 56.5h0.01M45.9 73.8h0.01M31.1 41.7h0.01M29.3 59.6h0.01M26.6 56.7h0.01M25.1 58.2h0.01M60.4 63.2h0.01M61.0 56.1h0.01M41.7 61.7h0.01M45.0 57.9h0.01M44.9 60.9h0.01M47.3 61.4h0.01M16.9 29.9h0.01M26.2 22.3h0.01M29.9 20.8h0.01M57.0 3.5h0.01M54.2 5.3h0.01M29.2 33.5h0.01M40.9 15.6h0.01M35.0 18.1h0.01M20.1 41.4h0.01M3.9 55.1h0.01M1.1 45.4h0.01M21.0 59.6h0.01M33.6 63.5h0.01M4.9 70.8h0.01M22.0 73.8h0.01M16.5 52.5h0.01M15.6 52.0h0.01M62.8 18.1h0.01M93.7 0.7h0.01M97.0 74.6h0.01M60.9 47.9h0.01M31.5 57.4h0.01M29.6 45.2h0.01M26.3 47.5h0.01M60.6 65.4h0.01M39.1 60.7h0.01M19.7 36.5h0.01M9.6 60.3h0.01M3.0 63.0h0.01M20.2 74.2h0.01M28.7 72.8h0.01M87.2 14.6h0.01M99.0 12.4h0.01M85.4 2.7h0.01M82.8 61.0h0.01M84.0 53.4h0.01M77.6 67.5h0.01M63.4 59.7h0.01M65.2 62.4h0.01M37.2 52.2h0.01M34.5 62.5h0.01M34.7 60.0h0.01M50.4 47.6h0.01M14.2 70.8h0.01M9.7 70.4h0.01M7.2 52.1h0.01M7.0 49.0h0.01M94.1 17.2h0.01M96.6 8.1h0.01M96.5 2.7h0.01M82.7 57.4h0.01M81.0 68.5h0.01M37.7 54.5h0.01M38.4 56.9h0.01M24.6 53.6h0.01M28.7 54.8h0.01M3.3 49.4h0.01M2.2 49.3h0.01" fill="none" stroke="#944c80" stroke-opacity="0.5" stroke-width="1.3" stroke-linecap="round"/></g>
<g filter="url(#bl2)" fill="#eab4d2" opacity="0.8"><ellipse cx="9" cy="11" rx="9" ry="9"/><ellipse cx="3" cy="5" rx="5" ry="8"/></g>
<g filter="url(#bl)" fill="#bc2e72"><ellipse cx="10.5" cy="70" rx="3" ry="2.5"/><ellipse cx="82" cy="70" rx="2.5" ry="2"/><ellipse cx="96" cy="66" rx="2" ry="3"/><ellipse cx="66" cy="58" rx="3.5" ry="1.8"/><ellipse cx="43" cy="20" rx="2" ry="1.5"/></g>
<ellipse cx="11.4" cy="9.4" rx="4.2" ry="2.3" transform="rotate(40 11.4 9.4)" fill="#f6e2ee" stroke="#8e1a52" stroke-width="1.2"/>
<circle cx="14.8" cy="20.2" r="2.6" fill="#f6e2ee" stroke="#8e1a52" stroke-width="1.1"/>
<path d="M21.5,18.8 C25,18.2 28,18 31,18.2 C35,18.8 39,19.8 43,20.9 C46,22.2 49,23.8 51.1,25.6 C53.5,28 56,31 57.9,33.6 C60,36.5 62,39 63.3,41.7 C65,44.5 66,47 66.6,49.8 C67.2,52 67.4,54 67.3,55.2 C66.5,56.5 65.5,57.2 64.6,57.2 C61.5,56 59,55 56.5,53.8 C54,52 52,50.2 49.8,48.5 C46.5,46 43.5,43.8 40.4,41.7 C37,39.5 34,37 31,35 C27.5,33.5 24.5,32 21.5,31 C19.5,30.3 18.2,29.3 17.5,28.3 C17.8,26.5 18.8,25 20.2,23.6 C20.6,22 21,20.3 21.5,18.8 Z" fill="none" stroke="#d65a98" stroke-width="4" opacity="0.75" filter="url(#bl)"/>
<path d="M21.5,18.8 C25,18.2 28,18 31,18.2 C35,18.8 39,19.8 43,20.9 C46,22.2 49,23.8 51.1,25.6 C53.5,28 56,31 57.9,33.6 C60,36.5 62,39 63.3,41.7 C65,44.5 66,47 66.6,49.8 C67.2,52 67.4,54 67.3,55.2 C66.5,56.5 65.5,57.2 64.6,57.2 C61.5,56 59,55 56.5,53.8 C54,52 52,50.2 49.8,48.5 C46.5,46 43.5,43.8 40.4,41.7 C37,39.5 34,37 31,35 C27.5,33.5 24.5,32 21.5,31 C19.5,30.3 18.2,29.3 17.5,28.3 C17.8,26.5 18.8,25 20.2,23.6 C20.6,22 21,20.3 21.5,18.8 Z" fill="#fdf7fa" stroke="#8a1650" stroke-width="1.4"/>
<path d="M58,72 C60,67 65,65 70,67 C71.5,70 70.5,74 68,76 L58,76 Z" fill="#fbf2f7" stroke="#cc5a90" stroke-width="0.8"/>
</g>
<circle cx="369.0" cy="481.8" r="2.55" fill="#f3dc9c" fill-opacity="0.5" stroke="#d3a23c" stroke-width="1.1"/>
<text x="375.3" y="484.5" font-size="7.5" text-anchor="start" font-weight="normal" fill="#333333" stroke="#333333" stroke-width="0.22" >BM only</text>
<circle cx="369.0" cy="498.2" r="2.75" fill="#b01338" stroke="#8e0e30" stroke-width="0.6"/>
<text x="375.3" y="500.9" font-size="7.5" text-anchor="start" font-weight="normal" fill="#333333" stroke="#333333" stroke-width="0.22" >WT BM + WT T cell</text>
<path d="M369.0,510.9L372.6,517.4L365.4,517.4Z" fill="#482670"/>
<text x="375.3" y="517.5" font-size="7.5" text-anchor="start" font-weight="normal" fill="#333333" stroke="#333333" stroke-width="0.22" >WT BM + KO T cell</text>
<path d="M369.0,527.6L372.8,531.4L369.0,535.1L365.2,531.4Z" fill="#5ea63c" stroke="#4e8e32" stroke-width="0.5"/>
<text x="375.3" y="534.1" font-size="7.5" text-anchor="start" font-weight="normal" fill="#333333" stroke="#333333" stroke-width="0.22" >KO BM + WT T cell</text>
<rect x="366.0" y="545.0" width="6.0" height="6.0" fill="#2c4577"/>
<text x="375.3" y="550.7" font-size="7.5" text-anchor="start" font-weight="normal" fill="#333333" stroke="#333333" stroke-width="0.22" >KO BM + KO T cell</text>
</svg>
</body></html>
